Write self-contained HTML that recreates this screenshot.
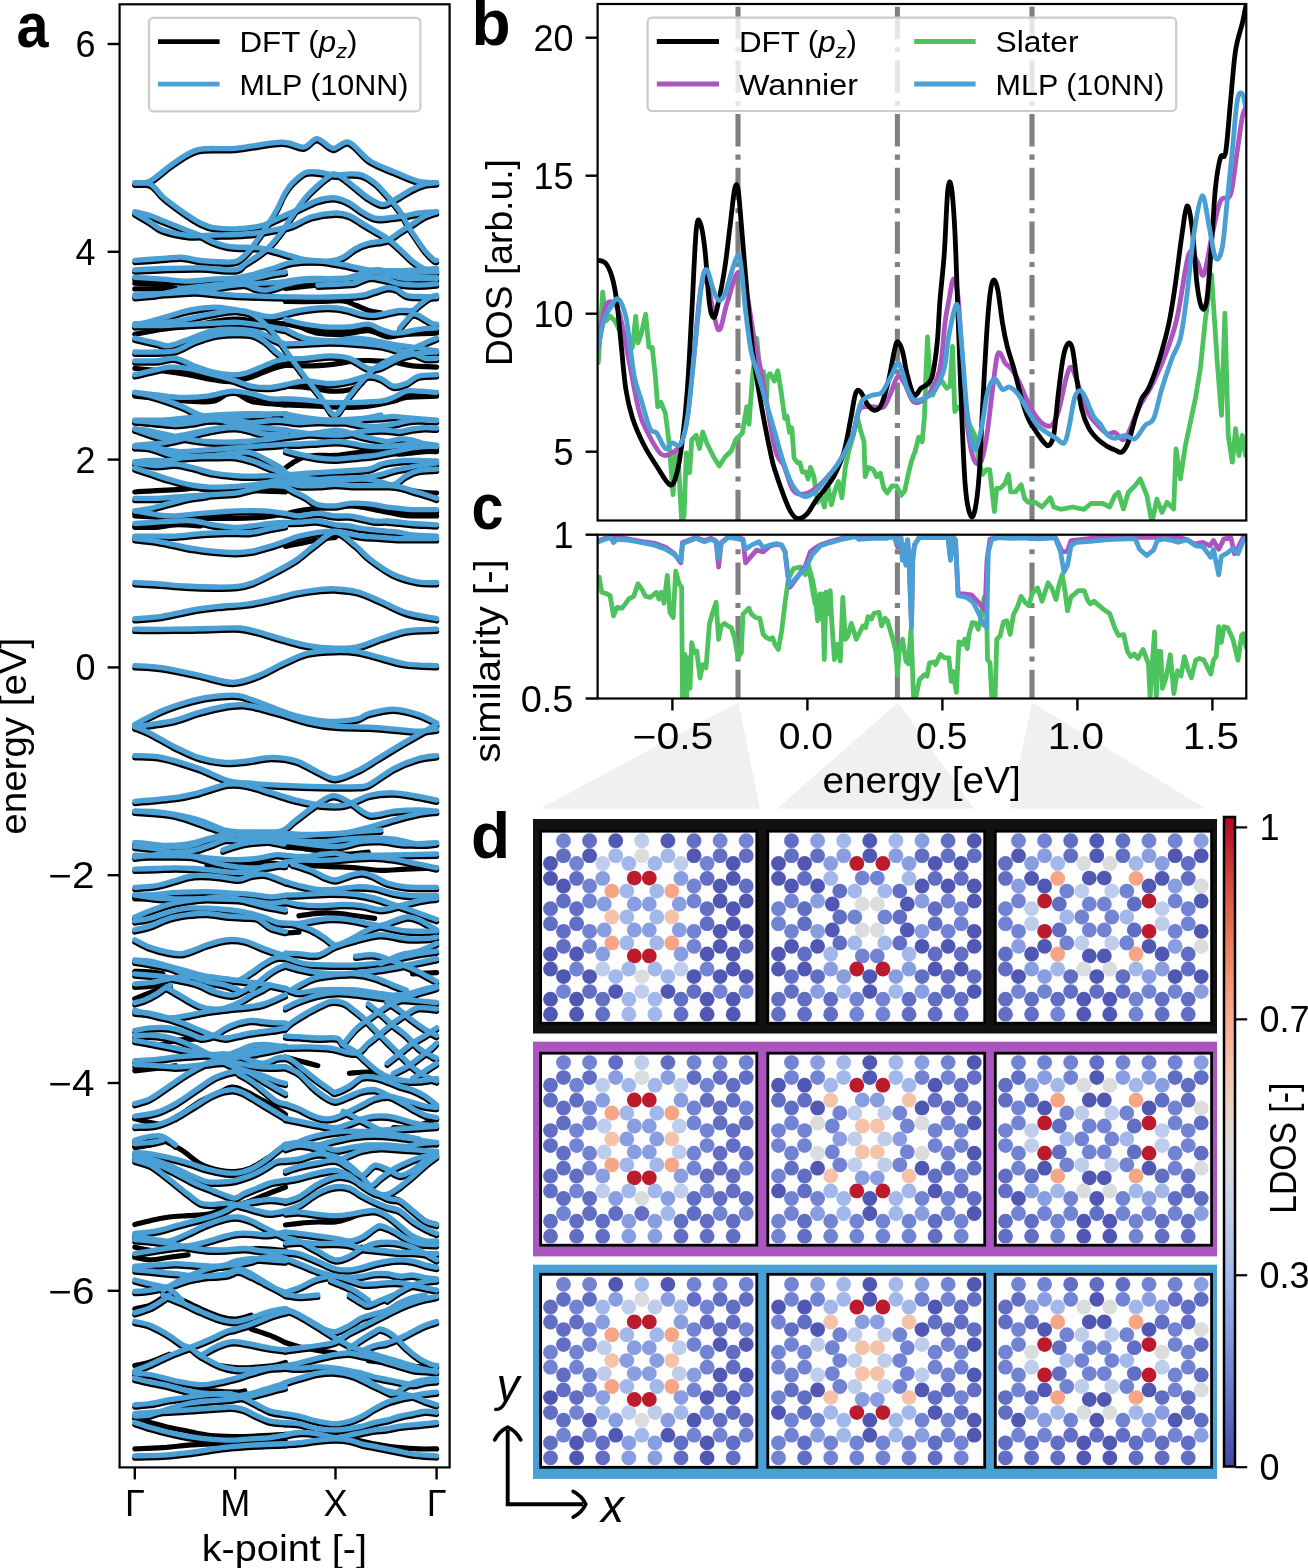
<!DOCTYPE html>
<html><head><meta charset="utf-8"><style>
html,body{margin:0;padding:0;background:#fff;}
svg{display:block;will-change:transform;}
text{font-family:"Liberation Sans", sans-serif;-webkit-font-smoothing:antialiased;}
</style></head><body>
<svg width="1308" height="1568" viewBox="0 0 1308 1568" font-family='"Liberation Sans", sans-serif'><polygon points="738.4,702.2 540.3,808.4 759.8,808.4" fill="#f0f0f0"/>
<polygon points="898.0,702.5 777.2,808.4 973.8,808.4" fill="#f0f0f0"/>
<polygon points="1032.0,702.5 1009.7,808.4 1205.6,808.4" fill="#f0f0f0"/>
<g clip-path="url(#clipA)" fill="none" stroke-linecap="round" stroke-linejoin="round">
<path d="M134.8,184.9 C137.2,184.7 143.0,187.0 149.5,183.7 C156.0,180.4 165.8,170.6 173.9,165.3 C182.1,160.0 188.2,154.3 198.4,151.9 C208.6,149.5 221.2,151.8 235.1,150.6 C249.0,149.4 270.2,144.7 281.6,144.5 C293.0,144.3 297.7,150.0 303.6,149.4 C309.5,148.8 312.1,140.7 317.0,140.9 C321.9,141.1 327.7,150.0 333.0,150.6 C338.3,151.2 342.8,142.4 348.9,144.5 C355.0,146.6 362.2,158.0 369.7,162.9 C377.2,167.8 386.0,170.4 394.1,173.9 C402.2,177.4 411.5,181.9 418.6,183.7 C425.7,185.5 433.7,184.7 436.7,184.9" stroke="#000" stroke-width="5.2"/>
<path d="M134.8,185.3 C137.4,185.5 145.5,184.0 150.2,186.3 C154.9,188.6 158.6,195.1 162.8,198.9 C167.0,202.7 171.3,205.8 175.5,209.0 C179.7,212.2 183.9,215.1 188.1,217.8 C192.3,220.5 196.5,223.4 200.7,225.4 C204.9,227.4 207.6,228.9 213.3,229.8 C219.1,230.8 228.9,231.1 235.2,231.1 C241.5,231.1 246.4,230.4 251.2,229.8 C256.0,229.2 259.6,228.7 263.8,227.3 C268.0,225.9 272.0,223.6 276.4,221.6 C280.8,219.6 286.2,217.0 290.0,215.3 C293.8,213.6 294.3,213.4 298.9,211.3 C303.5,209.2 311.7,204.6 317.8,202.7 C323.9,200.8 330.2,199.7 335.5,200.1 C340.8,200.5 345.0,202.9 349.4,205.2 C353.8,207.5 357.8,211.5 362.0,214.0 C366.2,216.5 370.4,219.2 374.6,220.3 C378.8,221.4 381.9,220.7 387.2,220.3 C392.5,219.9 400.9,218.6 406.2,217.8 C411.5,217.0 413.7,215.9 418.8,215.3 C423.9,214.7 433.6,214.2 436.6,214.0" stroke="#000" stroke-width="5.2"/>
<path d="M134.8,262.6 C139.5,262.3 155.0,261.2 162.8,260.7 C170.6,260.2 175.5,259.1 181.8,259.4 C188.1,259.8 193.5,262.0 200.7,262.8 C207.9,263.6 218.9,264.2 225.0,264.3 C231.1,264.4 233.7,264.5 237.0,263.3 C240.3,262.1 242.6,259.4 245.0,257.3 C247.4,255.2 248.1,254.7 251.2,250.6 C254.3,246.5 259.6,239.2 263.8,232.9 C268.0,226.6 272.9,219.1 276.4,212.8 C279.9,206.5 282.3,199.9 285.0,195.3 C287.7,190.7 289.2,188.4 292.6,185.0 C296.0,181.6 301.0,176.7 305.2,174.9 C309.4,173.1 312.8,173.9 317.8,174.3 C322.9,174.7 330.2,177.1 335.5,177.4 C340.8,177.7 345.0,176.2 349.4,176.2 C353.8,176.2 357.8,175.9 362.0,177.4 C366.2,178.9 370.8,182.1 374.6,185.0 C378.4,187.9 381.6,191.7 384.7,195.1 C387.8,198.5 390.8,201.8 393.5,205.2 C396.2,208.6 398.6,211.3 401.1,215.3 C403.6,219.3 406.2,225.0 408.7,229.2 C411.2,233.4 413.5,236.5 416.2,240.5 C418.9,244.5 422.2,249.5 425.1,253.1 C428.1,256.7 432.0,260.4 433.9,262.0 C435.8,263.6 436.2,262.5 436.6,262.6" stroke="#000" stroke-width="5.2"/>
<path d="M134.7,272.1 C139.4,271.9 151.8,271.1 162.8,270.8 C173.8,270.5 188.6,270.0 200.7,270.2 C212.8,270.4 227.8,272.8 235.2,272.1 C242.5,271.5 241.1,268.6 244.8,266.3 C248.5,264.0 253.3,261.2 257.5,258.2 C261.7,255.2 265.9,252.3 270.1,248.1 C274.3,243.9 279.4,237.3 282.7,232.9 C286.0,228.5 286.2,227.1 290.0,221.6 C293.8,216.1 300.6,205.8 305.2,200.1 C309.8,194.4 313.6,191.3 317.8,187.5 C322.0,183.7 327.6,179.3 330.5,177.4 C333.4,175.5 333.4,175.9 335.5,176.3 C337.6,176.7 339.7,177.7 343.1,180.0 C346.5,182.3 351.5,186.8 355.7,190.1 C359.9,193.5 364.1,197.4 368.3,200.1 C372.5,202.8 377.5,205.7 380.9,206.5 C384.3,207.3 385.4,206.5 388.5,205.2 C391.6,203.9 395.8,201.2 399.8,198.9 C403.8,196.6 408.3,193.4 412.5,191.3 C416.7,189.2 421.1,187.4 425.1,186.3 C429.1,185.2 434.7,185.2 436.6,185.0" stroke="#000" stroke-width="5.2"/>
<path d="M134.8,214.0 C137.4,214.6 145.5,216.3 150.2,217.8 C154.9,219.3 158.6,221.2 162.8,222.9 C167.0,224.6 171.3,226.2 175.5,227.9 C179.7,229.6 183.9,231.2 188.1,232.9 C192.3,234.6 196.5,236.1 200.7,238.0 C204.9,239.9 209.1,242.6 213.3,244.3 C217.5,246.0 222.2,247.3 225.9,248.1 C229.6,248.9 231.0,249.0 235.2,249.3 C239.4,249.6 246.4,249.6 251.2,249.8 C256.0,250.1 259.6,250.1 263.8,250.8 C268.0,251.5 272.0,252.6 276.4,253.8 C280.8,255.0 285.2,256.4 290.0,257.8 C294.8,259.2 298.4,261.1 305.2,262.0 C311.9,262.9 324.2,263.6 330.5,263.2 C336.8,262.8 338.9,261.5 343.1,259.4 C347.3,257.3 351.5,252.9 355.7,250.6 C359.9,248.3 363.1,247.0 368.3,245.6 C373.6,244.2 381.9,244.2 387.2,242.3 C392.4,240.4 395.6,237.0 399.8,234.3 C404.0,231.6 408.3,229.0 412.5,226.3 C416.7,223.6 421.0,220.3 425.0,218.3 C429.0,216.3 434.7,215.0 436.6,214.3" stroke="#000" stroke-width="5.2"/>
<path d="M134.8,215.3 C137.3,216.8 145.3,221.5 150.0,224.3 C154.7,227.1 156.5,230.1 162.8,232.3 C169.2,234.6 179.7,237.0 188.1,237.8 C196.5,238.6 205.5,237.5 213.3,237.3 C221.2,237.1 228.1,237.1 235.2,236.8 C242.3,236.5 249.1,236.2 256.0,235.3 C262.9,234.5 270.3,232.9 276.4,231.7 C282.5,230.5 286.8,230.0 292.6,227.9 C298.5,225.8 304.4,221.2 311.5,219.1 C318.6,217.0 329.2,215.5 335.5,215.3 C341.8,215.1 345.0,216.1 349.4,217.8 C353.8,219.5 357.8,222.9 362.0,225.4 C366.2,227.9 370.4,230.4 374.6,232.9 C378.8,235.4 383.0,237.4 387.2,240.5 C391.4,243.6 395.6,247.5 399.8,251.3 C404.0,255.1 408.3,260.0 412.5,263.3 C416.7,266.6 421.1,269.6 425.1,271.3 C429.1,273.0 434.7,273.0 436.6,273.3" stroke="#000" stroke-width="5.2"/>
<path d="M134.7,279.6 C139.4,279.9 153.9,280.9 162.8,281.5 C171.7,282.1 179.7,283.4 188.1,283.4 C196.5,283.4 205.5,282.0 213.3,281.5 C221.2,281.0 228.9,281.0 235.2,280.3 C241.5,279.6 246.4,278.3 251.2,277.1 C256.0,275.9 259.6,274.6 263.8,273.3 C268.0,272.0 271.6,271.0 276.4,269.5 C281.2,268.0 285.7,265.6 292.6,264.5 C299.5,263.4 309.4,262.8 317.8,263.2 C326.2,263.6 334.7,265.5 343.1,267.0 C351.5,268.5 359.9,271.1 368.3,272.1 C376.7,273.2 385.1,273.3 393.5,273.3 C401.9,273.3 411.6,272.5 418.8,272.1 C426.0,271.7 433.6,271.0 436.6,270.8" stroke="#000" stroke-width="5.2"/>
<path d="M134.7,297.3 C139.4,297.1 151.8,296.6 162.8,296.0 C173.8,295.4 190.2,294.8 200.7,293.5 C211.2,292.2 217.5,289.8 225.9,288.5 C234.3,287.2 242.8,286.5 251.2,285.9 C259.6,285.3 267.4,285.5 276.4,284.7 C285.4,283.9 296.2,281.5 305.2,280.9 C314.2,280.3 323.1,281.1 330.5,280.9 C337.9,280.7 343.1,280.9 349.4,279.6 C355.7,278.3 363.1,274.6 368.3,273.3 C373.6,272.1 376.7,271.3 380.9,272.1 C385.1,272.9 389.3,276.8 393.5,278.3 C397.7,279.8 402.0,280.5 406.2,280.9 C410.4,281.3 413.7,280.9 418.8,280.9 C423.9,280.9 433.6,280.9 436.6,280.9" stroke="#000" stroke-width="5.2"/>
<path d="M134.8,298.8 C138.5,298.5 149.1,298.0 156.5,296.9 C163.9,295.8 171.9,293.7 179.2,292.5 C186.6,291.2 192.9,290.4 200.7,289.3 C208.5,288.3 217.5,287.5 225.9,286.2 C234.3,284.8 243.8,282.7 251.2,281.1 C258.5,279.6 264.3,277.9 270.1,276.7 C275.8,275.6 282.9,274.7 285.5,274.3" stroke="#000" stroke-width="5.2"/>
<path d="M179.2,291.2 C182.8,291.7 192.9,293.4 200.7,294.4 C208.5,295.3 217.5,296.3 225.9,296.9 C234.3,297.5 241.2,297.8 251.2,298.2 C261.1,298.5 279.8,298.9 285.5,299.1" stroke="#000" stroke-width="5.2"/>
<path d="M179.2,291.2 C182.8,290.8 192.9,289.5 200.7,288.7 C208.5,287.9 218.6,286.5 225.9,286.2 C233.3,285.9 238.5,285.8 244.8,286.8 C251.2,287.9 257.0,292.5 263.8,292.5 C270.5,292.5 281.9,287.6 285.5,286.7" stroke="#000" stroke-width="5.2"/>
<path d="M134.8,327.8 C139.5,326.5 154.0,322.8 162.8,320.2 C171.7,317.7 179.7,314.5 188.1,312.7 C196.5,310.9 205.9,309.7 213.3,309.5 C220.7,309.3 225.9,310.5 232.2,311.4 C238.5,312.4 244.8,313.9 251.2,315.2 C257.5,316.5 264.3,318.9 270.1,319.0 C275.8,319.1 282.9,316.4 285.5,315.9" stroke="#000" stroke-width="5.2"/>
<path d="M134.8,327.8 C139.5,327.8 152.9,328.0 162.8,327.8 C172.8,327.6 184.9,327.0 194.4,326.5 C203.8,326.1 212.3,325.6 219.6,325.3 C227.0,325.0 231.2,324.2 238.5,324.7 C245.9,325.1 255.9,326.6 263.8,327.8 C271.6,329.0 281.9,331.1 285.5,331.7" stroke="#000" stroke-width="5.2"/>
<path d="M134.8,340.4 C138.5,341.3 150.8,344.2 156.5,345.5 C162.3,346.7 163.9,348.6 169.2,348.0 C174.4,347.4 180.7,344.2 188.1,341.7 C195.4,339.2 204.9,334.5 213.3,332.9 C221.7,331.2 231.2,331.4 238.5,331.6 C245.9,331.8 251.2,332.2 257.5,334.1 C263.8,336.0 271.7,340.9 276.4,342.9 C281.1,345.0 284.0,345.6 285.5,346.2" stroke="#000" stroke-width="5.2"/>
<path d="M134.8,354.3 C138.5,354.3 149.8,354.5 156.5,354.3 C163.3,354.1 169.2,354.7 175.5,353.0 C181.8,351.4 188.1,346.7 194.4,344.2 C200.7,341.7 207.0,339.3 213.3,337.9 C219.6,336.5 225.9,336.2 232.2,336.0 C238.5,335.8 245.9,335.5 251.2,336.6 C256.4,337.8 259.6,340.0 263.8,342.9 C268.0,345.9 272.8,351.3 276.4,354.3 C280.0,357.3 284.0,359.7 285.5,360.8" stroke="#000" stroke-width="5.2"/>
<path d="M134.8,363.1 C138.5,363.1 149.8,363.5 156.5,363.1 C163.3,362.7 169.2,359.8 175.5,360.6 C181.8,361.4 188.1,365.9 194.4,368.2 C200.7,370.5 207.0,373.0 213.3,374.5 C219.6,376.0 227.0,376.8 232.2,377.0 C237.5,377.2 239.6,377.2 244.8,375.7 C250.1,374.3 258.5,370.3 263.8,368.2 C269.0,366.1 272.8,364.3 276.4,363.1 C280.0,362.0 284.0,361.7 285.5,361.4" stroke="#000" stroke-width="5.2"/>
<path d="M134.8,377.0 C138.5,376.2 150.8,373.2 156.5,372.0 C162.3,370.7 163.9,369.6 169.2,369.4 C174.4,369.2 180.7,369.4 188.1,370.7 C195.4,372.0 205.9,375.1 213.3,377.0 C220.7,378.9 225.9,380.2 232.2,382.1 C238.5,383.9 244.8,387.1 251.2,388.4 C257.5,389.6 264.3,389.9 270.1,389.6 C275.8,389.4 282.9,387.4 285.5,387.0" stroke="#000" stroke-width="5.2"/>
<path d="M134.8,394.7 C138.5,395.1 148.7,396.3 156.5,397.2 C164.4,398.0 173.4,399.5 181.8,399.7 C190.2,399.9 198.6,399.5 207.0,398.5 C215.4,397.4 224.9,393.8 232.2,393.4 C239.6,393.0 244.8,394.7 251.2,395.9 C257.5,397.2 264.3,400.1 270.1,401.0 C275.8,401.8 282.9,401.1 285.5,401.1" stroke="#000" stroke-width="5.2"/>
<path d="M134.8,394.7 C138.5,395.5 148.7,397.4 156.5,399.7 C164.4,402.0 174.4,405.6 181.8,408.5 C189.1,411.5 193.3,414.9 200.7,417.4 C208.0,419.9 217.5,421.8 225.9,423.7 C234.3,425.6 242.7,427.5 251.2,428.7 C259.6,430.0 270.7,430.7 276.4,431.3 C282.1,431.8 284.0,431.8 285.5,431.9" stroke="#000" stroke-width="5.2"/>
<path d="M134.8,422.4 C139.5,422.4 154.0,422.8 162.8,422.4 C171.7,422.0 179.7,420.7 188.1,419.9 C196.5,419.1 204.9,418.0 213.3,417.4 C221.7,416.7 230.1,416.3 238.5,416.1 C246.9,415.9 255.9,416.1 263.8,416.1 C271.6,416.1 281.9,416.0 285.5,416.0" stroke="#000" stroke-width="5.2"/>
<path d="M285.5,286.7 C288.8,286.1 297.7,283.8 305.2,283.0 C312.7,282.2 323.1,282.2 330.5,281.8 C337.8,281.3 344.1,281.3 349.4,280.5 C354.6,279.7 357.8,277.8 362.0,276.7 C366.2,275.7 369.4,274.8 374.6,274.2 C379.9,273.6 387.2,272.9 393.5,272.9 C399.8,272.9 405.3,274.0 412.5,274.2 C419.6,274.4 432.5,274.2 436.6,274.2" stroke="#000" stroke-width="5.2"/>
<path d="M355.7,282.4 C357.8,281.9 363.0,279.2 368.3,279.2 C373.6,279.2 382.0,281.2 387.2,282.4 C392.5,283.5 394.6,285.3 399.8,286.2 C405.1,287.0 412.6,287.4 418.8,287.4 C424.9,287.4 433.6,286.4 436.6,286.2" stroke="#000" stroke-width="5.2"/>
<path d="M317.8,287.4 C322.1,287.2 336.8,286.6 343.1,286.2 C349.4,285.8 351.5,286.0 355.7,284.9 C359.9,283.9 363.0,280.9 368.3,279.9 C373.6,278.8 380.9,279.0 387.2,278.6 C393.5,278.2 400.9,277.2 406.2,277.3 C411.4,277.5 413.7,278.8 418.8,279.2 C423.8,279.7 433.6,279.8 436.6,279.9" stroke="#000" stroke-width="5.2"/>
<path d="M285.5,299.1 C290.9,299.1 308.2,299.5 317.8,299.4 C327.4,299.4 335.7,299.1 343.1,298.8 C350.4,298.5 356.7,298.4 362.0,297.5 C367.3,296.7 370.4,295.0 374.6,293.7 C378.8,292.5 383.7,290.4 387.2,290.0 C390.8,289.5 392.9,290.0 396.1,291.2 C399.2,292.5 402.4,296.3 406.2,297.5 C409.9,298.8 413.7,298.6 418.8,298.8 C423.8,299.0 433.6,298.8 436.6,298.8" stroke="#000" stroke-width="5.2"/>
<path d="M285.5,315.9 C287.7,315.4 293.5,313.6 298.9,312.7 C304.3,311.7 311.5,310.6 317.8,310.1 C324.2,309.7 331.5,309.7 336.8,310.1 C342.0,310.6 345.2,311.6 349.4,312.7 C353.6,313.7 357.8,315.6 362.0,316.5 C366.2,317.3 370.4,317.9 374.6,317.7 C378.8,317.5 383.0,316.0 387.2,315.2 C391.4,314.4 395.6,313.1 399.8,312.7 C404.0,312.2 409.3,313.5 412.5,312.7 C415.6,311.8 416.0,309.7 418.8,307.6 C421.5,305.5 425.9,301.7 428.9,300.1 C431.8,298.4 435.3,298.0 436.6,297.5" stroke="#000" stroke-width="5.2"/>
<path d="M285.5,321.7 C287.7,322.3 292.5,324.1 298.9,325.3 C305.4,326.5 315.7,328.4 324.2,329.1 C332.6,329.7 342.0,329.5 349.4,329.1 C356.7,328.6 363.0,326.1 368.3,326.5 C373.6,327.0 376.7,330.1 380.9,331.6 C385.1,333.1 389.3,335.0 393.5,335.4 C397.7,335.8 401.9,334.7 406.2,334.1 C410.4,333.5 413.7,332.2 418.8,331.6 C423.8,331.0 433.6,330.5 436.6,330.3" stroke="#000" stroke-width="5.2"/>
<path d="M399.8,330.3 C400.9,329.1 404.0,325.1 406.2,322.8 C408.3,320.4 410.4,317.3 412.5,316.5 C414.6,315.6 415.6,316.2 418.8,317.7 C421.9,319.2 428.4,323.8 431.4,325.3 C434.3,326.8 435.7,326.3 436.6,326.5" stroke="#000" stroke-width="5.2"/>
<path d="M285.5,331.7 C288.8,333.2 297.7,338.6 305.2,340.4 C312.7,342.3 322.1,342.9 330.5,342.9 C338.9,342.9 348.3,340.4 355.7,340.4 C363.0,340.4 368.3,341.9 374.6,342.9 C380.9,344.0 387.2,345.7 393.5,346.7 C399.8,347.8 405.3,348.2 412.5,349.3 C419.6,350.3 432.5,352.4 436.6,353.0" stroke="#000" stroke-width="5.2"/>
<path d="M285.5,346.2 C288.8,346.1 297.7,345.8 305.2,345.5 C312.7,345.1 322.1,344.2 330.5,344.2 C338.9,344.2 347.3,344.8 355.7,345.5 C364.1,346.1 373.6,346.7 380.9,348.0 C388.3,349.3 394.6,351.8 399.8,353.0 C405.1,354.3 408.3,354.3 412.5,355.6 C416.7,356.8 421.1,359.8 425.1,360.6 C429.1,361.4 434.6,360.6 436.6,360.6" stroke="#000" stroke-width="5.2"/>
<path d="M285.5,360.8 C288.8,360.8 297.7,361.1 305.2,360.6 C312.7,360.1 323.1,358.1 330.5,358.1 C337.8,358.1 343.1,358.5 349.4,360.6 C355.7,362.7 363.0,369.2 368.3,370.7 C373.6,372.2 376.7,370.7 380.9,369.4 C385.1,368.2 389.3,365.0 393.5,363.1 C397.7,361.2 401.9,359.3 406.2,358.1 C410.4,356.8 413.7,356.2 418.8,355.6 C423.8,354.9 433.6,354.5 436.6,354.3" stroke="#000" stroke-width="5.2"/>
<path d="M285.5,387.0 C288.8,386.4 297.7,383.5 305.2,383.3 C312.7,383.1 323.1,385.8 330.5,385.8 C337.8,385.8 343.1,384.6 349.4,383.3 C355.7,382.1 363.0,378.7 368.3,378.3 C373.6,377.8 376.7,379.1 380.9,380.8 C385.1,382.5 389.3,387.5 393.5,388.4 C397.7,389.2 401.9,387.5 406.2,385.8 C410.4,384.2 413.7,379.7 418.8,378.3 C423.8,376.8 433.6,377.2 436.6,377.0" stroke="#000" stroke-width="5.2"/>
<path d="M285.5,401.1 C288.8,401.3 297.7,401.6 305.2,402.2 C312.7,402.8 322.1,404.3 330.5,404.8 C338.9,405.2 347.3,405.0 355.7,404.8 C364.1,404.5 374.6,404.3 380.9,403.5 C387.2,402.7 389.3,401.4 393.5,399.7 C397.7,398.0 401.9,394.5 406.2,393.4 C410.4,392.4 413.7,393.2 418.8,393.4 C423.8,393.6 433.6,394.5 436.6,394.7" stroke="#000" stroke-width="5.2"/>
<path d="M285.5,416.0 C288.8,416.7 297.7,418.8 305.2,419.9 C312.7,421.0 322.1,422.2 330.5,422.4 C338.9,422.6 347.3,421.6 355.7,421.2 C364.1,420.7 374.6,420.3 380.9,419.9 C387.2,419.5 389.3,418.6 393.5,418.6 C397.7,418.6 399.0,419.3 406.2,419.9 C413.3,420.5 431.5,422.0 436.6,422.4" stroke="#000" stroke-width="5.2"/>
<path d="M134.8,423.0 C138.5,423.0 149.8,423.1 156.5,423.0 C163.3,422.9 169.2,422.7 175.5,422.3 C181.8,422.0 188.1,421.5 194.4,421.1 C200.7,420.7 207.0,420.2 213.3,419.8 C219.6,419.4 225.9,418.9 232.2,418.6 C238.5,418.2 244.8,418.1 251.2,417.9 C257.5,417.7 266.9,417.4 270.1,417.3" stroke="#000" stroke-width="5.2"/>
<path d="M134.8,423.0 C138.5,423.3 149.8,424.2 156.5,424.9 C163.3,425.5 169.2,426.8 175.5,426.8 C181.8,426.8 189.1,425.6 194.4,424.9 C199.6,424.1 201.7,422.8 207.0,422.3 C212.3,421.9 220.7,422.2 225.9,422.3 C231.2,422.5 234.3,422.6 238.5,423.0 C242.7,423.4 246.9,424.8 251.2,424.9 C255.4,425.0 259.6,424.0 263.8,423.6 C268.0,423.2 272.8,422.4 276.4,422.3 C280.0,422.3 284.0,423.0 285.5,423.2" stroke="#000" stroke-width="5.2"/>
<path d="M134.8,431.2 C137.4,431.5 144.5,432.0 150.2,433.1 C155.9,434.1 162.8,436.1 169.2,437.5 C175.5,438.9 181.8,440.2 188.1,441.3 C194.4,442.3 200.7,443.3 207.0,443.8 C213.3,444.3 219.6,444.4 225.9,444.4 C232.2,444.4 239.6,444.1 244.8,443.8 C250.1,443.5 253.3,443.0 257.5,442.5 C261.7,442.1 265.4,441.9 270.1,441.3 C274.7,440.7 282.9,439.3 285.5,438.8" stroke="#000" stroke-width="5.2"/>
<path d="M134.8,431.2 C139.5,432.6 155.0,439.0 162.8,440.0 C170.7,441.1 174.4,438.7 181.8,437.5 C189.1,436.2 198.6,433.9 207.0,432.4 C215.4,431.0 225.9,428.9 232.2,428.7 C238.5,428.4 239.6,429.9 244.8,431.2 C250.1,432.4 257.0,435.4 263.8,436.2 C270.5,437.1 281.9,436.2 285.5,436.2" stroke="#000" stroke-width="5.2"/>
<path d="M134.8,447.6 C137.4,447.4 145.6,446.7 150.2,446.3 C154.9,445.9 157.6,445.9 162.8,445.1 C168.1,444.2 175.5,443.0 181.8,441.3 C188.1,439.6 194.4,436.6 200.7,435.0 C207.0,433.3 213.9,432.0 219.6,431.2 C225.4,430.3 230.0,429.7 235.3,429.9 C240.5,430.1 245.3,431.2 251.2,432.4 C257.0,433.7 264.3,436.8 270.1,437.5 C275.8,438.2 282.9,436.7 285.5,436.5" stroke="#000" stroke-width="5.2"/>
<path d="M134.8,448.8 C137.4,448.8 145.6,448.4 150.2,448.8 C154.9,449.3 157.6,450.5 162.8,451.4 C168.1,452.2 175.5,453.7 181.8,453.9 C188.1,454.1 194.4,453.0 200.7,452.6 C207.0,452.2 213.9,451.8 219.6,451.4 C225.4,450.9 230.0,450.5 235.3,450.1 C240.5,449.7 245.3,449.3 251.2,448.8 C257.0,448.4 264.3,448.0 270.1,447.6 C275.8,447.2 282.9,446.6 285.5,446.4" stroke="#000" stroke-width="5.2"/>
<path d="M134.8,448.8 C137.4,449.0 144.5,448.8 150.2,450.1 C155.9,451.4 162.8,454.9 169.2,456.4 C175.5,457.9 180.7,458.7 188.1,458.9 C195.4,459.1 205.4,458.3 213.3,457.7 C221.2,457.0 228.9,455.6 235.3,455.1 C241.6,454.7 245.3,453.7 251.2,455.1 C257.0,456.6 264.8,461.2 270.1,464.0 C275.3,466.7 280.1,469.6 282.7,471.5 C285.3,473.4 285.0,474.8 285.5,475.4" stroke="#000" stroke-width="5.2"/>
<path d="M134.8,464.0 C137.4,463.8 144.5,462.9 150.2,462.7 C155.9,462.5 163.9,463.1 169.2,462.7 C174.4,462.3 176.5,460.8 181.8,460.2 C187.0,459.6 194.4,459.1 200.7,458.9 C207.0,458.7 213.9,458.9 219.6,458.9 C225.4,458.9 230.0,458.3 235.3,458.9 C240.5,459.6 245.3,460.8 251.2,462.7 C257.0,464.6 264.8,468.2 270.1,470.3 C275.3,472.4 280.1,473.8 282.7,475.3 C285.3,476.8 285.0,478.7 285.5,479.3" stroke="#000" stroke-width="5.2"/>
<path d="M134.8,465.2 C138.5,465.7 149.8,467.6 156.5,467.8 C163.3,468.0 169.2,466.1 175.5,466.5 C181.8,466.9 188.1,468.8 194.4,470.3 C200.7,471.8 206.5,474.1 213.3,475.3 C220.1,476.6 228.9,477.3 235.3,477.9 C241.6,478.4 245.3,478.5 251.2,478.5 C257.0,478.5 264.3,477.8 270.1,477.9 C275.8,477.9 282.9,478.7 285.5,478.8" stroke="#000" stroke-width="5.2"/>
<path d="M134.8,470.3 C137.4,471.1 144.5,473.4 150.2,475.3 C155.9,477.2 162.8,479.7 169.2,481.6 C175.5,483.5 181.8,485.4 188.1,486.7 C194.4,487.9 200.7,488.8 207.0,489.2 C213.3,489.6 219.6,489.4 225.9,489.2 C232.2,489.0 238.5,488.6 244.8,487.9 C251.2,487.3 258.5,486.3 263.8,485.4 C269.0,484.6 272.8,483.0 276.4,482.9 C280.0,482.8 284.0,484.3 285.5,484.6" stroke="#000" stroke-width="5.2"/>
<path d="M134.8,500.6 C138.5,500.6 149.8,500.8 156.5,500.6 C163.3,500.3 169.2,499.7 175.5,499.3 C181.8,498.9 188.1,498.5 194.4,498.0 C200.7,497.6 206.5,497.2 213.3,496.8 C220.1,496.4 228.9,496.4 235.3,495.5 C241.6,494.7 245.3,493.0 251.2,491.7 C257.0,490.5 264.3,488.5 270.1,487.9 C275.8,487.4 282.9,488.5 285.5,488.6" stroke="#000" stroke-width="5.2"/>
<path d="M134.8,513.2 C137.4,512.8 144.5,511.9 150.2,510.7 C155.9,509.4 162.8,507.3 169.2,505.6 C175.5,503.9 181.8,501.8 188.1,500.6 C194.4,499.3 203.8,498.5 207.0,498.0" stroke="#000" stroke-width="5.2"/>
<path d="M134.8,513.2 C138.5,513.8 149.8,516.1 156.5,517.0 C163.3,517.8 168.1,518.4 175.5,518.2 C182.8,518.0 190.7,516.5 200.7,515.7 C210.7,514.9 224.7,513.6 235.3,513.2 C245.8,512.8 255.4,512.8 263.8,513.2 C272.1,513.6 281.9,515.3 285.5,515.7" stroke="#000" stroke-width="5.2"/>
<path d="M134.8,525.8 C138.5,525.6 149.8,524.9 156.5,524.5 C163.3,524.1 169.2,523.5 175.5,523.3 C181.8,523.1 188.1,522.6 194.4,523.3 C200.7,523.9 206.5,526.0 213.3,527.1 C220.1,528.1 228.9,529.4 235.3,529.6 C241.6,529.8 245.3,528.9 251.2,528.3 C257.0,527.7 264.3,526.4 270.1,525.8 C275.8,525.2 282.9,524.8 285.5,524.6" stroke="#000" stroke-width="5.2"/>
<path d="M134.8,538.4 C138.5,538.4 149.8,538.4 156.5,538.4 C163.3,538.4 168.1,538.8 175.5,538.4 C182.8,538.0 192.3,536.5 200.7,535.9 C209.1,535.3 217.5,534.8 225.9,534.6 C234.3,534.4 243.8,535.3 251.2,534.6 C258.5,534.0 264.3,532.0 270.1,530.8 C275.8,529.7 282.9,528.4 285.5,527.9" stroke="#000" stroke-width="5.2"/>
<path d="M134.8,540.9 C138.5,541.3 149.8,542.4 156.5,543.5 C163.3,544.5 169.2,546.0 175.5,547.2 C181.8,548.5 188.1,550.0 194.4,551.0 C200.7,552.1 206.5,552.9 213.3,553.5 C220.1,554.2 228.9,554.8 235.3,554.8 C241.6,554.8 245.3,554.6 251.2,553.5 C257.0,552.5 264.3,550.2 270.1,548.5 C275.8,546.8 282.9,544.2 285.5,543.3" stroke="#000" stroke-width="5.2"/>
<path d="M285.5,420.6 C287.7,420.9 293.5,421.8 298.9,422.3 C304.3,422.9 311.7,423.3 317.8,423.6 C323.9,423.9 330.3,424.2 335.5,424.2 C340.8,424.2 345.0,424.1 349.4,423.6 C353.8,423.1 357.8,421.9 362.0,421.1 C366.2,420.2 371.5,419.2 374.6,418.6 C377.8,417.9 379.9,417.5 380.9,417.3" stroke="#000" stroke-width="5.2"/>
<path d="M285.5,423.2 C287.7,423.4 293.5,424.8 298.9,424.9 C304.3,424.9 311.7,424.0 317.8,423.6 C323.9,423.2 330.3,422.1 335.5,422.3 C340.8,422.6 345.0,424.0 349.4,424.9 C353.8,425.7 357.8,426.8 362.0,427.4 C366.2,428.0 370.4,428.7 374.6,428.7 C378.8,428.7 383.0,428.0 387.2,427.4 C391.4,426.8 395.6,425.7 399.8,424.9 C404.0,424.0 408.3,422.8 412.5,422.3 C416.7,421.9 421.1,422.2 425.1,422.3 C429.1,422.5 434.6,422.9 436.6,423.0" stroke="#000" stroke-width="5.2"/>
<path d="M285.5,431.9 C286.7,432.2 288.3,433.0 292.6,433.7 C297.0,434.4 304.4,435.6 311.5,436.2 C318.7,436.9 329.2,437.5 335.5,437.5 C341.8,437.5 345.0,436.9 349.4,436.2 C353.8,435.6 357.8,434.3 362.0,433.7 C366.2,433.1 370.4,432.6 374.6,432.4 C378.8,432.2 383.0,432.2 387.2,432.4 C391.4,432.6 395.6,433.9 399.8,433.7 C404.0,433.5 408.3,431.8 412.5,431.2 C416.7,430.5 421.1,430.0 425.1,429.9 C429.1,429.8 434.6,430.4 436.6,430.5" stroke="#000" stroke-width="5.2"/>
<path d="M285.5,438.8 C287.7,438.6 293.5,438.1 298.9,437.5 C304.3,436.8 311.7,435.8 317.8,435.0 C323.9,434.1 330.3,432.4 335.5,432.4 C340.8,432.4 345.0,433.9 349.4,435.0 C353.8,436.0 357.8,437.7 362.0,438.7 C366.2,439.8 370.4,440.4 374.6,441.3 C378.8,442.1 383.0,443.8 387.2,443.8 C391.4,443.8 395.6,441.5 399.8,441.3 C404.0,441.1 408.3,441.7 412.5,442.5 C416.7,443.4 421.1,445.5 425.1,446.3 C429.1,447.2 434.6,447.4 436.6,447.6" stroke="#000" stroke-width="5.2"/>
<path d="M285.5,446.4 C287.7,446.4 293.5,446.5 298.9,446.3 C304.3,446.1 311.7,445.5 317.8,445.1 C323.9,444.6 330.3,443.8 335.5,443.8 C340.8,443.8 345.0,444.4 349.4,445.1 C353.8,445.7 357.8,446.9 362.0,447.6 C366.2,448.2 370.4,448.6 374.6,448.8 C378.8,449.0 383.0,449.0 387.2,448.8 C391.4,448.6 395.6,448.0 399.8,447.6 C404.0,447.2 408.3,446.5 412.5,446.3 C416.7,446.1 421.1,446.1 425.1,446.3 C429.1,446.5 434.6,447.4 436.6,447.6" stroke="#000" stroke-width="5.2"/>
<path d="M285.5,452.8 C287.7,453.4 293.5,455.2 298.9,456.4 C304.3,457.6 311.7,459.4 317.8,460.2 C323.9,461.0 330.3,461.5 335.5,461.5 C340.8,461.5 345.0,460.6 349.4,460.2 C353.8,459.8 357.8,459.4 362.0,458.9 C366.2,458.5 370.4,458.3 374.6,457.7 C378.8,457.0 383.0,456.0 387.2,455.1 C391.4,454.3 395.6,453.5 399.8,452.6 C404.0,451.8 408.3,450.7 412.5,450.1 C416.7,449.5 421.1,449.0 425.1,448.8 C429.1,448.6 434.6,448.8 436.6,448.8" stroke="#000" stroke-width="5.2"/>
<path d="M292.6,476.6 C295.8,476.4 305.2,475.8 311.5,475.3 C317.8,474.9 324.2,474.5 330.5,474.1 C336.8,473.6 343.1,473.2 349.4,472.8 C355.7,472.4 363.0,472.6 368.3,471.5 C373.6,470.5 376.7,467.8 380.9,466.5 C385.1,465.2 389.3,464.6 393.5,464.0 C397.7,463.3 401.9,462.9 406.2,462.7 C410.4,462.5 413.7,462.6 418.8,462.7 C423.8,462.8 433.6,463.2 436.6,463.3" stroke="#000" stroke-width="5.2"/>
<path d="M285.5,475.4 C287.7,476.0 293.5,478.1 298.9,479.1 C304.3,480.2 311.7,481.4 317.8,481.6 C323.9,481.8 330.3,480.6 335.5,480.4 C340.8,480.2 343.9,480.6 349.4,480.4 C354.8,480.2 363.0,479.7 368.3,479.1 C373.6,478.5 376.7,477.6 380.9,476.6 C385.1,475.5 389.3,473.9 393.5,472.8 C397.7,471.8 401.9,471.1 406.2,470.3 C410.4,469.4 413.7,468.6 418.8,467.8 C423.8,466.9 433.6,465.7 436.6,465.2" stroke="#000" stroke-width="5.2"/>
<path d="M285.5,479.3 C287.7,480.1 293.5,483.4 298.9,484.2 C304.3,485.0 311.7,484.4 317.8,484.2 C323.9,483.9 329.2,483.3 335.5,482.9 C341.8,482.5 350.2,481.8 355.7,481.6 C361.2,481.4 364.1,481.2 368.3,481.6 C372.5,482.1 376.7,483.3 380.9,484.2 C385.1,485.0 389.3,487.7 393.5,486.7 C397.7,485.6 401.9,480.2 406.2,477.9 C410.4,475.5 413.7,473.9 418.8,472.8 C423.8,471.8 433.6,471.8 436.6,471.5" stroke="#000" stroke-width="5.2"/>
<path d="M285.5,484.6 C287.7,485.1 293.5,487.4 298.9,487.9 C304.3,488.5 311.7,488.2 317.8,487.9 C323.9,487.7 329.2,486.7 335.5,486.7 C341.8,486.7 349.2,487.7 355.7,487.9 C362.2,488.2 369.4,487.9 374.6,487.9 C379.9,487.9 383.0,487.7 387.2,487.9 C391.4,488.2 395.6,488.4 399.8,489.2 C404.0,490.0 408.3,491.7 412.5,493.0 C416.7,494.3 421.1,495.5 425.1,496.8 C429.1,498.0 434.6,499.9 436.6,500.6" stroke="#000" stroke-width="5.2"/>
<path d="M285.5,488.6 C286.7,489.4 289.3,491.2 292.6,493.0 C295.9,494.8 301.0,497.0 305.2,499.3 C309.4,501.6 312.8,505.4 317.8,506.9 C322.9,508.3 330.3,508.3 335.5,508.1 C340.8,507.9 345.0,506.0 349.4,505.6 C353.8,505.2 357.8,505.4 362.0,505.6 C366.2,505.8 370.4,506.2 374.6,506.9 C378.8,507.5 383.0,508.8 387.2,509.4 C391.4,510.0 395.6,510.2 399.8,510.7 C404.0,511.1 406.3,511.7 412.5,511.9 C418.6,512.1 432.5,511.9 436.6,511.9" stroke="#000" stroke-width="5.2"/>
<path d="M285.5,515.7 C287.7,516.1 293.5,518.2 298.9,518.2 C304.3,518.2 311.7,515.7 317.8,515.7 C323.9,515.7 330.3,517.8 335.5,518.2 C340.8,518.6 345.0,517.8 349.4,518.2 C353.8,518.6 357.8,519.9 362.0,520.7 C366.2,521.6 370.4,522.8 374.6,523.3 C378.8,523.7 383.0,523.1 387.2,523.3 C391.4,523.5 395.6,524.1 399.8,524.5 C404.0,524.9 406.3,525.4 412.5,525.8 C418.6,526.2 432.5,526.8 436.6,527.1" stroke="#000" stroke-width="5.2"/>
<path d="M285.5,524.6 C287.7,524.6 293.5,524.8 298.9,524.5 C304.3,524.3 311.7,522.8 317.8,523.3 C323.9,523.7 330.3,526.2 335.5,527.1 C340.8,527.9 345.0,527.7 349.4,528.3 C353.8,528.9 357.8,530.2 362.0,530.8 C366.2,531.5 370.4,531.7 374.6,532.1 C378.8,532.5 383.0,532.9 387.2,533.4 C391.4,533.8 395.6,534.0 399.8,534.6 C404.0,535.3 406.3,536.5 412.5,537.1 C418.6,537.8 432.5,538.2 436.6,538.4" stroke="#000" stroke-width="5.2"/>
<path d="M285.5,543.3 C287.7,542.5 293.5,539.8 298.9,538.4 C304.3,537.0 311.7,535.5 317.8,534.6 C323.9,533.8 330.3,533.1 335.5,533.4 C340.8,533.6 345.0,535.0 349.4,535.9 C353.8,536.7 356.7,537.8 362.0,538.4 C367.3,539.0 374.6,539.2 380.9,539.7 C387.2,540.1 393.5,540.7 399.8,540.9 C406.2,541.1 412.6,540.9 418.8,540.9 C424.9,540.9 433.6,540.9 436.6,540.9" stroke="#000" stroke-width="5.2"/>
<path d="M134.8,584.8 C139.0,585.0 151.6,585.7 160.0,586.3 C168.4,586.9 175.8,587.8 185.0,588.3 C194.2,588.8 206.2,589.2 215.0,589.3 C223.8,589.4 231.3,589.4 237.5,588.7 C243.7,588.0 246.2,587.4 252.0,585.3 C257.8,583.1 264.7,579.6 272.0,575.8 C279.3,572.0 288.8,567.0 296.0,562.3 C303.2,557.5 308.4,552.0 315.0,547.3 C321.6,542.6 328.7,534.3 335.4,534.3 C342.1,534.3 349.2,542.8 355.0,547.3 C360.8,551.8 363.5,556.3 370.0,561.3 C376.5,566.2 385.9,573.2 394.0,577.0 C402.1,580.8 411.5,583.0 418.6,584.3 C425.7,585.6 433.7,584.7 436.7,584.8" stroke="#000" stroke-width="5.2"/>
<path d="M134.8,621.0 C139.3,620.6 151.1,620.2 161.7,618.6 C172.3,616.9 188.2,612.9 198.4,611.2 C208.6,609.5 214.7,609.1 222.9,608.3 C231.0,607.5 239.2,607.5 247.3,606.3 C255.5,605.2 263.6,603.3 271.8,601.4 C279.9,599.6 288.1,597.0 296.3,595.3 C304.4,593.7 314.2,592.4 320.7,591.7 C327.2,591.0 329.3,590.8 335.4,591.2 C341.5,591.6 349.7,592.0 357.4,594.1 C365.2,596.2 373.7,600.4 381.9,603.9 C390.0,607.4 397.2,612.0 406.3,614.9 C415.5,617.8 431.6,620.0 436.7,621.0" stroke="#000" stroke-width="5.2"/>
<path d="M134.8,631.5 C141.3,631.5 161.3,631.7 173.9,631.5 C186.6,631.4 199.6,631.0 210.6,630.8 C221.6,630.6 231.8,629.7 240.0,630.3 C248.1,630.9 252.2,632.6 259.6,634.5 C266.9,636.4 275.9,639.6 284.0,641.8 C292.2,644.1 299.9,646.5 308.5,647.9 C317.0,649.4 327.2,650.2 335.4,650.4 C343.6,650.6 349.7,650.8 357.4,649.2 C365.2,647.5 373.7,643.2 381.9,640.6 C390.0,637.9 397.2,634.8 406.3,633.2 C415.5,631.7 431.6,631.8 436.7,631.5" stroke="#000" stroke-width="5.2"/>
<path d="M134.8,668.0 C139.3,668.3 151.1,668.4 161.7,669.9 C172.3,671.5 186.6,674.8 198.4,677.3 C210.2,679.7 222.5,684.6 232.6,684.6 C242.8,684.6 251.0,680.5 259.6,677.3 C268.1,674.0 275.9,668.7 284.0,665.1 C292.2,661.4 299.9,657.3 308.5,655.3 C317.0,653.2 327.2,653.0 335.4,652.8 C343.6,652.6 349.7,652.8 357.4,654.0 C365.2,655.3 373.7,658.1 381.9,660.2 C390.0,662.2 397.2,665.0 406.3,666.3 C415.5,667.6 431.6,667.7 436.7,668.0" stroke="#000" stroke-width="5.2"/>
<path d="M134.8,726.6 C139.3,724.3 153.1,716.8 161.7,713.1 C170.3,709.4 178.0,706.9 186.2,704.5 C194.3,702.2 202.1,700.3 210.6,699.2 C219.2,698.0 230.6,697.2 237.5,697.7 C244.5,698.2 246.5,700.1 252.2,702.1 C257.9,704.0 264.4,706.8 271.8,709.4 C279.1,712.1 288.1,715.7 296.3,718.0 C304.4,720.2 314.2,721.9 320.7,722.9 C327.2,723.8 329.3,723.9 335.4,723.6 C341.5,723.3 351.7,722.5 357.4,721.2 C363.1,719.8 363.5,717.2 369.6,715.5 C375.8,713.9 386.0,711.2 394.1,711.4 C402.3,711.6 411.5,714.4 418.6,716.8 C425.7,719.1 433.7,723.9 436.7,725.3" stroke="#000" stroke-width="5.2"/>
<path d="M134.8,729.0 C141.3,728.0 163.3,725.2 173.9,722.9 C184.5,720.5 190.2,717.1 198.4,714.8 C206.5,712.5 215.5,710.2 222.9,708.9 C230.2,707.6 235.9,706.7 242.4,707.0 C249.0,707.3 255.1,709.0 262.0,710.6 C268.9,712.3 276.3,714.5 284.0,716.8 C291.8,719.0 299.9,722.1 308.5,724.1 C317.0,726.1 325.2,727.6 335.4,728.5 C345.6,729.4 359.9,729.0 369.6,729.5 C379.4,730.0 386.0,730.8 394.1,731.4 C402.3,732.1 411.5,733.4 418.6,733.4 C425.7,733.4 433.7,731.8 436.7,731.4" stroke="#000" stroke-width="5.2"/>
<path d="M134.8,729.0 C137.2,730.0 142.9,731.9 149.5,735.1 C156.0,738.4 165.8,744.5 173.9,748.6 C182.1,752.6 190.2,756.9 198.4,759.6 C206.5,762.2 214.7,763.9 222.9,764.5 C231.0,765.1 239.2,764.1 247.3,763.2 C255.5,762.4 263.6,759.6 271.8,759.6 C279.9,759.6 288.1,760.6 296.3,763.2 C304.4,765.9 314.2,772.5 320.7,775.5 C327.2,778.4 329.3,781.3 335.4,780.9 C341.5,780.5 349.7,776.8 357.4,773.0 C365.2,769.3 373.7,763.2 381.9,758.4 C390.0,753.5 397.2,749.0 406.3,743.7 C415.5,738.4 431.6,729.4 436.7,726.6" stroke="#000" stroke-width="5.2"/>
<path d="M134.8,757.9 C139.3,758.2 151.1,757.5 161.7,759.6 C172.3,761.7 187.4,766.7 198.4,770.6 C209.4,774.5 219.6,780.4 227.8,782.8 C235.9,785.3 237.9,784.5 247.3,785.3 C256.7,786.1 271.8,787.1 284.0,787.7 C296.3,788.3 308.5,788.7 320.7,788.9 C333.0,789.1 349.3,789.3 357.4,788.9 C365.6,788.5 363.5,789.5 369.6,786.5 C375.8,783.4 386.0,774.9 394.1,770.6 C402.3,766.3 411.5,762.9 418.6,760.8 C425.7,758.7 433.7,758.4 436.7,757.9" stroke="#000" stroke-width="5.2"/>
<path d="M134.8,803.6 C141.3,803.0 163.3,801.4 173.9,799.9 C184.5,798.5 189.4,797.3 198.4,795.1 C207.4,792.8 219.6,787.7 227.8,786.5 C235.9,785.3 240.0,786.3 247.3,787.7 C254.7,789.1 263.6,792.6 271.8,795.1 C279.9,797.5 288.1,800.4 296.3,802.4 C304.4,804.4 312.6,806.5 320.7,807.3 C328.9,808.1 337.0,808.9 345.2,807.3 C353.3,805.7 361.5,799.5 369.6,797.5 C377.8,795.5 386.0,794.8 394.1,795.1 C402.3,795.3 411.5,797.5 418.6,798.7 C425.7,799.9 433.7,801.8 436.7,802.4" stroke="#000" stroke-width="5.2"/>
<path d="M134.8,813.4 C139.3,813.6 151.1,813.2 161.7,814.6 C172.3,816.1 187.4,818.9 198.4,822.0 C209.4,825.0 217.6,830.9 227.8,833.0 C237.9,835.0 250.6,834.2 259.6,834.2 C268.5,834.2 275.5,835.0 281.6,833.0 C287.7,830.9 290.5,826.2 296.3,822.0 C302.0,817.7 309.7,811.3 315.8,807.3 C321.9,803.3 327.2,798.4 333.0,798.0 C338.7,797.6 344.0,801.7 350.1,804.8 C356.2,808.0 362.3,815.6 369.6,817.1 C377.0,818.5 386.0,814.2 394.1,813.4 C402.3,812.6 411.5,812.2 418.6,812.2 C425.7,812.2 433.7,813.2 436.7,813.4" stroke="#000" stroke-width="5.2"/>
<path d="M134.8,813.4 C141.3,814.0 161.3,814.4 173.9,817.1 C186.6,819.7 200.4,826.0 210.6,829.3 C220.8,832.6 224.9,835.0 235.1,836.6 C245.3,838.3 257.5,839.1 271.8,839.1 C286.1,839.1 308.5,837.3 320.7,836.6 C333.0,836.0 337.0,836.6 345.2,835.4 C353.3,834.2 361.5,831.5 369.6,829.3 C377.8,827.1 386.0,824.2 394.1,822.0 C402.3,819.7 411.5,817.3 418.6,815.8 C425.7,814.4 433.7,813.8 436.7,813.4" stroke="#000" stroke-width="5.2"/>
<path d="M134.8,845.2 C139.3,845.6 153.1,847.4 161.7,847.7 C170.3,847.9 178.0,847.7 186.2,846.4 C194.3,845.2 203.7,841.9 210.6,840.3 C217.6,838.7 221.6,836.8 227.8,836.6 C233.9,836.4 237.9,837.5 247.3,839.1 C256.7,840.7 277.9,845.2 284.0,846.4" stroke="#000" stroke-width="5.2"/>
<path d="M222.9,852.3 C226.9,851.1 237.1,846.8 247.3,845.2 C257.5,843.6 271.8,843.0 284.0,842.8 C296.3,842.6 310.5,844.2 320.7,844.0 C330.9,843.8 337.0,842.1 345.2,841.5 C353.3,840.9 361.5,840.3 369.6,840.3 C377.8,840.3 386.0,840.5 394.1,841.5 C402.3,842.6 411.5,845.8 418.6,846.4 C425.7,847.0 433.7,845.4 436.7,845.2" stroke="#000" stroke-width="5.2"/>
<path d="M134.8,844.9 C137.4,845.1 144.5,845.5 150.2,846.2 C155.9,846.8 163.9,848.2 169.2,848.7 C174.4,849.2 177.6,849.6 181.8,849.3 C186.0,849.0 190.2,848.0 194.4,846.8 C198.6,845.7 202.8,843.8 207.0,842.4 C211.2,841.0 215.4,839.6 219.6,838.6 C223.8,837.7 227.0,837.1 232.2,836.7 C237.5,836.3 244.8,836.3 251.2,836.1 C257.5,835.9 264.3,835.5 270.1,835.5 C275.8,835.4 282.9,835.6 285.5,835.6" stroke="#000" stroke-width="5.2"/>
<path d="M134.8,848.7 C138.5,849.1 149.8,850.2 156.5,851.2 C163.3,852.3 169.2,854.8 175.5,855.0 C181.8,855.2 188.1,854.0 194.4,852.5 C200.7,851.0 208.0,848.0 213.3,846.2 C218.6,844.4 221.7,842.4 225.9,841.8 C230.1,841.1 232.2,842.3 238.5,842.4 C244.8,842.5 255.9,842.2 263.8,842.4 C271.6,842.6 281.9,843.6 285.5,843.8" stroke="#000" stroke-width="5.2"/>
<path d="M134.8,857.5 C138.5,857.6 149.8,858.1 156.5,858.2 C163.3,858.3 169.2,858.1 175.5,858.2 C181.8,858.3 188.1,858.4 194.4,858.8 C200.7,859.2 207.0,860.2 213.3,860.7 C219.6,861.2 225.9,861.8 232.2,861.9 C238.5,862.1 245.9,861.7 251.2,861.3 C256.4,860.9 259.6,860.2 263.8,859.4 C268.0,858.7 272.8,857.2 276.4,856.9 C280.0,856.6 284.0,857.5 285.5,857.6" stroke="#000" stroke-width="5.2"/>
<path d="M134.8,859.4 C138.5,859.0 149.8,857.4 156.5,856.9 C163.3,856.4 170.2,856.2 175.5,856.3 C180.7,856.4 182.8,856.5 188.1,857.5 C193.3,858.6 200.7,860.9 207.0,862.6 C213.3,864.3 218.6,866.4 225.9,867.6 C233.3,868.9 243.8,869.9 251.2,870.1 C258.5,870.4 264.3,869.9 270.1,868.9 C275.8,867.9 282.9,865.1 285.5,864.3" stroke="#000" stroke-width="5.2"/>
<path d="M134.8,871.4 C138.5,871.3 149.8,871.0 156.5,870.8 C163.3,870.6 169.2,870.1 175.5,870.1 C181.8,870.1 188.1,870.4 194.4,870.8 C200.7,871.2 207.0,872.0 213.3,872.7 C219.6,873.3 225.9,874.4 232.2,874.6 C238.5,874.8 245.9,874.9 251.2,873.9 C256.4,873.0 259.6,869.9 263.8,868.9 C268.0,867.8 272.8,867.8 276.4,867.6 C280.0,867.4 284.0,867.6 285.5,867.6" stroke="#000" stroke-width="5.2"/>
<path d="M134.8,889.7 C138.5,889.4 149.8,889.0 156.5,887.8 C163.3,886.7 170.2,884.2 175.5,882.8 C180.7,881.3 183.9,879.8 188.1,879.0 C192.3,878.1 195.4,877.7 200.7,877.7 C205.9,877.7 213.3,878.3 219.6,879.0 C225.9,879.6 233.3,881.7 238.5,881.5 C243.8,881.3 246.9,878.6 251.2,877.7 C255.4,876.9 259.6,876.0 263.8,876.5 C268.0,876.9 272.8,879.0 276.4,880.2 C280.0,881.5 284.0,883.3 285.5,883.9" stroke="#000" stroke-width="5.2"/>
<path d="M134.8,897.3 C138.5,897.2 149.8,897.1 156.5,896.6 C163.3,896.2 169.2,895.2 175.5,894.7 C181.8,894.3 188.1,894.2 194.4,894.1 C200.7,894.0 207.0,893.9 213.3,894.1 C219.6,894.3 225.9,895.0 232.2,895.4 C238.5,895.8 244.8,896.0 251.2,896.6 C257.5,897.3 264.3,899.0 270.1,899.2 C275.8,899.3 282.9,897.7 285.5,897.4" stroke="#000" stroke-width="5.2"/>
<path d="M134.8,897.3 C138.5,897.8 149.8,899.8 156.5,900.4 C163.3,901.1 169.2,900.9 175.5,901.1 C181.8,901.2 188.1,901.1 194.4,901.1 C200.7,901.1 207.0,900.9 213.3,901.1 C219.6,901.2 225.9,901.4 232.2,901.7 C238.5,902.0 244.8,902.3 251.2,902.9 C257.5,903.6 264.3,905.3 270.1,905.5 C275.8,905.6 282.9,904.1 285.5,903.8" stroke="#000" stroke-width="5.2"/>
<path d="M134.8,919.3 C137.4,918.3 144.5,915.1 150.2,913.0 C155.9,910.9 162.8,908.4 169.2,906.7 C175.5,905.0 181.8,904.0 188.1,902.9 C194.4,901.9 200.7,901.1 207.0,900.4 C213.3,899.8 219.6,898.7 225.9,899.2 C232.2,899.6 238.5,901.5 244.8,902.9 C251.2,904.4 257.0,906.5 263.8,908.0 C270.5,909.5 281.9,911.5 285.5,912.2" stroke="#000" stroke-width="5.2"/>
<path d="M134.8,923.1 C137.4,922.7 144.5,922.1 150.2,920.6 C155.9,919.1 162.8,916.0 169.2,914.3 C175.5,912.6 181.8,911.1 188.1,910.5 C194.4,909.9 200.7,910.3 207.0,910.5 C213.3,910.7 219.6,911.1 225.9,911.8 C232.2,912.4 238.5,913.0 244.8,914.3 C251.2,915.6 258.5,917.7 263.8,919.3 C269.0,921.0 272.8,923.4 276.4,924.4 C280.0,925.4 284.0,925.2 285.5,925.4" stroke="#000" stroke-width="5.2"/>
<path d="M134.8,932.0 C137.4,931.3 144.5,930.1 150.2,928.2 C155.9,926.3 162.8,922.5 169.2,920.6 C175.5,918.7 181.8,917.7 188.1,916.8 C194.4,916.0 200.7,915.3 207.0,915.6 C213.3,915.8 219.6,917.5 225.9,918.1 C232.2,918.7 239.6,918.9 244.8,919.3 C250.1,919.8 253.3,918.9 257.5,920.6 C261.7,922.3 265.9,927.3 270.1,929.4 C274.3,931.5 280.1,932.5 282.7,933.2 C285.3,933.9 285.0,933.6 285.5,933.7" stroke="#000" stroke-width="5.2"/>
<path d="M134.8,942.1 C137.4,943.3 144.5,947.5 150.2,949.6 C155.9,951.7 163.9,953.6 169.2,954.7 C174.4,955.7 177.6,956.3 181.8,955.9 C186.0,955.5 190.2,953.6 194.4,952.1 C198.6,950.7 201.7,948.8 207.0,947.1 C212.3,945.4 219.6,942.7 225.9,942.1 C232.2,941.4 238.5,941.8 244.8,943.3 C251.2,944.8 257.5,948.6 263.8,950.9 C270.1,953.2 279.1,956.4 282.7,957.2 C286.3,958.0 285.0,955.7 285.5,955.5" stroke="#000" stroke-width="5.2"/>
<path d="M134.8,962.2 C137.4,962.4 144.5,962.4 150.2,963.5 C155.9,964.5 162.8,966.9 169.2,968.5 C175.5,970.2 181.8,971.9 188.1,973.6 C194.4,975.3 200.7,977.4 207.0,978.6 C213.3,979.9 220.7,980.5 225.9,981.2 C231.2,981.8 234.3,983.5 238.5,982.4 C242.7,981.4 246.9,977.6 251.2,974.9 C255.4,972.1 259.6,968.5 263.8,966.0 C268.0,963.5 272.8,960.8 276.4,959.7 C280.0,958.7 284.0,959.7 285.5,959.7" stroke="#000" stroke-width="5.2"/>
<path d="M134.8,963.5 C137.4,963.9 144.5,965.0 150.2,966.0 C155.9,967.1 162.8,967.9 169.2,969.8 C175.5,971.7 181.8,975.1 188.1,977.4 C194.4,979.7 200.7,982.0 207.0,983.7 C213.3,985.4 220.7,986.0 225.9,987.5 C231.2,988.9 236.4,991.5 238.5,992.3" stroke="#000" stroke-width="5.2"/>
<path d="M134.8,976.1 C137.4,976.3 145.6,977.0 150.2,977.4 C154.9,977.8 158.6,978.0 162.8,978.6 C167.1,979.3 171.3,980.3 175.5,981.2 C179.7,982.0 183.9,982.6 188.1,983.7 C192.3,984.7 196.5,986.0 200.7,987.5 C204.9,988.9 211.2,991.5 213.3,992.3" stroke="#000" stroke-width="5.2"/>
<path d="M134.8,986.2 C137.4,986.0 145.6,985.6 150.2,984.9 C154.9,984.3 158.6,983.3 162.8,982.4 C167.1,981.6 171.3,980.5 175.5,979.9 C179.7,979.3 182.8,978.8 188.1,978.6 C193.3,978.4 200.7,978.2 207.0,978.6 C213.3,979.1 219.6,980.3 225.9,981.2 C232.2,982.0 238.5,982.8 244.8,983.7 C251.2,984.5 257.0,985.0 263.8,986.2 C270.5,987.4 281.9,989.9 285.5,990.7" stroke="#000" stroke-width="5.2"/>
<path d="M251.2,992.3 C253.3,990.2 259.6,983.4 263.8,979.9 C268.0,976.4 272.8,973.2 276.4,971.1 C280.0,968.9 284.0,967.8 285.5,967.2" stroke="#000" stroke-width="5.2"/>
<path d="M285.5,835.6 C288.8,835.8 297.7,836.6 305.2,836.7 C312.7,836.8 322.1,836.5 330.5,836.1 C338.9,835.7 347.3,834.8 355.7,834.2 C364.1,833.6 376.7,832.6 380.9,832.3" stroke="#000" stroke-width="5.2"/>
<path d="M285.5,843.8 C288.8,844.2 297.7,845.4 305.2,846.2 C312.7,847.0 324.2,848.4 330.5,848.7 C336.8,849.0 337.8,848.9 343.1,848.1 C348.3,847.2 355.7,844.5 362.0,843.7 C368.3,842.8 373.6,842.6 380.9,843.0 C388.3,843.4 396.9,845.9 406.2,846.2 C415.4,846.5 431.5,845.1 436.6,844.9" stroke="#000" stroke-width="5.2"/>
<path d="M285.5,857.6 C288.8,857.8 298.8,859.0 305.2,858.8 C311.7,858.6 318.9,856.8 324.2,856.3 C329.4,855.7 332.6,855.2 336.8,855.6 C341.0,856.1 345.2,858.5 349.4,858.8 C353.6,859.1 356.7,857.7 362.0,857.5 C367.3,857.3 373.6,857.6 380.9,857.5 C388.3,857.4 396.9,857.1 406.2,856.9 C415.4,856.7 431.5,856.4 436.6,856.3" stroke="#000" stroke-width="5.2"/>
<path d="M285.5,864.3 C287.7,864.1 293.5,862.9 298.9,862.6 C304.3,862.3 311.5,862.7 317.8,862.6 C324.2,862.5 330.5,862.4 336.8,861.9 C343.1,861.5 349.4,860.5 355.7,860.1 C362.0,859.6 368.3,859.2 374.6,859.4 C380.9,859.6 387.2,860.4 393.5,861.3 C399.8,862.3 405.3,863.6 412.5,865.1 C419.6,866.6 432.5,869.3 436.6,870.1" stroke="#000" stroke-width="5.2"/>
<path d="M292.6,866.4 C295.8,867.4 306.3,870.6 311.5,872.7 C316.8,874.8 320.2,877.4 324.2,879.0 C328.1,880.6 331.3,882.3 335.5,882.1 C339.7,881.9 345.0,878.9 349.4,877.7 C353.8,876.6 357.8,875.0 362.0,875.2 C366.2,875.4 370.4,877.3 374.6,879.0 C378.8,880.7 382.0,883.6 387.2,885.3 C392.5,887.0 397.9,888.3 406.2,889.1 C414.4,889.8 431.5,889.6 436.6,889.7" stroke="#000" stroke-width="5.2"/>
<path d="M285.5,883.9 C287.7,884.5 293.5,886.5 298.9,887.8 C304.3,889.1 311.7,891.0 317.8,891.6 C323.9,892.2 329.2,892.0 335.5,891.6 C341.8,891.2 349.2,889.3 355.7,889.1 C362.2,888.9 368.3,889.3 374.6,890.3 C380.9,891.4 387.2,894.1 393.5,895.4 C399.8,896.6 405.3,897.5 412.5,897.9 C419.6,898.3 432.5,897.9 436.6,897.9" stroke="#000" stroke-width="5.2"/>
<path d="M285.5,897.4 C288.8,897.3 297.7,897.0 305.2,896.6 C312.7,896.3 322.1,895.4 330.5,895.4 C338.9,895.4 348.3,895.8 355.7,896.6 C363.0,897.5 368.3,898.7 374.6,900.4 C380.9,902.1 387.2,904.6 393.5,906.7 C399.8,908.8 405.3,910.5 412.5,913.0 C419.6,915.6 432.5,920.4 436.6,921.9" stroke="#000" stroke-width="5.2"/>
<path d="M285.5,903.8 C287.7,904.3 293.5,906.0 298.9,906.7 C304.3,907.4 310.5,908.0 317.8,908.0 C325.2,908.0 335.7,906.7 343.1,906.7 C350.4,906.7 355.7,907.1 362.0,908.0 C368.3,908.8 374.6,911.8 380.9,911.8 C387.2,911.8 393.5,909.5 399.8,908.0 C406.2,906.5 412.6,904.2 418.8,902.9 C424.9,901.7 433.6,900.8 436.6,900.4" stroke="#000" stroke-width="5.2"/>
<path d="M285.5,925.4 C287.7,925.4 294.6,926.0 298.9,925.7 C303.3,925.3 306.3,924.0 311.5,923.1 C316.8,922.3 324.2,920.8 330.5,920.6 C336.8,920.4 343.1,921.0 349.4,921.9 C355.7,922.7 363.0,924.6 368.3,925.7 C373.6,926.7 374.6,926.9 380.9,928.2 C387.2,929.4 396.9,932.4 406.2,933.2 C415.4,934.1 431.5,933.2 436.6,933.2" stroke="#000" stroke-width="5.2"/>
<path d="M292.6,925.7 C295.8,926.7 306.3,929.6 311.5,932.0 C316.8,934.3 320.2,937.0 324.2,939.5 C328.1,942.1 331.3,946.7 335.5,947.1 C339.7,947.5 343.9,944.6 349.4,942.1 C354.8,939.5 362.0,934.7 368.3,932.0 C374.6,929.2 380.9,927.8 387.2,925.7 C393.5,923.5 400.9,920.0 406.2,919.3 C411.4,918.7 413.7,919.8 418.8,921.9 C423.8,924.0 433.6,930.3 436.6,932.0" stroke="#000" stroke-width="5.2"/>
<path d="M285.5,955.5 C287.7,955.5 293.5,955.6 298.9,955.9 C304.3,956.2 311.7,958.5 317.8,957.2 C323.9,955.9 329.2,950.9 335.5,948.4 C341.8,945.8 348.1,943.9 355.7,942.1 C363.3,940.2 372.5,937.2 380.9,937.0 C389.3,936.8 398.8,940.2 406.2,940.8 C413.5,941.4 420.0,941.0 425.1,940.8 C430.1,940.6 434.6,939.7 436.6,939.5" stroke="#000" stroke-width="5.2"/>
<path d="M285.5,959.7 C288.8,960.8 297.7,964.8 305.2,966.0 C312.7,967.3 322.1,967.1 330.5,967.3 C338.9,967.5 347.3,967.7 355.7,967.3 C364.1,966.9 372.5,966.2 380.9,964.8 C389.3,963.3 399.8,959.9 406.2,958.5 C412.5,957.0 413.7,956.8 418.8,955.9 C423.8,955.1 433.6,953.8 436.6,953.4" stroke="#000" stroke-width="5.2"/>
<path d="M285.5,967.2 C287.7,967.8 293.5,969.8 298.9,971.1 C304.3,972.3 310.5,974.0 317.8,974.9 C325.2,975.7 334.7,976.3 343.1,976.1 C351.5,975.9 359.9,974.6 368.3,973.6 C376.7,972.5 385.1,971.3 393.5,969.8 C401.9,968.3 411.6,966.2 418.8,964.8 C425.9,963.3 433.6,961.6 436.6,961.0" stroke="#000" stroke-width="5.2"/>
<path d="M292.6,991.3 C295.8,989.6 305.2,983.5 311.5,981.2 C317.8,978.8 323.1,978.2 330.5,977.4 C337.8,976.5 348.3,975.7 355.7,976.1 C363.0,976.5 368.3,978.0 374.6,979.9 C380.9,981.8 388.3,985.4 393.5,987.5 C398.8,989.5 404.0,991.5 406.2,992.3" stroke="#000" stroke-width="5.2"/>
<path d="M355.7,958.5 C358.8,958.2 368.3,956.3 374.6,957.2 C380.9,958.0 387.2,961.2 393.5,963.5 C399.8,965.8 407.2,968.8 412.5,971.1 C417.7,973.4 421.1,975.3 425.1,977.4 C429.1,979.5 434.6,982.6 436.6,983.7" stroke="#000" stroke-width="5.2"/>
<path d="M380.9,966.0 C384.1,964.5 393.5,959.3 399.8,957.2 C406.2,955.1 412.6,955.3 418.8,953.4 C424.9,951.5 433.6,947.1 436.6,945.8" stroke="#000" stroke-width="5.2"/>
<path d="M134.8,1005.0 C136.4,1004.5 140.3,1003.9 143.9,1002.4 C147.5,1001.0 153.0,998.2 156.5,996.1 C160.1,994.0 163.1,991.3 165.4,989.8 C167.7,988.4 169.6,987.7 170.4,987.3" stroke="#000" stroke-width="5.2"/>
<path d="M166.6,989.8 C168.1,990.7 171.9,992.8 175.5,994.9 C179.0,997.0 183.9,1000.1 188.1,1002.4 C192.3,1004.8 196.5,1007.3 200.7,1008.7 C204.9,1010.2 209.1,1011.1 213.3,1011.3 C217.5,1011.5 221.7,1011.1 225.9,1010.0 C230.1,1009.0 234.3,1007.1 238.5,1005.0 C242.7,1002.9 246.9,999.7 251.2,997.4 C255.4,995.1 260.6,992.8 263.8,991.1 C266.9,989.4 269.0,987.9 270.1,987.3" stroke="#000" stroke-width="5.2"/>
<path d="M200.7,987.3 C202.8,988.4 208.0,991.9 213.3,993.6 C218.6,995.3 227.0,997.6 232.2,997.4 C237.5,997.2 241.7,994.0 244.8,992.3 C248.0,990.7 250.1,988.1 251.2,987.3" stroke="#000" stroke-width="5.2"/>
<path d="M134.8,1012.5 C137.4,1013.2 144.5,1015.1 150.2,1016.3 C155.9,1017.6 162.8,1019.9 169.2,1020.1 C175.5,1020.3 181.8,1018.6 188.1,1017.6 C194.4,1016.5 200.7,1014.8 207.0,1013.8 C213.3,1012.7 220.7,1011.9 225.9,1011.3 C231.2,1010.6 234.3,1010.4 238.5,1010.0 C242.7,1009.6 246.9,1009.4 251.2,1008.7 C255.4,1008.1 259.6,1007.5 263.8,1006.2 C268.0,1005.0 272.8,1002.7 276.4,1001.2 C280.0,999.6 284.0,997.7 285.5,997.0" stroke="#000" stroke-width="5.2"/>
<path d="M134.8,1014.4 C137.4,1014.6 145.6,1014.9 150.2,1015.7 C154.9,1016.4 157.6,1017.3 162.8,1018.8 C168.1,1020.4 175.5,1022.8 181.8,1025.1 C188.1,1027.5 195.4,1030.6 200.7,1032.7 C205.9,1034.8 209.1,1036.5 213.3,1037.8 C217.5,1039.0 221.7,1040.3 225.9,1040.3 C230.1,1040.3 234.3,1038.6 238.5,1037.8 C242.7,1036.9 245.9,1036.1 251.2,1035.2 C256.4,1034.4 264.3,1033.6 270.1,1032.7 C275.8,1031.9 282.9,1030.5 285.5,1030.1" stroke="#000" stroke-width="5.2"/>
<path d="M134.8,1032.7 C137.4,1032.3 144.5,1030.6 150.2,1030.2 C155.9,1029.8 162.8,1029.4 169.2,1030.2 C175.5,1031.0 182.8,1033.6 188.1,1035.2 C193.3,1036.9 196.5,1039.9 200.7,1040.3 C204.9,1040.7 209.1,1039.4 213.3,1037.8 C217.5,1036.1 221.7,1032.3 225.9,1030.2 C230.1,1028.1 234.3,1026.4 238.5,1025.1 C242.7,1023.9 246.9,1022.8 251.2,1022.6 C255.4,1022.4 259.6,1023.5 263.8,1023.9 C268.0,1024.3 272.8,1024.9 276.4,1025.1 C280.0,1025.4 284.0,1025.1 285.5,1025.1" stroke="#000" stroke-width="5.2"/>
<path d="M134.8,1037.8 C138.5,1037.8 149.8,1037.1 156.5,1037.8 C163.3,1038.4 169.2,1039.7 175.5,1041.5 C181.8,1043.4 189.1,1046.8 194.4,1049.1 C199.6,1051.4 202.8,1053.7 207.0,1055.4 C211.2,1057.1 215.4,1058.4 219.6,1059.2 C223.8,1060.0 228.0,1060.7 232.2,1060.5 C236.4,1060.3 240.6,1058.8 244.8,1057.9 C249.0,1057.1 253.3,1056.3 257.5,1055.4 C261.7,1054.6 265.4,1053.9 270.1,1052.9 C274.7,1051.9 282.9,1050.1 285.5,1049.5" stroke="#000" stroke-width="5.2"/>
<path d="M134.8,1042.8 C138.5,1043.4 149.8,1045.3 156.5,1046.6 C163.3,1047.9 169.2,1049.1 175.5,1050.4 C181.8,1051.6 188.1,1052.9 194.4,1054.2 C200.7,1055.4 208.0,1057.3 213.3,1057.9 C218.6,1058.6 221.7,1058.4 225.9,1057.9 C230.1,1057.5 234.3,1056.3 238.5,1055.4 C242.7,1054.6 245.9,1053.7 251.2,1052.9 C256.4,1052.1 264.3,1051.1 270.1,1050.4 C275.8,1049.6 282.9,1048.7 285.5,1048.4" stroke="#000" stroke-width="5.2"/>
<path d="M134.8,1063.0 C138.5,1062.8 149.8,1062.4 156.5,1061.7 C163.3,1061.1 169.2,1059.8 175.5,1059.2 C181.8,1058.6 188.1,1058.4 194.4,1057.9 C200.7,1057.5 208.0,1057.0 213.3,1056.7 C218.6,1056.4 221.7,1055.8 225.9,1056.1 C230.1,1056.3 234.3,1056.8 238.5,1057.9 C242.7,1059.1 246.9,1061.7 251.2,1063.0 C255.4,1064.3 259.6,1065.9 263.8,1065.5 C268.0,1065.1 272.8,1061.5 276.4,1060.5 C280.0,1059.5 284.0,1059.6 285.5,1059.5" stroke="#000" stroke-width="5.2"/>
<path d="M134.8,1066.8 C138.5,1067.0 149.8,1067.6 156.5,1068.0 C163.3,1068.5 169.2,1069.3 175.5,1069.3 C181.8,1069.3 188.1,1068.7 194.4,1068.0 C200.7,1067.4 208.0,1066.1 213.3,1065.5 C218.6,1064.9 221.7,1064.3 225.9,1064.3 C230.1,1064.3 234.3,1064.9 238.5,1065.5 C242.7,1066.1 245.9,1067.4 251.2,1068.0 C256.4,1068.7 264.3,1069.2 270.1,1069.3 C275.8,1069.4 282.9,1068.9 285.5,1068.9" stroke="#000" stroke-width="5.2"/>
<path d="M134.8,1105.9 C137.4,1105.0 144.5,1103.8 150.2,1100.8 C155.9,1097.9 162.8,1092.4 169.2,1088.2 C175.5,1084.0 181.8,1079.4 188.1,1075.6 C194.4,1071.8 200.7,1068.5 207.0,1065.5 C213.3,1062.6 220.7,1060.0 225.9,1057.9 C231.2,1055.8 234.3,1054.6 238.5,1052.9 C242.7,1051.2 246.9,1048.9 251.2,1047.9 C255.4,1046.8 259.6,1046.6 263.8,1046.6 C268.0,1046.6 272.8,1047.5 276.4,1047.9 C280.0,1048.2 284.0,1048.6 285.5,1048.7" stroke="#000" stroke-width="5.2"/>
<path d="M134.8,1118.5 C138.5,1117.9 149.8,1116.8 156.5,1114.7 C163.3,1112.6 169.2,1109.5 175.5,1105.9 C181.8,1102.3 188.1,1097.5 194.4,1093.3 C200.7,1089.1 208.0,1083.6 213.3,1080.7 C218.6,1077.7 221.7,1076.9 225.9,1075.6 C230.1,1074.3 234.3,1073.3 238.5,1073.1 C242.7,1072.9 246.9,1073.5 251.2,1074.3 C255.4,1075.2 259.6,1076.7 263.8,1078.1 C268.0,1079.6 272.8,1081.9 276.4,1083.2 C280.0,1084.4 284.0,1085.3 285.5,1085.7" stroke="#000" stroke-width="5.2"/>
<path d="M134.8,1128.6 C138.5,1128.4 149.8,1128.8 156.5,1127.3 C163.3,1125.9 169.2,1122.9 175.5,1119.8 C181.8,1116.6 188.1,1112.2 194.4,1108.4 C200.7,1104.6 207.0,1099.8 213.3,1097.1 C219.6,1094.3 227.0,1092.2 232.2,1092.0 C237.5,1091.8 240.6,1093.9 244.8,1095.8 C249.0,1097.7 253.3,1100.8 257.5,1103.4 C261.7,1105.9 265.9,1108.4 270.1,1110.9 C274.3,1113.5 280.1,1116.9 282.7,1118.5 C285.3,1120.1 285.0,1120.3 285.5,1120.6" stroke="#000" stroke-width="5.2"/>
<path d="M134.8,1142.5 C137.4,1141.8 145.6,1139.3 150.2,1138.7 C154.9,1138.1 158.6,1137.3 162.8,1138.7 C167.1,1140.1 173.4,1145.8 175.5,1147.3" stroke="#000" stroke-width="5.2"/>
<path d="M238.5,1075.6 C240.6,1076.9 246.9,1080.2 251.2,1083.2 C255.4,1086.1 259.6,1089.9 263.8,1093.3 C268.0,1096.6 272.8,1101.2 276.4,1103.4 C280.0,1105.5 284.0,1105.7 285.5,1106.1" stroke="#000" stroke-width="5.2"/>
<path d="M213.3,1057.9 C215.4,1059.2 221.7,1063.4 225.9,1065.5 C230.1,1067.6 234.3,1068.9 238.5,1070.6 C242.7,1072.2 246.9,1073.5 251.2,1075.6 C255.4,1077.7 259.6,1080.7 263.8,1083.2 C268.0,1085.7 272.8,1088.6 276.4,1090.7 C280.0,1092.8 284.0,1095.0 285.5,1095.8" stroke="#000" stroke-width="5.2"/>
<path d="M285.5,990.7 C287.7,991.4 293.5,994.6 298.9,994.9 C304.3,995.1 311.5,992.9 317.8,992.3 C324.2,991.8 330.5,991.7 336.8,991.7 C343.1,991.7 349.4,991.8 355.7,992.3 C362.0,992.9 368.3,994.0 374.6,994.9 C380.9,995.7 387.2,997.4 393.5,997.4 C399.8,997.4 407.2,995.9 412.5,994.9 C417.7,993.8 421.1,992.1 425.1,991.1 C429.1,990.0 434.6,989.0 436.6,988.6" stroke="#000" stroke-width="5.2"/>
<path d="M285.5,1010.0 C287.7,1008.9 293.5,1005.8 298.9,1003.7 C304.3,1001.6 311.5,998.9 317.8,997.4 C324.2,995.9 330.5,995.1 336.8,994.9 C343.1,994.7 349.4,995.5 355.7,996.1 C362.0,996.8 368.3,997.8 374.6,998.7 C380.9,999.5 387.2,1000.5 393.5,1001.2 C399.8,1001.8 407.2,1002.0 412.5,1002.4 C417.7,1002.9 421.1,1003.3 425.1,1003.7 C429.1,1004.1 434.6,1004.8 436.6,1005.0" stroke="#000" stroke-width="5.2"/>
<path d="M285.5,1030.1 C286.7,1029.0 288.3,1026.8 292.6,1023.9 C297.0,1021.0 305.2,1015.9 311.5,1012.5 C317.8,1009.2 325.2,1005.0 330.5,1003.7 C335.7,1002.4 339.9,1004.1 343.1,1005.0 C346.2,1005.8 346.2,1006.4 349.4,1008.7 C352.5,1011.1 357.8,1015.1 362.0,1018.8 C366.2,1022.6 370.4,1027.2 374.6,1031.5 C378.8,1035.7 383.0,1039.9 387.2,1044.1 C391.4,1048.3 395.6,1052.5 399.8,1056.7 C404.0,1060.9 408.3,1065.7 412.5,1069.3 C416.7,1072.9 421.1,1075.8 425.1,1078.1 C429.1,1080.4 434.6,1082.3 436.6,1083.2" stroke="#000" stroke-width="5.2"/>
<path d="M368.3,1006.2 C370.4,1007.9 376.7,1012.7 380.9,1016.3 C385.1,1019.9 389.3,1024.1 393.5,1027.7 C397.7,1031.2 401.9,1034.0 406.2,1037.8 C410.4,1041.5 414.6,1047.0 418.8,1050.4 C423.0,1053.7 428.4,1056.3 431.4,1057.9 C434.3,1059.6 435.7,1060.0 436.6,1060.5" stroke="#000" stroke-width="5.2"/>
<path d="M387.2,1003.7 C389.3,1005.2 395.6,1009.4 399.8,1012.5 C404.0,1015.7 408.3,1019.5 412.5,1022.6 C416.7,1025.8 421.1,1028.9 425.1,1031.5 C429.1,1034.0 434.6,1036.7 436.6,1037.8" stroke="#000" stroke-width="5.2"/>
<path d="M285.5,1038.1 C287.7,1038.3 293.5,1038.7 298.9,1039.0 C304.3,1039.4 311.5,1040.1 317.8,1040.3 C324.2,1040.5 332.6,1039.2 336.8,1040.3 C341.0,1041.3 339.9,1044.3 343.1,1046.6 C346.2,1048.9 351.5,1051.0 355.7,1054.2 C359.9,1057.3 364.1,1061.9 368.3,1065.5 C372.5,1069.1 376.7,1073.1 380.9,1075.6 C385.1,1078.1 389.3,1079.4 393.5,1080.7 C397.7,1081.9 401.9,1082.8 406.2,1083.2 C410.4,1083.6 413.7,1083.6 418.8,1083.2 C423.8,1082.8 433.6,1081.1 436.6,1080.7" stroke="#000" stroke-width="5.2"/>
<path d="M343.1,1046.6 C345.2,1044.1 351.5,1035.7 355.7,1031.5 C359.9,1027.2 364.1,1024.5 368.3,1021.4 C372.5,1018.2 376.7,1015.3 380.9,1012.5 C385.1,1009.8 389.3,1007.1 393.5,1005.0 C397.7,1002.9 401.9,1001.6 406.2,999.9 C410.4,998.2 413.7,996.6 418.8,994.9 C423.8,993.2 433.6,990.7 436.6,989.8" stroke="#000" stroke-width="5.2"/>
<path d="M285.5,1049.5 C288.8,1049.5 297.7,1049.0 305.2,1049.1 C312.7,1049.3 322.1,1049.3 330.5,1050.4 C338.9,1051.4 349.4,1056.3 355.7,1055.4 C362.0,1054.6 364.1,1048.7 368.3,1045.3 C372.5,1042.0 376.7,1038.6 380.9,1035.2 C385.1,1031.9 389.3,1028.3 393.5,1025.1 C397.7,1022.0 401.9,1018.8 406.2,1016.3 C410.4,1013.8 413.7,1010.8 418.8,1010.0 C423.8,1009.2 433.6,1011.1 436.6,1011.3" stroke="#000" stroke-width="5.2"/>
<path d="M387.2,1065.5 C389.3,1063.8 395.6,1058.8 399.8,1055.4 C404.0,1052.1 408.3,1048.3 412.5,1045.3 C416.7,1042.4 421.1,1040.3 425.1,1037.8 C429.1,1035.2 434.6,1031.5 436.6,1030.2" stroke="#000" stroke-width="5.2"/>
<path d="M393.5,1075.6 C395.6,1074.6 401.9,1071.8 406.2,1069.3 C410.4,1066.8 414.6,1063.6 418.8,1060.5 C423.0,1057.3 428.4,1052.9 431.4,1050.4 C434.3,1047.9 435.7,1046.2 436.6,1045.3" stroke="#000" stroke-width="5.2"/>
<path d="M412.5,1080.7 C414.6,1079.4 421.1,1075.6 425.1,1073.1 C429.1,1070.6 434.6,1066.8 436.6,1065.5" stroke="#000" stroke-width="5.2"/>
<path d="M285.5,1059.5 C286.7,1060.0 289.3,1060.7 292.6,1063.0 C295.9,1065.3 301.0,1069.7 305.2,1073.1 C309.4,1076.4 313.6,1080.0 317.8,1083.2 C322.1,1086.3 327.5,1090.1 330.5,1092.0 C333.4,1093.9 332.4,1095.2 335.5,1094.5 C338.7,1093.9 345.0,1090.7 349.4,1088.2 C353.8,1085.7 357.8,1080.9 362.0,1079.4 C366.2,1077.9 370.4,1078.8 374.6,1079.4 C378.8,1080.0 383.0,1081.7 387.2,1083.2 C391.4,1084.6 395.6,1086.7 399.8,1088.2 C404.0,1089.7 408.3,1090.3 412.5,1092.0 C416.7,1093.7 421.1,1095.8 425.1,1098.3 C429.1,1100.8 434.6,1105.7 436.6,1107.1" stroke="#000" stroke-width="5.2"/>
<path d="M285.5,1068.9 C287.7,1070.0 294.6,1072.4 298.9,1075.6 C303.3,1078.8 307.3,1084.4 311.5,1088.2 C315.7,1092.0 320.2,1095.8 324.2,1098.3 C328.1,1100.8 331.3,1103.4 335.5,1103.4 C339.7,1103.4 345.0,1100.0 349.4,1098.3 C353.8,1096.6 357.8,1094.3 362.0,1093.3 C366.2,1092.2 370.4,1091.4 374.6,1092.0 C378.8,1092.6 383.0,1095.2 387.2,1097.1 C391.4,1098.9 395.6,1101.0 399.8,1103.4 C404.0,1105.7 408.3,1108.6 412.5,1110.9 C416.7,1113.2 421.1,1115.8 425.1,1117.2 C429.1,1118.7 434.6,1119.3 436.6,1119.8" stroke="#000" stroke-width="5.2"/>
<path d="M285.5,1106.1 C287.7,1106.9 294.6,1109.1 298.9,1110.9 C303.3,1112.8 307.3,1115.6 311.5,1117.2 C315.7,1118.9 320.2,1120.6 324.2,1121.0 C328.1,1121.4 331.3,1121.0 335.5,1119.8 C339.7,1118.5 345.0,1115.6 349.4,1113.5 C353.8,1111.3 357.8,1109.2 362.0,1107.1 C366.2,1105.0 370.4,1102.3 374.6,1100.8 C378.8,1099.4 383.0,1098.3 387.2,1098.3 C391.4,1098.3 395.6,1099.8 399.8,1100.8 C404.0,1101.9 408.3,1103.4 412.5,1104.6 C416.7,1105.9 421.1,1107.6 425.1,1108.4 C429.1,1109.2 434.6,1109.5 436.6,1109.7" stroke="#000" stroke-width="5.2"/>
<path d="M285.5,1120.6 C287.7,1121.1 293.5,1122.4 298.9,1123.5 C304.3,1124.7 311.7,1126.3 317.8,1127.3 C323.9,1128.4 330.3,1130.1 335.5,1129.9 C340.8,1129.6 345.0,1127.5 349.4,1126.1 C353.8,1124.6 357.8,1122.3 362.0,1121.0 C366.2,1119.8 370.4,1118.9 374.6,1118.5 C378.8,1118.1 383.0,1118.1 387.2,1118.5 C391.4,1118.9 395.6,1120.0 399.8,1121.0 C404.0,1122.1 408.3,1123.8 412.5,1124.8 C416.7,1125.9 421.1,1126.9 425.1,1127.3 C429.1,1127.7 434.6,1127.3 436.6,1127.3" stroke="#000" stroke-width="5.2"/>
<path d="M292.6,1147.3 C294.7,1146.3 300.0,1143.1 305.2,1141.2 C310.5,1139.4 317.8,1137.4 324.2,1136.2 C330.5,1134.9 336.8,1134.1 343.1,1133.6 C349.4,1133.2 355.7,1133.8 362.0,1133.6 C368.3,1133.4 374.6,1132.8 380.9,1132.4 C387.2,1132.0 393.5,1131.5 399.8,1131.1 C406.2,1130.7 412.6,1130.3 418.8,1129.9 C424.9,1129.4 433.6,1128.8 436.6,1128.6" stroke="#000" stroke-width="5.2"/>
<path d="M317.8,1147.3 C321.0,1146.5 330.5,1143.9 336.8,1142.5 C343.1,1141.0 349.4,1139.5 355.7,1138.7 C362.0,1137.8 368.3,1137.4 374.6,1137.4 C380.9,1137.4 387.2,1138.1 393.5,1138.7 C399.8,1139.3 405.3,1140.2 412.5,1141.2 C419.6,1142.3 432.5,1144.4 436.6,1145.0" stroke="#000" stroke-width="5.2"/>
<path d="M343.1,1113.5 C345.2,1114.5 351.5,1117.7 355.7,1119.8 C359.9,1121.9 364.1,1124.0 368.3,1126.1 C372.5,1128.2 376.7,1130.7 380.9,1132.4 C385.1,1134.1 389.3,1135.1 393.5,1136.2 C397.7,1137.2 401.9,1137.8 406.2,1138.7 C410.4,1139.5 416.7,1140.8 418.8,1141.2" stroke="#000" stroke-width="5.2"/>
<path d="M134.8,1146.1 C137.4,1145.9 145.6,1145.5 150.2,1144.8 C154.9,1144.2 160.7,1142.7 162.8,1142.3" stroke="#000" stroke-width="5.2"/>
<path d="M134.8,1154.9 C137.4,1155.1 144.5,1155.3 150.2,1156.2 C155.9,1157.0 162.8,1158.5 169.2,1160.0 C175.5,1161.4 181.8,1163.1 188.1,1165.0 C194.4,1166.9 200.7,1169.6 207.0,1171.3 C213.3,1173.0 220.7,1174.5 225.9,1175.1 C231.2,1175.7 234.3,1175.7 238.5,1175.1 C242.7,1174.5 246.9,1173.2 251.2,1171.3 C255.4,1169.4 259.6,1166.7 263.8,1163.7 C268.0,1160.8 272.8,1156.5 276.4,1153.7 C280.0,1150.8 284.0,1147.9 285.5,1146.7" stroke="#000" stroke-width="5.2"/>
<path d="M134.8,1158.7 C137.4,1159.1 144.5,1159.8 150.2,1161.2 C155.9,1162.7 162.8,1165.0 169.2,1167.5 C175.5,1170.1 181.8,1173.6 188.1,1176.4 C194.4,1179.1 200.7,1182.7 207.0,1183.9 C213.3,1185.2 221.2,1184.1 225.9,1183.9 C230.6,1183.7 231.1,1183.7 235.3,1182.7 C239.5,1181.6 246.4,1179.5 251.2,1177.6 C255.9,1175.7 259.6,1173.6 263.8,1171.3 C268.0,1169.0 272.8,1165.2 276.4,1163.7 C280.0,1162.3 284.0,1162.8 285.5,1162.6" stroke="#000" stroke-width="5.2"/>
<path d="M134.8,1160.0 C138.5,1161.0 149.8,1163.7 156.5,1166.3 C163.3,1168.8 169.2,1171.9 175.5,1175.1 C181.8,1178.3 188.1,1182.2 194.4,1185.2 C200.7,1188.1 208.0,1190.7 213.3,1192.8 C218.6,1194.9 222.3,1196.5 225.9,1197.8 C229.6,1199.1 232.1,1200.8 235.3,1200.3 C238.4,1199.9 241.1,1197.0 244.8,1195.3 C248.5,1193.6 253.3,1191.9 257.5,1190.2 C261.7,1188.6 265.4,1186.5 270.1,1185.2 C274.7,1183.9 282.9,1182.9 285.5,1182.5" stroke="#000" stroke-width="5.2"/>
<path d="M134.8,1162.5 C137.4,1163.3 145.6,1165.2 150.2,1167.5 C154.9,1169.8 158.6,1173.2 162.8,1176.4 C167.1,1179.5 171.3,1183.1 175.5,1186.5 C179.7,1189.8 183.9,1193.4 188.1,1196.5 C192.3,1199.7 196.5,1203.7 200.7,1205.4 C204.9,1207.1 209.1,1206.6 213.3,1206.6 C217.5,1206.6 222.3,1205.4 225.9,1205.4 C229.6,1205.4 232.1,1206.0 235.3,1206.6 C238.4,1207.3 241.1,1208.1 244.8,1209.2 C248.5,1210.2 253.3,1211.9 257.5,1212.9 C261.7,1214.0 265.4,1215.5 270.1,1215.5 C274.7,1215.5 282.9,1213.4 285.5,1212.9" stroke="#000" stroke-width="5.2"/>
<path d="M134.8,1235.7 C138.5,1235.2 149.8,1234.4 156.5,1233.1 C163.3,1231.9 169.2,1229.8 175.5,1228.1 C181.8,1226.4 188.1,1224.7 194.4,1223.0 C200.7,1221.4 208.0,1219.7 213.3,1218.0 C218.6,1216.3 222.3,1214.6 225.9,1212.9 C229.6,1211.3 231.1,1209.4 235.3,1207.9 C239.5,1206.4 245.3,1205.2 251.2,1204.1 C257.0,1203.1 264.3,1201.7 270.1,1201.6 C275.8,1201.5 282.9,1203.2 285.5,1203.5" stroke="#000" stroke-width="5.2"/>
<path d="M134.8,1238.2 C137.4,1238.6 144.5,1239.9 150.2,1240.7 C155.9,1241.5 162.8,1244.1 169.2,1243.2 C175.5,1242.4 181.8,1238.4 188.1,1235.7 C194.4,1232.9 200.7,1229.3 207.0,1226.8 C213.3,1224.3 220.7,1221.8 225.9,1220.5 C231.2,1219.3 234.3,1218.8 238.5,1219.3 C242.7,1219.7 246.9,1221.4 251.2,1223.0 C255.4,1224.7 259.6,1227.2 263.8,1229.3 C268.0,1231.4 272.8,1233.9 276.4,1235.7 C280.0,1237.4 284.0,1239.1 285.5,1239.8" stroke="#000" stroke-width="5.2"/>
<path d="M134.8,1242.0 C137.4,1242.2 144.5,1242.6 150.2,1243.2 C155.9,1243.9 162.8,1244.7 169.2,1245.7 C175.5,1246.8 181.8,1248.5 188.1,1249.5 C194.4,1250.6 200.7,1251.6 207.0,1252.1 C213.3,1252.5 219.6,1252.3 225.9,1252.1 C232.2,1251.8 238.5,1250.6 244.8,1250.8 C251.2,1251.0 257.0,1252.7 263.8,1253.3 C270.5,1253.9 281.9,1254.1 285.5,1254.2" stroke="#000" stroke-width="5.2"/>
<path d="M134.8,1255.8 C138.5,1255.2 149.8,1253.1 156.5,1252.1 C163.3,1251.0 169.2,1250.4 175.5,1249.5 C181.8,1248.7 188.1,1248.3 194.4,1247.0 C200.7,1245.7 208.0,1243.4 213.3,1242.0 C218.6,1240.5 221.7,1239.2 225.9,1238.2 C230.1,1237.1 234.3,1236.1 238.5,1235.7 C242.7,1235.2 246.9,1235.4 251.2,1235.7 C255.4,1235.9 259.6,1236.9 263.8,1236.9 C268.0,1236.9 272.8,1236.1 276.4,1235.7 C280.0,1235.2 284.0,1234.6 285.5,1234.3" stroke="#000" stroke-width="5.2"/>
<path d="M134.8,1268.5 C138.5,1268.2 149.8,1267.6 156.5,1267.2 C163.3,1266.8 169.2,1265.9 175.5,1265.9 C181.8,1265.9 188.1,1266.8 194.4,1267.2 C200.7,1267.6 207.0,1268.5 213.3,1268.5 C219.6,1268.5 225.9,1268.0 232.2,1267.2 C238.5,1266.3 245.9,1264.7 251.2,1263.4 C256.4,1262.1 259.6,1260.5 263.8,1259.6 C268.0,1258.8 272.8,1258.2 276.4,1258.4 C280.0,1258.6 284.0,1260.4 285.5,1260.8" stroke="#000" stroke-width="5.2"/>
<path d="M134.8,1272.2 C137.4,1272.4 143.5,1272.9 150.2,1273.5 C157.0,1274.1 167.1,1275.2 175.5,1276.0 C183.9,1276.9 192.3,1278.3 200.7,1278.5 C209.1,1278.8 219.6,1278.1 225.9,1277.3 C232.2,1276.4 234.3,1273.3 238.5,1273.5 C242.7,1273.7 246.9,1276.7 251.2,1278.5 C255.4,1280.4 259.6,1282.7 263.8,1284.9 C268.0,1287.0 272.8,1289.6 276.4,1291.2 C280.0,1292.8 284.0,1293.9 285.5,1294.5" stroke="#000" stroke-width="5.2"/>
<path d="M134.8,1282.3 C137.4,1283.0 144.5,1284.6 150.2,1286.1 C155.9,1287.6 163.9,1288.5 169.2,1291.2 C174.4,1293.8 179.7,1300.4 181.8,1302.3" stroke="#000" stroke-width="5.2"/>
<path d="M134.8,1293.7 C137.4,1293.5 144.5,1293.3 150.2,1292.4 C155.9,1291.6 162.8,1290.3 169.2,1288.6 C175.5,1287.0 181.8,1284.0 188.1,1282.3 C194.4,1280.6 200.7,1279.6 207.0,1278.5 C213.3,1277.5 220.7,1277.3 225.9,1276.0 C231.2,1274.8 234.3,1271.0 238.5,1271.0 C242.7,1271.0 246.9,1273.9 251.2,1276.0 C255.4,1278.1 259.6,1281.1 263.8,1283.6 C268.0,1286.1 272.8,1289.0 276.4,1291.2 C280.0,1293.3 284.0,1295.7 285.5,1296.6" stroke="#000" stroke-width="5.2"/>
<path d="M162.8,1292.4 C164.9,1291.2 171.3,1287.2 175.5,1284.9 C179.7,1282.5 183.9,1280.4 188.1,1278.5 C192.3,1276.7 196.5,1275.0 200.7,1273.5 C204.9,1272.0 209.1,1270.8 213.3,1269.7 C217.5,1268.7 222.3,1268.2 225.9,1267.2 C229.6,1266.1 231.1,1264.5 235.3,1263.4 C239.5,1262.4 245.3,1261.1 251.2,1260.9 C257.0,1260.7 264.3,1261.8 270.1,1262.1 C275.8,1262.5 282.9,1263.0 285.5,1263.1" stroke="#000" stroke-width="5.2"/>
<path d="M285.5,1146.7 C287.7,1146.4 293.5,1144.7 298.9,1144.8 C304.3,1144.9 311.7,1146.1 317.8,1147.3 C323.9,1148.6 330.3,1152.0 335.5,1152.4 C340.8,1152.8 343.9,1150.7 349.4,1149.9 C354.8,1149.0 362.0,1147.8 368.3,1147.3 C374.6,1146.9 380.9,1147.1 387.2,1147.3 C393.5,1147.6 400.9,1148.8 406.2,1148.6 C411.4,1148.4 413.7,1146.7 418.8,1146.1 C423.8,1145.5 433.6,1145.0 436.6,1144.8" stroke="#000" stroke-width="5.2"/>
<path d="M285.5,1150.9 C287.7,1150.3 293.5,1147.3 298.9,1147.3 C304.3,1147.4 311.7,1148.6 317.8,1151.1 C323.9,1153.7 330.3,1161.4 335.5,1162.5 C340.8,1163.5 345.0,1159.1 349.4,1157.4 C353.8,1155.8 356.7,1153.7 362.0,1152.4 C367.3,1151.1 374.6,1150.1 380.9,1149.9 C387.2,1149.7 393.5,1150.7 399.8,1151.1 C406.2,1151.6 412.6,1152.0 418.8,1152.4 C424.9,1152.8 433.6,1153.4 436.6,1153.7" stroke="#000" stroke-width="5.2"/>
<path d="M285.5,1162.6 C287.7,1162.4 293.5,1162.3 298.9,1161.2 C304.3,1160.2 311.7,1156.6 317.8,1156.2 C323.9,1155.8 330.3,1156.8 335.5,1158.7 C340.8,1160.6 345.0,1164.2 349.4,1167.5 C353.8,1170.9 358.4,1175.5 362.0,1178.9 C365.6,1182.2 367.7,1187.5 370.8,1187.7 C374.0,1187.9 377.1,1182.9 380.9,1180.1 C384.7,1177.4 389.3,1173.8 393.5,1171.3 C397.7,1168.8 401.9,1166.9 406.2,1165.0 C410.4,1163.1 413.7,1161.4 418.8,1160.0 C423.8,1158.5 433.6,1156.8 436.6,1156.2" stroke="#000" stroke-width="5.2"/>
<path d="M285.5,1173.3 C287.7,1172.5 293.5,1170.2 298.9,1168.8 C304.3,1167.4 311.7,1166.1 317.8,1165.0 C323.9,1164.0 330.3,1161.6 335.5,1162.5 C340.8,1163.3 345.0,1167.5 349.4,1170.1 C353.8,1172.6 357.8,1178.0 362.0,1177.6 C366.2,1177.2 370.4,1168.6 374.6,1167.5 C378.8,1166.5 383.0,1169.6 387.2,1171.3 C391.4,1173.0 395.6,1177.4 399.8,1177.6 C404.0,1177.8 408.3,1175.1 412.5,1172.6 C416.7,1170.1 421.1,1165.0 425.1,1162.5 C429.1,1160.0 434.6,1158.3 436.6,1157.4" stroke="#000" stroke-width="5.2"/>
<path d="M285.5,1182.5 C287.7,1182.1 293.5,1181.4 298.9,1180.1 C304.3,1178.9 311.7,1176.4 317.8,1175.1 C323.9,1173.8 330.3,1172.2 335.5,1172.6 C340.8,1173.0 345.0,1175.1 349.4,1177.6 C353.8,1180.1 357.8,1184.8 362.0,1187.7 C366.2,1190.7 370.4,1193.8 374.6,1195.3 C378.8,1196.8 383.0,1197.6 387.2,1196.5 C391.4,1195.5 395.6,1191.9 399.8,1189.0 C404.0,1186.0 408.3,1182.5 412.5,1178.9 C416.7,1175.3 421.1,1170.9 425.1,1167.5 C429.1,1164.2 434.6,1160.2 436.6,1158.7" stroke="#000" stroke-width="5.2"/>
<path d="M285.5,1203.5 C287.7,1202.8 293.5,1201.9 298.9,1199.1 C304.3,1196.2 311.7,1189.8 317.8,1186.5 C323.9,1183.1 330.3,1179.9 335.5,1178.9 C340.8,1177.8 343.9,1178.3 349.4,1180.1 C354.8,1182.0 362.0,1186.9 368.3,1190.2 C374.6,1193.6 382.0,1198.2 387.2,1200.3 C392.5,1202.4 395.6,1200.8 399.8,1202.9 C404.0,1205.0 408.3,1209.6 412.5,1212.9 C416.7,1216.3 421.1,1220.7 425.1,1223.0 C429.1,1225.3 434.6,1226.2 436.6,1226.8" stroke="#000" stroke-width="5.2"/>
<path d="M285.5,1212.9 C287.7,1212.1 293.5,1210.8 298.9,1207.9 C304.3,1205.0 311.7,1198.4 317.8,1195.3 C323.9,1192.1 330.3,1189.8 335.5,1189.0 C340.8,1188.1 345.0,1188.8 349.4,1190.2 C353.8,1191.7 357.8,1195.5 362.0,1197.8 C366.2,1200.1 370.4,1202.2 374.6,1204.1 C378.8,1206.0 383.0,1207.7 387.2,1209.2 C391.4,1210.6 395.6,1210.6 399.8,1212.9 C404.0,1215.3 408.3,1220.1 412.5,1223.0 C416.7,1226.0 421.1,1228.5 425.1,1230.6 C429.1,1232.7 434.6,1234.8 436.6,1235.7" stroke="#000" stroke-width="5.2"/>
<path d="M285.5,1215.1 C287.7,1215.0 293.5,1213.9 298.9,1214.2 C304.3,1214.5 311.7,1216.1 317.8,1216.7 C323.9,1217.4 330.3,1218.0 335.5,1218.0 C340.8,1218.0 345.0,1217.4 349.4,1216.7 C353.8,1216.1 357.8,1214.8 362.0,1214.2 C366.2,1213.6 370.4,1212.3 374.6,1212.9 C378.8,1213.6 383.0,1215.5 387.2,1218.0 C391.4,1220.5 395.6,1224.7 399.8,1228.1 C404.0,1231.4 408.3,1235.7 412.5,1238.2 C416.7,1240.7 421.1,1242.4 425.1,1243.2 C429.1,1244.1 434.6,1243.2 436.6,1243.2" stroke="#000" stroke-width="5.2"/>
<path d="M285.5,1234.3 C287.7,1234.6 293.5,1235.0 298.9,1235.7 C304.3,1236.3 311.7,1237.3 317.8,1238.2 C323.9,1239.0 330.3,1239.9 335.5,1240.7 C340.8,1241.5 345.0,1243.4 349.4,1243.2 C353.8,1243.0 357.8,1241.5 362.0,1239.4 C366.2,1237.3 371.5,1232.5 374.6,1230.6 C377.8,1228.7 377.8,1227.7 380.9,1228.1 C384.1,1228.5 389.3,1231.0 393.5,1233.1 C397.7,1235.2 401.9,1238.6 406.2,1240.7 C410.4,1242.8 413.7,1244.7 418.8,1245.7 C423.8,1246.8 433.6,1246.8 436.6,1247.0" stroke="#000" stroke-width="5.2"/>
<path d="M285.5,1245.4 C287.7,1245.2 293.5,1244.4 298.9,1244.5 C304.3,1244.5 311.7,1245.5 317.8,1245.7 C323.9,1246.0 330.3,1245.5 335.5,1245.7 C340.8,1246.0 345.0,1246.2 349.4,1247.0 C353.8,1247.8 357.8,1249.9 362.0,1250.8 C366.2,1251.6 370.4,1251.6 374.6,1252.1 C378.8,1252.5 383.0,1252.9 387.2,1253.3 C391.4,1253.7 395.6,1254.4 399.8,1254.6 C404.0,1254.8 408.3,1254.4 412.5,1254.6 C416.7,1254.8 421.1,1255.6 425.1,1255.8 C429.1,1256.0 434.6,1255.8 436.6,1255.8" stroke="#000" stroke-width="5.2"/>
<path d="M285.5,1239.8 C287.7,1240.4 293.5,1241.0 298.9,1243.2 C304.3,1245.5 311.7,1250.2 317.8,1253.3 C323.9,1256.5 330.3,1261.3 335.5,1262.1 C340.8,1263.0 345.0,1260.3 349.4,1258.4 C353.8,1256.5 357.8,1252.9 362.0,1250.8 C366.2,1248.7 370.4,1246.8 374.6,1245.7 C378.8,1244.7 383.0,1244.5 387.2,1244.5 C391.4,1244.5 395.6,1244.9 399.8,1245.7 C404.0,1246.6 408.3,1247.8 412.5,1249.5 C416.7,1251.2 421.1,1253.7 425.1,1255.8 C429.1,1257.9 434.6,1261.1 436.6,1262.1" stroke="#000" stroke-width="5.2"/>
<path d="M285.5,1254.2 C287.7,1254.5 293.5,1254.3 298.9,1255.8 C304.3,1257.4 311.7,1260.9 317.8,1263.4 C323.9,1265.9 330.3,1269.5 335.5,1271.0 C340.8,1272.4 345.0,1272.4 349.4,1272.2 C353.8,1272.0 357.8,1270.8 362.0,1269.7 C366.2,1268.7 370.4,1267.0 374.6,1265.9 C378.8,1264.9 383.0,1264.0 387.2,1263.4 C391.4,1262.8 395.6,1262.1 399.8,1262.1 C404.0,1262.1 408.3,1262.6 412.5,1263.4 C416.7,1264.2 421.1,1266.1 425.1,1267.2 C429.1,1268.2 434.6,1269.3 436.6,1269.7" stroke="#000" stroke-width="5.2"/>
<path d="M285.5,1260.8 C287.7,1261.7 293.5,1263.8 298.9,1265.9 C304.3,1268.0 311.7,1271.4 317.8,1273.5 C323.9,1275.6 330.3,1277.5 335.5,1278.5 C340.8,1279.6 345.0,1279.8 349.4,1279.8 C353.8,1279.8 357.8,1279.2 362.0,1278.5 C366.2,1277.9 370.4,1276.4 374.6,1276.0 C378.8,1275.6 383.0,1275.6 387.2,1276.0 C391.4,1276.4 395.6,1278.3 399.8,1278.5 C404.0,1278.8 408.3,1277.1 412.5,1277.3 C416.7,1277.5 421.1,1279.2 425.1,1279.8 C429.1,1280.4 434.6,1280.9 436.6,1281.1" stroke="#000" stroke-width="5.2"/>
<path d="M285.5,1294.5 C287.7,1293.7 293.5,1292.1 298.9,1289.9 C304.3,1287.7 311.7,1283.0 317.8,1281.1 C323.9,1279.2 330.3,1278.3 335.5,1278.5 C340.8,1278.8 345.0,1281.1 349.4,1282.3 C353.8,1283.6 357.8,1285.5 362.0,1286.1 C366.2,1286.7 370.4,1286.3 374.6,1286.1 C378.8,1285.9 383.0,1285.1 387.2,1284.9 C391.4,1284.6 395.6,1284.4 399.8,1284.9 C404.0,1285.3 408.3,1286.5 412.5,1287.4 C416.7,1288.2 421.1,1289.1 425.1,1289.9 C429.1,1290.7 434.6,1292.0 436.6,1292.4" stroke="#000" stroke-width="5.2"/>
<path d="M330.5,1282.3 C332.6,1283.2 338.9,1285.5 343.1,1287.4 C347.3,1289.3 351.5,1291.2 355.7,1293.7 C359.9,1296.2 366.2,1300.8 368.3,1302.3" stroke="#000" stroke-width="5.2"/>
<path d="M387.2,1302.3 C389.3,1300.8 395.6,1296.2 399.8,1293.7 C404.0,1291.2 408.3,1289.1 412.5,1287.4 C416.7,1285.7 421.1,1284.4 425.1,1283.6 C429.1,1282.7 434.6,1282.5 436.6,1282.3" stroke="#000" stroke-width="5.2"/>
<path d="M134.8,1315.0 C137.4,1314.1 145.6,1312.0 150.2,1309.9 C154.9,1307.8 159.7,1304.4 162.8,1302.3 C166.0,1300.2 168.1,1298.1 169.2,1297.3" stroke="#000" stroke-width="5.2"/>
<path d="M162.8,1297.3 C166.0,1298.6 175.5,1302.1 181.8,1304.9 C188.1,1307.6 194.4,1311.0 200.7,1313.7 C207.0,1316.4 213.9,1319.6 219.6,1321.3 C225.4,1323.0 230.0,1324.0 235.3,1323.8 C240.5,1323.6 245.3,1321.7 251.2,1320.0 C257.0,1318.3 264.3,1315.2 270.1,1313.7 C275.8,1312.2 282.9,1311.4 285.5,1311.0" stroke="#000" stroke-width="5.2"/>
<path d="M134.8,1323.8 C137.4,1324.4 144.5,1325.3 150.2,1327.6 C155.9,1329.9 163.9,1334.5 169.2,1337.7 C174.4,1340.8 178.2,1344.4 181.8,1346.5 C185.3,1348.6 187.4,1348.4 190.6,1350.3 C193.8,1352.2 195.9,1354.9 200.7,1357.9 C205.5,1360.8 213.9,1365.6 219.6,1367.9 C225.4,1370.3 230.0,1371.1 235.3,1371.7 C240.5,1372.4 244.3,1372.1 251.2,1371.7 C258.0,1371.3 270.7,1369.9 276.4,1369.2 C282.1,1368.6 284.0,1368.1 285.5,1367.8" stroke="#000" stroke-width="5.2"/>
<path d="M134.8,1373.0 C137.4,1371.9 144.5,1369.2 150.2,1366.7 C155.9,1364.2 162.8,1360.6 169.2,1357.9 C175.5,1355.1 181.8,1352.8 188.1,1350.3 C194.4,1347.8 200.7,1345.4 207.0,1342.7 C213.3,1340.0 221.2,1335.8 225.9,1333.9 C230.6,1332.0 231.1,1332.6 235.3,1331.4 C239.5,1330.1 245.3,1328.4 251.2,1326.3 C257.0,1324.2 264.3,1320.8 270.1,1318.7 C275.8,1316.7 282.9,1314.9 285.5,1314.1" stroke="#000" stroke-width="5.2"/>
<path d="M134.8,1375.5 C137.4,1375.7 143.5,1375.5 150.2,1376.8 C157.0,1378.0 167.1,1381.4 175.5,1383.1 C183.9,1384.8 193.3,1386.7 200.7,1386.9 C208.0,1387.1 213.9,1385.4 219.6,1384.3 C225.4,1383.3 230.0,1382.0 235.3,1380.6 C240.5,1379.1 245.3,1377.2 251.2,1375.5 C257.0,1373.8 264.3,1371.5 270.1,1370.5 C275.8,1369.5 282.9,1369.6 285.5,1369.4" stroke="#000" stroke-width="5.2"/>
<path d="M134.8,1380.6 C137.4,1381.2 144.5,1383.1 150.2,1384.3 C155.9,1385.6 162.8,1386.7 169.2,1388.1 C175.5,1389.6 181.8,1391.9 188.1,1393.2 C194.4,1394.4 200.7,1395.1 207.0,1395.7 C213.3,1396.3 221.2,1396.5 225.9,1397.0 C230.6,1397.4 231.1,1398.4 235.3,1398.2 C239.5,1398.0 246.4,1396.7 251.2,1395.7 C255.9,1394.6 259.6,1393.2 263.8,1391.9 C268.0,1390.7 272.8,1389.3 276.4,1388.1 C280.0,1387.0 284.0,1385.4 285.5,1384.9" stroke="#000" stroke-width="5.2"/>
<path d="M200.7,1357.9 C202.8,1356.6 209.1,1352.4 213.3,1350.3 C217.5,1348.2 222.3,1346.3 225.9,1345.2 C229.6,1344.2 231.1,1343.8 235.3,1344.0 C239.5,1344.2 245.3,1345.4 251.2,1346.5 C257.0,1347.6 264.3,1349.3 270.1,1350.3 C275.8,1351.2 282.9,1351.9 285.5,1352.2" stroke="#000" stroke-width="5.2"/>
<path d="M134.8,1407.1 C137.4,1406.8 144.5,1406.6 150.2,1405.8 C155.9,1404.9 162.8,1403.1 169.2,1402.0 C175.5,1401.0 181.8,1400.3 188.1,1399.5 C194.4,1398.6 200.7,1397.6 207.0,1397.0 C213.3,1396.3 221.2,1395.7 225.9,1395.7 C230.6,1395.7 232.1,1396.1 235.3,1397.0 C238.4,1397.8 241.1,1399.1 244.8,1400.7 C248.5,1402.4 253.3,1404.9 257.5,1407.1 C261.7,1409.2 265.4,1411.9 270.1,1413.4 C274.7,1414.9 282.9,1415.6 285.5,1416.0" stroke="#000" stroke-width="5.2"/>
<path d="M134.8,1415.9 C137.4,1415.7 144.5,1415.0 150.2,1414.6 C155.9,1414.2 162.8,1413.8 169.2,1413.4 C175.5,1412.9 181.8,1412.5 188.1,1412.1 C194.4,1411.7 200.7,1411.3 207.0,1410.8 C213.3,1410.4 221.2,1409.8 225.9,1409.6 C230.6,1409.4 232.1,1409.2 235.3,1409.6 C238.4,1410.0 241.1,1410.6 244.8,1412.1 C248.5,1413.6 253.3,1416.5 257.5,1418.4 C261.7,1420.3 265.4,1422.4 270.1,1423.5 C274.7,1424.5 282.9,1424.6 285.5,1424.9" stroke="#000" stroke-width="5.2"/>
<path d="M134.8,1418.4 C137.4,1418.2 144.5,1418.4 150.2,1417.1 C155.9,1415.9 162.8,1412.7 169.2,1410.8 C175.5,1408.9 181.8,1407.1 188.1,1405.8 C194.4,1404.5 200.7,1403.9 207.0,1403.3 C213.3,1402.6 221.2,1402.4 225.9,1402.0 C230.6,1401.6 231.1,1401.4 235.3,1400.7 C239.5,1400.1 245.3,1399.5 251.2,1398.2 C257.0,1397.0 264.3,1394.7 270.1,1393.2 C275.8,1391.7 282.9,1389.9 285.5,1389.3" stroke="#000" stroke-width="5.2"/>
<path d="M134.8,1424.7 C137.4,1425.6 144.5,1428.1 150.2,1429.8 C155.9,1431.4 162.8,1433.3 169.2,1434.8 C175.5,1436.3 181.8,1437.5 188.1,1438.6 C194.4,1439.6 200.7,1440.5 207.0,1441.1 C213.3,1441.7 221.2,1442.2 225.9,1442.4 C230.6,1442.6 231.1,1442.6 235.3,1442.4 C239.5,1442.2 245.3,1441.5 251.2,1441.1 C257.0,1440.7 264.3,1440.5 270.1,1439.9 C275.8,1439.2 282.9,1437.7 285.5,1437.3" stroke="#000" stroke-width="5.2"/>
<path d="M134.8,1458.1 C139.5,1458.0 154.0,1458.0 162.8,1457.5 C171.7,1457.0 179.7,1456.0 188.1,1455.0 C196.5,1453.9 205.4,1452.3 213.3,1451.2 C221.2,1450.2 226.8,1449.4 235.3,1448.7 C243.7,1447.9 255.4,1447.2 263.8,1446.8 C272.1,1446.3 281.9,1446.1 285.5,1446.0" stroke="#000" stroke-width="5.2"/>
<path d="M285.5,1296.6 C287.7,1296.9 293.5,1298.4 298.9,1298.6 C304.3,1298.7 314.7,1297.5 317.8,1297.3" stroke="#000" stroke-width="5.2"/>
<path d="M349.4,1297.3 C351.5,1298.6 358.8,1303.2 362.0,1304.9 C365.2,1306.6 365.2,1307.8 368.3,1307.4 C371.5,1307.0 376.7,1304.0 380.9,1302.3 C385.1,1300.7 391.4,1298.1 393.5,1297.3" stroke="#000" stroke-width="5.2"/>
<path d="M285.5,1314.1 C286.7,1314.1 288.3,1312.1 292.6,1313.7 C297.0,1315.3 306.3,1320.8 311.5,1323.8 C316.8,1326.7 320.2,1329.7 324.2,1331.4 C328.1,1333.0 331.3,1334.5 335.5,1333.9 C339.7,1333.3 345.0,1329.9 349.4,1327.6 C353.8,1325.3 357.8,1321.9 362.0,1320.0 C366.2,1318.1 370.4,1317.5 374.6,1316.2 C378.8,1315.0 383.0,1314.3 387.2,1312.4 C391.4,1310.5 395.6,1307.0 399.8,1304.9 C404.0,1302.8 408.3,1301.1 412.5,1299.8 C416.7,1298.6 423.0,1297.7 425.1,1297.3" stroke="#000" stroke-width="5.2"/>
<path d="M285.5,1352.2 C287.7,1351.9 293.5,1351.0 298.9,1350.3 C304.3,1349.5 311.7,1348.8 317.8,1347.8 C323.9,1346.7 330.3,1346.1 335.5,1344.0 C340.8,1341.9 345.0,1337.7 349.4,1335.1 C353.8,1332.6 357.8,1330.9 362.0,1328.8 C366.2,1326.7 370.4,1324.6 374.6,1322.5 C378.8,1320.4 383.0,1318.3 387.2,1316.2 C391.4,1314.1 395.6,1311.8 399.8,1309.9 C404.0,1308.0 408.3,1306.3 412.5,1304.9 C416.7,1303.4 421.1,1302.1 425.1,1301.1 C429.1,1300.0 434.6,1299.0 436.6,1298.6" stroke="#000" stroke-width="5.2"/>
<path d="M285.5,1311.0 C287.7,1312.0 293.5,1314.5 298.9,1317.5 C304.3,1320.5 311.7,1325.1 317.8,1328.8 C323.9,1332.6 330.3,1337.0 335.5,1340.2 C340.8,1343.3 345.0,1345.7 349.4,1347.8 C353.8,1349.9 357.8,1351.3 362.0,1352.8 C366.2,1354.3 370.4,1355.3 374.6,1356.6 C378.8,1357.9 383.0,1359.1 387.2,1360.4 C391.4,1361.6 395.6,1362.9 399.8,1364.2 C404.0,1365.4 408.3,1366.7 412.5,1367.9 C416.7,1369.2 421.1,1370.7 425.1,1371.7 C429.1,1372.8 434.6,1373.8 436.6,1374.3" stroke="#000" stroke-width="5.2"/>
<path d="M285.5,1367.8 C287.7,1367.4 293.5,1366.7 298.9,1365.4 C304.3,1364.2 311.7,1361.8 317.8,1360.4 C323.9,1358.9 330.3,1357.4 335.5,1356.6 C340.8,1355.8 345.0,1355.1 349.4,1355.3 C353.8,1355.5 357.8,1357.0 362.0,1357.9 C366.2,1358.7 370.4,1359.3 374.6,1360.4 C378.8,1361.4 383.0,1362.9 387.2,1364.2 C391.4,1365.4 395.6,1366.7 399.8,1367.9 C404.0,1369.2 408.3,1370.9 412.5,1371.7 C416.7,1372.6 421.1,1372.8 425.1,1373.0 C429.1,1373.2 434.6,1373.0 436.6,1373.0" stroke="#000" stroke-width="5.2"/>
<path d="M349.4,1350.3 C351.5,1348.8 357.8,1344.2 362.0,1341.5 C366.2,1338.7 371.5,1335.6 374.6,1333.9 C377.8,1332.2 377.8,1330.7 380.9,1331.4 C384.1,1332.0 389.3,1334.5 393.5,1337.7 C397.7,1340.8 401.9,1346.5 406.2,1350.3 C410.4,1354.1 414.6,1357.6 418.8,1360.4 C423.0,1363.1 428.4,1365.4 431.4,1366.7 C434.3,1367.9 435.7,1367.7 436.6,1367.9" stroke="#000" stroke-width="5.2"/>
<path d="M362.0,1352.8 C364.1,1352.0 370.4,1349.0 374.6,1347.8 C378.8,1346.5 383.0,1346.5 387.2,1345.2 C391.4,1344.0 395.6,1342.1 399.8,1340.2 C404.0,1338.3 408.3,1336.0 412.5,1333.9 C416.7,1331.8 421.1,1329.3 425.1,1327.6 C429.1,1325.9 434.6,1324.4 436.6,1323.8" stroke="#000" stroke-width="5.2"/>
<path d="M285.5,1384.9 C287.7,1384.1 293.5,1382.1 298.9,1380.6 C304.3,1379.0 311.7,1376.6 317.8,1375.5 C323.9,1374.5 330.3,1374.0 335.5,1374.3 C340.8,1374.5 345.0,1375.5 349.4,1376.8 C353.8,1378.0 357.8,1379.9 362.0,1381.8 C366.2,1383.7 370.4,1386.2 374.6,1388.1 C378.8,1390.0 383.0,1391.9 387.2,1393.2 C391.4,1394.4 395.6,1394.9 399.8,1395.7 C404.0,1396.5 408.3,1397.0 412.5,1398.2 C416.7,1399.5 421.1,1401.8 425.1,1403.3 C429.1,1404.7 434.6,1406.4 436.6,1407.1" stroke="#000" stroke-width="5.2"/>
<path d="M285.5,1369.4 C287.7,1369.6 293.5,1370.5 298.9,1370.5 C304.3,1370.4 311.7,1369.2 317.8,1369.2 C323.9,1369.2 330.3,1369.8 335.5,1370.5 C340.8,1371.1 345.0,1372.1 349.4,1373.0 C353.8,1373.8 357.8,1374.5 362.0,1375.5 C366.2,1376.6 370.4,1378.2 374.6,1379.3 C378.8,1380.3 383.0,1381.0 387.2,1381.8 C391.4,1382.7 395.6,1383.5 399.8,1384.3 C404.0,1385.2 408.3,1386.9 412.5,1386.9 C416.7,1386.9 421.1,1385.0 425.1,1384.3 C429.1,1383.7 434.6,1383.3 436.6,1383.1" stroke="#000" stroke-width="5.2"/>
<path d="M355.7,1375.5 C357.8,1376.8 364.1,1380.6 368.3,1383.1 C372.5,1385.6 376.7,1388.5 380.9,1390.7 C385.1,1392.8 389.3,1396.1 393.5,1395.7 C397.7,1395.3 401.9,1390.2 406.2,1388.1 C410.4,1386.0 413.7,1384.3 418.8,1383.1 C423.8,1381.8 433.6,1381.0 436.6,1380.6" stroke="#000" stroke-width="5.2"/>
<path d="M285.5,1416.0 C287.7,1416.4 293.5,1417.2 298.9,1418.4 C304.3,1419.6 311.7,1422.2 317.8,1423.5 C323.9,1424.7 330.3,1426.0 335.5,1426.0 C340.8,1426.0 345.0,1424.7 349.4,1423.5 C353.8,1422.2 357.8,1420.5 362.0,1418.4 C366.2,1416.3 370.4,1413.1 374.6,1410.8 C378.8,1408.5 383.0,1406.2 387.2,1404.5 C391.4,1402.8 395.6,1401.8 399.8,1400.7 C404.0,1399.7 408.3,1399.1 412.5,1398.2 C416.7,1397.4 421.1,1396.3 425.1,1395.7 C429.1,1395.1 434.6,1394.6 436.6,1394.4" stroke="#000" stroke-width="5.2"/>
<path d="M285.5,1424.9 C287.7,1425.1 293.5,1425.0 298.9,1426.0 C304.3,1427.0 311.7,1430.0 317.8,1431.0 C323.9,1432.1 330.3,1432.3 335.5,1432.3 C340.8,1432.3 345.0,1431.7 349.4,1431.0 C353.8,1430.4 357.8,1429.5 362.0,1428.5 C366.2,1427.4 370.4,1425.8 374.6,1424.7 C378.8,1423.7 383.0,1423.2 387.2,1422.2 C391.4,1421.1 395.6,1419.5 399.8,1418.4 C404.0,1417.4 408.3,1416.7 412.5,1415.9 C416.7,1415.0 421.1,1413.6 425.1,1413.4 C429.1,1413.1 434.6,1414.4 436.6,1414.6" stroke="#000" stroke-width="5.2"/>
<path d="M285.5,1437.3 C287.7,1436.9 293.5,1435.0 298.9,1434.8 C304.3,1434.6 311.7,1435.2 317.8,1436.1 C323.9,1436.9 330.3,1439.6 335.5,1439.9 C340.8,1440.1 345.0,1438.2 349.4,1437.3 C353.8,1436.5 357.8,1435.6 362.0,1434.8 C366.2,1434.0 370.4,1432.9 374.6,1432.3 C378.8,1431.7 383.0,1431.7 387.2,1431.0 C391.4,1430.4 395.6,1429.1 399.8,1428.5 C404.0,1427.9 408.3,1427.7 412.5,1427.2 C416.7,1426.8 421.1,1426.4 425.1,1426.0 C429.1,1425.6 434.6,1424.9 436.6,1424.7" stroke="#000" stroke-width="5.2"/>
<path d="M285.5,1446.0 C287.7,1445.8 293.5,1445.5 298.9,1444.9 C304.3,1444.3 311.7,1443.0 317.8,1442.4 C323.9,1441.7 330.3,1441.1 335.5,1441.1 C340.8,1441.1 345.0,1441.5 349.4,1442.4 C353.8,1443.2 357.8,1445.1 362.0,1446.2 C366.2,1447.2 370.4,1447.8 374.6,1448.7 C378.8,1449.5 383.0,1450.4 387.2,1451.2 C391.4,1452.0 395.6,1452.9 399.8,1453.7 C404.0,1454.6 408.3,1455.6 412.5,1456.3 C416.7,1456.9 421.1,1457.2 425.1,1457.5 C429.1,1457.8 434.6,1458.0 436.6,1458.1" stroke="#000" stroke-width="5.2"/>
<path d="M134.8,326.0 C141.3,325.6 161.3,325.2 173.9,323.6 C186.5,322.0 200.4,318.0 210.6,316.2 C220.8,314.4 228.2,312.6 235.1,312.6 C242.0,312.6 246.1,312.7 252.2,316.2 C258.3,319.7 264.4,324.8 271.8,333.4 C279.2,342.0 288.2,356.6 296.3,367.6 C304.4,378.6 314.3,391.2 320.7,399.4 C327.1,407.6 330.1,417.1 334.9,417.0 C339.7,416.9 344.9,404.1 349.4,398.5 C353.9,392.9 357.7,387.9 361.9,383.3 C366.1,378.7 370.3,374.1 374.5,370.7 C378.7,367.3 381.9,365.8 387.2,363.1 C392.5,360.4 400.9,356.8 406.2,354.3 C411.5,351.8 413.7,350.3 418.8,348.0 C423.9,345.7 433.6,341.7 436.6,340.4" stroke="#000" stroke-width="5.2"/>
<path d="M134.8,283.2 C138.5,283.5 149.1,283.6 156.5,284.5 C163.9,285.5 171.9,287.7 179.2,288.9 C186.6,290.2 197.1,291.6 200.7,292.1" stroke="#000" stroke-width="5.2"/>
<path d="M134.8,288.9 C138.5,288.9 149.1,288.9 156.5,288.9 C163.9,288.9 171.9,289.2 179.2,288.9 C186.6,288.6 197.1,287.3 200.7,287.0" stroke="#000" stroke-width="5.2"/>
<path d="M134.8,334.3 C139.5,333.5 152.9,330.8 162.8,329.3 C172.8,327.8 184.9,327.0 194.4,325.5 C203.8,324.0 212.3,321.5 219.6,320.5 C227.0,319.4 232.2,319.0 238.5,319.2 C244.8,319.4 249.6,320.9 257.5,321.7 C265.3,322.5 280.8,323.6 285.5,324.0" stroke="#000" stroke-width="5.2"/>
<path d="M134.8,368.4 C139.5,368.8 154.0,369.9 162.8,370.9 C171.7,372.0 179.7,373.2 188.1,374.7 C196.5,376.2 205.9,378.6 213.3,379.8 C220.7,380.9 225.9,382.1 232.2,381.6 C238.5,381.2 244.8,379.2 251.2,377.2 C257.5,375.2 264.3,371.6 270.1,369.7 C275.8,367.7 282.9,366.0 285.5,365.3" stroke="#000" stroke-width="5.2"/>
<path d="M134.8,396.2 C139.5,396.6 154.0,397.8 162.8,398.7 C171.7,399.5 179.7,400.8 188.1,401.2 C196.5,401.6 205.9,402.7 213.3,401.2 C220.7,399.7 225.9,392.4 232.2,392.4 C238.5,392.4 244.8,399.3 251.2,401.2 C257.5,403.1 264.3,403.1 270.1,403.7 C275.8,404.4 282.9,404.8 285.5,405.0" stroke="#000" stroke-width="5.2"/>
<path d="M285.5,288.4 C290.9,287.8 308.2,285.9 317.8,285.1 C327.4,284.4 338.9,284.1 343.1,283.9" stroke="#000" stroke-width="5.2"/>
<path d="M285.5,301.5 C290.9,301.5 308.2,301.6 317.8,301.5 C327.4,301.4 336.8,300.3 343.1,300.9 C349.4,301.5 351.5,303.7 355.7,305.3 C359.9,306.9 364.1,309.1 368.3,310.4 C372.5,311.6 378.8,312.5 380.9,312.9" stroke="#000" stroke-width="5.2"/>
<path d="M285.5,324.0 C287.7,324.5 293.5,325.3 298.9,326.8 C304.3,328.3 310.5,331.8 317.8,333.1 C325.2,334.3 334.7,334.8 343.1,334.3 C351.5,333.9 360.9,330.1 368.3,330.6 C375.7,331.0 380.9,336.2 387.2,336.9 C393.5,337.5 397.9,335.0 406.2,334.3 C414.4,333.7 431.5,333.3 436.6,333.1" stroke="#000" stroke-width="5.2"/>
<path d="M285.5,365.3 C288.8,365.4 297.7,366.0 305.2,365.9 C312.7,365.8 322.1,365.5 330.5,364.6 C338.9,363.8 348.3,361.5 355.7,360.8 C363.0,360.2 368.3,360.6 374.6,360.8 C380.9,361.0 387.2,361.2 393.5,362.1 C399.8,362.9 405.3,365.0 412.5,365.9 C419.6,366.7 432.5,366.9 436.6,367.1" stroke="#000" stroke-width="5.2"/>
<path d="M285.5,386.3 C288.8,386.5 297.7,386.5 305.2,387.3 C312.7,388.1 323.1,390.7 330.5,391.1 C337.8,391.5 344.1,391.1 349.4,389.8 C354.6,388.6 359.9,384.6 362.0,383.5" stroke="#000" stroke-width="5.2"/>
<path d="M285.5,405.0 C290.9,405.2 308.2,405.8 317.8,406.2 C327.4,406.7 334.7,407.5 343.1,407.5 C351.5,407.5 359.9,407.3 368.3,406.2 C376.7,405.2 387.2,402.7 393.5,401.2 C399.8,399.7 399.0,398.3 406.2,397.4 C413.3,396.6 431.5,396.4 436.6,396.2" stroke="#000" stroke-width="5.2"/>
<path d="M134.8,492.0 C138.5,491.7 148.7,491.1 156.5,490.7 C164.4,490.3 175.5,489.8 181.8,489.4 C188.1,489.0 189.1,488.0 194.4,488.2 C199.6,488.4 206.5,490.3 213.3,490.7 C220.1,491.1 228.9,490.7 235.3,490.7 C241.6,490.7 245.3,490.6 251.2,490.7 C257.0,490.8 264.3,491.1 270.1,491.3 C275.8,491.5 282.9,491.7 285.5,491.8" stroke="#000" stroke-width="5.2"/>
<path d="M134.8,515.9 C138.5,516.1 149.8,516.8 156.5,517.2 C163.3,517.6 168.1,518.2 175.5,518.4 C182.8,518.7 190.7,518.4 200.7,518.4 C210.7,518.4 224.7,518.7 235.3,518.4 C245.8,518.2 255.4,517.9 263.8,517.2 C272.1,516.4 281.9,514.5 285.5,514.0" stroke="#000" stroke-width="5.2"/>
<path d="M134.8,527.3 C138.5,527.3 149.8,527.7 156.5,527.3 C163.3,526.9 168.1,525.0 175.5,524.8 C182.8,524.5 196.5,525.8 200.7,526.0" stroke="#000" stroke-width="5.2"/>
<path d="M134.8,422.6 C138.5,423.0 149.8,424.5 156.5,425.1 C163.3,425.7 172.3,426.1 175.5,426.4" stroke="#000" stroke-width="5.2"/>
<path d="M285.5,467.9 C286.7,467.1 289.3,464.8 292.6,462.9 C295.9,461.1 301.0,457.9 305.2,456.6 C309.4,455.4 312.8,455.6 317.8,455.4 C322.9,455.2 329.2,455.8 335.5,455.4 C341.8,454.9 349.2,453.5 355.7,452.8 C362.2,452.2 369.4,451.6 374.6,451.6 C379.9,451.6 383.0,452.4 387.2,452.8 C391.4,453.3 395.6,454.1 399.8,454.1 C404.0,454.1 408.3,453.3 412.5,452.8 C416.7,452.4 421.1,451.8 425.1,451.6 C429.1,451.4 434.6,451.6 436.6,451.6" stroke="#000" stroke-width="5.2"/>
<path d="M285.5,514.0 C287.7,513.4 293.5,511.8 298.9,510.9 C304.3,509.9 311.7,509.0 317.8,508.4 C323.9,507.7 330.3,507.5 335.5,507.1 C340.8,506.7 345.0,505.8 349.4,505.8 C353.8,505.8 357.8,506.5 362.0,507.1 C366.2,507.7 370.4,508.8 374.6,509.6 C378.8,510.5 383.0,511.3 387.2,512.1 C391.4,513.0 395.6,514.0 399.8,514.7 C404.0,515.3 406.3,515.7 412.5,515.9 C418.6,516.1 432.5,515.9 436.6,515.9" stroke="#000" stroke-width="5.2"/>
<path d="M399.8,488.2 C401.9,488.6 408.3,490.0 412.5,490.7 C416.7,491.4 421.1,492.2 425.1,492.6 C429.1,493.0 434.6,493.1 436.6,493.2" stroke="#000" stroke-width="5.2"/>
<path d="M285.5,546.4 C287.7,545.9 293.5,544.8 298.9,543.7 C304.3,542.6 311.7,540.9 317.8,539.9 C323.9,538.8 332.6,537.8 335.5,537.4" stroke="#000" stroke-width="5.2"/>
<path d="M134.8,846.4 C138.5,846.8 149.8,847.9 156.5,848.9 C163.3,850.0 169.2,852.5 175.5,852.7 C181.8,852.9 188.1,851.7 194.4,850.2 C200.7,848.7 210.2,844.9 213.3,843.9" stroke="#000" stroke-width="5.2"/>
<path d="M207.0,865.3 C210.2,865.2 219.6,864.7 225.9,864.7 C232.2,864.7 238.5,865.6 244.8,865.3 C251.2,865.0 257.0,862.9 263.8,862.8 C270.5,862.7 281.9,864.3 285.5,864.6" stroke="#000" stroke-width="5.2"/>
<path d="M134.8,898.8 C138.5,898.8 149.8,898.9 156.5,898.8 C163.3,898.6 172.3,898.2 175.5,898.1" stroke="#000" stroke-width="5.2"/>
<path d="M134.8,971.3 C137.4,971.4 145.6,971.5 150.2,971.9 C154.9,972.3 160.7,973.5 162.8,973.8" stroke="#000" stroke-width="5.2"/>
<path d="M285.5,846.9 C288.8,847.3 297.7,848.0 305.2,848.9 C312.7,849.9 323.1,851.9 330.5,852.7 C337.8,853.5 343.1,854.1 349.4,854.0 C355.7,853.9 365.2,852.4 368.3,852.1" stroke="#000" stroke-width="5.2"/>
<path d="M285.5,864.6 C288.8,864.7 297.7,865.0 305.2,865.3 C312.7,865.7 322.1,866.2 330.5,866.6 C338.9,867.0 347.3,867.2 355.7,867.8 C364.1,868.5 372.5,870.2 380.9,870.4 C389.3,870.6 396.9,869.5 406.2,869.1 C415.4,868.7 431.5,868.1 436.6,867.8" stroke="#000" stroke-width="5.2"/>
<path d="M298.9,915.8 C302.1,915.4 311.5,913.7 317.8,913.3 C324.2,912.8 330.5,912.8 336.8,913.3 C343.1,913.7 349.4,914.9 355.7,915.8 C362.0,916.6 371.5,917.9 374.6,918.3" stroke="#000" stroke-width="5.2"/>
<path d="M285.5,933.1 L298.9,932.2" stroke="#000" stroke-width="5.2"/>
<path d="M412.5,973.8 L436.6,972.6" stroke="#000" stroke-width="5.2"/>
<path d="M134.8,987.5 C137.4,987.3 145.6,986.7 150.2,986.3 C154.9,985.8 160.7,985.2 162.8,985.0" stroke="#000" stroke-width="5.2"/>
<path d="M134.8,998.9 C137.4,997.8 145.6,994.5 150.2,992.6 C154.9,990.7 160.7,988.4 162.8,987.5" stroke="#000" stroke-width="5.2"/>
<path d="M134.8,1118.7 C137.4,1119.4 145.6,1121.7 150.2,1122.5 C154.9,1123.3 157.6,1125.2 162.8,1123.8 C168.1,1122.3 175.5,1117.5 181.8,1113.7 C188.1,1109.9 194.4,1104.6 200.7,1101.1 C207.0,1097.5 214.4,1094.5 219.6,1092.2 C224.9,1089.9 228.0,1087.4 232.2,1087.2 C236.4,1087.0 239.6,1088.7 244.8,1091.0 C250.1,1093.3 257.5,1097.5 263.8,1101.1 C270.1,1104.6 279.1,1110.2 282.7,1112.4 C286.3,1114.6 285.0,1114.0 285.5,1114.4" stroke="#000" stroke-width="5.2"/>
<path d="M134.8,1041.8 C138.5,1042.4 149.8,1045.8 156.5,1045.6 C163.3,1045.3 169.2,1041.6 175.5,1040.5 C181.8,1039.5 191.2,1039.5 194.4,1039.2" stroke="#000" stroke-width="5.2"/>
<path d="M134.8,1070.8 C138.5,1070.4 149.8,1069.1 156.5,1068.3 C163.3,1067.4 172.3,1066.2 175.5,1065.7" stroke="#000" stroke-width="5.2"/>
<path d="M285.5,1057.1 C287.7,1057.7 293.5,1059.3 298.9,1060.7 C304.3,1062.1 314.7,1064.9 317.8,1065.7" stroke="#000" stroke-width="5.2"/>
<path d="M349.4,1073.3 C352.5,1073.1 363.0,1072.0 368.3,1072.0 C373.6,1072.0 378.8,1073.1 380.9,1073.3" stroke="#000" stroke-width="5.2"/>
<path d="M393.5,1127.6 C396.7,1127.6 405.3,1129.0 412.5,1127.6 C419.6,1126.1 432.5,1120.2 436.6,1118.7" stroke="#000" stroke-width="5.2"/>
<path d="M134.8,1147.6 C137.4,1147.1 145.6,1146.1 150.2,1145.0 C154.9,1144.0 160.7,1141.9 162.8,1141.3" stroke="#000" stroke-width="5.2"/>
<path d="M162.8,1140.0 C166.0,1141.7 175.5,1146.1 181.8,1150.1 C188.1,1154.1 194.4,1160.6 200.7,1164.0 C207.0,1167.3 213.9,1169.0 219.6,1170.3 C225.4,1171.5 230.0,1172.0 235.3,1171.5 C240.5,1171.1 245.3,1170.3 251.2,1167.8 C257.0,1165.2 264.3,1160.2 270.1,1156.4 C275.8,1152.6 282.9,1146.6 285.5,1144.7" stroke="#000" stroke-width="5.2"/>
<path d="M134.8,1224.5 C137.4,1223.9 144.5,1222.0 150.2,1220.7 C155.9,1219.5 162.8,1217.8 169.2,1217.0 C175.5,1216.1 181.8,1216.1 188.1,1215.7 C194.4,1215.3 201.7,1215.3 207.0,1214.4 C212.3,1213.6 214.9,1212.1 219.6,1210.6 C224.3,1209.2 230.0,1207.3 235.3,1205.6 C240.5,1203.9 245.3,1202.7 251.2,1200.6 C257.0,1198.5 264.3,1195.2 270.1,1193.0 C275.8,1190.7 282.9,1188.1 285.5,1187.1" stroke="#000" stroke-width="5.2"/>
<path d="M134.8,1247.2 C138.5,1247.9 148.7,1250.8 156.5,1251.0 C164.4,1251.2 173.4,1248.7 181.8,1248.5 C190.2,1248.3 198.6,1249.3 207.0,1249.8 C215.4,1250.2 223.8,1251.2 232.2,1251.0 C240.6,1250.8 250.1,1248.7 257.5,1248.5 C264.8,1248.3 271.7,1249.4 276.4,1249.8 C281.1,1250.1 284.0,1250.5 285.5,1250.6" stroke="#000" stroke-width="5.2"/>
<path d="M134.8,1257.3 C137.4,1257.7 144.5,1259.8 150.2,1259.8 C155.9,1259.8 162.8,1258.2 169.2,1257.3 C175.5,1256.5 184.9,1255.2 188.1,1254.8" stroke="#000" stroke-width="5.2"/>
<path d="M285.5,1225.0 C287.7,1224.8 293.5,1223.8 298.9,1223.3 C304.3,1222.8 311.7,1222.2 317.8,1222.0 C323.9,1221.8 330.3,1222.6 335.5,1222.0 C340.8,1221.4 345.0,1219.7 349.4,1218.2 C353.8,1216.7 357.8,1214.4 362.0,1213.2 C366.2,1211.9 372.5,1211.1 374.6,1210.6" stroke="#000" stroke-width="5.2"/>
<path d="M362.0,1247.2 C364.1,1247.6 370.4,1248.9 374.6,1249.8 C378.8,1250.6 383.0,1251.6 387.2,1252.3 C391.4,1252.9 395.6,1253.5 399.8,1253.5 C404.0,1253.5 410.4,1252.5 412.5,1252.3" stroke="#000" stroke-width="5.2"/>
<path d="M387.2,1196.8 C389.3,1197.4 395.6,1198.2 399.8,1200.6 C404.0,1202.9 408.3,1207.3 412.5,1210.6 C416.7,1214.0 421.1,1218.4 425.1,1220.7 C429.1,1223.0 434.6,1223.9 436.6,1224.5" stroke="#000" stroke-width="5.2"/>
<path d="M134.8,1308.9 C137.4,1308.2 145.6,1307.0 150.2,1305.1 C154.9,1303.2 160.7,1298.8 162.8,1297.5" stroke="#000" stroke-width="5.2"/>
<path d="M162.8,1292.5 C166.0,1293.7 175.5,1297.3 181.8,1300.0 C188.1,1302.8 194.4,1306.1 200.7,1308.9 C207.0,1311.6 213.9,1314.8 219.6,1316.4 C225.4,1318.1 230.0,1319.2 235.3,1319.0 C240.5,1318.8 248.5,1315.8 251.2,1315.2" stroke="#000" stroke-width="5.2"/>
<path d="M219.6,1365.6 C222.2,1366.0 230.0,1367.2 235.3,1367.5 C240.5,1367.9 244.3,1368.0 251.2,1367.5 C258.0,1367.1 270.7,1365.9 276.4,1365.0 C282.1,1364.2 284.0,1362.9 285.5,1362.5" stroke="#000" stroke-width="5.2"/>
<path d="M134.8,1365.6 C137.4,1365.0 144.5,1363.8 150.2,1361.9 C155.9,1360.0 166.0,1355.6 169.2,1354.3" stroke="#000" stroke-width="5.2"/>
<path d="M134.8,1418.6 C137.4,1419.3 144.5,1420.9 150.2,1422.4 C155.9,1423.9 162.8,1426.0 169.2,1427.5 C175.5,1428.9 181.8,1430.0 188.1,1431.2 C194.4,1432.5 200.7,1434.2 207.0,1435.0 C213.3,1435.9 218.6,1436.1 225.9,1436.3 C233.3,1436.5 241.2,1436.6 251.2,1436.3 C261.1,1436.0 279.8,1434.7 285.5,1434.4" stroke="#000" stroke-width="5.2"/>
<path d="M134.8,1448.9 C139.5,1448.7 154.0,1448.3 162.8,1447.6 C171.7,1447.0 179.7,1445.8 188.1,1445.1 C196.5,1444.5 205.4,1444.1 213.3,1443.9 C221.2,1443.6 226.8,1444.1 235.3,1443.9 C243.7,1443.6 255.4,1443.0 263.8,1442.6 C272.1,1442.2 281.9,1441.7 285.5,1441.6" stroke="#000" stroke-width="5.2"/>
<path d="M251.2,1329.1 C254.3,1330.1 264.3,1333.1 270.1,1335.4 C275.8,1337.6 282.9,1341.4 285.5,1342.6" stroke="#000" stroke-width="5.2"/>
<path d="M194.4,1388.4 C197.5,1388.8 206.5,1390.2 213.3,1390.9 C220.1,1391.5 230.0,1392.1 235.3,1392.1 C240.5,1392.1 243.2,1391.1 244.8,1390.9" stroke="#000" stroke-width="5.2"/>
<path d="M285.5,1342.6 C287.7,1343.3 293.5,1345.4 298.9,1346.7 C304.3,1348.0 311.7,1349.5 317.8,1350.5 C323.9,1351.6 332.6,1352.6 335.5,1353.0" stroke="#000" stroke-width="5.2"/>
<path d="M349.4,1437.6 C351.5,1438.2 356.7,1440.1 362.0,1441.3 C367.3,1442.6 374.6,1444.1 380.9,1445.1 C387.2,1446.2 393.5,1447.0 399.8,1447.6 C406.2,1448.3 412.6,1448.7 418.8,1448.9 C424.9,1449.1 433.6,1448.9 436.6,1448.9" stroke="#000" stroke-width="5.2"/>
<path d="M285.5,1434.4 C287.7,1434.3 293.5,1434.1 298.9,1433.8 C304.3,1433.5 311.7,1432.3 317.8,1432.5 C323.9,1432.7 332.6,1434.6 335.5,1435.0" stroke="#000" stroke-width="5.2"/>
<path d="M368.3,1360.6 C371.5,1361.0 380.9,1362.3 387.2,1363.1 C393.5,1364.0 399.8,1365.0 406.2,1365.6 C412.5,1366.3 420.0,1366.9 425.1,1366.9 C430.1,1366.9 434.6,1365.9 436.6,1365.6" stroke="#000" stroke-width="5.2"/>
<path d="M134.8,182.6 C137.2,182.4 143.0,184.7 149.5,181.4 C156.0,178.1 165.8,168.3 173.9,163.0 C182.1,157.7 188.2,152.0 198.4,149.6 C208.6,147.2 221.2,149.5 235.1,148.3 C249.0,147.1 270.2,142.4 281.6,142.2 C293.0,142.0 297.7,147.7 303.6,147.1 C309.5,146.5 312.1,138.4 317.0,138.6 C321.9,138.8 327.7,147.7 333.0,148.3 C338.3,148.9 342.8,140.1 348.9,142.2 C355.0,144.2 362.2,155.7 369.7,160.6 C377.2,165.5 386.0,168.1 394.1,171.6 C402.2,175.1 411.5,179.6 418.6,181.4 C425.7,183.2 433.7,182.4 436.7,182.6" stroke="#4a9fd4" stroke-width="5.3"/>
<path d="M134.8,183.0 C137.4,183.2 145.5,181.7 150.2,184.0 C154.9,186.3 158.6,192.8 162.8,196.6 C167.0,200.4 171.3,203.5 175.5,206.7 C179.7,209.8 183.9,212.8 188.1,215.5 C192.3,218.2 196.5,221.1 200.7,223.1 C204.9,225.1 207.6,226.6 213.3,227.5 C219.1,228.4 228.9,228.8 235.2,228.8 C241.5,228.8 246.4,228.1 251.2,227.5 C256.0,226.9 259.6,226.4 263.8,225.0 C268.0,223.6 272.0,221.3 276.4,219.3 C280.8,217.3 286.2,214.7 290.0,213.0 C293.8,211.3 294.3,211.1 298.9,209.0 C303.5,206.9 311.7,202.3 317.8,200.4 C323.9,198.5 330.2,197.4 335.5,197.8 C340.8,198.2 345.0,200.6 349.4,202.9 C353.8,205.2 357.8,209.2 362.0,211.7 C366.2,214.2 370.4,216.9 374.6,218.0 C378.8,219.1 381.9,218.4 387.2,218.0 C392.5,217.6 400.9,216.3 406.2,215.5 C411.5,214.7 413.7,213.6 418.8,213.0 C423.9,212.4 433.6,211.9 436.6,211.7" stroke="#4a9fd4" stroke-width="5.3"/>
<path d="M134.8,260.3 C139.5,260.0 155.0,258.9 162.8,258.4 C170.6,257.9 175.5,256.8 181.8,257.1 C188.1,257.5 193.5,259.7 200.7,260.5 C207.9,261.3 218.9,261.9 225.0,262.0 C231.1,262.1 233.7,262.2 237.0,261.0 C240.3,259.8 242.6,257.1 245.0,255.0 C247.4,252.9 248.1,252.4 251.2,248.3 C254.3,244.2 259.6,236.9 263.8,230.6 C268.0,224.3 272.9,216.8 276.4,210.5 C279.9,204.2 282.3,197.6 285.0,193.0 C287.7,188.4 289.2,186.1 292.6,182.7 C296.0,179.3 301.0,174.4 305.2,172.6 C309.4,170.8 312.8,171.6 317.8,172.0 C322.9,172.4 330.2,174.8 335.5,175.1 C340.8,175.4 345.0,173.9 349.4,173.9 C353.8,173.9 357.8,173.6 362.0,175.1 C366.2,176.6 370.8,179.8 374.6,182.7 C378.4,185.6 381.6,189.4 384.7,192.8 C387.8,196.2 390.8,199.5 393.5,202.9 C396.2,206.3 398.6,209.0 401.1,213.0 C403.6,217.0 406.2,222.7 408.7,226.9 C411.2,231.1 413.5,234.2 416.2,238.2 C418.9,242.2 422.2,247.2 425.1,250.8 C428.1,254.4 432.0,258.1 433.9,259.7 C435.8,261.3 436.2,260.2 436.6,260.3" stroke="#4a9fd4" stroke-width="5.3"/>
<path d="M134.7,269.8 C139.4,269.6 151.8,268.8 162.8,268.5 C173.8,268.2 188.6,267.7 200.7,267.9 C212.8,268.1 227.8,270.4 235.2,269.8 C242.5,269.2 241.1,266.3 244.8,264.0 C248.5,261.7 253.3,258.9 257.5,255.9 C261.7,252.9 265.9,250.0 270.1,245.8 C274.3,241.6 279.4,235.0 282.7,230.6 C286.0,226.2 286.2,224.8 290.0,219.3 C293.8,213.8 300.6,203.5 305.2,197.8 C309.8,192.1 313.6,189.0 317.8,185.2 C322.0,181.4 327.6,177.0 330.5,175.1 C333.4,173.2 333.4,173.6 335.5,174.0 C337.6,174.4 339.7,175.4 343.1,177.7 C346.5,180.0 351.5,184.5 355.7,187.8 C359.9,191.2 364.1,195.1 368.3,197.8 C372.5,200.5 377.5,203.3 380.9,204.2 C384.3,205.0 385.4,204.2 388.5,202.9 C391.6,201.6 395.8,198.9 399.8,196.6 C403.8,194.3 408.3,191.1 412.5,189.0 C416.7,186.9 421.1,185.1 425.1,184.0 C429.1,182.9 434.7,182.9 436.6,182.7" stroke="#4a9fd4" stroke-width="5.3"/>
<path d="M134.8,211.7 C137.4,212.3 145.5,214.0 150.2,215.5 C154.9,217.0 158.6,218.9 162.8,220.6 C167.0,222.3 171.3,223.9 175.5,225.6 C179.7,227.3 183.9,228.9 188.1,230.6 C192.3,232.3 196.5,233.8 200.7,235.7 C204.9,237.6 209.1,240.3 213.3,242.0 C217.5,243.7 222.2,245.0 225.9,245.8 C229.6,246.6 231.0,246.7 235.2,247.0 C239.4,247.3 246.4,247.2 251.2,247.5 C256.0,247.8 259.6,247.8 263.8,248.5 C268.0,249.2 272.0,250.3 276.4,251.5 C280.8,252.7 285.2,254.1 290.0,255.5 C294.8,256.9 298.4,258.8 305.2,259.7 C311.9,260.6 324.2,261.3 330.5,260.9 C336.8,260.5 338.9,259.2 343.1,257.1 C347.3,255.0 351.5,250.6 355.7,248.3 C359.9,246.0 363.1,244.7 368.3,243.3 C373.6,241.9 381.9,241.9 387.2,240.0 C392.4,238.1 395.6,234.7 399.8,232.0 C404.0,229.3 408.3,226.7 412.5,224.0 C416.7,221.3 421.0,218.0 425.0,216.0 C429.0,214.0 434.7,212.7 436.6,212.0" stroke="#4a9fd4" stroke-width="5.3"/>
<path d="M134.8,213.0 C137.3,214.5 145.3,219.2 150.0,222.0 C154.7,224.8 156.5,227.8 162.8,230.0 C169.2,232.2 179.7,234.7 188.1,235.5 C196.5,236.3 205.5,235.2 213.3,235.0 C221.2,234.8 228.1,234.8 235.2,234.5 C242.3,234.2 249.1,233.8 256.0,233.0 C262.9,232.2 270.3,230.6 276.4,229.4 C282.5,228.2 286.8,227.7 292.6,225.6 C298.5,223.5 304.4,218.9 311.5,216.8 C318.6,214.7 329.2,213.2 335.5,213.0 C341.8,212.8 345.0,213.8 349.4,215.5 C353.8,217.2 357.8,220.6 362.0,223.1 C366.2,225.6 370.4,228.1 374.6,230.6 C378.8,233.1 383.0,235.1 387.2,238.2 C391.4,241.3 395.6,245.2 399.8,249.0 C404.0,252.8 408.3,257.7 412.5,261.0 C416.7,264.3 421.1,267.3 425.1,269.0 C429.1,270.7 434.7,270.7 436.6,271.0" stroke="#4a9fd4" stroke-width="5.3"/>
<path d="M134.7,277.3 C139.4,277.6 153.9,278.6 162.8,279.2 C171.7,279.8 179.7,281.1 188.1,281.1 C196.5,281.1 205.5,279.7 213.3,279.2 C221.2,278.7 228.9,278.7 235.2,278.0 C241.5,277.3 246.4,276.0 251.2,274.8 C256.0,273.6 259.6,272.3 263.8,271.0 C268.0,269.7 271.6,268.7 276.4,267.2 C281.2,265.7 285.7,263.2 292.6,262.2 C299.5,261.1 309.4,260.5 317.8,260.9 C326.2,261.3 334.7,263.2 343.1,264.7 C351.5,266.2 359.9,268.8 368.3,269.8 C376.7,270.9 385.1,271.0 393.5,271.0 C401.9,271.0 411.6,270.2 418.8,269.8 C426.0,269.4 433.6,268.7 436.6,268.5" stroke="#4a9fd4" stroke-width="5.3"/>
<path d="M134.7,295.0 C139.4,294.8 151.8,294.3 162.8,293.7 C173.8,293.1 190.2,292.4 200.7,291.2 C211.2,289.9 217.5,287.5 225.9,286.2 C234.3,284.9 242.8,284.2 251.2,283.6 C259.6,283.0 267.4,283.2 276.4,282.4 C285.4,281.6 296.2,279.2 305.2,278.6 C314.2,278.0 323.1,278.8 330.5,278.6 C337.9,278.4 343.1,278.6 349.4,277.3 C355.7,276.0 363.1,272.2 368.3,271.0 C373.6,269.8 376.7,269.0 380.9,269.8 C385.1,270.6 389.3,274.5 393.5,276.0 C397.7,277.5 402.0,278.2 406.2,278.6 C410.4,279.0 413.7,278.6 418.8,278.6 C423.9,278.6 433.6,278.6 436.6,278.6" stroke="#4a9fd4" stroke-width="5.3"/>
<path d="M134.8,296.5 C138.5,296.2 149.1,295.7 156.5,294.6 C163.9,293.5 171.9,291.4 179.2,290.2 C186.6,288.9 192.9,288.1 200.7,287.0 C208.5,286.0 217.5,285.2 225.9,283.9 C234.3,282.5 243.8,280.4 251.2,278.8 C258.5,277.3 264.3,275.6 270.1,274.4 C275.8,273.3 282.9,272.4 285.5,272.0" stroke="#4a9fd4" stroke-width="5.3"/>
<path d="M179.2,288.9 C182.8,289.4 192.9,291.1 200.7,292.1 C208.5,293.0 217.5,294.0 225.9,294.6 C234.3,295.2 241.2,295.5 251.2,295.9 C261.1,296.2 279.8,296.6 285.5,296.8" stroke="#4a9fd4" stroke-width="5.3"/>
<path d="M179.2,288.9 C182.8,288.5 192.9,287.2 200.7,286.4 C208.5,285.6 218.6,284.2 225.9,283.9 C233.3,283.6 238.5,283.5 244.8,284.5 C251.2,285.6 257.0,290.2 263.8,290.2 C270.5,290.2 281.9,285.3 285.5,284.4" stroke="#4a9fd4" stroke-width="5.3"/>
<path d="M134.8,325.5 C139.5,324.2 154.0,320.5 162.8,317.9 C171.7,315.4 179.7,312.2 188.1,310.4 C196.5,308.6 205.9,307.4 213.3,307.2 C220.7,307.0 225.9,308.2 232.2,309.1 C238.5,310.1 244.8,311.6 251.2,312.9 C257.5,314.2 264.3,316.6 270.1,316.7 C275.8,316.8 282.9,314.1 285.5,313.6" stroke="#4a9fd4" stroke-width="5.3"/>
<path d="M134.8,325.5 C139.5,325.5 152.9,325.7 162.8,325.5 C172.8,325.3 184.9,324.7 194.4,324.2 C203.8,323.8 212.3,323.3 219.6,323.0 C227.0,322.7 231.2,321.9 238.5,322.4 C245.9,322.8 255.9,324.3 263.8,325.5 C271.6,326.7 281.9,328.8 285.5,329.4" stroke="#4a9fd4" stroke-width="5.3"/>
<path d="M134.8,338.1 C138.5,339.0 150.8,341.9 156.5,343.2 C162.3,344.4 163.9,346.3 169.2,345.7 C174.4,345.1 180.7,341.9 188.1,339.4 C195.4,336.9 204.9,332.2 213.3,330.6 C221.7,328.9 231.2,329.1 238.5,329.3 C245.9,329.5 251.2,329.9 257.5,331.8 C263.8,333.7 271.7,338.6 276.4,340.6 C281.1,342.7 284.0,343.3 285.5,343.9" stroke="#4a9fd4" stroke-width="5.3"/>
<path d="M134.8,352.0 C138.5,352.0 149.8,352.2 156.5,352.0 C163.3,351.8 169.2,352.4 175.5,350.7 C181.8,349.1 188.1,344.4 194.4,341.9 C200.7,339.4 207.0,337.0 213.3,335.6 C219.6,334.2 225.9,333.9 232.2,333.7 C238.5,333.5 245.9,333.2 251.2,334.3 C256.4,335.5 259.6,337.7 263.8,340.6 C268.0,343.6 272.8,349.0 276.4,352.0 C280.0,355.0 284.0,357.4 285.5,358.5" stroke="#4a9fd4" stroke-width="5.3"/>
<path d="M134.8,360.8 C138.5,360.8 149.8,361.2 156.5,360.8 C163.3,360.4 169.2,357.5 175.5,358.3 C181.8,359.1 188.1,363.6 194.4,365.9 C200.7,368.2 207.0,370.7 213.3,372.2 C219.6,373.7 227.0,374.5 232.2,374.7 C237.5,374.9 239.6,374.9 244.8,373.4 C250.1,372.0 258.5,368.0 263.8,365.9 C269.0,363.8 272.8,362.0 276.4,360.8 C280.0,359.7 284.0,359.4 285.5,359.1" stroke="#4a9fd4" stroke-width="5.3"/>
<path d="M134.8,374.7 C138.5,373.9 150.8,370.9 156.5,369.7 C162.3,368.4 163.9,367.3 169.2,367.1 C174.4,366.9 180.7,367.1 188.1,368.4 C195.4,369.7 205.9,372.8 213.3,374.7 C220.7,376.6 225.9,377.9 232.2,379.8 C238.5,381.6 244.8,384.8 251.2,386.1 C257.5,387.3 264.3,387.6 270.1,387.3 C275.8,387.1 282.9,385.1 285.5,384.7" stroke="#4a9fd4" stroke-width="5.3"/>
<path d="M134.8,392.4 C138.5,392.8 148.7,394.0 156.5,394.9 C164.4,395.7 173.4,397.2 181.8,397.4 C190.2,397.6 198.6,397.2 207.0,396.2 C215.4,395.1 224.9,391.5 232.2,391.1 C239.6,390.7 244.8,392.4 251.2,393.6 C257.5,394.9 264.3,397.8 270.1,398.7 C275.8,399.5 282.9,398.8 285.5,398.8" stroke="#4a9fd4" stroke-width="5.3"/>
<path d="M134.8,392.4 C138.5,393.2 148.7,395.1 156.5,397.4 C164.4,399.7 174.4,403.3 181.8,406.2 C189.1,409.2 193.3,412.6 200.7,415.1 C208.0,417.6 217.5,419.5 225.9,421.4 C234.3,423.3 242.7,425.2 251.2,426.4 C259.6,427.7 270.7,428.4 276.4,429.0 C282.1,429.5 284.0,429.5 285.5,429.6" stroke="#4a9fd4" stroke-width="5.3"/>
<path d="M134.8,420.1 C139.5,420.1 154.0,420.5 162.8,420.1 C171.7,419.7 179.7,418.4 188.1,417.6 C196.5,416.8 204.9,415.7 213.3,415.1 C221.7,414.4 230.1,414.0 238.5,413.8 C246.9,413.6 255.9,413.8 263.8,413.8 C271.6,413.8 281.9,413.7 285.5,413.7" stroke="#4a9fd4" stroke-width="5.3"/>
<path d="M285.5,284.4 C288.8,283.8 297.7,281.5 305.2,280.7 C312.7,279.9 323.1,279.9 330.5,279.5 C337.8,279.0 344.1,279.0 349.4,278.2 C354.6,277.4 357.8,275.5 362.0,274.4 C366.2,273.4 369.4,272.5 374.6,271.9 C379.9,271.3 387.2,270.6 393.5,270.6 C399.8,270.6 405.3,271.7 412.5,271.9 C419.6,272.1 432.5,271.9 436.6,271.9" stroke="#4a9fd4" stroke-width="5.3"/>
<path d="M355.7,280.1 C357.8,279.6 363.0,276.9 368.3,276.9 C373.6,276.9 382.0,278.9 387.2,280.1 C392.5,281.2 394.6,283.0 399.8,283.9 C405.1,284.7 412.6,285.1 418.8,285.1 C424.9,285.1 433.6,284.1 436.6,283.9" stroke="#4a9fd4" stroke-width="5.3"/>
<path d="M317.8,285.1 C322.1,284.9 336.8,284.3 343.1,283.9 C349.4,283.5 351.5,283.7 355.7,282.6 C359.9,281.6 363.0,278.6 368.3,277.6 C373.6,276.5 380.9,276.7 387.2,276.3 C393.5,275.9 400.9,274.9 406.2,275.0 C411.4,275.2 413.7,276.5 418.8,276.9 C423.8,277.4 433.6,277.5 436.6,277.6" stroke="#4a9fd4" stroke-width="5.3"/>
<path d="M285.5,296.8 C290.9,296.8 308.2,297.2 317.8,297.1 C327.4,297.1 335.7,296.8 343.1,296.5 C350.4,296.2 356.7,296.1 362.0,295.2 C367.3,294.4 370.4,292.7 374.6,291.4 C378.8,290.2 383.7,288.1 387.2,287.7 C390.8,287.2 392.9,287.7 396.1,288.9 C399.2,290.2 402.4,294.0 406.2,295.2 C409.9,296.5 413.7,296.3 418.8,296.5 C423.8,296.7 433.6,296.5 436.6,296.5" stroke="#4a9fd4" stroke-width="5.3"/>
<path d="M285.5,313.6 C287.7,313.1 293.5,311.3 298.9,310.4 C304.3,309.4 311.5,308.3 317.8,307.8 C324.2,307.4 331.5,307.4 336.8,307.8 C342.0,308.3 345.2,309.3 349.4,310.4 C353.6,311.4 357.8,313.3 362.0,314.2 C366.2,315.0 370.4,315.6 374.6,315.4 C378.8,315.2 383.0,313.7 387.2,312.9 C391.4,312.1 395.6,310.8 399.8,310.4 C404.0,309.9 409.3,311.2 412.5,310.4 C415.6,309.5 416.0,307.4 418.8,305.3 C421.5,303.2 425.9,299.4 428.9,297.8 C431.8,296.1 435.3,295.7 436.6,295.2" stroke="#4a9fd4" stroke-width="5.3"/>
<path d="M285.5,319.4 C287.7,320.0 292.5,321.8 298.9,323.0 C305.4,324.2 315.7,326.1 324.2,326.8 C332.6,327.4 342.0,327.2 349.4,326.8 C356.7,326.3 363.0,323.8 368.3,324.2 C373.6,324.7 376.7,327.8 380.9,329.3 C385.1,330.8 389.3,332.7 393.5,333.1 C397.7,333.5 401.9,332.4 406.2,331.8 C410.4,331.2 413.7,329.9 418.8,329.3 C423.8,328.7 433.6,328.2 436.6,328.0" stroke="#4a9fd4" stroke-width="5.3"/>
<path d="M399.8,328.0 C400.9,326.8 404.0,322.8 406.2,320.5 C408.3,318.1 410.4,315.0 412.5,314.2 C414.6,313.3 415.6,313.9 418.8,315.4 C421.9,316.9 428.4,321.5 431.4,323.0 C434.3,324.5 435.7,324.0 436.6,324.2" stroke="#4a9fd4" stroke-width="5.3"/>
<path d="M285.5,329.4 C288.8,330.9 297.7,336.3 305.2,338.1 C312.7,340.0 322.1,340.6 330.5,340.6 C338.9,340.6 348.3,338.1 355.7,338.1 C363.0,338.1 368.3,339.6 374.6,340.6 C380.9,341.7 387.2,343.4 393.5,344.4 C399.8,345.5 405.3,345.9 412.5,347.0 C419.6,348.0 432.5,350.1 436.6,350.7" stroke="#4a9fd4" stroke-width="5.3"/>
<path d="M285.5,343.9 C288.8,343.8 297.7,343.5 305.2,343.2 C312.7,342.8 322.1,341.9 330.5,341.9 C338.9,341.9 347.3,342.5 355.7,343.2 C364.1,343.8 373.6,344.4 380.9,345.7 C388.3,347.0 394.6,349.5 399.8,350.7 C405.1,352.0 408.3,352.0 412.5,353.3 C416.7,354.5 421.1,357.5 425.1,358.3 C429.1,359.1 434.6,358.3 436.6,358.3" stroke="#4a9fd4" stroke-width="5.3"/>
<path d="M285.5,358.5 C288.8,358.5 297.7,358.8 305.2,358.3 C312.7,357.8 323.1,355.8 330.5,355.8 C337.8,355.8 343.1,356.2 349.4,358.3 C355.7,360.4 363.0,366.9 368.3,368.4 C373.6,369.9 376.7,368.4 380.9,367.1 C385.1,365.9 389.3,362.7 393.5,360.8 C397.7,358.9 401.9,357.0 406.2,355.8 C410.4,354.5 413.7,353.9 418.8,353.3 C423.8,352.6 433.6,352.2 436.6,352.0" stroke="#4a9fd4" stroke-width="5.3"/>
<path d="M285.5,384.7 C288.8,384.1 297.7,381.2 305.2,381.0 C312.7,380.8 323.1,383.5 330.5,383.5 C337.8,383.5 343.1,382.3 349.4,381.0 C355.7,379.8 363.0,376.4 368.3,376.0 C373.6,375.5 376.7,376.8 380.9,378.5 C385.1,380.2 389.3,385.2 393.5,386.1 C397.7,386.9 401.9,385.2 406.2,383.5 C410.4,381.9 413.7,377.4 418.8,376.0 C423.8,374.5 433.6,374.9 436.6,374.7" stroke="#4a9fd4" stroke-width="5.3"/>
<path d="M285.5,398.8 C288.8,399.0 297.7,399.3 305.2,399.9 C312.7,400.5 322.1,402.0 330.5,402.5 C338.9,402.9 347.3,402.7 355.7,402.5 C364.1,402.2 374.6,402.0 380.9,401.2 C387.2,400.4 389.3,399.1 393.5,397.4 C397.7,395.7 401.9,392.2 406.2,391.1 C410.4,390.1 413.7,390.9 418.8,391.1 C423.8,391.3 433.6,392.2 436.6,392.4" stroke="#4a9fd4" stroke-width="5.3"/>
<path d="M285.5,413.7 C288.8,414.4 297.7,416.5 305.2,417.6 C312.7,418.7 322.1,419.9 330.5,420.1 C338.9,420.3 347.3,419.3 355.7,418.9 C364.1,418.4 374.6,418.0 380.9,417.6 C387.2,417.2 389.3,416.3 393.5,416.3 C397.7,416.3 399.0,417.0 406.2,417.6 C413.3,418.2 431.5,419.7 436.6,420.1" stroke="#4a9fd4" stroke-width="5.3"/>
<path d="M134.8,420.7 C138.5,420.7 149.8,420.8 156.5,420.7 C163.3,420.6 169.2,420.4 175.5,420.0 C181.8,419.7 188.1,419.2 194.4,418.8 C200.7,418.4 207.0,417.9 213.3,417.5 C219.6,417.1 225.9,416.6 232.2,416.3 C238.5,415.9 244.8,415.8 251.2,415.6 C257.5,415.4 266.9,415.1 270.1,415.0" stroke="#4a9fd4" stroke-width="5.3"/>
<path d="M134.8,420.7 C138.5,421.0 149.8,421.9 156.5,422.6 C163.3,423.2 169.2,424.5 175.5,424.5 C181.8,424.5 189.1,423.3 194.4,422.6 C199.6,421.8 201.7,420.5 207.0,420.0 C212.3,419.6 220.7,419.9 225.9,420.0 C231.2,420.2 234.3,420.3 238.5,420.7 C242.7,421.1 246.9,422.5 251.2,422.6 C255.4,422.7 259.6,421.7 263.8,421.3 C268.0,420.9 272.8,420.1 276.4,420.0 C280.0,420.0 284.0,420.7 285.5,420.9" stroke="#4a9fd4" stroke-width="5.3"/>
<path d="M134.8,428.9 C137.4,429.2 144.5,429.7 150.2,430.8 C155.9,431.8 162.8,433.8 169.2,435.2 C175.5,436.6 181.8,437.9 188.1,439.0 C194.4,440.0 200.7,441.0 207.0,441.5 C213.3,442.0 219.6,442.1 225.9,442.1 C232.2,442.1 239.6,441.8 244.8,441.5 C250.1,441.2 253.3,440.7 257.5,440.2 C261.7,439.8 265.4,439.6 270.1,439.0 C274.7,438.4 282.9,437.0 285.5,436.5" stroke="#4a9fd4" stroke-width="5.3"/>
<path d="M134.8,428.9 C139.5,430.3 155.0,436.7 162.8,437.7 C170.7,438.8 174.4,436.4 181.8,435.2 C189.1,433.9 198.6,431.6 207.0,430.1 C215.4,428.7 225.9,426.6 232.2,426.4 C238.5,426.1 239.6,427.6 244.8,428.9 C250.1,430.1 257.0,433.1 263.8,433.9 C270.5,434.8 281.9,433.9 285.5,433.9" stroke="#4a9fd4" stroke-width="5.3"/>
<path d="M134.8,445.3 C137.4,445.1 145.6,444.4 150.2,444.0 C154.9,443.6 157.6,443.6 162.8,442.8 C168.1,441.9 175.5,440.7 181.8,439.0 C188.1,437.3 194.4,434.3 200.7,432.7 C207.0,431.0 213.9,429.7 219.6,428.9 C225.4,428.0 230.0,427.4 235.3,427.6 C240.5,427.8 245.3,428.9 251.2,430.1 C257.0,431.4 264.3,434.5 270.1,435.2 C275.8,435.9 282.9,434.4 285.5,434.2" stroke="#4a9fd4" stroke-width="5.3"/>
<path d="M134.8,446.5 C137.4,446.5 145.6,446.1 150.2,446.5 C154.9,447.0 157.6,448.2 162.8,449.1 C168.1,449.9 175.5,451.4 181.8,451.6 C188.1,451.8 194.4,450.7 200.7,450.3 C207.0,449.9 213.9,449.5 219.6,449.1 C225.4,448.6 230.0,448.2 235.3,447.8 C240.5,447.4 245.3,447.0 251.2,446.5 C257.0,446.1 264.3,445.7 270.1,445.3 C275.8,444.9 282.9,444.3 285.5,444.1" stroke="#4a9fd4" stroke-width="5.3"/>
<path d="M134.8,446.5 C137.4,446.7 144.5,446.5 150.2,447.8 C155.9,449.1 162.8,452.6 169.2,454.1 C175.5,455.6 180.7,456.4 188.1,456.6 C195.4,456.8 205.4,456.0 213.3,455.4 C221.2,454.7 228.9,453.3 235.3,452.8 C241.6,452.4 245.3,451.4 251.2,452.8 C257.0,454.3 264.8,458.9 270.1,461.7 C275.3,464.4 280.1,467.3 282.7,469.2 C285.3,471.1 285.0,472.5 285.5,473.1" stroke="#4a9fd4" stroke-width="5.3"/>
<path d="M134.8,461.7 C137.4,461.5 144.5,460.6 150.2,460.4 C155.9,460.2 163.9,460.8 169.2,460.4 C174.4,460.0 176.5,458.5 181.8,457.9 C187.0,457.3 194.4,456.8 200.7,456.6 C207.0,456.4 213.9,456.6 219.6,456.6 C225.4,456.6 230.0,456.0 235.3,456.6 C240.5,457.3 245.3,458.5 251.2,460.4 C257.0,462.3 264.8,465.9 270.1,468.0 C275.3,470.1 280.1,471.5 282.7,473.0 C285.3,474.5 285.0,476.4 285.5,477.0" stroke="#4a9fd4" stroke-width="5.3"/>
<path d="M134.8,462.9 C138.5,463.4 149.8,465.3 156.5,465.5 C163.3,465.7 169.2,463.8 175.5,464.2 C181.8,464.6 188.1,466.5 194.4,468.0 C200.7,469.5 206.5,471.8 213.3,473.0 C220.1,474.3 228.9,475.0 235.3,475.6 C241.6,476.1 245.3,476.2 251.2,476.2 C257.0,476.2 264.3,475.5 270.1,475.6 C275.8,475.6 282.9,476.4 285.5,476.5" stroke="#4a9fd4" stroke-width="5.3"/>
<path d="M134.8,468.0 C137.4,468.8 144.5,471.1 150.2,473.0 C155.9,474.9 162.8,477.4 169.2,479.3 C175.5,481.2 181.8,483.1 188.1,484.4 C194.4,485.6 200.7,486.5 207.0,486.9 C213.3,487.3 219.6,487.1 225.9,486.9 C232.2,486.7 238.5,486.3 244.8,485.6 C251.2,485.0 258.5,484.0 263.8,483.1 C269.0,482.3 272.8,480.7 276.4,480.6 C280.0,480.5 284.0,482.0 285.5,482.3" stroke="#4a9fd4" stroke-width="5.3"/>
<path d="M134.8,498.3 C138.5,498.3 149.8,498.5 156.5,498.3 C163.3,498.0 169.2,497.4 175.5,497.0 C181.8,496.6 188.1,496.2 194.4,495.7 C200.7,495.3 206.5,494.9 213.3,494.5 C220.1,494.1 228.9,494.1 235.3,493.2 C241.6,492.4 245.3,490.7 251.2,489.4 C257.0,488.2 264.3,486.2 270.1,485.6 C275.8,485.1 282.9,486.2 285.5,486.3" stroke="#4a9fd4" stroke-width="5.3"/>
<path d="M134.8,510.9 C137.4,510.5 144.5,509.6 150.2,508.4 C155.9,507.1 162.8,505.0 169.2,503.3 C175.5,501.6 181.8,499.5 188.1,498.3 C194.4,497.0 203.8,496.2 207.0,495.7" stroke="#4a9fd4" stroke-width="5.3"/>
<path d="M134.8,510.9 C138.5,511.5 149.8,513.8 156.5,514.7 C163.3,515.5 168.1,516.1 175.5,515.9 C182.8,515.7 190.7,514.2 200.7,513.4 C210.7,512.6 224.7,511.3 235.3,510.9 C245.8,510.5 255.4,510.5 263.8,510.9 C272.1,511.3 281.9,513.0 285.5,513.4" stroke="#4a9fd4" stroke-width="5.3"/>
<path d="M134.8,523.5 C138.5,523.3 149.8,522.6 156.5,522.2 C163.3,521.8 169.2,521.2 175.5,521.0 C181.8,520.8 188.1,520.3 194.4,521.0 C200.7,521.6 206.5,523.7 213.3,524.8 C220.1,525.8 228.9,527.1 235.3,527.3 C241.6,527.5 245.3,526.6 251.2,526.0 C257.0,525.4 264.3,524.1 270.1,523.5 C275.8,522.9 282.9,522.5 285.5,522.3" stroke="#4a9fd4" stroke-width="5.3"/>
<path d="M134.8,536.1 C138.5,536.1 149.8,536.1 156.5,536.1 C163.3,536.1 168.1,536.5 175.5,536.1 C182.8,535.7 192.3,534.2 200.7,533.6 C209.1,533.0 217.5,532.5 225.9,532.3 C234.3,532.1 243.8,533.0 251.2,532.3 C258.5,531.7 264.3,529.7 270.1,528.5 C275.8,527.4 282.9,526.1 285.5,525.6" stroke="#4a9fd4" stroke-width="5.3"/>
<path d="M134.8,538.6 C138.5,539.0 149.8,540.1 156.5,541.2 C163.3,542.2 169.2,543.7 175.5,544.9 C181.8,546.2 188.1,547.7 194.4,548.7 C200.7,549.8 206.5,550.6 213.3,551.2 C220.1,551.9 228.9,552.5 235.3,552.5 C241.6,552.5 245.3,552.3 251.2,551.2 C257.0,550.2 264.3,547.9 270.1,546.2 C275.8,544.5 282.9,541.9 285.5,541.0" stroke="#4a9fd4" stroke-width="5.3"/>
<path d="M285.5,418.3 C287.7,418.6 293.5,419.5 298.9,420.0 C304.3,420.6 311.7,421.0 317.8,421.3 C323.9,421.6 330.3,421.9 335.5,421.9 C340.8,421.9 345.0,421.8 349.4,421.3 C353.8,420.8 357.8,419.6 362.0,418.8 C366.2,417.9 371.5,416.9 374.6,416.3 C377.8,415.6 379.9,415.2 380.9,415.0" stroke="#4a9fd4" stroke-width="5.3"/>
<path d="M285.5,420.9 C287.7,421.1 293.5,422.5 298.9,422.6 C304.3,422.6 311.7,421.7 317.8,421.3 C323.9,420.9 330.3,419.8 335.5,420.0 C340.8,420.3 345.0,421.7 349.4,422.6 C353.8,423.4 357.8,424.5 362.0,425.1 C366.2,425.7 370.4,426.4 374.6,426.4 C378.8,426.4 383.0,425.7 387.2,425.1 C391.4,424.5 395.6,423.4 399.8,422.6 C404.0,421.7 408.3,420.5 412.5,420.0 C416.7,419.6 421.1,419.9 425.1,420.0 C429.1,420.2 434.6,420.6 436.6,420.7" stroke="#4a9fd4" stroke-width="5.3"/>
<path d="M285.5,429.6 C286.7,429.9 288.3,430.7 292.6,431.4 C297.0,432.1 304.4,433.3 311.5,433.9 C318.7,434.6 329.2,435.2 335.5,435.2 C341.8,435.2 345.0,434.6 349.4,433.9 C353.8,433.3 357.8,432.0 362.0,431.4 C366.2,430.8 370.4,430.3 374.6,430.1 C378.8,429.9 383.0,429.9 387.2,430.1 C391.4,430.3 395.6,431.6 399.8,431.4 C404.0,431.2 408.3,429.5 412.5,428.9 C416.7,428.2 421.1,427.7 425.1,427.6 C429.1,427.5 434.6,428.1 436.6,428.2" stroke="#4a9fd4" stroke-width="5.3"/>
<path d="M285.5,436.5 C287.7,436.3 293.5,435.8 298.9,435.2 C304.3,434.5 311.7,433.5 317.8,432.7 C323.9,431.8 330.3,430.1 335.5,430.1 C340.8,430.1 345.0,431.6 349.4,432.7 C353.8,433.7 357.8,435.4 362.0,436.4 C366.2,437.5 370.4,438.1 374.6,439.0 C378.8,439.8 383.0,441.5 387.2,441.5 C391.4,441.5 395.6,439.2 399.8,439.0 C404.0,438.8 408.3,439.4 412.5,440.2 C416.7,441.1 421.1,443.2 425.1,444.0 C429.1,444.9 434.6,445.1 436.6,445.3" stroke="#4a9fd4" stroke-width="5.3"/>
<path d="M285.5,444.1 C287.7,444.1 293.5,444.2 298.9,444.0 C304.3,443.8 311.7,443.2 317.8,442.8 C323.9,442.3 330.3,441.5 335.5,441.5 C340.8,441.5 345.0,442.1 349.4,442.8 C353.8,443.4 357.8,444.6 362.0,445.3 C366.2,445.9 370.4,446.3 374.6,446.5 C378.8,446.7 383.0,446.7 387.2,446.5 C391.4,446.3 395.6,445.7 399.8,445.3 C404.0,444.9 408.3,444.2 412.5,444.0 C416.7,443.8 421.1,443.8 425.1,444.0 C429.1,444.2 434.6,445.1 436.6,445.3" stroke="#4a9fd4" stroke-width="5.3"/>
<path d="M285.5,450.5 C287.7,451.1 293.5,452.9 298.9,454.1 C304.3,455.3 311.7,457.1 317.8,457.9 C323.9,458.7 330.3,459.2 335.5,459.2 C340.8,459.2 345.0,458.3 349.4,457.9 C353.8,457.5 357.8,457.1 362.0,456.6 C366.2,456.2 370.4,456.0 374.6,455.4 C378.8,454.7 383.0,453.7 387.2,452.8 C391.4,452.0 395.6,451.2 399.8,450.3 C404.0,449.5 408.3,448.4 412.5,447.8 C416.7,447.2 421.1,446.7 425.1,446.5 C429.1,446.3 434.6,446.5 436.6,446.5" stroke="#4a9fd4" stroke-width="5.3"/>
<path d="M292.6,474.3 C295.8,474.1 305.2,473.5 311.5,473.0 C317.8,472.6 324.2,472.2 330.5,471.8 C336.8,471.3 343.1,470.9 349.4,470.5 C355.7,470.1 363.0,470.3 368.3,469.2 C373.6,468.2 376.7,465.5 380.9,464.2 C385.1,462.9 389.3,462.3 393.5,461.7 C397.7,461.0 401.9,460.6 406.2,460.4 C410.4,460.2 413.7,460.3 418.8,460.4 C423.8,460.5 433.6,460.9 436.6,461.0" stroke="#4a9fd4" stroke-width="5.3"/>
<path d="M285.5,473.1 C287.7,473.7 293.5,475.8 298.9,476.8 C304.3,477.9 311.7,479.1 317.8,479.3 C323.9,479.5 330.3,478.3 335.5,478.1 C340.8,477.9 343.9,478.3 349.4,478.1 C354.8,477.9 363.0,477.4 368.3,476.8 C373.6,476.2 376.7,475.3 380.9,474.3 C385.1,473.2 389.3,471.6 393.5,470.5 C397.7,469.5 401.9,468.8 406.2,468.0 C410.4,467.1 413.7,466.3 418.8,465.5 C423.8,464.6 433.6,463.4 436.6,462.9" stroke="#4a9fd4" stroke-width="5.3"/>
<path d="M285.5,477.0 C287.7,477.8 293.5,481.1 298.9,481.9 C304.3,482.7 311.7,482.1 317.8,481.9 C323.9,481.6 329.2,481.0 335.5,480.6 C341.8,480.2 350.2,479.5 355.7,479.3 C361.2,479.1 364.1,478.9 368.3,479.3 C372.5,479.8 376.7,481.0 380.9,481.9 C385.1,482.7 389.3,485.4 393.5,484.4 C397.7,483.3 401.9,477.9 406.2,475.6 C410.4,473.2 413.7,471.6 418.8,470.5 C423.8,469.5 433.6,469.5 436.6,469.2" stroke="#4a9fd4" stroke-width="5.3"/>
<path d="M285.5,482.3 C287.7,482.8 293.5,485.1 298.9,485.6 C304.3,486.2 311.7,485.9 317.8,485.6 C323.9,485.4 329.2,484.4 335.5,484.4 C341.8,484.4 349.2,485.4 355.7,485.6 C362.2,485.9 369.4,485.6 374.6,485.6 C379.9,485.6 383.0,485.4 387.2,485.6 C391.4,485.9 395.6,486.1 399.8,486.9 C404.0,487.7 408.3,489.4 412.5,490.7 C416.7,492.0 421.1,493.2 425.1,494.5 C429.1,495.7 434.6,497.6 436.6,498.3" stroke="#4a9fd4" stroke-width="5.3"/>
<path d="M285.5,486.3 C286.7,487.1 289.3,488.9 292.6,490.7 C295.9,492.5 301.0,494.7 305.2,497.0 C309.4,499.3 312.8,503.1 317.8,504.6 C322.9,506.0 330.3,506.0 335.5,505.8 C340.8,505.6 345.0,503.7 349.4,503.3 C353.8,502.9 357.8,503.1 362.0,503.3 C366.2,503.5 370.4,503.9 374.6,504.6 C378.8,505.2 383.0,506.5 387.2,507.1 C391.4,507.7 395.6,507.9 399.8,508.4 C404.0,508.8 406.3,509.4 412.5,509.6 C418.6,509.8 432.5,509.6 436.6,509.6" stroke="#4a9fd4" stroke-width="5.3"/>
<path d="M285.5,513.4 C287.7,513.8 293.5,515.9 298.9,515.9 C304.3,515.9 311.7,513.4 317.8,513.4 C323.9,513.4 330.3,515.5 335.5,515.9 C340.8,516.3 345.0,515.5 349.4,515.9 C353.8,516.3 357.8,517.6 362.0,518.4 C366.2,519.3 370.4,520.5 374.6,521.0 C378.8,521.4 383.0,520.8 387.2,521.0 C391.4,521.2 395.6,521.8 399.8,522.2 C404.0,522.6 406.3,523.1 412.5,523.5 C418.6,523.9 432.5,524.5 436.6,524.8" stroke="#4a9fd4" stroke-width="5.3"/>
<path d="M285.5,522.3 C287.7,522.3 293.5,522.5 298.9,522.2 C304.3,522.0 311.7,520.5 317.8,521.0 C323.9,521.4 330.3,523.9 335.5,524.8 C340.8,525.6 345.0,525.4 349.4,526.0 C353.8,526.6 357.8,527.9 362.0,528.5 C366.2,529.2 370.4,529.4 374.6,529.8 C378.8,530.2 383.0,530.6 387.2,531.1 C391.4,531.5 395.6,531.7 399.8,532.3 C404.0,533.0 406.3,534.2 412.5,534.8 C418.6,535.5 432.5,535.9 436.6,536.1" stroke="#4a9fd4" stroke-width="5.3"/>
<path d="M285.5,541.0 C287.7,540.2 293.5,537.5 298.9,536.1 C304.3,534.7 311.7,533.2 317.8,532.3 C323.9,531.5 330.3,530.8 335.5,531.1 C340.8,531.3 345.0,532.7 349.4,533.6 C353.8,534.4 356.7,535.5 362.0,536.1 C367.3,536.7 374.6,536.9 380.9,537.4 C387.2,537.8 393.5,538.4 399.8,538.6 C406.2,538.8 412.6,538.6 418.8,538.6 C424.9,538.6 433.6,538.6 436.6,538.6" stroke="#4a9fd4" stroke-width="5.3"/>
<path d="M134.8,582.5 C139.0,582.8 151.6,583.4 160.0,584.0 C168.4,584.6 175.8,585.5 185.0,586.0 C194.2,586.5 206.2,586.9 215.0,587.0 C223.8,587.1 231.3,587.1 237.5,586.4 C243.7,585.7 246.2,585.1 252.0,583.0 C257.8,580.9 264.7,577.3 272.0,573.5 C279.3,569.7 288.8,564.8 296.0,560.0 C303.2,555.2 308.4,549.7 315.0,545.0 C321.6,540.3 328.7,532.0 335.4,532.0 C342.1,532.0 349.2,540.5 355.0,545.0 C360.8,549.5 363.5,554.0 370.0,559.0 C376.5,564.0 385.9,570.9 394.0,574.7 C402.1,578.5 411.5,580.7 418.6,582.0 C425.7,583.3 433.7,582.4 436.7,582.5" stroke="#4a9fd4" stroke-width="5.3"/>
<path d="M134.8,618.7 C139.3,618.3 151.1,617.9 161.7,616.3 C172.3,614.6 188.2,610.6 198.4,608.9 C208.6,607.2 214.7,606.8 222.9,606.0 C231.0,605.2 239.2,605.2 247.3,604.0 C255.5,602.9 263.6,601.0 271.8,599.1 C279.9,597.3 288.1,594.7 296.3,593.0 C304.4,591.4 314.2,590.1 320.7,589.4 C327.2,588.7 329.3,588.5 335.4,588.9 C341.5,589.3 349.7,589.7 357.4,591.8 C365.2,593.9 373.7,598.1 381.9,601.6 C390.0,605.1 397.2,609.7 406.3,612.6 C415.5,615.5 431.6,617.7 436.7,618.7" stroke="#4a9fd4" stroke-width="5.3"/>
<path d="M134.8,629.2 C141.3,629.2 161.3,629.4 173.9,629.2 C186.6,629.1 199.6,628.7 210.6,628.5 C221.6,628.3 231.8,627.4 240.0,628.0 C248.1,628.6 252.2,630.3 259.6,632.2 C266.9,634.1 275.9,637.3 284.0,639.5 C292.2,641.8 299.9,644.2 308.5,645.6 C317.0,647.1 327.2,647.9 335.4,648.1 C343.6,648.3 349.7,648.5 357.4,646.9 C365.2,645.2 373.7,640.9 381.9,638.3 C390.0,635.6 397.2,632.5 406.3,630.9 C415.5,629.4 431.6,629.5 436.7,629.2" stroke="#4a9fd4" stroke-width="5.3"/>
<path d="M134.8,665.7 C139.3,666.0 151.1,666.1 161.7,667.6 C172.3,669.2 186.6,672.5 198.4,675.0 C210.2,677.4 222.5,682.3 232.6,682.3 C242.8,682.3 251.0,678.2 259.6,675.0 C268.1,671.7 275.9,666.4 284.0,662.8 C292.2,659.1 299.9,655.0 308.5,653.0 C317.0,650.9 327.2,650.7 335.4,650.5 C343.6,650.3 349.7,650.5 357.4,651.7 C365.2,653.0 373.7,655.8 381.9,657.9 C390.0,659.9 397.2,662.7 406.3,664.0 C415.5,665.3 431.6,665.4 436.7,665.7" stroke="#4a9fd4" stroke-width="5.3"/>
<path d="M134.8,724.3 C139.3,722.0 153.1,714.5 161.7,710.8 C170.3,707.1 178.0,704.6 186.2,702.2 C194.3,699.9 202.1,698.0 210.6,696.9 C219.2,695.7 230.6,694.9 237.5,695.4 C244.5,695.9 246.5,697.8 252.2,699.8 C257.9,701.7 264.4,704.5 271.8,707.1 C279.1,709.8 288.1,713.4 296.3,715.7 C304.4,717.9 314.2,719.6 320.7,720.6 C327.2,721.5 329.3,721.6 335.4,721.3 C341.5,721.0 351.7,720.2 357.4,718.9 C363.1,717.5 363.5,714.9 369.6,713.2 C375.8,711.6 386.0,708.9 394.1,709.1 C402.3,709.3 411.5,712.1 418.6,714.5 C425.7,716.8 433.7,721.6 436.7,723.0" stroke="#4a9fd4" stroke-width="5.3"/>
<path d="M134.8,726.7 C141.3,725.7 163.3,722.9 173.9,720.6 C184.5,718.2 190.2,714.8 198.4,712.5 C206.5,710.2 215.5,707.9 222.9,706.6 C230.2,705.3 235.9,704.4 242.4,704.7 C249.0,705.0 255.1,706.7 262.0,708.3 C268.9,710.0 276.3,712.2 284.0,714.5 C291.8,716.7 299.9,719.8 308.5,721.8 C317.0,723.8 325.2,725.3 335.4,726.2 C345.6,727.1 359.9,726.7 369.6,727.2 C379.4,727.7 386.0,728.5 394.1,729.1 C402.3,729.8 411.5,731.1 418.6,731.1 C425.7,731.1 433.7,729.5 436.7,729.1" stroke="#4a9fd4" stroke-width="5.3"/>
<path d="M134.8,726.7 C137.2,727.7 142.9,729.6 149.5,732.8 C156.0,736.1 165.8,742.2 173.9,746.3 C182.1,750.3 190.2,754.6 198.4,757.3 C206.5,759.9 214.7,761.6 222.9,762.2 C231.0,762.8 239.2,761.8 247.3,760.9 C255.5,760.1 263.6,757.3 271.8,757.3 C279.9,757.3 288.1,758.3 296.3,760.9 C304.4,763.6 314.2,770.2 320.7,773.2 C327.2,776.1 329.3,779.0 335.4,778.6 C341.5,778.2 349.7,774.5 357.4,770.7 C365.2,767.0 373.7,760.9 381.9,756.1 C390.0,751.2 397.2,746.7 406.3,741.4 C415.5,736.1 431.6,727.1 436.7,724.3" stroke="#4a9fd4" stroke-width="5.3"/>
<path d="M134.8,755.6 C139.3,755.9 151.1,755.2 161.7,757.3 C172.3,759.4 187.4,764.4 198.4,768.3 C209.4,772.2 219.6,778.1 227.8,780.5 C235.9,783.0 237.9,782.2 247.3,783.0 C256.7,783.8 271.8,784.8 284.0,785.4 C296.3,786.0 308.5,786.4 320.7,786.6 C333.0,786.8 349.3,787.0 357.4,786.6 C365.6,786.2 363.5,787.2 369.6,784.2 C375.8,781.1 386.0,772.6 394.1,768.3 C402.3,764.0 411.5,760.6 418.6,758.5 C425.7,756.4 433.7,756.1 436.7,755.6" stroke="#4a9fd4" stroke-width="5.3"/>
<path d="M134.8,801.3 C141.3,800.7 163.3,799.1 173.9,797.6 C184.5,796.2 189.4,795.0 198.4,792.8 C207.4,790.5 219.6,785.4 227.8,784.2 C235.9,783.0 240.0,784.0 247.3,785.4 C254.7,786.8 263.6,790.3 271.8,792.8 C279.9,795.2 288.1,798.1 296.3,800.1 C304.4,802.1 312.6,804.2 320.7,805.0 C328.9,805.8 337.0,806.6 345.2,805.0 C353.3,803.4 361.5,797.2 369.6,795.2 C377.8,793.2 386.0,792.5 394.1,792.8 C402.3,793.0 411.5,795.2 418.6,796.4 C425.7,797.6 433.7,799.5 436.7,800.1" stroke="#4a9fd4" stroke-width="5.3"/>
<path d="M134.8,811.1 C139.3,811.3 151.1,810.9 161.7,812.3 C172.3,813.8 187.4,816.6 198.4,819.7 C209.4,822.7 217.6,828.6 227.8,830.7 C237.9,832.7 250.6,831.9 259.6,831.9 C268.5,831.9 275.5,832.7 281.6,830.7 C287.7,828.6 290.5,823.9 296.3,819.7 C302.0,815.4 309.7,809.0 315.8,805.0 C321.9,801.0 327.2,796.1 333.0,795.7 C338.7,795.3 344.0,799.4 350.1,802.5 C356.2,805.7 362.3,813.3 369.6,814.8 C377.0,816.2 386.0,811.9 394.1,811.1 C402.3,810.3 411.5,809.9 418.6,809.9 C425.7,809.9 433.7,810.9 436.7,811.1" stroke="#4a9fd4" stroke-width="5.3"/>
<path d="M134.8,811.1 C141.3,811.7 161.3,812.1 173.9,814.8 C186.6,817.4 200.4,823.7 210.6,827.0 C220.8,830.3 224.9,832.7 235.1,834.3 C245.3,836.0 257.5,836.8 271.8,836.8 C286.1,836.8 308.5,835.0 320.7,834.3 C333.0,833.7 337.0,834.3 345.2,833.1 C353.3,831.9 361.5,829.2 369.6,827.0 C377.8,824.8 386.0,821.9 394.1,819.7 C402.3,817.4 411.5,815.0 418.6,813.5 C425.7,812.1 433.7,811.5 436.7,811.1" stroke="#4a9fd4" stroke-width="5.3"/>
<path d="M134.8,842.9 C139.3,843.3 153.1,845.1 161.7,845.4 C170.3,845.6 178.0,845.4 186.2,844.1 C194.3,842.9 203.7,839.6 210.6,838.0 C217.6,836.4 221.6,834.5 227.8,834.3 C233.9,834.1 237.9,835.2 247.3,836.8 C256.7,838.4 277.9,842.9 284.0,844.1" stroke="#4a9fd4" stroke-width="5.3"/>
<path d="M222.9,850.0 C226.9,848.8 237.1,844.5 247.3,842.9 C257.5,841.3 271.8,840.7 284.0,840.5 C296.3,840.3 310.5,841.9 320.7,841.7 C330.9,841.5 337.0,839.8 345.2,839.2 C353.3,838.6 361.5,838.0 369.6,838.0 C377.8,838.0 386.0,838.2 394.1,839.2 C402.3,840.3 411.5,843.5 418.6,844.1 C425.7,844.7 433.7,843.1 436.7,842.9" stroke="#4a9fd4" stroke-width="5.3"/>
<path d="M134.8,842.6 C137.4,842.8 144.5,843.2 150.2,843.9 C155.9,844.5 163.9,845.9 169.2,846.4 C174.4,846.9 177.6,847.3 181.8,847.0 C186.0,846.7 190.2,845.7 194.4,844.5 C198.6,843.4 202.8,841.5 207.0,840.1 C211.2,838.7 215.4,837.3 219.6,836.3 C223.8,835.4 227.0,834.8 232.2,834.4 C237.5,834.0 244.8,834.0 251.2,833.8 C257.5,833.6 264.3,833.2 270.1,833.2 C275.8,833.1 282.9,833.3 285.5,833.3" stroke="#4a9fd4" stroke-width="5.3"/>
<path d="M134.8,846.4 C138.5,846.8 149.8,847.9 156.5,848.9 C163.3,850.0 169.2,852.5 175.5,852.7 C181.8,852.9 188.1,851.7 194.4,850.2 C200.7,848.7 208.0,845.7 213.3,843.9 C218.6,842.1 221.7,840.1 225.9,839.5 C230.1,838.8 232.2,840.0 238.5,840.1 C244.8,840.2 255.9,839.9 263.8,840.1 C271.6,840.3 281.9,841.3 285.5,841.5" stroke="#4a9fd4" stroke-width="5.3"/>
<path d="M134.8,855.2 C138.5,855.3 149.8,855.8 156.5,855.9 C163.3,856.0 169.2,855.8 175.5,855.9 C181.8,856.0 188.1,856.1 194.4,856.5 C200.7,856.9 207.0,857.9 213.3,858.4 C219.6,858.9 225.9,859.5 232.2,859.6 C238.5,859.8 245.9,859.4 251.2,859.0 C256.4,858.6 259.6,857.9 263.8,857.1 C268.0,856.4 272.8,854.9 276.4,854.6 C280.0,854.3 284.0,855.2 285.5,855.3" stroke="#4a9fd4" stroke-width="5.3"/>
<path d="M134.8,857.1 C138.5,856.7 149.8,855.1 156.5,854.6 C163.3,854.1 170.2,853.9 175.5,854.0 C180.7,854.1 182.8,854.2 188.1,855.2 C193.3,856.3 200.7,858.6 207.0,860.3 C213.3,862.0 218.6,864.1 225.9,865.3 C233.3,866.6 243.8,867.6 251.2,867.8 C258.5,868.1 264.3,867.6 270.1,866.6 C275.8,865.6 282.9,862.8 285.5,862.0" stroke="#4a9fd4" stroke-width="5.3"/>
<path d="M134.8,869.1 C138.5,869.0 149.8,868.7 156.5,868.5 C163.3,868.3 169.2,867.8 175.5,867.8 C181.8,867.8 188.1,868.1 194.4,868.5 C200.7,868.9 207.0,869.7 213.3,870.4 C219.6,871.0 225.9,872.1 232.2,872.3 C238.5,872.5 245.9,872.6 251.2,871.6 C256.4,870.7 259.6,867.6 263.8,866.6 C268.0,865.5 272.8,865.5 276.4,865.3 C280.0,865.1 284.0,865.3 285.5,865.3" stroke="#4a9fd4" stroke-width="5.3"/>
<path d="M134.8,887.4 C138.5,887.1 149.8,886.7 156.5,885.5 C163.3,884.4 170.2,881.9 175.5,880.5 C180.7,879.0 183.9,877.5 188.1,876.7 C192.3,875.8 195.4,875.4 200.7,875.4 C205.9,875.4 213.3,876.0 219.6,876.7 C225.9,877.3 233.3,879.4 238.5,879.2 C243.8,879.0 246.9,876.3 251.2,875.4 C255.4,874.6 259.6,873.7 263.8,874.2 C268.0,874.6 272.8,876.7 276.4,877.9 C280.0,879.2 284.0,881.0 285.5,881.6" stroke="#4a9fd4" stroke-width="5.3"/>
<path d="M134.8,895.0 C138.5,894.9 149.8,894.8 156.5,894.3 C163.3,893.9 169.2,892.9 175.5,892.4 C181.8,892.0 188.1,891.9 194.4,891.8 C200.7,891.7 207.0,891.6 213.3,891.8 C219.6,892.0 225.9,892.7 232.2,893.1 C238.5,893.5 244.8,893.7 251.2,894.3 C257.5,895.0 264.3,896.7 270.1,896.9 C275.8,897.0 282.9,895.4 285.5,895.1" stroke="#4a9fd4" stroke-width="5.3"/>
<path d="M134.8,895.0 C138.5,895.5 149.8,897.5 156.5,898.1 C163.3,898.8 169.2,898.6 175.5,898.8 C181.8,898.9 188.1,898.8 194.4,898.8 C200.7,898.8 207.0,898.6 213.3,898.8 C219.6,898.9 225.9,899.1 232.2,899.4 C238.5,899.7 244.8,900.0 251.2,900.6 C257.5,901.3 264.3,903.0 270.1,903.2 C275.8,903.3 282.9,901.8 285.5,901.5" stroke="#4a9fd4" stroke-width="5.3"/>
<path d="M134.8,917.0 C137.4,916.0 144.5,912.8 150.2,910.7 C155.9,908.6 162.8,906.1 169.2,904.4 C175.5,902.7 181.8,901.7 188.1,900.6 C194.4,899.6 200.7,898.8 207.0,898.1 C213.3,897.5 219.6,896.4 225.9,896.9 C232.2,897.3 238.5,899.2 244.8,900.6 C251.2,902.1 257.0,904.2 263.8,905.7 C270.5,907.2 281.9,909.2 285.5,909.9" stroke="#4a9fd4" stroke-width="5.3"/>
<path d="M134.8,920.8 C137.4,920.4 144.5,919.8 150.2,918.3 C155.9,916.8 162.8,913.7 169.2,912.0 C175.5,910.3 181.8,908.8 188.1,908.2 C194.4,907.6 200.7,908.0 207.0,908.2 C213.3,908.4 219.6,908.8 225.9,909.5 C232.2,910.1 238.5,910.7 244.8,912.0 C251.2,913.3 258.5,915.4 263.8,917.0 C269.0,918.7 272.8,921.1 276.4,922.1 C280.0,923.1 284.0,922.9 285.5,923.1" stroke="#4a9fd4" stroke-width="5.3"/>
<path d="M134.8,929.7 C137.4,929.0 144.5,927.8 150.2,925.9 C155.9,924.0 162.8,920.2 169.2,918.3 C175.5,916.4 181.8,915.4 188.1,914.5 C194.4,913.7 200.7,913.0 207.0,913.3 C213.3,913.5 219.6,915.2 225.9,915.8 C232.2,916.4 239.6,916.6 244.8,917.0 C250.1,917.5 253.3,916.6 257.5,918.3 C261.7,920.0 265.9,925.0 270.1,927.1 C274.3,929.2 280.1,930.2 282.7,930.9 C285.3,931.6 285.0,931.3 285.5,931.4" stroke="#4a9fd4" stroke-width="5.3"/>
<path d="M134.8,939.8 C137.4,941.0 144.5,945.2 150.2,947.3 C155.9,949.4 163.9,951.3 169.2,952.4 C174.4,953.4 177.6,954.0 181.8,953.6 C186.0,953.2 190.2,951.3 194.4,949.8 C198.6,948.4 201.7,946.5 207.0,944.8 C212.3,943.1 219.6,940.4 225.9,939.8 C232.2,939.1 238.5,939.5 244.8,941.0 C251.2,942.5 257.5,946.3 263.8,948.6 C270.1,950.9 279.1,954.1 282.7,954.9 C286.3,955.7 285.0,953.4 285.5,953.2" stroke="#4a9fd4" stroke-width="5.3"/>
<path d="M134.8,959.9 C137.4,960.1 144.5,960.1 150.2,961.2 C155.9,962.2 162.8,964.6 169.2,966.2 C175.5,967.9 181.8,969.6 188.1,971.3 C194.4,973.0 200.7,975.1 207.0,976.3 C213.3,977.6 220.7,978.2 225.9,978.9 C231.2,979.5 234.3,981.2 238.5,980.1 C242.7,979.1 246.9,975.3 251.2,972.6 C255.4,969.8 259.6,966.2 263.8,963.7 C268.0,961.2 272.8,958.5 276.4,957.4 C280.0,956.4 284.0,957.4 285.5,957.4" stroke="#4a9fd4" stroke-width="5.3"/>
<path d="M134.8,961.2 C137.4,961.6 144.5,962.7 150.2,963.7 C155.9,964.8 162.8,965.6 169.2,967.5 C175.5,969.4 181.8,972.8 188.1,975.1 C194.4,977.4 200.7,979.7 207.0,981.4 C213.3,983.1 220.7,983.7 225.9,985.2 C231.2,986.6 236.4,989.2 238.5,990.0" stroke="#4a9fd4" stroke-width="5.3"/>
<path d="M134.8,973.8 C137.4,974.0 145.6,974.7 150.2,975.1 C154.9,975.5 158.6,975.7 162.8,976.3 C167.1,977.0 171.3,978.0 175.5,978.9 C179.7,979.7 183.9,980.3 188.1,981.4 C192.3,982.4 196.5,983.7 200.7,985.2 C204.9,986.6 211.2,989.2 213.3,990.0" stroke="#4a9fd4" stroke-width="5.3"/>
<path d="M134.8,983.9 C137.4,983.7 145.6,983.3 150.2,982.6 C154.9,982.0 158.6,981.0 162.8,980.1 C167.1,979.3 171.3,978.2 175.5,977.6 C179.7,977.0 182.8,976.5 188.1,976.3 C193.3,976.1 200.7,975.9 207.0,976.3 C213.3,976.8 219.6,978.0 225.9,978.9 C232.2,979.7 238.5,980.5 244.8,981.4 C251.2,982.2 257.0,982.7 263.8,983.9 C270.5,985.1 281.9,987.6 285.5,988.4" stroke="#4a9fd4" stroke-width="5.3"/>
<path d="M251.2,990.0 C253.3,987.9 259.6,981.1 263.8,977.6 C268.0,974.1 272.8,970.9 276.4,968.8 C280.0,966.6 284.0,965.5 285.5,964.9" stroke="#4a9fd4" stroke-width="5.3"/>
<path d="M285.5,833.3 C288.8,833.5 297.7,834.3 305.2,834.4 C312.7,834.5 322.1,834.2 330.5,833.8 C338.9,833.4 347.3,832.5 355.7,831.9 C364.1,831.3 376.7,830.3 380.9,830.0" stroke="#4a9fd4" stroke-width="5.3"/>
<path d="M285.5,841.5 C288.8,841.9 297.7,843.1 305.2,843.9 C312.7,844.7 324.2,846.1 330.5,846.4 C336.8,846.7 337.8,846.6 343.1,845.8 C348.3,844.9 355.7,842.2 362.0,841.4 C368.3,840.5 373.6,840.3 380.9,840.7 C388.3,841.1 396.9,843.6 406.2,843.9 C415.4,844.2 431.5,842.8 436.6,842.6" stroke="#4a9fd4" stroke-width="5.3"/>
<path d="M285.5,855.3 C288.8,855.5 298.8,856.7 305.2,856.5 C311.7,856.3 318.9,854.5 324.2,854.0 C329.4,853.4 332.6,852.9 336.8,853.3 C341.0,853.8 345.2,856.2 349.4,856.5 C353.6,856.8 356.7,855.4 362.0,855.2 C367.3,855.0 373.6,855.3 380.9,855.2 C388.3,855.1 396.9,854.8 406.2,854.6 C415.4,854.4 431.5,854.1 436.6,854.0" stroke="#4a9fd4" stroke-width="5.3"/>
<path d="M285.5,862.0 C287.7,861.8 293.5,860.6 298.9,860.3 C304.3,860.0 311.5,860.4 317.8,860.3 C324.2,860.2 330.5,860.1 336.8,859.6 C343.1,859.2 349.4,858.2 355.7,857.8 C362.0,857.3 368.3,856.9 374.6,857.1 C380.9,857.3 387.2,858.1 393.5,859.0 C399.8,860.0 405.3,861.3 412.5,862.8 C419.6,864.3 432.5,867.0 436.6,867.8" stroke="#4a9fd4" stroke-width="5.3"/>
<path d="M292.6,864.1 C295.8,865.1 306.3,868.3 311.5,870.4 C316.8,872.5 320.2,875.1 324.2,876.7 C328.1,878.3 331.3,880.0 335.5,879.8 C339.7,879.6 345.0,876.6 349.4,875.4 C353.8,874.3 357.8,872.7 362.0,872.9 C366.2,873.1 370.4,875.0 374.6,876.7 C378.8,878.4 382.0,881.3 387.2,883.0 C392.5,884.7 397.9,886.0 406.2,886.8 C414.4,887.5 431.5,887.3 436.6,887.4" stroke="#4a9fd4" stroke-width="5.3"/>
<path d="M285.5,881.6 C287.7,882.2 293.5,884.2 298.9,885.5 C304.3,886.8 311.7,888.7 317.8,889.3 C323.9,889.9 329.2,889.7 335.5,889.3 C341.8,888.9 349.2,887.0 355.7,886.8 C362.2,886.6 368.3,887.0 374.6,888.0 C380.9,889.1 387.2,891.8 393.5,893.1 C399.8,894.3 405.3,895.2 412.5,895.6 C419.6,896.0 432.5,895.6 436.6,895.6" stroke="#4a9fd4" stroke-width="5.3"/>
<path d="M285.5,895.1 C288.8,895.0 297.7,894.7 305.2,894.3 C312.7,894.0 322.1,893.1 330.5,893.1 C338.9,893.1 348.3,893.5 355.7,894.3 C363.0,895.2 368.3,896.4 374.6,898.1 C380.9,899.8 387.2,902.3 393.5,904.4 C399.8,906.5 405.3,908.2 412.5,910.7 C419.6,913.3 432.5,918.1 436.6,919.6" stroke="#4a9fd4" stroke-width="5.3"/>
<path d="M285.5,901.5 C287.7,902.0 293.5,903.7 298.9,904.4 C304.3,905.1 310.5,905.7 317.8,905.7 C325.2,905.7 335.7,904.4 343.1,904.4 C350.4,904.4 355.7,904.8 362.0,905.7 C368.3,906.5 374.6,909.5 380.9,909.5 C387.2,909.5 393.5,907.2 399.8,905.7 C406.2,904.2 412.6,901.9 418.8,900.6 C424.9,899.4 433.6,898.5 436.6,898.1" stroke="#4a9fd4" stroke-width="5.3"/>
<path d="M285.5,923.1 C287.7,923.1 294.6,923.7 298.9,923.4 C303.3,923.0 306.3,921.7 311.5,920.8 C316.8,920.0 324.2,918.5 330.5,918.3 C336.8,918.1 343.1,918.7 349.4,919.6 C355.7,920.4 363.0,922.3 368.3,923.4 C373.6,924.4 374.6,924.6 380.9,925.9 C387.2,927.1 396.9,930.1 406.2,930.9 C415.4,931.8 431.5,930.9 436.6,930.9" stroke="#4a9fd4" stroke-width="5.3"/>
<path d="M292.6,923.4 C295.8,924.4 306.3,927.3 311.5,929.7 C316.8,932.0 320.2,934.7 324.2,937.2 C328.1,939.8 331.3,944.4 335.5,944.8 C339.7,945.2 343.9,942.3 349.4,939.8 C354.8,937.2 362.0,932.4 368.3,929.7 C374.6,926.9 380.9,925.5 387.2,923.4 C393.5,921.2 400.9,917.7 406.2,917.0 C411.4,916.4 413.7,917.5 418.8,919.6 C423.8,921.7 433.6,928.0 436.6,929.7" stroke="#4a9fd4" stroke-width="5.3"/>
<path d="M285.5,953.2 C287.7,953.2 293.5,953.3 298.9,953.6 C304.3,953.9 311.7,956.2 317.8,954.9 C323.9,953.6 329.2,948.6 335.5,946.1 C341.8,943.5 348.1,941.6 355.7,939.8 C363.3,937.9 372.5,934.9 380.9,934.7 C389.3,934.5 398.8,937.9 406.2,938.5 C413.5,939.1 420.0,938.7 425.1,938.5 C430.1,938.3 434.6,937.4 436.6,937.2" stroke="#4a9fd4" stroke-width="5.3"/>
<path d="M285.5,957.4 C288.8,958.5 297.7,962.5 305.2,963.7 C312.7,965.0 322.1,964.8 330.5,965.0 C338.9,965.2 347.3,965.4 355.7,965.0 C364.1,964.6 372.5,963.9 380.9,962.5 C389.3,961.0 399.8,957.6 406.2,956.2 C412.5,954.7 413.7,954.5 418.8,953.6 C423.8,952.8 433.6,951.5 436.6,951.1" stroke="#4a9fd4" stroke-width="5.3"/>
<path d="M285.5,964.9 C287.7,965.5 293.5,967.5 298.9,968.8 C304.3,970.0 310.5,971.7 317.8,972.6 C325.2,973.4 334.7,974.0 343.1,973.8 C351.5,973.6 359.9,972.3 368.3,971.3 C376.7,970.2 385.1,969.0 393.5,967.5 C401.9,966.0 411.6,963.9 418.8,962.5 C425.9,961.0 433.6,959.3 436.6,958.7" stroke="#4a9fd4" stroke-width="5.3"/>
<path d="M292.6,989.0 C295.8,987.3 305.2,981.2 311.5,978.9 C317.8,976.5 323.1,975.9 330.5,975.1 C337.8,974.2 348.3,973.4 355.7,973.8 C363.0,974.2 368.3,975.7 374.6,977.6 C380.9,979.5 388.3,983.1 393.5,985.2 C398.8,987.2 404.0,989.2 406.2,990.0" stroke="#4a9fd4" stroke-width="5.3"/>
<path d="M355.7,956.2 C358.8,955.9 368.3,954.0 374.6,954.9 C380.9,955.7 387.2,958.9 393.5,961.2 C399.8,963.5 407.2,966.5 412.5,968.8 C417.7,971.1 421.1,973.0 425.1,975.1 C429.1,977.2 434.6,980.3 436.6,981.4" stroke="#4a9fd4" stroke-width="5.3"/>
<path d="M380.9,963.7 C384.1,962.2 393.5,957.0 399.8,954.9 C406.2,952.8 412.6,953.0 418.8,951.1 C424.9,949.2 433.6,944.8 436.6,943.5" stroke="#4a9fd4" stroke-width="5.3"/>
<path d="M134.8,1002.7 C136.4,1002.2 140.3,1001.6 143.9,1000.1 C147.5,998.7 153.0,995.9 156.5,993.8 C160.1,991.7 163.1,989.0 165.4,987.5 C167.7,986.1 169.6,985.4 170.4,985.0" stroke="#4a9fd4" stroke-width="5.3"/>
<path d="M166.6,987.5 C168.1,988.4 171.9,990.5 175.5,992.6 C179.0,994.7 183.9,997.8 188.1,1000.1 C192.3,1002.5 196.5,1005.0 200.7,1006.4 C204.9,1007.9 209.1,1008.8 213.3,1009.0 C217.5,1009.2 221.7,1008.8 225.9,1007.7 C230.1,1006.7 234.3,1004.8 238.5,1002.7 C242.7,1000.6 246.9,997.4 251.2,995.1 C255.4,992.8 260.6,990.5 263.8,988.8 C266.9,987.1 269.0,985.6 270.1,985.0" stroke="#4a9fd4" stroke-width="5.3"/>
<path d="M200.7,985.0 C202.8,986.1 208.0,989.6 213.3,991.3 C218.6,993.0 227.0,995.3 232.2,995.1 C237.5,994.9 241.7,991.7 244.8,990.0 C248.0,988.4 250.1,985.8 251.2,985.0" stroke="#4a9fd4" stroke-width="5.3"/>
<path d="M134.8,1010.2 C137.4,1010.9 144.5,1012.8 150.2,1014.0 C155.9,1015.3 162.8,1017.6 169.2,1017.8 C175.5,1018.0 181.8,1016.3 188.1,1015.3 C194.4,1014.2 200.7,1012.5 207.0,1011.5 C213.3,1010.4 220.7,1009.6 225.9,1009.0 C231.2,1008.3 234.3,1008.1 238.5,1007.7 C242.7,1007.3 246.9,1007.1 251.2,1006.4 C255.4,1005.8 259.6,1005.2 263.8,1003.9 C268.0,1002.7 272.8,1000.4 276.4,998.9 C280.0,997.3 284.0,995.4 285.5,994.7" stroke="#4a9fd4" stroke-width="5.3"/>
<path d="M134.8,1012.1 C137.4,1012.3 145.6,1012.6 150.2,1013.4 C154.9,1014.1 157.6,1015.0 162.8,1016.5 C168.1,1018.1 175.5,1020.5 181.8,1022.8 C188.1,1025.2 195.4,1028.3 200.7,1030.4 C205.9,1032.5 209.1,1034.2 213.3,1035.5 C217.5,1036.7 221.7,1038.0 225.9,1038.0 C230.1,1038.0 234.3,1036.3 238.5,1035.5 C242.7,1034.6 245.9,1033.8 251.2,1032.9 C256.4,1032.1 264.3,1031.3 270.1,1030.4 C275.8,1029.6 282.9,1028.2 285.5,1027.8" stroke="#4a9fd4" stroke-width="5.3"/>
<path d="M134.8,1030.4 C137.4,1030.0 144.5,1028.3 150.2,1027.9 C155.9,1027.5 162.8,1027.1 169.2,1027.9 C175.5,1028.7 182.8,1031.3 188.1,1032.9 C193.3,1034.6 196.5,1037.6 200.7,1038.0 C204.9,1038.4 209.1,1037.1 213.3,1035.5 C217.5,1033.8 221.7,1030.0 225.9,1027.9 C230.1,1025.8 234.3,1024.1 238.5,1022.8 C242.7,1021.6 246.9,1020.5 251.2,1020.3 C255.4,1020.1 259.6,1021.2 263.8,1021.6 C268.0,1022.0 272.8,1022.6 276.4,1022.8 C280.0,1023.1 284.0,1022.8 285.5,1022.8" stroke="#4a9fd4" stroke-width="5.3"/>
<path d="M134.8,1035.5 C138.5,1035.5 149.8,1034.8 156.5,1035.5 C163.3,1036.1 169.2,1037.4 175.5,1039.2 C181.8,1041.1 189.1,1044.5 194.4,1046.8 C199.6,1049.1 202.8,1051.4 207.0,1053.1 C211.2,1054.8 215.4,1056.1 219.6,1056.9 C223.8,1057.7 228.0,1058.4 232.2,1058.2 C236.4,1058.0 240.6,1056.5 244.8,1055.6 C249.0,1054.8 253.3,1054.0 257.5,1053.1 C261.7,1052.3 265.4,1051.6 270.1,1050.6 C274.7,1049.6 282.9,1047.8 285.5,1047.2" stroke="#4a9fd4" stroke-width="5.3"/>
<path d="M134.8,1040.5 C138.5,1041.1 149.8,1043.0 156.5,1044.3 C163.3,1045.6 169.2,1046.8 175.5,1048.1 C181.8,1049.3 188.1,1050.6 194.4,1051.9 C200.7,1053.1 208.0,1055.0 213.3,1055.6 C218.6,1056.3 221.7,1056.1 225.9,1055.6 C230.1,1055.2 234.3,1054.0 238.5,1053.1 C242.7,1052.3 245.9,1051.4 251.2,1050.6 C256.4,1049.8 264.3,1048.8 270.1,1048.1 C275.8,1047.3 282.9,1046.4 285.5,1046.1" stroke="#4a9fd4" stroke-width="5.3"/>
<path d="M134.8,1060.7 C138.5,1060.5 149.8,1060.1 156.5,1059.4 C163.3,1058.8 169.2,1057.5 175.5,1056.9 C181.8,1056.3 188.1,1056.1 194.4,1055.6 C200.7,1055.2 208.0,1054.7 213.3,1054.4 C218.6,1054.1 221.7,1053.5 225.9,1053.8 C230.1,1054.0 234.3,1054.5 238.5,1055.6 C242.7,1056.8 246.9,1059.4 251.2,1060.7 C255.4,1062.0 259.6,1063.6 263.8,1063.2 C268.0,1062.8 272.8,1059.2 276.4,1058.2 C280.0,1057.2 284.0,1057.3 285.5,1057.2" stroke="#4a9fd4" stroke-width="5.3"/>
<path d="M134.8,1064.5 C138.5,1064.7 149.8,1065.3 156.5,1065.7 C163.3,1066.2 169.2,1067.0 175.5,1067.0 C181.8,1067.0 188.1,1066.4 194.4,1065.7 C200.7,1065.1 208.0,1063.8 213.3,1063.2 C218.6,1062.6 221.7,1062.0 225.9,1062.0 C230.1,1062.0 234.3,1062.6 238.5,1063.2 C242.7,1063.8 245.9,1065.1 251.2,1065.7 C256.4,1066.4 264.3,1066.9 270.1,1067.0 C275.8,1067.1 282.9,1066.6 285.5,1066.6" stroke="#4a9fd4" stroke-width="5.3"/>
<path d="M134.8,1103.6 C137.4,1102.7 144.5,1101.5 150.2,1098.5 C155.9,1095.6 162.8,1090.1 169.2,1085.9 C175.5,1081.7 181.8,1077.1 188.1,1073.3 C194.4,1069.5 200.7,1066.2 207.0,1063.2 C213.3,1060.3 220.7,1057.7 225.9,1055.6 C231.2,1053.5 234.3,1052.3 238.5,1050.6 C242.7,1048.9 246.9,1046.6 251.2,1045.6 C255.4,1044.5 259.6,1044.3 263.8,1044.3 C268.0,1044.3 272.8,1045.2 276.4,1045.6 C280.0,1045.9 284.0,1046.3 285.5,1046.4" stroke="#4a9fd4" stroke-width="5.3"/>
<path d="M134.8,1116.2 C138.5,1115.6 149.8,1114.5 156.5,1112.4 C163.3,1110.3 169.2,1107.2 175.5,1103.6 C181.8,1100.0 188.1,1095.2 194.4,1091.0 C200.7,1086.8 208.0,1081.3 213.3,1078.4 C218.6,1075.4 221.7,1074.6 225.9,1073.3 C230.1,1072.0 234.3,1071.0 238.5,1070.8 C242.7,1070.6 246.9,1071.2 251.2,1072.0 C255.4,1072.9 259.6,1074.4 263.8,1075.8 C268.0,1077.3 272.8,1079.6 276.4,1080.9 C280.0,1082.1 284.0,1083.0 285.5,1083.4" stroke="#4a9fd4" stroke-width="5.3"/>
<path d="M134.8,1126.3 C138.5,1126.1 149.8,1126.5 156.5,1125.0 C163.3,1123.6 169.2,1120.6 175.5,1117.5 C181.8,1114.3 188.1,1109.9 194.4,1106.1 C200.7,1102.3 207.0,1097.5 213.3,1094.8 C219.6,1092.0 227.0,1089.9 232.2,1089.7 C237.5,1089.5 240.6,1091.6 244.8,1093.5 C249.0,1095.4 253.3,1098.5 257.5,1101.1 C261.7,1103.6 265.9,1106.1 270.1,1108.6 C274.3,1111.2 280.1,1114.6 282.7,1116.2 C285.3,1117.8 285.0,1118.0 285.5,1118.3" stroke="#4a9fd4" stroke-width="5.3"/>
<path d="M134.8,1140.2 C137.4,1139.5 145.6,1137.0 150.2,1136.4 C154.9,1135.8 158.6,1135.0 162.8,1136.4 C167.1,1137.8 173.4,1143.5 175.5,1145.0" stroke="#4a9fd4" stroke-width="5.3"/>
<path d="M238.5,1073.3 C240.6,1074.6 246.9,1077.9 251.2,1080.9 C255.4,1083.8 259.6,1087.6 263.8,1091.0 C268.0,1094.3 272.8,1098.9 276.4,1101.1 C280.0,1103.2 284.0,1103.4 285.5,1103.8" stroke="#4a9fd4" stroke-width="5.3"/>
<path d="M213.3,1055.6 C215.4,1056.9 221.7,1061.1 225.9,1063.2 C230.1,1065.3 234.3,1066.6 238.5,1068.3 C242.7,1069.9 246.9,1071.2 251.2,1073.3 C255.4,1075.4 259.6,1078.4 263.8,1080.9 C268.0,1083.4 272.8,1086.3 276.4,1088.4 C280.0,1090.5 284.0,1092.7 285.5,1093.5" stroke="#4a9fd4" stroke-width="5.3"/>
<path d="M285.5,988.4 C287.7,989.1 293.5,992.3 298.9,992.6 C304.3,992.8 311.5,990.6 317.8,990.0 C324.2,989.5 330.5,989.4 336.8,989.4 C343.1,989.4 349.4,989.5 355.7,990.0 C362.0,990.6 368.3,991.7 374.6,992.6 C380.9,993.4 387.2,995.1 393.5,995.1 C399.8,995.1 407.2,993.6 412.5,992.6 C417.7,991.5 421.1,989.8 425.1,988.8 C429.1,987.7 434.6,986.7 436.6,986.3" stroke="#4a9fd4" stroke-width="5.3"/>
<path d="M285.5,1007.7 C287.7,1006.6 293.5,1003.5 298.9,1001.4 C304.3,999.3 311.5,996.6 317.8,995.1 C324.2,993.6 330.5,992.8 336.8,992.6 C343.1,992.4 349.4,993.2 355.7,993.8 C362.0,994.5 368.3,995.5 374.6,996.4 C380.9,997.2 387.2,998.2 393.5,998.9 C399.8,999.5 407.2,999.7 412.5,1000.1 C417.7,1000.6 421.1,1001.0 425.1,1001.4 C429.1,1001.8 434.6,1002.5 436.6,1002.7" stroke="#4a9fd4" stroke-width="5.3"/>
<path d="M285.5,1027.8 C286.7,1026.7 288.3,1024.5 292.6,1021.6 C297.0,1018.7 305.2,1013.6 311.5,1010.2 C317.8,1006.9 325.2,1002.7 330.5,1001.4 C335.7,1000.1 339.9,1001.8 343.1,1002.7 C346.2,1003.5 346.2,1004.1 349.4,1006.4 C352.5,1008.8 357.8,1012.8 362.0,1016.5 C366.2,1020.3 370.4,1024.9 374.6,1029.2 C378.8,1033.4 383.0,1037.6 387.2,1041.8 C391.4,1046.0 395.6,1050.2 399.8,1054.4 C404.0,1058.6 408.3,1063.4 412.5,1067.0 C416.7,1070.6 421.1,1073.5 425.1,1075.8 C429.1,1078.1 434.6,1080.0 436.6,1080.9" stroke="#4a9fd4" stroke-width="5.3"/>
<path d="M368.3,1003.9 C370.4,1005.6 376.7,1010.4 380.9,1014.0 C385.1,1017.6 389.3,1021.8 393.5,1025.4 C397.7,1028.9 401.9,1031.7 406.2,1035.5 C410.4,1039.2 414.6,1044.7 418.8,1048.1 C423.0,1051.4 428.4,1054.0 431.4,1055.6 C434.3,1057.3 435.7,1057.7 436.6,1058.2" stroke="#4a9fd4" stroke-width="5.3"/>
<path d="M387.2,1001.4 C389.3,1002.9 395.6,1007.1 399.8,1010.2 C404.0,1013.4 408.3,1017.2 412.5,1020.3 C416.7,1023.5 421.1,1026.6 425.1,1029.2 C429.1,1031.7 434.6,1034.4 436.6,1035.5" stroke="#4a9fd4" stroke-width="5.3"/>
<path d="M285.5,1035.8 C287.7,1036.0 293.5,1036.4 298.9,1036.7 C304.3,1037.1 311.5,1037.8 317.8,1038.0 C324.2,1038.2 332.6,1036.9 336.8,1038.0 C341.0,1039.0 339.9,1042.0 343.1,1044.3 C346.2,1046.6 351.5,1048.7 355.7,1051.9 C359.9,1055.0 364.1,1059.6 368.3,1063.2 C372.5,1066.8 376.7,1070.8 380.9,1073.3 C385.1,1075.8 389.3,1077.1 393.5,1078.4 C397.7,1079.6 401.9,1080.5 406.2,1080.9 C410.4,1081.3 413.7,1081.3 418.8,1080.9 C423.8,1080.5 433.6,1078.8 436.6,1078.4" stroke="#4a9fd4" stroke-width="5.3"/>
<path d="M343.1,1044.3 C345.2,1041.8 351.5,1033.4 355.7,1029.2 C359.9,1024.9 364.1,1022.2 368.3,1019.1 C372.5,1015.9 376.7,1013.0 380.9,1010.2 C385.1,1007.5 389.3,1004.8 393.5,1002.7 C397.7,1000.6 401.9,999.3 406.2,997.6 C410.4,995.9 413.7,994.3 418.8,992.6 C423.8,990.9 433.6,988.4 436.6,987.5" stroke="#4a9fd4" stroke-width="5.3"/>
<path d="M285.5,1047.2 C288.8,1047.2 297.7,1046.7 305.2,1046.8 C312.7,1047.0 322.1,1047.0 330.5,1048.1 C338.9,1049.1 349.4,1054.0 355.7,1053.1 C362.0,1052.3 364.1,1046.4 368.3,1043.0 C372.5,1039.7 376.7,1036.3 380.9,1032.9 C385.1,1029.6 389.3,1026.0 393.5,1022.8 C397.7,1019.7 401.9,1016.5 406.2,1014.0 C410.4,1011.5 413.7,1008.5 418.8,1007.7 C423.8,1006.9 433.6,1008.8 436.6,1009.0" stroke="#4a9fd4" stroke-width="5.3"/>
<path d="M387.2,1063.2 C389.3,1061.5 395.6,1056.5 399.8,1053.1 C404.0,1049.8 408.3,1046.0 412.5,1043.0 C416.7,1040.1 421.1,1038.0 425.1,1035.5 C429.1,1032.9 434.6,1029.2 436.6,1027.9" stroke="#4a9fd4" stroke-width="5.3"/>
<path d="M393.5,1073.3 C395.6,1072.3 401.9,1069.5 406.2,1067.0 C410.4,1064.5 414.6,1061.3 418.8,1058.2 C423.0,1055.0 428.4,1050.6 431.4,1048.1 C434.3,1045.6 435.7,1043.9 436.6,1043.0" stroke="#4a9fd4" stroke-width="5.3"/>
<path d="M412.5,1078.4 C414.6,1077.1 421.1,1073.3 425.1,1070.8 C429.1,1068.3 434.6,1064.5 436.6,1063.2" stroke="#4a9fd4" stroke-width="5.3"/>
<path d="M285.5,1057.2 C286.7,1057.7 289.3,1058.4 292.6,1060.7 C295.9,1063.0 301.0,1067.4 305.2,1070.8 C309.4,1074.1 313.6,1077.7 317.8,1080.9 C322.1,1084.0 327.5,1087.8 330.5,1089.7 C333.4,1091.6 332.4,1092.9 335.5,1092.2 C338.7,1091.6 345.0,1088.4 349.4,1085.9 C353.8,1083.4 357.8,1078.6 362.0,1077.1 C366.2,1075.6 370.4,1076.5 374.6,1077.1 C378.8,1077.7 383.0,1079.4 387.2,1080.9 C391.4,1082.3 395.6,1084.4 399.8,1085.9 C404.0,1087.4 408.3,1088.0 412.5,1089.7 C416.7,1091.4 421.1,1093.5 425.1,1096.0 C429.1,1098.5 434.6,1103.4 436.6,1104.8" stroke="#4a9fd4" stroke-width="5.3"/>
<path d="M285.5,1066.6 C287.7,1067.7 294.6,1070.1 298.9,1073.3 C303.3,1076.5 307.3,1082.1 311.5,1085.9 C315.7,1089.7 320.2,1093.5 324.2,1096.0 C328.1,1098.5 331.3,1101.1 335.5,1101.1 C339.7,1101.1 345.0,1097.7 349.4,1096.0 C353.8,1094.3 357.8,1092.0 362.0,1091.0 C366.2,1089.9 370.4,1089.1 374.6,1089.7 C378.8,1090.3 383.0,1092.9 387.2,1094.8 C391.4,1096.6 395.6,1098.7 399.8,1101.1 C404.0,1103.4 408.3,1106.3 412.5,1108.6 C416.7,1110.9 421.1,1113.5 425.1,1114.9 C429.1,1116.4 434.6,1117.0 436.6,1117.5" stroke="#4a9fd4" stroke-width="5.3"/>
<path d="M285.5,1103.8 C287.7,1104.6 294.6,1106.8 298.9,1108.6 C303.3,1110.5 307.3,1113.3 311.5,1114.9 C315.7,1116.6 320.2,1118.3 324.2,1118.7 C328.1,1119.1 331.3,1118.7 335.5,1117.5 C339.7,1116.2 345.0,1113.3 349.4,1111.2 C353.8,1109.0 357.8,1106.9 362.0,1104.8 C366.2,1102.7 370.4,1100.0 374.6,1098.5 C378.8,1097.1 383.0,1096.0 387.2,1096.0 C391.4,1096.0 395.6,1097.5 399.8,1098.5 C404.0,1099.6 408.3,1101.1 412.5,1102.3 C416.7,1103.6 421.1,1105.3 425.1,1106.1 C429.1,1106.9 434.6,1107.2 436.6,1107.4" stroke="#4a9fd4" stroke-width="5.3"/>
<path d="M285.5,1118.3 C287.7,1118.8 293.5,1120.1 298.9,1121.2 C304.3,1122.4 311.7,1124.0 317.8,1125.0 C323.9,1126.1 330.3,1127.8 335.5,1127.6 C340.8,1127.3 345.0,1125.2 349.4,1123.8 C353.8,1122.3 357.8,1120.0 362.0,1118.7 C366.2,1117.5 370.4,1116.6 374.6,1116.2 C378.8,1115.8 383.0,1115.8 387.2,1116.2 C391.4,1116.6 395.6,1117.7 399.8,1118.7 C404.0,1119.8 408.3,1121.5 412.5,1122.5 C416.7,1123.6 421.1,1124.6 425.1,1125.0 C429.1,1125.4 434.6,1125.0 436.6,1125.0" stroke="#4a9fd4" stroke-width="5.3"/>
<path d="M292.6,1145.0 C294.7,1144.0 300.0,1140.8 305.2,1138.9 C310.5,1137.1 317.8,1135.1 324.2,1133.9 C330.5,1132.6 336.8,1131.8 343.1,1131.3 C349.4,1130.9 355.7,1131.5 362.0,1131.3 C368.3,1131.1 374.6,1130.5 380.9,1130.1 C387.2,1129.7 393.5,1129.2 399.8,1128.8 C406.2,1128.4 412.6,1128.0 418.8,1127.6 C424.9,1127.1 433.6,1126.5 436.6,1126.3" stroke="#4a9fd4" stroke-width="5.3"/>
<path d="M317.8,1145.0 C321.0,1144.2 330.5,1141.6 336.8,1140.2 C343.1,1138.7 349.4,1137.2 355.7,1136.4 C362.0,1135.5 368.3,1135.1 374.6,1135.1 C380.9,1135.1 387.2,1135.8 393.5,1136.4 C399.8,1137.0 405.3,1137.9 412.5,1138.9 C419.6,1140.0 432.5,1142.1 436.6,1142.7" stroke="#4a9fd4" stroke-width="5.3"/>
<path d="M343.1,1111.2 C345.2,1112.2 351.5,1115.4 355.7,1117.5 C359.9,1119.6 364.1,1121.7 368.3,1123.8 C372.5,1125.9 376.7,1128.4 380.9,1130.1 C385.1,1131.8 389.3,1132.8 393.5,1133.9 C397.7,1134.9 401.9,1135.5 406.2,1136.4 C410.4,1137.2 416.7,1138.5 418.8,1138.9" stroke="#4a9fd4" stroke-width="5.3"/>
<path d="M134.8,1143.8 C137.4,1143.6 145.6,1143.2 150.2,1142.5 C154.9,1141.9 160.7,1140.4 162.8,1140.0" stroke="#4a9fd4" stroke-width="5.3"/>
<path d="M134.8,1152.6 C137.4,1152.8 144.5,1153.0 150.2,1153.9 C155.9,1154.7 162.8,1156.2 169.2,1157.7 C175.5,1159.1 181.8,1160.8 188.1,1162.7 C194.4,1164.6 200.7,1167.3 207.0,1169.0 C213.3,1170.7 220.7,1172.2 225.9,1172.8 C231.2,1173.4 234.3,1173.4 238.5,1172.8 C242.7,1172.2 246.9,1170.9 251.2,1169.0 C255.4,1167.1 259.6,1164.4 263.8,1161.4 C268.0,1158.5 272.8,1154.2 276.4,1151.4 C280.0,1148.5 284.0,1145.6 285.5,1144.4" stroke="#4a9fd4" stroke-width="5.3"/>
<path d="M134.8,1156.4 C137.4,1156.8 144.5,1157.5 150.2,1158.9 C155.9,1160.4 162.8,1162.7 169.2,1165.2 C175.5,1167.8 181.8,1171.3 188.1,1174.1 C194.4,1176.8 200.7,1180.4 207.0,1181.6 C213.3,1182.9 221.2,1181.8 225.9,1181.6 C230.6,1181.4 231.1,1181.4 235.3,1180.4 C239.5,1179.3 246.4,1177.2 251.2,1175.3 C255.9,1173.4 259.6,1171.3 263.8,1169.0 C268.0,1166.7 272.8,1162.9 276.4,1161.4 C280.0,1160.0 284.0,1160.5 285.5,1160.3" stroke="#4a9fd4" stroke-width="5.3"/>
<path d="M134.8,1157.7 C138.5,1158.7 149.8,1161.4 156.5,1164.0 C163.3,1166.5 169.2,1169.6 175.5,1172.8 C181.8,1176.0 188.1,1179.9 194.4,1182.9 C200.7,1185.8 208.0,1188.4 213.3,1190.5 C218.6,1192.6 222.3,1194.2 225.9,1195.5 C229.6,1196.8 232.1,1198.5 235.3,1198.0 C238.4,1197.6 241.1,1194.7 244.8,1193.0 C248.5,1191.3 253.3,1189.6 257.5,1187.9 C261.7,1186.3 265.4,1184.2 270.1,1182.9 C274.7,1181.6 282.9,1180.6 285.5,1180.2" stroke="#4a9fd4" stroke-width="5.3"/>
<path d="M134.8,1160.2 C137.4,1161.0 145.6,1162.9 150.2,1165.2 C154.9,1167.5 158.6,1170.9 162.8,1174.1 C167.1,1177.2 171.3,1180.8 175.5,1184.2 C179.7,1187.5 183.9,1191.1 188.1,1194.2 C192.3,1197.4 196.5,1201.4 200.7,1203.1 C204.9,1204.8 209.1,1204.3 213.3,1204.3 C217.5,1204.3 222.3,1203.1 225.9,1203.1 C229.6,1203.1 232.1,1203.7 235.3,1204.3 C238.4,1205.0 241.1,1205.8 244.8,1206.9 C248.5,1207.9 253.3,1209.6 257.5,1210.6 C261.7,1211.7 265.4,1213.2 270.1,1213.2 C274.7,1213.2 282.9,1211.1 285.5,1210.6" stroke="#4a9fd4" stroke-width="5.3"/>
<path d="M134.8,1233.4 C138.5,1232.9 149.8,1232.1 156.5,1230.8 C163.3,1229.6 169.2,1227.5 175.5,1225.8 C181.8,1224.1 188.1,1222.4 194.4,1220.7 C200.7,1219.1 208.0,1217.4 213.3,1215.7 C218.6,1214.0 222.3,1212.3 225.9,1210.6 C229.6,1209.0 231.1,1207.1 235.3,1205.6 C239.5,1204.1 245.3,1202.9 251.2,1201.8 C257.0,1200.8 264.3,1199.4 270.1,1199.3 C275.8,1199.2 282.9,1200.9 285.5,1201.2" stroke="#4a9fd4" stroke-width="5.3"/>
<path d="M134.8,1235.9 C137.4,1236.3 144.5,1237.6 150.2,1238.4 C155.9,1239.2 162.8,1241.8 169.2,1240.9 C175.5,1240.1 181.8,1236.1 188.1,1233.4 C194.4,1230.6 200.7,1227.0 207.0,1224.5 C213.3,1222.0 220.7,1219.5 225.9,1218.2 C231.2,1217.0 234.3,1216.5 238.5,1217.0 C242.7,1217.4 246.9,1219.1 251.2,1220.7 C255.4,1222.4 259.6,1224.9 263.8,1227.0 C268.0,1229.1 272.8,1231.6 276.4,1233.4 C280.0,1235.1 284.0,1236.8 285.5,1237.5" stroke="#4a9fd4" stroke-width="5.3"/>
<path d="M134.8,1239.7 C137.4,1239.9 144.5,1240.3 150.2,1240.9 C155.9,1241.6 162.8,1242.4 169.2,1243.4 C175.5,1244.5 181.8,1246.2 188.1,1247.2 C194.4,1248.3 200.7,1249.3 207.0,1249.8 C213.3,1250.2 219.6,1250.0 225.9,1249.8 C232.2,1249.5 238.5,1248.3 244.8,1248.5 C251.2,1248.7 257.0,1250.4 263.8,1251.0 C270.5,1251.6 281.9,1251.8 285.5,1251.9" stroke="#4a9fd4" stroke-width="5.3"/>
<path d="M134.8,1253.5 C138.5,1252.9 149.8,1250.8 156.5,1249.8 C163.3,1248.7 169.2,1248.1 175.5,1247.2 C181.8,1246.4 188.1,1246.0 194.4,1244.7 C200.7,1243.4 208.0,1241.1 213.3,1239.7 C218.6,1238.2 221.7,1236.9 225.9,1235.9 C230.1,1234.8 234.3,1233.8 238.5,1233.4 C242.7,1232.9 246.9,1233.1 251.2,1233.4 C255.4,1233.6 259.6,1234.6 263.8,1234.6 C268.0,1234.6 272.8,1233.8 276.4,1233.4 C280.0,1232.9 284.0,1232.3 285.5,1232.0" stroke="#4a9fd4" stroke-width="5.3"/>
<path d="M134.8,1266.2 C138.5,1265.9 149.8,1265.3 156.5,1264.9 C163.3,1264.5 169.2,1263.6 175.5,1263.6 C181.8,1263.6 188.1,1264.5 194.4,1264.9 C200.7,1265.3 207.0,1266.2 213.3,1266.2 C219.6,1266.2 225.9,1265.7 232.2,1264.9 C238.5,1264.0 245.9,1262.4 251.2,1261.1 C256.4,1259.8 259.6,1258.2 263.8,1257.3 C268.0,1256.5 272.8,1255.9 276.4,1256.1 C280.0,1256.3 284.0,1258.1 285.5,1258.5" stroke="#4a9fd4" stroke-width="5.3"/>
<path d="M134.8,1269.9 C137.4,1270.1 143.5,1270.6 150.2,1271.2 C157.0,1271.8 167.1,1272.9 175.5,1273.7 C183.9,1274.6 192.3,1276.0 200.7,1276.2 C209.1,1276.5 219.6,1275.8 225.9,1275.0 C232.2,1274.1 234.3,1271.0 238.5,1271.2 C242.7,1271.4 246.9,1274.4 251.2,1276.2 C255.4,1278.1 259.6,1280.4 263.8,1282.6 C268.0,1284.7 272.8,1287.3 276.4,1288.9 C280.0,1290.5 284.0,1291.6 285.5,1292.2" stroke="#4a9fd4" stroke-width="5.3"/>
<path d="M134.8,1280.0 C137.4,1280.7 144.5,1282.3 150.2,1283.8 C155.9,1285.3 163.9,1286.2 169.2,1288.9 C174.4,1291.5 179.7,1298.1 181.8,1300.0" stroke="#4a9fd4" stroke-width="5.3"/>
<path d="M134.8,1291.4 C137.4,1291.2 144.5,1291.0 150.2,1290.1 C155.9,1289.3 162.8,1288.0 169.2,1286.3 C175.5,1284.7 181.8,1281.7 188.1,1280.0 C194.4,1278.3 200.7,1277.3 207.0,1276.2 C213.3,1275.2 220.7,1275.0 225.9,1273.7 C231.2,1272.5 234.3,1268.7 238.5,1268.7 C242.7,1268.7 246.9,1271.6 251.2,1273.7 C255.4,1275.8 259.6,1278.8 263.8,1281.3 C268.0,1283.8 272.8,1286.7 276.4,1288.9 C280.0,1291.0 284.0,1293.4 285.5,1294.3" stroke="#4a9fd4" stroke-width="5.3"/>
<path d="M162.8,1290.1 C164.9,1288.9 171.3,1284.9 175.5,1282.6 C179.7,1280.2 183.9,1278.1 188.1,1276.2 C192.3,1274.4 196.5,1272.7 200.7,1271.2 C204.9,1269.7 209.1,1268.5 213.3,1267.4 C217.5,1266.4 222.3,1265.9 225.9,1264.9 C229.6,1263.8 231.1,1262.2 235.3,1261.1 C239.5,1260.1 245.3,1258.8 251.2,1258.6 C257.0,1258.4 264.3,1259.5 270.1,1259.8 C275.8,1260.2 282.9,1260.7 285.5,1260.8" stroke="#4a9fd4" stroke-width="5.3"/>
<path d="M285.5,1144.4 C287.7,1144.1 293.5,1142.4 298.9,1142.5 C304.3,1142.6 311.7,1143.8 317.8,1145.0 C323.9,1146.3 330.3,1149.7 335.5,1150.1 C340.8,1150.5 343.9,1148.4 349.4,1147.6 C354.8,1146.7 362.0,1145.5 368.3,1145.0 C374.6,1144.6 380.9,1144.8 387.2,1145.0 C393.5,1145.3 400.9,1146.5 406.2,1146.3 C411.4,1146.1 413.7,1144.4 418.8,1143.8 C423.8,1143.2 433.6,1142.7 436.6,1142.5" stroke="#4a9fd4" stroke-width="5.3"/>
<path d="M285.5,1148.6 C287.7,1148.0 293.5,1145.0 298.9,1145.0 C304.3,1145.1 311.7,1146.3 317.8,1148.8 C323.9,1151.4 330.3,1159.1 335.5,1160.2 C340.8,1161.2 345.0,1156.8 349.4,1155.1 C353.8,1153.5 356.7,1151.4 362.0,1150.1 C367.3,1148.8 374.6,1147.8 380.9,1147.6 C387.2,1147.4 393.5,1148.4 399.8,1148.8 C406.2,1149.3 412.6,1149.7 418.8,1150.1 C424.9,1150.5 433.6,1151.1 436.6,1151.4" stroke="#4a9fd4" stroke-width="5.3"/>
<path d="M285.5,1160.3 C287.7,1160.1 293.5,1160.0 298.9,1158.9 C304.3,1157.9 311.7,1154.3 317.8,1153.9 C323.9,1153.5 330.3,1154.5 335.5,1156.4 C340.8,1158.3 345.0,1161.9 349.4,1165.2 C353.8,1168.6 358.4,1173.2 362.0,1176.6 C365.6,1179.9 367.7,1185.2 370.8,1185.4 C374.0,1185.6 377.1,1180.6 380.9,1177.8 C384.7,1175.1 389.3,1171.5 393.5,1169.0 C397.7,1166.5 401.9,1164.6 406.2,1162.7 C410.4,1160.8 413.7,1159.1 418.8,1157.7 C423.8,1156.2 433.6,1154.5 436.6,1153.9" stroke="#4a9fd4" stroke-width="5.3"/>
<path d="M285.5,1171.0 C287.7,1170.2 293.5,1167.9 298.9,1166.5 C304.3,1165.1 311.7,1163.8 317.8,1162.7 C323.9,1161.7 330.3,1159.3 335.5,1160.2 C340.8,1161.0 345.0,1165.2 349.4,1167.8 C353.8,1170.3 357.8,1175.7 362.0,1175.3 C366.2,1174.9 370.4,1166.3 374.6,1165.2 C378.8,1164.2 383.0,1167.3 387.2,1169.0 C391.4,1170.7 395.6,1175.1 399.8,1175.3 C404.0,1175.5 408.3,1172.8 412.5,1170.3 C416.7,1167.8 421.1,1162.7 425.1,1160.2 C429.1,1157.7 434.6,1156.0 436.6,1155.1" stroke="#4a9fd4" stroke-width="5.3"/>
<path d="M285.5,1180.2 C287.7,1179.8 293.5,1179.1 298.9,1177.8 C304.3,1176.6 311.7,1174.1 317.8,1172.8 C323.9,1171.5 330.3,1169.9 335.5,1170.3 C340.8,1170.7 345.0,1172.8 349.4,1175.3 C353.8,1177.8 357.8,1182.5 362.0,1185.4 C366.2,1188.4 370.4,1191.5 374.6,1193.0 C378.8,1194.5 383.0,1195.3 387.2,1194.2 C391.4,1193.2 395.6,1189.6 399.8,1186.7 C404.0,1183.7 408.3,1180.2 412.5,1176.6 C416.7,1173.0 421.1,1168.6 425.1,1165.2 C429.1,1161.9 434.6,1157.9 436.6,1156.4" stroke="#4a9fd4" stroke-width="5.3"/>
<path d="M285.5,1201.2 C287.7,1200.5 293.5,1199.6 298.9,1196.8 C304.3,1193.9 311.7,1187.5 317.8,1184.2 C323.9,1180.8 330.3,1177.6 335.5,1176.6 C340.8,1175.5 343.9,1176.0 349.4,1177.8 C354.8,1179.7 362.0,1184.6 368.3,1187.9 C374.6,1191.3 382.0,1195.9 387.2,1198.0 C392.5,1200.1 395.6,1198.5 399.8,1200.6 C404.0,1202.7 408.3,1207.3 412.5,1210.6 C416.7,1214.0 421.1,1218.4 425.1,1220.7 C429.1,1223.0 434.6,1223.9 436.6,1224.5" stroke="#4a9fd4" stroke-width="5.3"/>
<path d="M285.5,1210.6 C287.7,1209.8 293.5,1208.5 298.9,1205.6 C304.3,1202.7 311.7,1196.1 317.8,1193.0 C323.9,1189.8 330.3,1187.5 335.5,1186.7 C340.8,1185.8 345.0,1186.5 349.4,1187.9 C353.8,1189.4 357.8,1193.2 362.0,1195.5 C366.2,1197.8 370.4,1199.9 374.6,1201.8 C378.8,1203.7 383.0,1205.4 387.2,1206.9 C391.4,1208.3 395.6,1208.3 399.8,1210.6 C404.0,1213.0 408.3,1217.8 412.5,1220.7 C416.7,1223.7 421.1,1226.2 425.1,1228.3 C429.1,1230.4 434.6,1232.5 436.6,1233.4" stroke="#4a9fd4" stroke-width="5.3"/>
<path d="M285.5,1212.8 C287.7,1212.7 293.5,1211.6 298.9,1211.9 C304.3,1212.2 311.7,1213.8 317.8,1214.4 C323.9,1215.1 330.3,1215.7 335.5,1215.7 C340.8,1215.7 345.0,1215.1 349.4,1214.4 C353.8,1213.8 357.8,1212.5 362.0,1211.9 C366.2,1211.3 370.4,1210.0 374.6,1210.6 C378.8,1211.3 383.0,1213.2 387.2,1215.7 C391.4,1218.2 395.6,1222.4 399.8,1225.8 C404.0,1229.1 408.3,1233.4 412.5,1235.9 C416.7,1238.4 421.1,1240.1 425.1,1240.9 C429.1,1241.8 434.6,1240.9 436.6,1240.9" stroke="#4a9fd4" stroke-width="5.3"/>
<path d="M285.5,1232.0 C287.7,1232.3 293.5,1232.7 298.9,1233.4 C304.3,1234.0 311.7,1235.0 317.8,1235.9 C323.9,1236.7 330.3,1237.6 335.5,1238.4 C340.8,1239.2 345.0,1241.1 349.4,1240.9 C353.8,1240.7 357.8,1239.2 362.0,1237.1 C366.2,1235.0 371.5,1230.2 374.6,1228.3 C377.8,1226.4 377.8,1225.4 380.9,1225.8 C384.1,1226.2 389.3,1228.7 393.5,1230.8 C397.7,1232.9 401.9,1236.3 406.2,1238.4 C410.4,1240.5 413.7,1242.4 418.8,1243.4 C423.8,1244.5 433.6,1244.5 436.6,1244.7" stroke="#4a9fd4" stroke-width="5.3"/>
<path d="M285.5,1243.1 C287.7,1242.9 293.5,1242.1 298.9,1242.2 C304.3,1242.2 311.7,1243.2 317.8,1243.4 C323.9,1243.7 330.3,1243.2 335.5,1243.4 C340.8,1243.7 345.0,1243.9 349.4,1244.7 C353.8,1245.5 357.8,1247.6 362.0,1248.5 C366.2,1249.3 370.4,1249.3 374.6,1249.8 C378.8,1250.2 383.0,1250.6 387.2,1251.0 C391.4,1251.4 395.6,1252.1 399.8,1252.3 C404.0,1252.5 408.3,1252.1 412.5,1252.3 C416.7,1252.5 421.1,1253.3 425.1,1253.5 C429.1,1253.7 434.6,1253.5 436.6,1253.5" stroke="#4a9fd4" stroke-width="5.3"/>
<path d="M285.5,1237.5 C287.7,1238.1 293.5,1238.7 298.9,1240.9 C304.3,1243.2 311.7,1247.9 317.8,1251.0 C323.9,1254.2 330.3,1259.0 335.5,1259.8 C340.8,1260.7 345.0,1258.0 349.4,1256.1 C353.8,1254.2 357.8,1250.6 362.0,1248.5 C366.2,1246.4 370.4,1244.5 374.6,1243.4 C378.8,1242.4 383.0,1242.2 387.2,1242.2 C391.4,1242.2 395.6,1242.6 399.8,1243.4 C404.0,1244.3 408.3,1245.5 412.5,1247.2 C416.7,1248.9 421.1,1251.4 425.1,1253.5 C429.1,1255.6 434.6,1258.8 436.6,1259.8" stroke="#4a9fd4" stroke-width="5.3"/>
<path d="M285.5,1251.9 C287.7,1252.2 293.5,1252.0 298.9,1253.5 C304.3,1255.1 311.7,1258.6 317.8,1261.1 C323.9,1263.6 330.3,1267.2 335.5,1268.7 C340.8,1270.1 345.0,1270.1 349.4,1269.9 C353.8,1269.7 357.8,1268.5 362.0,1267.4 C366.2,1266.4 370.4,1264.7 374.6,1263.6 C378.8,1262.6 383.0,1261.7 387.2,1261.1 C391.4,1260.5 395.6,1259.8 399.8,1259.8 C404.0,1259.8 408.3,1260.3 412.5,1261.1 C416.7,1261.9 421.1,1263.8 425.1,1264.9 C429.1,1265.9 434.6,1267.0 436.6,1267.4" stroke="#4a9fd4" stroke-width="5.3"/>
<path d="M285.5,1258.5 C287.7,1259.4 293.5,1261.5 298.9,1263.6 C304.3,1265.7 311.7,1269.1 317.8,1271.2 C323.9,1273.3 330.3,1275.2 335.5,1276.2 C340.8,1277.3 345.0,1277.5 349.4,1277.5 C353.8,1277.5 357.8,1276.9 362.0,1276.2 C366.2,1275.6 370.4,1274.1 374.6,1273.7 C378.8,1273.3 383.0,1273.3 387.2,1273.7 C391.4,1274.1 395.6,1276.0 399.8,1276.2 C404.0,1276.5 408.3,1274.8 412.5,1275.0 C416.7,1275.2 421.1,1276.9 425.1,1277.5 C429.1,1278.1 434.6,1278.6 436.6,1278.8" stroke="#4a9fd4" stroke-width="5.3"/>
<path d="M285.5,1292.2 C287.7,1291.4 293.5,1289.8 298.9,1287.6 C304.3,1285.4 311.7,1280.7 317.8,1278.8 C323.9,1276.9 330.3,1276.0 335.5,1276.2 C340.8,1276.5 345.0,1278.8 349.4,1280.0 C353.8,1281.3 357.8,1283.2 362.0,1283.8 C366.2,1284.4 370.4,1284.0 374.6,1283.8 C378.8,1283.6 383.0,1282.8 387.2,1282.6 C391.4,1282.3 395.6,1282.1 399.8,1282.6 C404.0,1283.0 408.3,1284.2 412.5,1285.1 C416.7,1285.9 421.1,1286.8 425.1,1287.6 C429.1,1288.4 434.6,1289.7 436.6,1290.1" stroke="#4a9fd4" stroke-width="5.3"/>
<path d="M330.5,1280.0 C332.6,1280.9 338.9,1283.2 343.1,1285.1 C347.3,1287.0 351.5,1288.9 355.7,1291.4 C359.9,1293.9 366.2,1298.5 368.3,1300.0" stroke="#4a9fd4" stroke-width="5.3"/>
<path d="M387.2,1300.0 C389.3,1298.5 395.6,1293.9 399.8,1291.4 C404.0,1288.9 408.3,1286.8 412.5,1285.1 C416.7,1283.4 421.1,1282.1 425.1,1281.3 C429.1,1280.4 434.6,1280.2 436.6,1280.0" stroke="#4a9fd4" stroke-width="5.3"/>
<path d="M134.8,1312.7 C137.4,1311.8 145.6,1309.7 150.2,1307.6 C154.9,1305.5 159.7,1302.1 162.8,1300.0 C166.0,1297.9 168.1,1295.8 169.2,1295.0" stroke="#4a9fd4" stroke-width="5.3"/>
<path d="M162.8,1295.0 C166.0,1296.3 175.5,1299.8 181.8,1302.6 C188.1,1305.3 194.4,1308.7 200.7,1311.4 C207.0,1314.1 213.9,1317.3 219.6,1319.0 C225.4,1320.7 230.0,1321.7 235.3,1321.5 C240.5,1321.3 245.3,1319.4 251.2,1317.7 C257.0,1316.0 264.3,1312.9 270.1,1311.4 C275.8,1309.9 282.9,1309.1 285.5,1308.7" stroke="#4a9fd4" stroke-width="5.3"/>
<path d="M134.8,1321.5 C137.4,1322.1 144.5,1323.0 150.2,1325.3 C155.9,1327.6 163.9,1332.2 169.2,1335.4 C174.4,1338.5 178.2,1342.1 181.8,1344.2 C185.3,1346.3 187.4,1346.1 190.6,1348.0 C193.8,1349.9 195.9,1352.6 200.7,1355.6 C205.5,1358.5 213.9,1363.3 219.6,1365.6 C225.4,1368.0 230.0,1368.8 235.3,1369.4 C240.5,1370.1 244.3,1369.8 251.2,1369.4 C258.0,1369.0 270.7,1367.6 276.4,1366.9 C282.1,1366.3 284.0,1365.8 285.5,1365.5" stroke="#4a9fd4" stroke-width="5.3"/>
<path d="M134.8,1370.7 C137.4,1369.6 144.5,1366.9 150.2,1364.4 C155.9,1361.9 162.8,1358.3 169.2,1355.6 C175.5,1352.8 181.8,1350.5 188.1,1348.0 C194.4,1345.5 200.7,1343.1 207.0,1340.4 C213.3,1337.7 221.2,1333.5 225.9,1331.6 C230.6,1329.7 231.1,1330.3 235.3,1329.1 C239.5,1327.8 245.3,1326.1 251.2,1324.0 C257.0,1321.9 264.3,1318.5 270.1,1316.4 C275.8,1314.4 282.9,1312.6 285.5,1311.8" stroke="#4a9fd4" stroke-width="5.3"/>
<path d="M134.8,1373.2 C137.4,1373.4 143.5,1373.2 150.2,1374.5 C157.0,1375.7 167.1,1379.1 175.5,1380.8 C183.9,1382.5 193.3,1384.4 200.7,1384.6 C208.0,1384.8 213.9,1383.1 219.6,1382.0 C225.4,1381.0 230.0,1379.7 235.3,1378.3 C240.5,1376.8 245.3,1374.9 251.2,1373.2 C257.0,1371.5 264.3,1369.2 270.1,1368.2 C275.8,1367.2 282.9,1367.3 285.5,1367.1" stroke="#4a9fd4" stroke-width="5.3"/>
<path d="M134.8,1378.3 C137.4,1378.9 144.5,1380.8 150.2,1382.0 C155.9,1383.3 162.8,1384.4 169.2,1385.8 C175.5,1387.3 181.8,1389.6 188.1,1390.9 C194.4,1392.1 200.7,1392.8 207.0,1393.4 C213.3,1394.0 221.2,1394.2 225.9,1394.7 C230.6,1395.1 231.1,1396.1 235.3,1395.9 C239.5,1395.7 246.4,1394.4 251.2,1393.4 C255.9,1392.3 259.6,1390.9 263.8,1389.6 C268.0,1388.4 272.8,1387.0 276.4,1385.8 C280.0,1384.7 284.0,1383.1 285.5,1382.6" stroke="#4a9fd4" stroke-width="5.3"/>
<path d="M200.7,1355.6 C202.8,1354.3 209.1,1350.1 213.3,1348.0 C217.5,1345.9 222.3,1344.0 225.9,1342.9 C229.6,1341.9 231.1,1341.5 235.3,1341.7 C239.5,1341.9 245.3,1343.1 251.2,1344.2 C257.0,1345.3 264.3,1347.0 270.1,1348.0 C275.8,1348.9 282.9,1349.6 285.5,1349.9" stroke="#4a9fd4" stroke-width="5.3"/>
<path d="M134.8,1404.8 C137.4,1404.5 144.5,1404.3 150.2,1403.5 C155.9,1402.6 162.8,1400.8 169.2,1399.7 C175.5,1398.7 181.8,1398.0 188.1,1397.2 C194.4,1396.3 200.7,1395.3 207.0,1394.7 C213.3,1394.0 221.2,1393.4 225.9,1393.4 C230.6,1393.4 232.1,1393.8 235.3,1394.7 C238.4,1395.5 241.1,1396.8 244.8,1398.4 C248.5,1400.1 253.3,1402.6 257.5,1404.8 C261.7,1406.9 265.4,1409.6 270.1,1411.1 C274.7,1412.6 282.9,1413.3 285.5,1413.7" stroke="#4a9fd4" stroke-width="5.3"/>
<path d="M134.8,1413.6 C137.4,1413.4 144.5,1412.7 150.2,1412.3 C155.9,1411.9 162.8,1411.5 169.2,1411.1 C175.5,1410.6 181.8,1410.2 188.1,1409.8 C194.4,1409.4 200.7,1409.0 207.0,1408.5 C213.3,1408.1 221.2,1407.5 225.9,1407.3 C230.6,1407.1 232.1,1406.9 235.3,1407.3 C238.4,1407.7 241.1,1408.3 244.8,1409.8 C248.5,1411.3 253.3,1414.2 257.5,1416.1 C261.7,1418.0 265.4,1420.1 270.1,1421.2 C274.7,1422.2 282.9,1422.3 285.5,1422.6" stroke="#4a9fd4" stroke-width="5.3"/>
<path d="M134.8,1416.1 C137.4,1415.9 144.5,1416.1 150.2,1414.8 C155.9,1413.6 162.8,1410.4 169.2,1408.5 C175.5,1406.6 181.8,1404.8 188.1,1403.5 C194.4,1402.2 200.7,1401.6 207.0,1401.0 C213.3,1400.3 221.2,1400.1 225.9,1399.7 C230.6,1399.3 231.1,1399.1 235.3,1398.4 C239.5,1397.8 245.3,1397.2 251.2,1395.9 C257.0,1394.7 264.3,1392.4 270.1,1390.9 C275.8,1389.4 282.9,1387.6 285.5,1387.0" stroke="#4a9fd4" stroke-width="5.3"/>
<path d="M134.8,1422.4 C137.4,1423.3 144.5,1425.8 150.2,1427.5 C155.9,1429.1 162.8,1431.0 169.2,1432.5 C175.5,1434.0 181.8,1435.2 188.1,1436.3 C194.4,1437.3 200.7,1438.2 207.0,1438.8 C213.3,1439.4 221.2,1439.9 225.9,1440.1 C230.6,1440.3 231.1,1440.3 235.3,1440.1 C239.5,1439.9 245.3,1439.2 251.2,1438.8 C257.0,1438.4 264.3,1438.2 270.1,1437.6 C275.8,1436.9 282.9,1435.4 285.5,1435.0" stroke="#4a9fd4" stroke-width="5.3"/>
<path d="M134.8,1455.8 C139.5,1455.7 154.0,1455.7 162.8,1455.2 C171.7,1454.7 179.7,1453.7 188.1,1452.7 C196.5,1451.6 205.4,1450.0 213.3,1448.9 C221.2,1447.9 226.8,1447.1 235.3,1446.4 C243.7,1445.6 255.4,1444.9 263.8,1444.5 C272.1,1444.0 281.9,1443.8 285.5,1443.7" stroke="#4a9fd4" stroke-width="5.3"/>
<path d="M285.5,1294.3 C287.7,1294.6 293.5,1296.1 298.9,1296.3 C304.3,1296.4 314.7,1295.2 317.8,1295.0" stroke="#4a9fd4" stroke-width="5.3"/>
<path d="M349.4,1295.0 C351.5,1296.3 358.8,1300.9 362.0,1302.6 C365.2,1304.3 365.2,1305.5 368.3,1305.1 C371.5,1304.7 376.7,1301.7 380.9,1300.0 C385.1,1298.4 391.4,1295.8 393.5,1295.0" stroke="#4a9fd4" stroke-width="5.3"/>
<path d="M285.5,1311.8 C286.7,1311.8 288.3,1309.8 292.6,1311.4 C297.0,1313.0 306.3,1318.5 311.5,1321.5 C316.8,1324.4 320.2,1327.4 324.2,1329.1 C328.1,1330.7 331.3,1332.2 335.5,1331.6 C339.7,1331.0 345.0,1327.6 349.4,1325.3 C353.8,1323.0 357.8,1319.6 362.0,1317.7 C366.2,1315.8 370.4,1315.2 374.6,1313.9 C378.8,1312.7 383.0,1312.0 387.2,1310.1 C391.4,1308.2 395.6,1304.7 399.8,1302.6 C404.0,1300.5 408.3,1298.8 412.5,1297.5 C416.7,1296.3 423.0,1295.4 425.1,1295.0" stroke="#4a9fd4" stroke-width="5.3"/>
<path d="M285.5,1349.9 C287.7,1349.6 293.5,1348.7 298.9,1348.0 C304.3,1347.2 311.7,1346.5 317.8,1345.5 C323.9,1344.4 330.3,1343.8 335.5,1341.7 C340.8,1339.6 345.0,1335.4 349.4,1332.8 C353.8,1330.3 357.8,1328.6 362.0,1326.5 C366.2,1324.4 370.4,1322.3 374.6,1320.2 C378.8,1318.1 383.0,1316.0 387.2,1313.9 C391.4,1311.8 395.6,1309.5 399.8,1307.6 C404.0,1305.7 408.3,1304.0 412.5,1302.6 C416.7,1301.1 421.1,1299.8 425.1,1298.8 C429.1,1297.7 434.6,1296.7 436.6,1296.3" stroke="#4a9fd4" stroke-width="5.3"/>
<path d="M285.5,1308.7 C287.7,1309.7 293.5,1312.2 298.9,1315.2 C304.3,1318.2 311.7,1322.8 317.8,1326.5 C323.9,1330.3 330.3,1334.7 335.5,1337.9 C340.8,1341.0 345.0,1343.4 349.4,1345.5 C353.8,1347.6 357.8,1349.0 362.0,1350.5 C366.2,1352.0 370.4,1353.0 374.6,1354.3 C378.8,1355.6 383.0,1356.8 387.2,1358.1 C391.4,1359.3 395.6,1360.6 399.8,1361.9 C404.0,1363.1 408.3,1364.4 412.5,1365.6 C416.7,1366.9 421.1,1368.4 425.1,1369.4 C429.1,1370.5 434.6,1371.5 436.6,1372.0" stroke="#4a9fd4" stroke-width="5.3"/>
<path d="M285.5,1365.5 C287.7,1365.1 293.5,1364.4 298.9,1363.1 C304.3,1361.9 311.7,1359.5 317.8,1358.1 C323.9,1356.6 330.3,1355.1 335.5,1354.3 C340.8,1353.5 345.0,1352.8 349.4,1353.0 C353.8,1353.2 357.8,1354.7 362.0,1355.6 C366.2,1356.4 370.4,1357.0 374.6,1358.1 C378.8,1359.1 383.0,1360.6 387.2,1361.9 C391.4,1363.1 395.6,1364.4 399.8,1365.6 C404.0,1366.9 408.3,1368.6 412.5,1369.4 C416.7,1370.3 421.1,1370.5 425.1,1370.7 C429.1,1370.9 434.6,1370.7 436.6,1370.7" stroke="#4a9fd4" stroke-width="5.3"/>
<path d="M349.4,1348.0 C351.5,1346.5 357.8,1341.9 362.0,1339.2 C366.2,1336.4 371.5,1333.3 374.6,1331.6 C377.8,1329.9 377.8,1328.4 380.9,1329.1 C384.1,1329.7 389.3,1332.2 393.5,1335.4 C397.7,1338.5 401.9,1344.2 406.2,1348.0 C410.4,1351.8 414.6,1355.3 418.8,1358.1 C423.0,1360.8 428.4,1363.1 431.4,1364.4 C434.3,1365.6 435.7,1365.4 436.6,1365.6" stroke="#4a9fd4" stroke-width="5.3"/>
<path d="M362.0,1350.5 C364.1,1349.7 370.4,1346.7 374.6,1345.5 C378.8,1344.2 383.0,1344.2 387.2,1342.9 C391.4,1341.7 395.6,1339.8 399.8,1337.9 C404.0,1336.0 408.3,1333.7 412.5,1331.6 C416.7,1329.5 421.1,1327.0 425.1,1325.3 C429.1,1323.6 434.6,1322.1 436.6,1321.5" stroke="#4a9fd4" stroke-width="5.3"/>
<path d="M285.5,1382.6 C287.7,1381.8 293.5,1379.8 298.9,1378.3 C304.3,1376.7 311.7,1374.3 317.8,1373.2 C323.9,1372.2 330.3,1371.7 335.5,1372.0 C340.8,1372.2 345.0,1373.2 349.4,1374.5 C353.8,1375.7 357.8,1377.6 362.0,1379.5 C366.2,1381.4 370.4,1383.9 374.6,1385.8 C378.8,1387.7 383.0,1389.6 387.2,1390.9 C391.4,1392.1 395.6,1392.6 399.8,1393.4 C404.0,1394.2 408.3,1394.7 412.5,1395.9 C416.7,1397.2 421.1,1399.5 425.1,1401.0 C429.1,1402.4 434.6,1404.1 436.6,1404.8" stroke="#4a9fd4" stroke-width="5.3"/>
<path d="M285.5,1367.1 C287.7,1367.3 293.5,1368.2 298.9,1368.2 C304.3,1368.1 311.7,1366.9 317.8,1366.9 C323.9,1366.9 330.3,1367.5 335.5,1368.2 C340.8,1368.8 345.0,1369.8 349.4,1370.7 C353.8,1371.5 357.8,1372.2 362.0,1373.2 C366.2,1374.3 370.4,1375.9 374.6,1377.0 C378.8,1378.0 383.0,1378.7 387.2,1379.5 C391.4,1380.4 395.6,1381.2 399.8,1382.0 C404.0,1382.9 408.3,1384.6 412.5,1384.6 C416.7,1384.6 421.1,1382.7 425.1,1382.0 C429.1,1381.4 434.6,1381.0 436.6,1380.8" stroke="#4a9fd4" stroke-width="5.3"/>
<path d="M355.7,1373.2 C357.8,1374.5 364.1,1378.3 368.3,1380.8 C372.5,1383.3 376.7,1386.2 380.9,1388.4 C385.1,1390.5 389.3,1393.8 393.5,1393.4 C397.7,1393.0 401.9,1387.9 406.2,1385.8 C410.4,1383.7 413.7,1382.0 418.8,1380.8 C423.8,1379.5 433.6,1378.7 436.6,1378.3" stroke="#4a9fd4" stroke-width="5.3"/>
<path d="M285.5,1413.7 C287.7,1414.1 293.5,1414.9 298.9,1416.1 C304.3,1417.3 311.7,1419.9 317.8,1421.2 C323.9,1422.4 330.3,1423.7 335.5,1423.7 C340.8,1423.7 345.0,1422.4 349.4,1421.2 C353.8,1419.9 357.8,1418.2 362.0,1416.1 C366.2,1414.0 370.4,1410.8 374.6,1408.5 C378.8,1406.2 383.0,1403.9 387.2,1402.2 C391.4,1400.5 395.6,1399.5 399.8,1398.4 C404.0,1397.4 408.3,1396.8 412.5,1395.9 C416.7,1395.1 421.1,1394.0 425.1,1393.4 C429.1,1392.8 434.6,1392.3 436.6,1392.1" stroke="#4a9fd4" stroke-width="5.3"/>
<path d="M285.5,1422.6 C287.7,1422.8 293.5,1422.7 298.9,1423.7 C304.3,1424.7 311.7,1427.7 317.8,1428.7 C323.9,1429.8 330.3,1430.0 335.5,1430.0 C340.8,1430.0 345.0,1429.4 349.4,1428.7 C353.8,1428.1 357.8,1427.2 362.0,1426.2 C366.2,1425.1 370.4,1423.5 374.6,1422.4 C378.8,1421.4 383.0,1420.9 387.2,1419.9 C391.4,1418.8 395.6,1417.2 399.8,1416.1 C404.0,1415.1 408.3,1414.4 412.5,1413.6 C416.7,1412.7 421.1,1411.3 425.1,1411.1 C429.1,1410.8 434.6,1412.1 436.6,1412.3" stroke="#4a9fd4" stroke-width="5.3"/>
<path d="M285.5,1435.0 C287.7,1434.6 293.5,1432.7 298.9,1432.5 C304.3,1432.3 311.7,1432.9 317.8,1433.8 C323.9,1434.6 330.3,1437.3 335.5,1437.6 C340.8,1437.8 345.0,1435.9 349.4,1435.0 C353.8,1434.2 357.8,1433.3 362.0,1432.5 C366.2,1431.7 370.4,1430.6 374.6,1430.0 C378.8,1429.4 383.0,1429.4 387.2,1428.7 C391.4,1428.1 395.6,1426.8 399.8,1426.2 C404.0,1425.6 408.3,1425.4 412.5,1424.9 C416.7,1424.5 421.1,1424.1 425.1,1423.7 C429.1,1423.3 434.6,1422.6 436.6,1422.4" stroke="#4a9fd4" stroke-width="5.3"/>
<path d="M285.5,1443.7 C287.7,1443.5 293.5,1443.2 298.9,1442.6 C304.3,1442.0 311.7,1440.7 317.8,1440.1 C323.9,1439.4 330.3,1438.8 335.5,1438.8 C340.8,1438.8 345.0,1439.2 349.4,1440.1 C353.8,1440.9 357.8,1442.8 362.0,1443.9 C366.2,1444.9 370.4,1445.5 374.6,1446.4 C378.8,1447.2 383.0,1448.1 387.2,1448.9 C391.4,1449.7 395.6,1450.6 399.8,1451.4 C404.0,1452.3 408.3,1453.3 412.5,1454.0 C416.7,1454.6 421.1,1454.9 425.1,1455.2 C429.1,1455.5 434.6,1455.7 436.6,1455.8" stroke="#4a9fd4" stroke-width="5.3"/>
<path d="M134.8,323.7 C141.3,323.3 161.3,322.9 173.9,321.3 C186.5,319.7 200.4,315.7 210.6,313.9 C220.8,312.1 228.2,310.3 235.1,310.3 C242.0,310.3 246.1,310.4 252.2,313.9 C258.3,317.4 264.4,322.5 271.8,331.1 C279.2,339.7 288.2,354.3 296.3,365.3 C304.4,376.3 314.3,388.9 320.7,397.1 C327.1,405.3 330.1,414.9 334.9,414.7 C339.7,414.5 344.9,401.8 349.4,396.2 C353.9,390.6 357.7,385.6 361.9,381.0 C366.1,376.4 370.3,371.8 374.5,368.4 C378.7,365.0 381.9,363.5 387.2,360.8 C392.5,358.1 400.9,354.5 406.2,352.0 C411.5,349.5 413.7,348.0 418.8,345.7 C423.9,343.4 433.6,339.4 436.6,338.1" stroke="#4a9fd4" stroke-width="5.3"/>
</g>
<rect x="119.6" y="4.3" width="330.0" height="1463.1000000000001" fill="none" stroke="#000" stroke-width="2.2"/>
<line x1="107.6" y1="43.999999999999886" x2="119.6" y2="43.999999999999886" stroke="#000" stroke-width="2.4"/>
<text x="95.5" y="56.999999999999886" font-size="36" text-anchor="end" font-weight="normal" font-style="normal" fill="#000">6</text>
<line x1="107.6" y1="251.79999999999995" x2="119.6" y2="251.79999999999995" stroke="#000" stroke-width="2.4"/>
<text x="95.5" y="264.79999999999995" font-size="36" text-anchor="end" font-weight="normal" font-style="normal" fill="#000">4</text>
<line x1="107.6" y1="459.59999999999997" x2="119.6" y2="459.59999999999997" stroke="#000" stroke-width="2.4"/>
<text x="95.5" y="472.59999999999997" font-size="36" text-anchor="end" font-weight="normal" font-style="normal" fill="#000">2</text>
<line x1="107.6" y1="667.4" x2="119.6" y2="667.4" stroke="#000" stroke-width="2.4"/>
<text x="95.5" y="680.4" font-size="36" text-anchor="end" font-weight="normal" font-style="normal" fill="#000">0</text>
<line x1="107.6" y1="875.2" x2="119.6" y2="875.2" stroke="#000" stroke-width="2.4"/>
<text x="48.3" y="888.2" font-size="36" text-anchor="start" font-weight="normal" font-style="normal" fill="#000" textLength="46.1" lengthAdjust="spacingAndGlyphs">−2</text>
<line x1="107.6" y1="1083.0" x2="119.6" y2="1083.0" stroke="#000" stroke-width="2.4"/>
<text x="48.3" y="1096.0" font-size="36" text-anchor="start" font-weight="normal" font-style="normal" fill="#000" textLength="46.1" lengthAdjust="spacingAndGlyphs">−4</text>
<line x1="107.6" y1="1290.8000000000002" x2="119.6" y2="1290.8000000000002" stroke="#000" stroke-width="2.4"/>
<text x="48.3" y="1303.8000000000002" font-size="36" text-anchor="start" font-weight="normal" font-style="normal" fill="#000" textLength="46.1" lengthAdjust="spacingAndGlyphs">−6</text>
<line x1="134.8" y1="1467.4" x2="134.8" y2="1479.4" stroke="#000" stroke-width="2.4"/>
<text x="134.8" y="1516" font-size="36" text-anchor="middle" font-weight="normal" font-style="normal" fill="#000">Γ</text>
<line x1="235.2" y1="1467.4" x2="235.2" y2="1479.4" stroke="#000" stroke-width="2.4"/>
<text x="235.2" y="1516" font-size="36" text-anchor="middle" font-weight="normal" font-style="normal" fill="#000">M</text>
<line x1="335.5" y1="1467.4" x2="335.5" y2="1479.4" stroke="#000" stroke-width="2.4"/>
<text x="335.5" y="1516" font-size="36" text-anchor="middle" font-weight="normal" font-style="normal" fill="#000">X</text>
<line x1="436.6" y1="1467.4" x2="436.6" y2="1479.4" stroke="#000" stroke-width="2.4"/>
<text x="436.6" y="1516" font-size="36" text-anchor="middle" font-weight="normal" font-style="normal" fill="#000">Γ</text>
<text x="201.7" y="1561.4" font-size="36" text-anchor="start" font-weight="normal" font-style="normal" fill="#000" textLength="165.4" lengthAdjust="spacingAndGlyphs">k-point [-]</text>
<text x="26" y="736.2" font-size="36" text-anchor="middle" font-weight="normal" font-style="normal" fill="#000" textLength="197" lengthAdjust="spacingAndGlyphs" transform="rotate(-90 26 736.2)">energy [eV]</text>
<rect x="149" y="17.8" width="271.4" height="93.6" rx="4.5" fill="#fff" fill-opacity="0.8" stroke="#ccc" stroke-width="2.2"/>
<line x1="158" y1="41.7" x2="219.6" y2="41.7" stroke="#000" stroke-width="4.8"/>
<line x1="158" y1="84.1" x2="219.6" y2="84.1" stroke="#4a9fd4" stroke-width="4.8"/>
<clipPath id="clipA"><rect x="119.6" y="4.3" width="330.0" height="1463.1000000000001"/></clipPath>
<clipPath id="clipB"><rect x="597.6" y="4.0" width="648.6999999999999" height="516.5"/></clipPath>
<clipPath id="clipC"><rect x="597.6" y="534.7" width="648.6999999999999" height="163.79999999999995"/></clipPath>
<line x1="738.0" y1="520.5" x2="738.0" y2="4.0" stroke="#808080" stroke-width="5.1" stroke-dasharray="32.4 8.1 5.06 8.1" stroke-dashoffset="1.6"/>
<line x1="738.0" y1="698.5" x2="738.0" y2="534.7" stroke="#808080" stroke-width="5.1" stroke-dasharray="32.4 8.1 5.06 8.1" stroke-dashoffset="3.6"/>
<line x1="897.4" y1="520.5" x2="897.4" y2="4.0" stroke="#808080" stroke-width="5.1" stroke-dasharray="32.4 8.1 5.06 8.1" stroke-dashoffset="1.6"/>
<line x1="897.4" y1="698.5" x2="897.4" y2="534.7" stroke="#808080" stroke-width="5.1" stroke-dasharray="32.4 8.1 5.06 8.1" stroke-dashoffset="3.6"/>
<line x1="1032.0" y1="520.5" x2="1032.0" y2="4.0" stroke="#808080" stroke-width="5.1" stroke-dasharray="32.4 8.1 5.06 8.1" stroke-dashoffset="1.6"/>
<line x1="1032.0" y1="698.5" x2="1032.0" y2="534.7" stroke="#808080" stroke-width="5.1" stroke-dasharray="32.4 8.1 5.06 8.1" stroke-dashoffset="3.6"/>
<g clip-path="url(#clipB)">
<polyline points="598.3,362.7 602.7,292.2 606.0,320.8 610.4,316.4 614.8,320.8 619.2,329.6 623.6,334.0 628.0,345.0 632.4,347.3 635.7,316.4 637.9,342.9 641.2,334.0 645.6,314.2 648.9,347.3 652.2,347.3 655.5,378.0 657.7,406.7 661.0,402.3 665.4,413.3 668.7,439.7 670.9,466.0 673.1,494.7 675.3,452.9 678.6,466.0 681.9,525.5 684.1,514.5 686.3,452.9 689.6,472.7 691.8,439.7 696.2,435.3 699.5,448.5 702.8,432.0 707.2,444.0 713.8,457.3 719.3,466.0 724.8,457.3 731.4,450.7 735.8,439.7 742.4,433.0 746.8,406.7 749.0,424.3 752.4,378.0 756.8,338.4 760.0,373.7 763.4,371.5 765.0,399.9 766.7,397.9 767.3,376.6 770.0,373.7 770.8,374.3 774.3,381.2 777.8,370.8 781.3,392.9 784.8,418.5 787.1,416.2 789.5,432.5 791.8,427.8 794.1,458.1 797.6,462.7 799.9,462.7 802.3,472.0 805.8,472.0 808.1,479.0 810.4,467.4 813.9,476.7 817.4,502.3 820.9,495.3 824.4,507.0 827.9,486.0 831.4,504.7 834.9,490.7 838.4,481.4 841.9,497.7 845.3,467.4 848.8,451.1 853.5,434.8 857.0,416.2 860.5,430.1 864.0,441.8 865.1,476.7 868.6,467.4 873.3,469.7 876.8,476.7 880.3,473.2 883.8,488.4 887.3,493.0 891.9,486.0 896.6,486.0 901.2,495.3 904.7,490.7 908.2,474.4 911.7,460.4 915.2,451.1 918.7,437.1 922.2,441.8 924.5,416.2 925.7,378.9 927.5,337.0 929.9,378.9 932.7,395.2 937.3,383.6 942.0,381.2 945.0,385.9 946.6,388.2 950.1,385.9 952.5,346.3 954.8,411.5 958.3,406.9 965.3,411.5 969.9,425.5 974.6,434.8 979.2,462.7 982.7,474.4 986.2,469.7 989.7,469.7 994.4,511.6 996.7,488.4 1000.2,488.4 1004.9,483.7 1008.4,474.4 1010.7,491.9 1015.3,491.9 1021.2,484.9 1024.7,498.8 1028.2,502.3 1035.1,502.3 1042.1,507.0 1050.3,497.7 1053.8,507.0 1060.8,509.3 1072.4,507.0 1084.0,509.3 1091.0,503.5 1102.7,503.5 1109.7,507.0 1115.0,495.3 1118.4,492.3 1123.4,509.0 1128.4,492.3 1135.1,485.6 1140.2,478.9 1146.9,495.6 1151.9,522.4 1156.9,499.0 1161.9,512.4 1167.0,502.3 1173.7,509.0 1176.0,448.8 1180.4,478.9 1185.4,445.4 1190.4,422.0 1195.4,398.5 1200.4,368.4 1205.5,318.1 1211.5,274.6 1217.2,361.7 1221.5,415.3 1224.9,313.1 1228.2,435.4 1232.3,462.2 1235.6,428.7 1238.9,455.5 1242.3,435.4 1245.7,455.5" fill="none" stroke="#4cc35c" stroke-width="4.8" stroke-linejoin="round" stroke-linecap="round"/>
<path d="M598.3,347.3 C599.6,340.3 602.7,311.6 606.0,305.4 C609.3,299.1 614.4,301.4 618.1,309.8 C621.8,318.2 624.5,339.1 628.0,356.0 C631.5,372.9 635.7,398.2 639.0,411.0 C642.3,423.8 644.1,425.8 647.8,433.0 C651.5,440.2 657.0,450.7 661.0,454.0 C665.0,457.3 668.7,454.6 672.0,452.9 C675.3,451.2 678.2,449.9 680.8,444.0 C683.4,438.1 685.4,430.5 687.4,417.7 C689.4,404.9 690.7,388.3 692.9,367.0 C695.1,345.7 698.2,303.9 700.6,290.0 C703.0,276.1 704.3,276.8 707.2,283.4 C710.1,290.0 714.9,326.3 718.2,329.6 C721.5,332.9 723.7,312.7 727.0,303.2 C730.3,293.7 734.7,273.9 738.0,272.4 C741.3,270.9 744.2,284.1 746.8,294.4 C749.4,304.7 750.8,320.1 753.4,334.0 C756.0,347.9 758.7,358.9 762.3,378.0 C765.9,397.1 771.4,433.8 775.0,448.5 C778.6,463.2 781.0,459.1 784.0,466.0 C787.0,472.9 789.6,485.3 793.0,490.0 C796.4,494.7 800.7,494.3 804.6,494.0 C808.5,493.7 812.3,490.9 816.2,488.0 C820.1,485.1 824.4,480.5 827.9,476.7 C831.4,472.9 834.1,469.6 837.2,465.0 C840.3,460.4 843.8,454.2 846.5,448.8 C849.2,443.4 851.5,438.5 853.5,432.5 C855.5,426.5 856.7,417.3 858.2,413.0 C859.8,408.7 860.1,407.9 862.8,406.9 C865.5,405.9 871.0,406.9 874.5,406.9 C878.0,406.9 881.1,409.2 883.8,406.9 C886.5,404.6 888.5,397.9 890.8,392.9 C893.1,387.8 895.4,378.2 897.7,376.6 C900.0,375.1 902.0,379.3 904.7,383.6 C907.4,387.9 910.1,400.3 914.0,402.2 C917.9,404.1 923.7,400.6 928.0,395.2 C932.3,389.8 936.9,381.6 939.7,369.6 C942.5,357.6 943.5,334.6 945.0,323.0 C946.5,311.4 947.6,307.1 949.0,299.7 C950.4,292.3 952.1,278.8 953.6,278.8 C955.1,278.8 956.8,284.6 958.3,299.7 C959.8,314.8 961.3,348.2 962.9,369.6 C964.5,391.0 965.9,413.1 967.6,427.8 C969.4,442.6 971.3,452.3 973.4,458.1 C975.5,463.9 978.3,465.8 980.4,462.7 C982.5,459.6 984.2,451.1 986.2,439.5 C988.2,427.9 990.4,406.5 992.1,392.9 C993.9,379.3 995.4,364.6 996.7,358.0 C998.1,351.4 998.8,352.5 1000.2,353.3 C1001.6,354.1 1003.0,359.9 1004.9,362.6 C1006.8,365.3 1009.6,366.5 1011.9,369.6 C1014.2,372.7 1016.5,376.6 1018.8,381.2 C1021.1,385.8 1023.5,392.4 1025.8,397.5 C1028.1,402.6 1030.1,407.2 1032.8,411.5 C1035.5,415.8 1039.0,420.9 1042.1,423.2 C1045.2,425.5 1048.7,427.4 1051.4,425.5 C1054.1,423.6 1056.1,418.9 1058.4,411.5 C1060.7,404.1 1063.5,388.6 1065.4,381.2 C1067.4,373.8 1068.5,368.4 1070.1,367.3 C1071.6,366.2 1072.8,369.7 1074.7,374.3 C1076.6,378.9 1079.4,388.6 1081.7,395.2 C1084.0,401.8 1086.0,408.8 1088.7,413.8 C1091.4,418.9 1094.9,422.2 1098.0,425.5 C1101.1,428.8 1104.5,432.4 1107.3,433.6 C1110.1,434.8 1112.0,431.6 1115.0,432.5 C1118.0,433.4 1121.2,442.7 1125.1,438.7 C1129.0,434.7 1134.0,417.5 1138.5,408.6 C1143.0,399.7 1147.4,394.0 1151.9,385.1 C1156.4,376.2 1161.1,366.2 1165.3,355.0 C1169.5,343.8 1173.1,334.9 1177.0,318.1 C1180.9,301.4 1185.4,264.0 1188.7,254.5 C1192.0,245.0 1194.6,257.8 1197.1,261.2 C1199.6,264.6 1201.3,279.1 1203.8,274.6 C1206.3,270.1 1209.4,246.7 1212.2,234.4 C1215.0,222.1 1217.4,207.6 1220.5,200.9 C1223.6,194.2 1227.8,202.6 1230.6,194.2 C1233.4,185.8 1235.3,163.5 1237.3,150.7 C1239.2,137.9 1240.9,124.5 1242.3,117.2 C1243.7,110.0 1245.1,108.9 1245.7,107.2" fill="none" stroke="#ac55c0" stroke-width="4.8" stroke-linejoin="round" stroke-linecap="round"/>
<path d="M598.3,260.3 C599.6,260.9 603.6,260.5 606.0,263.6 C608.4,266.7 610.8,272.4 612.6,279.0 C614.4,285.6 615.5,291.8 617.0,303.2 C618.5,314.6 619.9,333.0 621.4,347.3 C622.9,361.6 624.0,377.3 625.8,389.0 C627.6,400.7 629.5,408.5 632.4,417.7 C635.3,426.9 639.4,435.9 643.4,444.0 C647.4,452.1 652.2,459.2 656.6,466.0 C661.0,472.8 666.5,483.3 669.8,484.8 C673.1,486.3 674.4,481.7 676.4,474.9 C678.4,468.1 680.1,458.3 681.9,444.0 C683.7,429.7 685.8,411.0 687.4,389.0 C689.0,367.0 690.3,338.4 691.8,312.0 C693.3,285.6 694.8,245.4 696.2,230.6 C697.6,215.8 698.7,219.6 700.2,222.9 C701.7,226.2 703.5,237.0 705.0,250.4 C706.5,263.8 707.9,292.0 709.4,303.2 C710.9,314.4 712.3,317.5 713.8,317.5 C715.3,317.5 716.4,311.4 718.2,303.2 C720.0,294.9 722.8,281.2 724.8,268.0 C726.8,254.8 728.6,237.2 730.3,224.0 C731.9,210.8 733.4,194.7 734.7,188.8 C736.0,182.9 736.9,182.9 738.0,188.8 C739.1,194.7 739.8,207.1 741.3,224.0 C742.8,240.9 744.8,268.0 746.8,290.0 C748.8,312.0 750.8,335.8 753.4,356.0 C756.0,376.2 759.4,394.5 762.3,411.0 C765.2,427.5 768.9,445.1 771.0,455.0 C773.1,464.9 772.9,463.8 775.0,470.5 C777.1,477.2 781.0,488.4 783.6,495.3 C786.2,502.2 788.3,507.7 790.6,511.6 C792.9,515.5 794.9,518.2 797.6,518.6 C800.3,519.0 803.8,517.1 806.9,514.0 C810.0,510.9 813.1,504.3 816.2,500.0 C819.3,495.7 822.4,492.7 825.5,488.4 C828.6,484.1 831.8,480.6 834.9,474.4 C838.0,468.2 841.5,460.8 844.2,451.1 C846.9,441.4 849.3,425.9 851.2,416.2 C853.1,406.5 854.2,397.0 855.8,392.9 C857.3,388.8 858.5,389.8 860.5,391.7 C862.5,393.6 865.2,401.4 867.5,404.5 C869.8,407.6 872.2,410.3 874.5,410.3 C876.8,410.3 879.1,409.4 881.4,404.5 C883.7,399.6 886.2,390.1 888.4,381.2 C890.5,372.3 892.8,357.6 894.3,351.0 C895.8,344.4 896.4,341.6 897.7,341.6 C899.1,341.6 900.8,345.6 902.4,351.0 C904.0,356.4 905.2,366.9 907.1,374.3 C909.0,381.7 911.7,392.9 914.0,395.2 C916.3,397.5 918.7,390.1 921.0,388.2 C923.3,386.3 926.0,385.9 928.0,383.6 C930.0,381.3 931.2,381.3 932.7,374.3 C934.2,367.3 936.1,354.0 937.3,341.6 C938.5,329.2 938.8,314.7 940.0,300.0 C941.2,285.3 943.0,271.5 944.3,253.2 C945.6,234.9 946.6,201.4 947.8,190.3 C949.0,179.2 950.1,180.2 951.3,186.8 C952.5,193.4 953.6,207.2 954.8,229.9 C956.0,252.6 957.1,291.9 958.3,323.0 C959.5,354.1 960.6,389.0 961.8,416.2 C963.0,443.4 963.9,469.7 965.3,486.0 C966.6,502.3 968.3,509.7 969.9,514.0 C971.5,518.3 973.0,518.2 974.6,511.6 C976.2,505.0 977.9,492.2 979.2,474.4 C980.6,456.5 981.3,429.7 982.7,404.5 C984.1,379.3 986.0,342.4 987.4,323.0 C988.8,303.6 989.7,295.3 990.9,288.1 C992.1,280.9 993.2,279.6 994.4,280.0 C995.6,280.4 996.5,283.2 997.9,290.4 C999.2,297.6 1001.0,313.7 1002.5,323.0 C1004.0,332.3 1005.2,338.5 1007.2,346.3 C1009.2,354.1 1011.9,361.1 1014.2,369.6 C1016.5,378.1 1018.9,389.4 1021.2,397.5 C1023.5,405.6 1025.9,413.1 1028.2,418.5 C1030.5,423.9 1032.4,426.0 1035.1,430.1 C1037.8,434.2 1042.2,440.5 1044.5,443.0 C1046.8,445.5 1047.5,446.7 1049.1,445.3 C1050.6,443.9 1052.2,443.5 1053.8,434.8 C1055.3,426.1 1056.9,405.7 1058.4,392.9 C1060.0,380.1 1061.5,366.1 1063.1,358.0 C1064.6,349.9 1066.2,345.6 1067.7,344.0 C1069.2,342.4 1070.8,342.4 1072.4,348.6 C1074.0,354.8 1075.5,371.1 1077.1,381.2 C1078.6,391.3 1079.8,401.4 1081.7,409.2 C1083.6,417.0 1086.0,422.8 1088.7,427.8 C1091.4,432.9 1094.9,436.4 1098.0,439.5 C1101.1,442.6 1104.5,444.6 1107.3,446.4 C1110.1,448.1 1112.6,449.1 1115.0,450.0 C1117.4,450.9 1119.5,453.4 1121.7,452.1 C1123.9,450.8 1126.2,447.6 1128.4,442.0 C1130.6,436.4 1132.9,425.9 1135.1,418.6 C1137.3,411.4 1139.6,403.5 1141.8,398.5 C1144.0,393.5 1145.7,394.6 1148.5,388.5 C1151.3,382.4 1155.2,372.3 1158.6,361.7 C1161.9,351.1 1165.8,337.6 1168.6,324.8 C1171.4,312.0 1173.1,299.8 1175.3,284.7 C1177.5,269.6 1180.0,247.5 1182.0,234.4 C1184.0,221.3 1185.3,207.1 1187.0,206.0 C1188.7,204.9 1190.4,214.6 1192.1,227.7 C1193.8,240.8 1195.4,271.3 1197.1,284.7 C1198.8,298.1 1200.4,305.9 1202.1,308.1 C1203.8,310.3 1205.4,310.4 1207.1,298.1 C1208.8,285.8 1210.8,252.8 1212.2,234.4 C1213.6,216.0 1214.1,200.3 1215.5,187.5 C1216.9,174.7 1218.8,163.2 1220.5,157.4 C1222.2,151.6 1223.9,161.9 1225.6,152.4 C1227.3,142.9 1228.9,117.5 1230.6,100.5 C1232.3,83.5 1233.6,63.0 1235.6,50.2 C1237.5,37.4 1240.6,30.6 1242.3,23.4 C1244.0,16.1 1245.1,9.5 1245.7,6.7" fill="none" stroke="#000" stroke-width="4.8" stroke-linejoin="round" stroke-linecap="round"/>
<path d="M598.3,347.3 C599.2,342.9 601.8,327.4 603.8,320.8 C605.8,314.2 608.0,311.3 610.4,307.6 C612.8,303.9 615.5,297.3 618.1,298.8 C620.7,300.3 623.8,308.3 625.8,316.4 C627.8,324.5 628.7,337.0 630.2,347.3 C631.7,357.6 632.8,369.2 634.6,378.0 C636.4,386.8 638.6,391.6 641.2,400.0 C643.8,408.4 647.4,423.2 650.0,428.7 C652.6,434.2 654.0,429.7 656.6,433.0 C659.2,436.3 662.8,446.8 665.4,448.5 C668.0,450.2 669.4,443.8 672.0,443.0 C674.6,442.2 678.2,448.2 680.8,444.0 C683.4,439.8 685.4,430.5 687.4,417.7 C689.4,404.9 691.1,384.6 692.9,367.0 C694.7,349.4 696.8,327.0 698.4,312.0 C700.0,297.0 701.3,283.8 702.8,276.8 C704.3,269.8 705.6,268.4 707.2,270.2 C708.9,272.0 710.9,282.8 712.7,287.8 C714.5,292.8 716.2,298.9 718.2,300.0 C720.2,301.1 722.6,299.0 724.8,294.4 C727.0,289.8 729.2,279.0 731.4,272.4 C733.6,265.8 736.4,255.5 738.0,254.8 C739.6,254.1 740.0,258.5 741.3,268.0 C742.6,277.5 744.1,298.1 745.7,312.0 C747.4,325.9 749.2,341.4 751.2,351.7 C753.2,362.0 755.3,364.9 757.9,373.7 C760.5,382.5 763.9,394.6 766.7,404.5 C769.6,414.4 772.2,423.3 775.0,433.0 C777.8,442.7 780.6,453.9 783.6,462.7 C786.6,471.5 789.4,480.4 792.9,486.0 C796.4,491.6 800.7,495.7 804.6,496.5 C808.5,497.3 812.3,494.0 816.2,490.7 C820.1,487.4 824.4,481.0 827.9,476.7 C831.4,472.4 834.1,469.6 837.2,465.0 C840.3,460.4 843.8,454.2 846.5,448.8 C849.2,443.4 851.5,438.7 853.5,432.5 C855.5,426.3 856.7,416.9 858.2,411.5 C859.8,406.1 860.5,402.6 862.8,399.9 C865.1,397.2 869.0,396.4 872.1,395.2 C875.2,394.0 878.7,395.2 881.4,392.9 C884.1,390.6 886.4,384.7 888.4,381.2 C890.4,377.7 891.5,375.1 893.1,372.0 C894.7,368.9 896.2,362.6 897.7,362.6 C899.2,362.6 900.8,367.7 902.4,372.0 C904.0,376.3 905.2,383.6 907.1,388.2 C909.0,392.8 911.3,398.1 914.0,399.9 C916.7,401.6 920.3,399.9 923.4,398.7 C926.5,397.5 930.0,395.8 932.7,392.9 C935.4,390.0 937.7,385.8 939.7,381.2 C941.8,376.6 943.5,372.8 945.0,365.0 C946.5,357.2 947.0,344.8 949.0,334.7 C951.0,324.6 955.0,302.5 957.1,304.4 C959.2,306.3 960.2,329.6 961.8,346.3 C963.3,363.0 964.8,389.0 966.4,404.5 C968.0,420.0 969.5,432.1 971.1,439.5 C972.7,446.9 974.0,450.8 975.8,448.8 C977.5,446.9 979.7,437.1 981.6,427.8 C983.5,418.5 985.3,401.0 987.4,392.9 C989.5,384.8 991.9,379.5 994.4,378.9 C996.9,378.3 1000.0,388.0 1002.5,389.4 C1005.0,390.8 1006.8,386.1 1009.5,387.1 C1012.2,388.1 1015.7,391.1 1018.8,395.2 C1021.9,399.3 1025.1,406.4 1028.2,411.5 C1031.3,416.6 1034.4,422.0 1037.5,425.5 C1040.6,429.0 1043.7,430.4 1046.8,432.5 C1049.9,434.6 1053.2,436.6 1056.1,438.3 C1059.0,440.1 1062.2,444.8 1064.3,443.0 C1066.4,441.2 1067.2,435.4 1068.9,427.8 C1070.6,420.2 1072.8,403.7 1074.7,397.5 C1076.7,391.3 1078.6,390.2 1080.6,390.6 C1082.5,391.0 1084.3,395.6 1086.4,399.9 C1088.5,404.2 1091.1,412.1 1093.4,416.2 C1095.7,420.3 1098.0,421.2 1100.3,424.3 C1102.6,427.4 1104.8,432.5 1107.3,434.8 C1109.8,437.1 1112.0,438.2 1115.0,438.3 C1118.0,438.4 1121.8,435.3 1125.1,435.4 C1128.4,435.5 1131.8,440.4 1135.1,438.7 C1138.4,437.0 1142.1,428.6 1145.2,425.3 C1148.3,422.0 1150.8,424.7 1153.6,418.6 C1156.4,412.5 1158.8,398.6 1161.9,388.5 C1165.0,378.4 1168.9,366.7 1172.0,358.3 C1175.1,349.9 1177.9,348.8 1180.4,338.2 C1182.9,327.6 1184.8,312.0 1187.0,294.7 C1189.2,277.4 1191.3,250.9 1193.8,234.4 C1196.3,217.9 1199.6,197.6 1202.1,195.9 C1204.6,194.2 1206.6,214.1 1208.8,224.4 C1211.0,234.7 1213.3,254.0 1215.5,257.9 C1217.7,261.8 1220.2,257.3 1222.2,247.8 C1224.2,238.3 1225.5,217.1 1227.2,200.9 C1228.9,184.7 1230.6,167.4 1232.3,150.7 C1234.0,134.0 1235.6,110.0 1237.3,100.5 C1239.0,91.0 1240.9,92.7 1242.3,93.8 C1243.7,94.9 1245.1,105.0 1245.7,107.2" fill="none" stroke="#4a9fd4" stroke-width="4.8" stroke-linejoin="round" stroke-linecap="round"/>
</g>
<g clip-path="url(#clipC)">
<polyline points="599.2,577.1 601.7,592.2 606.8,593.9 610.1,595.6 613.5,615.8 616.9,607.4 621.9,608.2 625.3,604.0 628.6,599.0 633.7,596.4 637.9,583.8 642.1,589.7 645.5,596.4 650.5,597.3 656.4,592.2 658.9,599.0 661.4,592.2 664.0,603.2 667.3,575.4 669.9,612.4 673.2,617.5 675.7,571.2 679.1,583.8 681.6,587.2 682.5,696.5 685.0,654.5 686.7,696.5 688.4,657.8 690.0,688.1 691.7,642.7 694.2,652.8 696.8,651.1 700.1,678.0 702.7,664.6 706.0,667.9 709.4,624.2 712.7,612.4 716.1,602.3 718.6,639.3 721.2,625.9 724.5,623.4 727.9,625.9 731.2,627.6 734.6,637.7 738.0,657.8 741.3,652.8 743.0,614.1 746.4,610.7 748.9,608.2 751.4,614.1 755.6,617.5 759.8,618.3 763.2,634.3 766.6,637.7 770.0,639.3 772.5,637.7 775.0,644.4 778.3,649.4 781.7,630.9 785.1,602.3 788.4,578.8 793.5,568.7 800.2,567.0 805.3,574.6 808.6,565.3 813.7,588.9 815.0,604.0 808.4,565.3 812.6,580.5 815.1,593.9 817.6,620.8 820.1,593.9 821.8,619.1 822.7,593.9 824.3,659.5 826.0,592.2 827.7,614.1 830.2,590.6 831.9,624.2 834.4,659.5 837.0,644.4 838.6,651.1 840.3,661.2 842.8,597.3 845.4,639.3 847.9,636.0 851.3,623.4 856.3,639.3 860.5,630.9 863.0,625.9 865.6,627.6 868.1,616.6 871.4,619.1 874.0,613.3 879.0,612.4 881.5,625.9 884.9,618.3 887.4,620.8 892.5,637.7 895.8,651.1 897.5,674.7 899.2,651.1 902.6,639.3 905.9,661.2 908.4,663.7 911.0,629.2 913.5,696.5 916.0,696.5 919.4,679.7 924.4,674.7 927.0,676.3 929.5,662.9 933.7,662.0 935.4,664.6 940.4,654.5 944.6,657.8 948.8,657.8 951.3,681.4 953.0,671.3 956.4,692.3 958.9,641.9 962.3,644.4 964.8,639.3 967.3,648.6 969.0,634.3 972.4,622.5 975.7,623.4 978.3,629.2 981.6,615.8 984.1,597.3 986.7,612.4 987.5,659.5 990.0,662.9 991.7,696.5 995.1,696.5 996.8,639.3 1000.1,636.0 1003.5,621.7 1006.8,620.8 1010.2,634.3 1013.6,614.1 1016.9,608.2 1021.1,596.4 1025.0,602.3 1028.8,605.6 1032.3,593.3 1037.6,588.0 1042.0,601.2 1048.1,582.8 1051.7,588.0 1056.0,599.5 1058.7,586.3 1062.2,574.8 1064.8,589.8 1067.5,610.9 1071.0,596.8 1074.5,594.2 1078.0,590.7 1084.2,590.7 1087.7,600.3 1090.3,603.9 1093.9,601.2 1099.1,605.6 1104.4,610.0 1109.7,613.5 1115.0,628.5 1118.5,635.5 1123.7,634.6 1127.3,651.3 1130.8,656.6 1134.3,654.0 1137.8,658.4 1143.1,649.6 1148.4,663.6 1150.1,697.0 1154.5,632.0 1156.3,697.0 1158.0,651.3 1160.7,651.3 1162.4,688.3 1166.0,677.7 1170.3,654.8 1173.9,693.5 1177.4,670.7 1180.9,676.0 1184.4,656.6 1187.9,668.9 1191.4,677.7 1195.8,660.1 1199.4,658.4 1203.8,660.1 1210.8,674.2 1213.4,660.1 1216.1,656.6 1218.7,626.7 1221.3,642.5 1224.0,626.7 1227.5,627.6 1232.8,639.0 1238.0,660.1 1241.6,635.5 1243.3,633.7 1246.0,646.9" fill="none" stroke="#4cc35c" stroke-width="4.8" stroke-linejoin="round" stroke-linecap="round"/>
<polyline points="598.4,540.8 605.1,538.3 611.0,537.0 628.6,539.0 642.1,541.6 653.9,543.1 665.6,547.3 674.1,553.4 680.8,562.8 682.5,542.5 689.2,540.0 695.9,537.4 704.3,540.8 711.1,538.3 716.1,541.0 718.6,567.0 721.2,542.5 727.9,537.0 736.3,537.4 743.0,539.1 745.5,562.8 756.5,550.2 763.2,551.9 770.0,546.0 776.7,544.5 781.7,545.1 785.1,552.0 787.6,574.0 790.1,587.2 796.8,578.0 805.3,566.0 810.3,551.9 815.0,548.0 820.1,545.0 830.2,541.6 842.0,538.3 855.5,536.2 872.3,537.4 885.7,537.4 894.2,536.2 897.5,546.8 900.9,537.6 902.5,560.0 904.2,545.0 906.0,565.0 907.6,540.0 909.0,560.0 910.5,600.0 911.5,625.0 912.7,560.0 914.5,545.0 919.4,537.0 948.0,537.0 950.5,558.0 953.0,537.0 955.5,540.1 958.1,593.9 963.1,593.9 971.5,594.8 980.0,604.0 985.0,610.7 987.0,560.0 990.0,539.0 998.4,537.0 1025.0,537.0 1037.6,537.4 1055.2,537.0 1062.2,552.0 1067.5,551.1 1071.0,540.6 1100.0,537.4 1150.0,537.4 1180.0,537.4 1188.8,540.6 1194.0,544.0 1202.9,542.3 1210.0,545.8 1213.4,540.6 1218.7,549.3 1224.0,538.8 1231.0,537.9 1234.5,553.7 1238.9,545.8 1243.3,537.0 1246.0,537.0" fill="none" stroke="#ac55c0" stroke-width="4.8" stroke-linejoin="round" stroke-linecap="round"/>
<polyline points="598.4,541.8 605.1,539.3 611.0,537.6 613.5,542.6 616.9,539.3 628.6,540.1 642.1,542.6 653.9,545.1 665.6,549.3 674.1,554.4 680.8,561.1 682.5,543.5 689.2,540.9 695.9,538.4 704.3,541.8 711.1,539.3 716.1,541.8 718.6,558.6 721.2,543.5 727.9,537.6 736.3,538.4 743.0,540.1 745.5,549.3 751.4,545.1 759.0,541.8 763.2,547.7 770.0,545.1 776.7,543.5 781.7,545.1 785.1,551.9 787.6,572.1 789.3,585.5 796.8,577.1 805.3,568.7 812.0,555.2 815.0,551.9 820.1,546.0 830.2,542.6 842.0,539.3 855.5,536.7 858.8,539.3 872.3,538.4 885.7,538.4 894.2,536.7 897.5,544.3 900.9,537.6 902.5,560.0 904.2,545.0 906.0,565.0 907.6,540.0 909.0,560.0 910.5,600.0 911.5,627.6 912.7,560.0 914.5,545.0 919.4,537.6 932.8,537.6 948.0,537.6 950.5,560.3 953.0,537.6 955.5,540.1 958.1,595.6 966.5,597.3 973.2,602.3 978.3,612.4 983.3,624.2 986.7,627.6 988.3,551.9 991.7,539.3 998.4,537.6 1010.2,538.4 1025.0,537.6 1020.0,537.9 1037.6,538.8 1055.2,537.9 1060.4,551.1 1064.0,572.2 1067.5,565.2 1071.0,545.8 1076.3,542.3 1090.3,541.4 1107.9,539.7 1125.5,538.8 1135.2,538.8 1139.6,549.3 1146.6,555.5 1153.6,550.2 1157.2,540.6 1164.2,538.8 1173.0,540.6 1178.3,542.3 1187.0,539.7 1195.8,545.8 1202.9,546.7 1210.8,557.3 1213.4,549.3 1218.7,574.8 1221.3,556.4 1227.5,552.9 1232.8,548.5 1238.0,553.7 1243.3,540.6 1246.0,537.9" fill="none" stroke="#4a9fd4" stroke-width="4.8" stroke-linejoin="round" stroke-linecap="round"/>
</g>
<rect x="597.6" y="4.0" width="648.6999999999999" height="516.5" fill="none" stroke="#000" stroke-width="2.2"/>
<rect x="597.6" y="534.7" width="648.6999999999999" height="163.79999999999995" fill="none" stroke="#000" stroke-width="2.2"/>
<line x1="585.6" y1="451.7" x2="597.6" y2="451.7" stroke="#000" stroke-width="2.4"/>
<text x="573.5" y="464.7" font-size="36" text-anchor="end" font-weight="normal" font-style="normal" fill="#000">5</text>
<line x1="585.6" y1="313.7" x2="597.6" y2="313.7" stroke="#000" stroke-width="2.4"/>
<text x="573.5" y="326.7" font-size="36" text-anchor="end" font-weight="normal" font-style="normal" fill="#000">10</text>
<line x1="585.6" y1="175.7" x2="597.6" y2="175.7" stroke="#000" stroke-width="2.4"/>
<text x="573.5" y="188.7" font-size="36" text-anchor="end" font-weight="normal" font-style="normal" fill="#000">15</text>
<line x1="585.6" y1="37.69999999999999" x2="597.6" y2="37.69999999999999" stroke="#000" stroke-width="2.4"/>
<text x="573.5" y="50.69999999999999" font-size="36" text-anchor="end" font-weight="normal" font-style="normal" fill="#000">20</text>
<line x1="585.6" y1="534.7" x2="597.6" y2="534.7" stroke="#000" stroke-width="2.4"/>
<text x="573.5" y="547.7" font-size="36" text-anchor="end" font-weight="normal" font-style="normal" fill="#000">1</text>
<line x1="585.6" y1="698.5" x2="597.6" y2="698.5" stroke="#000" stroke-width="2.4"/>
<text x="520.7" y="711.5" font-size="36" text-anchor="start" font-weight="normal" font-style="normal" fill="#000" textLength="52.8" lengthAdjust="spacingAndGlyphs">0.5</text>
<line x1="672.4" y1="698.5" x2="672.4" y2="710.5" stroke="#000" stroke-width="2.4"/>
<text x="632.5" y="748.8" font-size="36" text-anchor="start" font-weight="normal" font-style="normal" fill="#000" textLength="80.9" lengthAdjust="spacingAndGlyphs">−0.5</text>
<line x1="807.4" y1="698.5" x2="807.4" y2="710.5" stroke="#000" stroke-width="2.4"/>
<text x="778.8" y="748.8" font-size="36" text-anchor="start" font-weight="normal" font-style="normal" fill="#000" textLength="54.2" lengthAdjust="spacingAndGlyphs">0.0</text>
<line x1="942.4" y1="698.5" x2="942.4" y2="710.5" stroke="#000" stroke-width="2.4"/>
<text x="915.9" y="748.8" font-size="36" text-anchor="start" font-weight="normal" font-style="normal" fill="#000" textLength="51.6" lengthAdjust="spacingAndGlyphs">0.5</text>
<line x1="1077.4" y1="698.5" x2="1077.4" y2="710.5" stroke="#000" stroke-width="2.4"/>
<text x="1047.8" y="748.8" font-size="36" text-anchor="start" font-weight="normal" font-style="normal" fill="#000" textLength="56.2" lengthAdjust="spacingAndGlyphs">1.0</text>
<line x1="1212.4" y1="698.5" x2="1212.4" y2="710.5" stroke="#000" stroke-width="2.4"/>
<text x="1182.8" y="748.8" font-size="36" text-anchor="start" font-weight="normal" font-style="normal" fill="#000" textLength="56.2" lengthAdjust="spacingAndGlyphs">1.5</text>
<text x="822.4" y="793" font-size="36" text-anchor="start" font-weight="normal" font-style="normal" fill="#000" textLength="198.4" lengthAdjust="spacingAndGlyphs">energy [eV]</text>
<text x="511.7" y="262.6" font-size="36" text-anchor="middle" font-weight="normal" font-style="normal" fill="#000" textLength="207" lengthAdjust="spacingAndGlyphs" transform="rotate(-90 511.7 262.6)">DOS [arb.u.]</text>
<text x="499.8" y="661" font-size="36" text-anchor="middle" font-weight="normal" font-style="normal" fill="#000" textLength="203.5" lengthAdjust="spacingAndGlyphs" transform="rotate(-90 499.8 661)">similarity [-]</text>
<rect x="647.6" y="17.6" width="528.6" height="93.4" rx="4.5" fill="#fff" fill-opacity="0.8" stroke="#ccc" stroke-width="2.2"/>
<line x1="656.8" y1="41.5" x2="719" y2="41.5" stroke="#000" stroke-width="4.8"/>
<line x1="656.8" y1="84" x2="719" y2="84" stroke="#ac55c0" stroke-width="4.8"/>
<line x1="914.2" y1="41.5" x2="975.6" y2="41.5" stroke="#4cc35c" stroke-width="4.8"/>
<line x1="914.2" y1="84" x2="975.6" y2="84" stroke="#4a9fd4" stroke-width="4.8"/>
<text x="239.5" y="51.7" font-size="30" textLength="118" lengthAdjust="spacingAndGlyphs">DFT (<tspan font-style="italic">p</tspan><tspan font-style="italic" font-size="21" dy="6">z</tspan><tspan dy="-6">)</tspan></text>
<text x="239.5" y="94.8" font-size="30" text-anchor="start" font-weight="normal" font-style="normal" fill="#000" textLength="169" lengthAdjust="spacingAndGlyphs">MLP (10NN)</text>
<text x="739" y="51.5" font-size="30" textLength="118" lengthAdjust="spacingAndGlyphs">DFT (<tspan font-style="italic">p</tspan><tspan font-style="italic" font-size="21" dy="6">z</tspan><tspan dy="-6">)</tspan></text>
<text x="739" y="94.5" font-size="30" text-anchor="start" font-weight="normal" font-style="normal" fill="#000" textLength="119" lengthAdjust="spacingAndGlyphs">Wannier</text>
<text x="995.5" y="51.5" font-size="30" text-anchor="start" font-weight="normal" font-style="normal" fill="#000" textLength="83" lengthAdjust="spacingAndGlyphs">Slater</text>
<text x="995.5" y="94.5" font-size="30" text-anchor="start" font-weight="normal" font-style="normal" fill="#000" textLength="169" lengthAdjust="spacingAndGlyphs">MLP (10NN)</text>
<text x="16.5" y="46.5" font-size="63" text-anchor="start" font-weight="bold" font-style="normal" fill="#000" textLength="32" lengthAdjust="spacingAndGlyphs">a</text>
<text x="471.5" y="45.4" font-size="64" text-anchor="start" font-weight="bold" font-style="normal" fill="#000">b</text>
<text x="471.5" y="529.4" font-size="64" text-anchor="start" font-weight="bold" font-style="normal" fill="#000" textLength="32" lengthAdjust="spacingAndGlyphs">c</text>
<text x="471" y="857.7" font-size="64" text-anchor="start" font-weight="bold" font-style="normal" fill="#000">d</text>
<rect x="533" y="819.0" width="684" height="214.5" fill="#111111"/>
<rect x="540.6" y="831.1999999999999" width="216.2" height="192.0" fill="#fdfdfd" stroke="#000" stroke-width="2.8"/>
<circle cx="563.5" cy="840.7" r="7.4" fill="#7183d2"/><circle cx="589.6" cy="840.7" r="7.4" fill="#616ec4"/><circle cx="615.7" cy="840.7" r="7.4" fill="#5058b4"/><circle cx="641.8" cy="840.7" r="7.4" fill="#bdcdeb"/><circle cx="667.9" cy="840.7" r="7.4" fill="#5058b4"/><circle cx="694.0" cy="840.7" r="7.4" fill="#616ec4"/><circle cx="720.1" cy="840.7" r="7.4" fill="#7183d2"/><circle cx="746.2" cy="840.7" r="7.4" fill="#7183d2"/><circle cx="563.5" cy="855.7" r="7.4" fill="#616ec4"/><circle cx="589.6" cy="855.7" r="7.4" fill="#5058b4"/><circle cx="615.7" cy="855.7" r="7.4" fill="#a3b8ea"/><circle cx="641.8" cy="855.7" r="7.4" fill="#dadcde"/><circle cx="667.9" cy="855.7" r="7.4" fill="#a3b8ea"/><circle cx="694.0" cy="855.7" r="7.4" fill="#5058b4"/><circle cx="720.1" cy="855.7" r="7.4" fill="#616ec4"/><circle cx="746.2" cy="855.7" r="7.4" fill="#616ec4"/><circle cx="550.5" cy="863.4" r="7.4" fill="#5058b4"/><circle cx="576.6" cy="863.4" r="7.4" fill="#7183d2"/><circle cx="602.7" cy="863.4" r="7.4" fill="#bdcdeb"/><circle cx="628.8" cy="863.4" r="7.4" fill="#a3b8ea"/><circle cx="654.9" cy="863.4" r="7.4" fill="#a3b8ea"/><circle cx="681.0" cy="863.4" r="7.4" fill="#bdcdeb"/><circle cx="707.1" cy="863.4" r="7.4" fill="#7183d2"/><circle cx="733.2" cy="863.4" r="7.4" fill="#5058b4"/><circle cx="634.3" cy="878.1" r="7.4" fill="#bb1b2c"/><circle cx="649.3" cy="878.1" r="7.4" fill="#bb1b2c"/><circle cx="550.5" cy="878.4" r="7.4" fill="#5058b4"/><circle cx="576.6" cy="878.4" r="7.4" fill="#616ec4"/><circle cx="602.7" cy="878.4" r="7.4" fill="#899ee1"/><circle cx="681.0" cy="878.4" r="7.4" fill="#899ee1"/><circle cx="707.1" cy="878.4" r="7.4" fill="#616ec4"/><circle cx="733.2" cy="878.4" r="7.4" fill="#5058b4"/><circle cx="563.5" cy="886.0" r="7.4" fill="#5058b4"/><circle cx="589.6" cy="886.0" r="7.4" fill="#7183d2"/><circle cx="694.0" cy="886.0" r="7.4" fill="#7183d2"/><circle cx="720.1" cy="886.0" r="7.4" fill="#5058b4"/><circle cx="746.2" cy="886.0" r="7.4" fill="#616ec4"/><circle cx="611.8" cy="891.1" r="7.4" fill="#f6a586"/><circle cx="626.8" cy="891.1" r="7.4" fill="#a3b8ea"/><circle cx="656.8" cy="891.1" r="7.4" fill="#a3b8ea"/><circle cx="671.8" cy="891.1" r="7.4" fill="#f6a586"/><circle cx="563.5" cy="901.0" r="7.4" fill="#616ec4"/><circle cx="589.6" cy="901.0" r="7.4" fill="#7183d2"/><circle cx="694.0" cy="901.0" r="7.4" fill="#7183d2"/><circle cx="720.1" cy="901.0" r="7.4" fill="#5058b4"/><circle cx="746.2" cy="901.0" r="7.4" fill="#5058b4"/><circle cx="604.3" cy="904.0" r="7.4" fill="#899ee1"/><circle cx="634.3" cy="904.0" r="7.4" fill="#899ee1"/><circle cx="649.3" cy="904.0" r="7.4" fill="#899ee1"/><circle cx="679.3" cy="904.0" r="7.4" fill="#899ee1"/><circle cx="550.5" cy="908.7" r="7.4" fill="#616ec4"/><circle cx="576.6" cy="908.7" r="7.4" fill="#616ec4"/><circle cx="707.1" cy="908.7" r="7.4" fill="#616ec4"/><circle cx="733.2" cy="908.7" r="7.4" fill="#5058b4"/><circle cx="611.8" cy="917.0" r="7.4" fill="#f5c2aa"/><circle cx="626.8" cy="917.0" r="7.4" fill="#a3b8ea"/><circle cx="656.8" cy="917.0" r="7.4" fill="#a3b8ea"/><circle cx="671.8" cy="917.0" r="7.4" fill="#f5c2aa"/><circle cx="550.5" cy="923.7" r="7.4" fill="#616ec4"/><circle cx="576.6" cy="923.7" r="7.4" fill="#616ec4"/><circle cx="707.1" cy="923.7" r="7.4" fill="#616ec4"/><circle cx="733.2" cy="923.7" r="7.4" fill="#5058b4"/><circle cx="604.3" cy="930.0" r="7.4" fill="#899ee1"/><circle cx="634.3" cy="930.0" r="7.4" fill="#899ee1"/><circle cx="649.3" cy="930.0" r="7.4" fill="#899ee1"/><circle cx="679.3" cy="930.0" r="7.4" fill="#899ee1"/><circle cx="563.5" cy="931.3" r="7.4" fill="#616ec4"/><circle cx="589.6" cy="931.3" r="7.4" fill="#7183d2"/><circle cx="694.0" cy="931.3" r="7.4" fill="#7183d2"/><circle cx="720.1" cy="931.3" r="7.4" fill="#5058b4"/><circle cx="746.2" cy="931.3" r="7.4" fill="#5058b4"/><circle cx="611.8" cy="942.9" r="7.4" fill="#f6a586"/><circle cx="626.8" cy="942.9" r="7.4" fill="#a3b8ea"/><circle cx="656.8" cy="942.9" r="7.4" fill="#a3b8ea"/><circle cx="671.8" cy="942.9" r="7.4" fill="#f6a586"/><circle cx="563.5" cy="946.3" r="7.4" fill="#616ec4"/><circle cx="589.6" cy="946.3" r="7.4" fill="#7183d2"/><circle cx="694.0" cy="946.3" r="7.4" fill="#7183d2"/><circle cx="720.1" cy="946.3" r="7.4" fill="#5058b4"/><circle cx="746.2" cy="946.3" r="7.4" fill="#616ec4"/><circle cx="550.5" cy="954.0" r="7.4" fill="#5058b4"/><circle cx="576.6" cy="954.0" r="7.4" fill="#5058b4"/><circle cx="602.7" cy="954.0" r="7.4" fill="#899ee1"/><circle cx="681.0" cy="954.0" r="7.4" fill="#899ee1"/><circle cx="707.1" cy="954.0" r="7.4" fill="#5058b4"/><circle cx="733.2" cy="954.0" r="7.4" fill="#5058b4"/><circle cx="634.3" cy="955.9" r="7.4" fill="#bb1b2c"/><circle cx="649.3" cy="955.9" r="7.4" fill="#bb1b2c"/><circle cx="550.5" cy="969.0" r="7.4" fill="#5058b4"/><circle cx="576.6" cy="969.0" r="7.4" fill="#7183d2"/><circle cx="602.7" cy="969.0" r="7.4" fill="#bdcdeb"/><circle cx="628.8" cy="969.0" r="7.4" fill="#a3b8ea"/><circle cx="654.9" cy="969.0" r="7.4" fill="#a3b8ea"/><circle cx="681.0" cy="969.0" r="7.4" fill="#bdcdeb"/><circle cx="707.1" cy="969.0" r="7.4" fill="#7183d2"/><circle cx="733.2" cy="969.0" r="7.4" fill="#5058b4"/><circle cx="563.5" cy="976.6" r="7.4" fill="#5058b4"/><circle cx="589.6" cy="976.6" r="7.4" fill="#5058b4"/><circle cx="615.7" cy="976.6" r="7.4" fill="#a3b8ea"/><circle cx="641.8" cy="976.6" r="7.4" fill="#dadcde"/><circle cx="667.9" cy="976.6" r="7.4" fill="#a3b8ea"/><circle cx="694.0" cy="976.6" r="7.4" fill="#5058b4"/><circle cx="720.1" cy="976.6" r="7.4" fill="#5058b4"/><circle cx="746.2" cy="976.6" r="7.4" fill="#5058b4"/><circle cx="563.5" cy="991.6" r="7.4" fill="#7183d2"/><circle cx="589.6" cy="991.6" r="7.4" fill="#616ec4"/><circle cx="615.7" cy="991.6" r="7.4" fill="#5058b4"/><circle cx="641.8" cy="991.6" r="7.4" fill="#bdcdeb"/><circle cx="667.9" cy="991.6" r="7.4" fill="#5058b4"/><circle cx="694.0" cy="991.6" r="7.4" fill="#616ec4"/><circle cx="720.1" cy="991.6" r="7.4" fill="#7183d2"/><circle cx="746.2" cy="991.6" r="7.4" fill="#7183d2"/><circle cx="550.5" cy="999.2" r="7.4" fill="#5058b4"/><circle cx="576.6" cy="999.2" r="7.4" fill="#5058b4"/><circle cx="602.7" cy="999.2" r="7.4" fill="#616ec4"/><circle cx="628.8" cy="999.2" r="7.4" fill="#a3b8ea"/><circle cx="654.9" cy="999.2" r="7.4" fill="#a3b8ea"/><circle cx="681.0" cy="999.2" r="7.4" fill="#616ec4"/><circle cx="707.1" cy="999.2" r="7.4" fill="#5058b4"/><circle cx="733.2" cy="999.2" r="7.4" fill="#5058b4"/><circle cx="550.5" cy="1014.2" r="7.4" fill="#5058b4"/><circle cx="576.6" cy="1014.2" r="7.4" fill="#5058b4"/><circle cx="602.7" cy="1014.2" r="7.4" fill="#616ec4"/><circle cx="628.8" cy="1014.2" r="7.4" fill="#a3b8ea"/><circle cx="654.9" cy="1014.2" r="7.4" fill="#a3b8ea"/><circle cx="681.0" cy="1014.2" r="7.4" fill="#616ec4"/><circle cx="707.1" cy="1014.2" r="7.4" fill="#5058b4"/><circle cx="733.2" cy="1014.2" r="7.4" fill="#5058b4"/>
<rect x="767.8" y="831.1999999999999" width="216.9" height="192.0" fill="#fdfdfd" stroke="#000" stroke-width="2.8"/>
<circle cx="791.5" cy="840.7" r="7.4" fill="#616ec4"/><circle cx="817.6" cy="840.7" r="7.4" fill="#899ee1"/><circle cx="843.7" cy="840.7" r="7.4" fill="#a3b8ea"/><circle cx="869.8" cy="840.7" r="7.4" fill="#5058b4"/><circle cx="895.9" cy="840.7" r="7.4" fill="#a3b8ea"/><circle cx="922.0" cy="840.7" r="7.4" fill="#899ee1"/><circle cx="948.1" cy="840.7" r="7.4" fill="#616ec4"/><circle cx="974.2" cy="840.7" r="7.4" fill="#5058b4"/><circle cx="791.5" cy="855.7" r="7.4" fill="#616ec4"/><circle cx="817.6" cy="855.7" r="7.4" fill="#616ec4"/><circle cx="843.7" cy="855.7" r="7.4" fill="#899ee1"/><circle cx="869.8" cy="855.7" r="7.4" fill="#5058b4"/><circle cx="895.9" cy="855.7" r="7.4" fill="#899ee1"/><circle cx="922.0" cy="855.7" r="7.4" fill="#616ec4"/><circle cx="948.1" cy="855.7" r="7.4" fill="#616ec4"/><circle cx="974.2" cy="855.7" r="7.4" fill="#616ec4"/><circle cx="778.5" cy="863.4" r="7.4" fill="#5058b4"/><circle cx="804.6" cy="863.4" r="7.4" fill="#5058b4"/><circle cx="830.7" cy="863.4" r="7.4" fill="#899ee1"/><circle cx="856.8" cy="863.4" r="7.4" fill="#bb1b2c"/><circle cx="882.9" cy="863.4" r="7.4" fill="#bb1b2c"/><circle cx="909.0" cy="863.4" r="7.4" fill="#899ee1"/><circle cx="935.1" cy="863.4" r="7.4" fill="#5058b4"/><circle cx="961.2" cy="863.4" r="7.4" fill="#5058b4"/><circle cx="862.3" cy="878.1" r="7.4" fill="#7183d2"/><circle cx="877.3" cy="878.1" r="7.4" fill="#7183d2"/><circle cx="778.5" cy="878.4" r="7.4" fill="#5058b4"/><circle cx="804.6" cy="878.4" r="7.4" fill="#616ec4"/><circle cx="830.7" cy="878.4" r="7.4" fill="#a3b8ea"/><circle cx="909.0" cy="878.4" r="7.4" fill="#a3b8ea"/><circle cx="935.1" cy="878.4" r="7.4" fill="#616ec4"/><circle cx="961.2" cy="878.4" r="7.4" fill="#616ec4"/><circle cx="791.5" cy="886.0" r="7.4" fill="#5058b4"/><circle cx="817.6" cy="886.0" r="7.4" fill="#5058b4"/><circle cx="922.0" cy="886.0" r="7.4" fill="#5058b4"/><circle cx="948.1" cy="886.0" r="7.4" fill="#5058b4"/><circle cx="974.2" cy="886.0" r="7.4" fill="#5058b4"/><circle cx="839.8" cy="891.1" r="7.4" fill="#616ec4"/><circle cx="854.8" cy="891.1" r="7.4" fill="#a3b8ea"/><circle cx="884.8" cy="891.1" r="7.4" fill="#a3b8ea"/><circle cx="899.8" cy="891.1" r="7.4" fill="#616ec4"/><circle cx="791.5" cy="901.0" r="7.4" fill="#7183d2"/><circle cx="817.6" cy="901.0" r="7.4" fill="#899ee1"/><circle cx="922.0" cy="901.0" r="7.4" fill="#899ee1"/><circle cx="948.1" cy="901.0" r="7.4" fill="#7183d2"/><circle cx="974.2" cy="901.0" r="7.4" fill="#5058b4"/><circle cx="832.3" cy="904.0" r="7.4" fill="#5058b4"/><circle cx="862.3" cy="904.0" r="7.4" fill="#dadcde"/><circle cx="877.3" cy="904.0" r="7.4" fill="#dadcde"/><circle cx="907.3" cy="904.0" r="7.4" fill="#5058b4"/><circle cx="778.5" cy="908.7" r="7.4" fill="#7183d2"/><circle cx="804.6" cy="908.7" r="7.4" fill="#616ec4"/><circle cx="935.1" cy="908.7" r="7.4" fill="#616ec4"/><circle cx="961.2" cy="908.7" r="7.4" fill="#7183d2"/><circle cx="839.8" cy="917.0" r="7.4" fill="#616ec4"/><circle cx="854.8" cy="917.0" r="7.4" fill="#7183d2"/><circle cx="884.8" cy="917.0" r="7.4" fill="#7183d2"/><circle cx="899.8" cy="917.0" r="7.4" fill="#616ec4"/><circle cx="778.5" cy="923.7" r="7.4" fill="#7183d2"/><circle cx="804.6" cy="923.7" r="7.4" fill="#616ec4"/><circle cx="935.1" cy="923.7" r="7.4" fill="#616ec4"/><circle cx="961.2" cy="923.7" r="7.4" fill="#7183d2"/><circle cx="832.3" cy="930.0" r="7.4" fill="#5058b4"/><circle cx="862.3" cy="930.0" r="7.4" fill="#dadcde"/><circle cx="877.3" cy="930.0" r="7.4" fill="#dadcde"/><circle cx="907.3" cy="930.0" r="7.4" fill="#5058b4"/><circle cx="791.5" cy="931.3" r="7.4" fill="#7183d2"/><circle cx="817.6" cy="931.3" r="7.4" fill="#899ee1"/><circle cx="922.0" cy="931.3" r="7.4" fill="#899ee1"/><circle cx="948.1" cy="931.3" r="7.4" fill="#7183d2"/><circle cx="974.2" cy="931.3" r="7.4" fill="#5058b4"/><circle cx="839.8" cy="942.9" r="7.4" fill="#616ec4"/><circle cx="854.8" cy="942.9" r="7.4" fill="#a3b8ea"/><circle cx="884.8" cy="942.9" r="7.4" fill="#a3b8ea"/><circle cx="899.8" cy="942.9" r="7.4" fill="#616ec4"/><circle cx="791.5" cy="946.3" r="7.4" fill="#5058b4"/><circle cx="817.6" cy="946.3" r="7.4" fill="#5058b4"/><circle cx="922.0" cy="946.3" r="7.4" fill="#5058b4"/><circle cx="948.1" cy="946.3" r="7.4" fill="#5058b4"/><circle cx="974.2" cy="946.3" r="7.4" fill="#5058b4"/><circle cx="778.5" cy="954.0" r="7.4" fill="#5058b4"/><circle cx="804.6" cy="954.0" r="7.4" fill="#616ec4"/><circle cx="830.7" cy="954.0" r="7.4" fill="#a3b8ea"/><circle cx="909.0" cy="954.0" r="7.4" fill="#a3b8ea"/><circle cx="935.1" cy="954.0" r="7.4" fill="#616ec4"/><circle cx="961.2" cy="954.0" r="7.4" fill="#616ec4"/><circle cx="862.3" cy="955.9" r="7.4" fill="#7183d2"/><circle cx="877.3" cy="955.9" r="7.4" fill="#7183d2"/><circle cx="778.5" cy="969.0" r="7.4" fill="#5058b4"/><circle cx="804.6" cy="969.0" r="7.4" fill="#5058b4"/><circle cx="830.7" cy="969.0" r="7.4" fill="#899ee1"/><circle cx="856.8" cy="969.0" r="7.4" fill="#bb1b2c"/><circle cx="882.9" cy="969.0" r="7.4" fill="#bb1b2c"/><circle cx="909.0" cy="969.0" r="7.4" fill="#899ee1"/><circle cx="935.1" cy="969.0" r="7.4" fill="#5058b4"/><circle cx="961.2" cy="969.0" r="7.4" fill="#5058b4"/><circle cx="791.5" cy="976.6" r="7.4" fill="#616ec4"/><circle cx="817.6" cy="976.6" r="7.4" fill="#616ec4"/><circle cx="843.7" cy="976.6" r="7.4" fill="#899ee1"/><circle cx="869.8" cy="976.6" r="7.4" fill="#5058b4"/><circle cx="895.9" cy="976.6" r="7.4" fill="#899ee1"/><circle cx="922.0" cy="976.6" r="7.4" fill="#616ec4"/><circle cx="948.1" cy="976.6" r="7.4" fill="#616ec4"/><circle cx="974.2" cy="976.6" r="7.4" fill="#616ec4"/><circle cx="791.5" cy="991.6" r="7.4" fill="#616ec4"/><circle cx="817.6" cy="991.6" r="7.4" fill="#899ee1"/><circle cx="843.7" cy="991.6" r="7.4" fill="#a3b8ea"/><circle cx="869.8" cy="991.6" r="7.4" fill="#5058b4"/><circle cx="895.9" cy="991.6" r="7.4" fill="#a3b8ea"/><circle cx="922.0" cy="991.6" r="7.4" fill="#899ee1"/><circle cx="948.1" cy="991.6" r="7.4" fill="#616ec4"/><circle cx="974.2" cy="991.6" r="7.4" fill="#5058b4"/><circle cx="778.5" cy="999.2" r="7.4" fill="#616ec4"/><circle cx="804.6" cy="999.2" r="7.4" fill="#616ec4"/><circle cx="830.7" cy="999.2" r="7.4" fill="#616ec4"/><circle cx="856.8" cy="999.2" r="7.4" fill="#7183d2"/><circle cx="882.9" cy="999.2" r="7.4" fill="#7183d2"/><circle cx="909.0" cy="999.2" r="7.4" fill="#616ec4"/><circle cx="935.1" cy="999.2" r="7.4" fill="#616ec4"/><circle cx="961.2" cy="999.2" r="7.4" fill="#616ec4"/><circle cx="778.5" cy="1014.2" r="7.4" fill="#616ec4"/><circle cx="804.6" cy="1014.2" r="7.4" fill="#616ec4"/><circle cx="830.7" cy="1014.2" r="7.4" fill="#616ec4"/><circle cx="856.8" cy="1014.2" r="7.4" fill="#7183d2"/><circle cx="882.9" cy="1014.2" r="7.4" fill="#7183d2"/><circle cx="909.0" cy="1014.2" r="7.4" fill="#616ec4"/><circle cx="935.1" cy="1014.2" r="7.4" fill="#616ec4"/><circle cx="961.2" cy="1014.2" r="7.4" fill="#616ec4"/>
<rect x="995.3" y="831.1999999999999" width="216.3" height="192.0" fill="#fdfdfd" stroke="#000" stroke-width="2.8"/>
<circle cx="1018.5" cy="840.7" r="7.4" fill="#7183d2"/><circle cx="1044.6" cy="840.7" r="7.4" fill="#7183d2"/><circle cx="1070.7" cy="840.7" r="7.4" fill="#616ec4"/><circle cx="1096.8" cy="840.7" r="7.4" fill="#5058b4"/><circle cx="1122.9" cy="840.7" r="7.4" fill="#616ec4"/><circle cx="1149.0" cy="840.7" r="7.4" fill="#7183d2"/><circle cx="1175.1" cy="840.7" r="7.4" fill="#7183d2"/><circle cx="1201.2" cy="840.7" r="7.4" fill="#899ee1"/><circle cx="1018.5" cy="855.7" r="7.4" fill="#5058b4"/><circle cx="1044.6" cy="855.7" r="7.4" fill="#899ee1"/><circle cx="1070.7" cy="855.7" r="7.4" fill="#616ec4"/><circle cx="1096.8" cy="855.7" r="7.4" fill="#5058b4"/><circle cx="1122.9" cy="855.7" r="7.4" fill="#616ec4"/><circle cx="1149.0" cy="855.7" r="7.4" fill="#899ee1"/><circle cx="1175.1" cy="855.7" r="7.4" fill="#5058b4"/><circle cx="1201.2" cy="855.7" r="7.4" fill="#5058b4"/><circle cx="1005.5" cy="863.4" r="7.4" fill="#616ec4"/><circle cx="1031.6" cy="863.4" r="7.4" fill="#899ee1"/><circle cx="1057.7" cy="863.4" r="7.4" fill="#a3b8ea"/><circle cx="1083.8" cy="863.4" r="7.4" fill="#dadcde"/><circle cx="1109.8" cy="863.4" r="7.4" fill="#dadcde"/><circle cx="1136.0" cy="863.4" r="7.4" fill="#a3b8ea"/><circle cx="1162.1" cy="863.4" r="7.4" fill="#899ee1"/><circle cx="1188.2" cy="863.4" r="7.4" fill="#616ec4"/><circle cx="1089.3" cy="878.1" r="7.4" fill="#5058b4"/><circle cx="1104.3" cy="878.1" r="7.4" fill="#5058b4"/><circle cx="1005.5" cy="878.4" r="7.4" fill="#616ec4"/><circle cx="1031.6" cy="878.4" r="7.4" fill="#5058b4"/><circle cx="1057.7" cy="878.4" r="7.4" fill="#f6a586"/><circle cx="1136.0" cy="878.4" r="7.4" fill="#f6a586"/><circle cx="1162.1" cy="878.4" r="7.4" fill="#5058b4"/><circle cx="1188.2" cy="878.4" r="7.4" fill="#616ec4"/><circle cx="1018.5" cy="886.0" r="7.4" fill="#899ee1"/><circle cx="1044.6" cy="886.0" r="7.4" fill="#5058b4"/><circle cx="1149.0" cy="886.0" r="7.4" fill="#5058b4"/><circle cx="1175.1" cy="886.0" r="7.4" fill="#899ee1"/><circle cx="1201.2" cy="886.0" r="7.4" fill="#dadcde"/><circle cx="1066.8" cy="891.1" r="7.4" fill="#7183d2"/><circle cx="1081.8" cy="891.1" r="7.4" fill="#bdcdeb"/><circle cx="1111.8" cy="891.1" r="7.4" fill="#bdcdeb"/><circle cx="1126.8" cy="891.1" r="7.4" fill="#7183d2"/><circle cx="1018.5" cy="901.0" r="7.4" fill="#7183d2"/><circle cx="1044.6" cy="901.0" r="7.4" fill="#bb1b2c"/><circle cx="1149.0" cy="901.0" r="7.4" fill="#bb1b2c"/><circle cx="1175.1" cy="901.0" r="7.4" fill="#7183d2"/><circle cx="1201.2" cy="901.0" r="7.4" fill="#5058b4"/><circle cx="1059.3" cy="904.0" r="7.4" fill="#616ec4"/><circle cx="1089.3" cy="904.0" r="7.4" fill="#7183d2"/><circle cx="1104.3" cy="904.0" r="7.4" fill="#7183d2"/><circle cx="1134.3" cy="904.0" r="7.4" fill="#616ec4"/><circle cx="1005.5" cy="908.7" r="7.4" fill="#7183d2"/><circle cx="1031.6" cy="908.7" r="7.4" fill="#bdcdeb"/><circle cx="1162.1" cy="908.7" r="7.4" fill="#bdcdeb"/><circle cx="1188.2" cy="908.7" r="7.4" fill="#7183d2"/><circle cx="1066.8" cy="917.0" r="7.4" fill="#a3b8ea"/><circle cx="1081.8" cy="917.0" r="7.4" fill="#7183d2"/><circle cx="1111.8" cy="917.0" r="7.4" fill="#7183d2"/><circle cx="1126.8" cy="917.0" r="7.4" fill="#a3b8ea"/><circle cx="1005.5" cy="923.7" r="7.4" fill="#7183d2"/><circle cx="1031.6" cy="923.7" r="7.4" fill="#bdcdeb"/><circle cx="1162.1" cy="923.7" r="7.4" fill="#bdcdeb"/><circle cx="1188.2" cy="923.7" r="7.4" fill="#7183d2"/><circle cx="1059.3" cy="930.0" r="7.4" fill="#616ec4"/><circle cx="1089.3" cy="930.0" r="7.4" fill="#7183d2"/><circle cx="1104.3" cy="930.0" r="7.4" fill="#7183d2"/><circle cx="1134.3" cy="930.0" r="7.4" fill="#616ec4"/><circle cx="1018.5" cy="931.3" r="7.4" fill="#7183d2"/><circle cx="1044.6" cy="931.3" r="7.4" fill="#bb1b2c"/><circle cx="1149.0" cy="931.3" r="7.4" fill="#bb1b2c"/><circle cx="1175.1" cy="931.3" r="7.4" fill="#7183d2"/><circle cx="1201.2" cy="931.3" r="7.4" fill="#5058b4"/><circle cx="1066.8" cy="942.9" r="7.4" fill="#7183d2"/><circle cx="1081.8" cy="942.9" r="7.4" fill="#bdcdeb"/><circle cx="1111.8" cy="942.9" r="7.4" fill="#bdcdeb"/><circle cx="1126.8" cy="942.9" r="7.4" fill="#7183d2"/><circle cx="1018.5" cy="946.3" r="7.4" fill="#899ee1"/><circle cx="1044.6" cy="946.3" r="7.4" fill="#5058b4"/><circle cx="1149.0" cy="946.3" r="7.4" fill="#5058b4"/><circle cx="1175.1" cy="946.3" r="7.4" fill="#899ee1"/><circle cx="1201.2" cy="946.3" r="7.4" fill="#dadcde"/><circle cx="1005.5" cy="954.0" r="7.4" fill="#616ec4"/><circle cx="1031.6" cy="954.0" r="7.4" fill="#5058b4"/><circle cx="1057.7" cy="954.0" r="7.4" fill="#f6a586"/><circle cx="1136.0" cy="954.0" r="7.4" fill="#f6a586"/><circle cx="1162.1" cy="954.0" r="7.4" fill="#5058b4"/><circle cx="1188.2" cy="954.0" r="7.4" fill="#616ec4"/><circle cx="1089.3" cy="955.9" r="7.4" fill="#5058b4"/><circle cx="1104.3" cy="955.9" r="7.4" fill="#5058b4"/><circle cx="1005.5" cy="969.0" r="7.4" fill="#616ec4"/><circle cx="1031.6" cy="969.0" r="7.4" fill="#899ee1"/><circle cx="1057.7" cy="969.0" r="7.4" fill="#a3b8ea"/><circle cx="1083.8" cy="969.0" r="7.4" fill="#dadcde"/><circle cx="1109.8" cy="969.0" r="7.4" fill="#dadcde"/><circle cx="1136.0" cy="969.0" r="7.4" fill="#a3b8ea"/><circle cx="1162.1" cy="969.0" r="7.4" fill="#899ee1"/><circle cx="1188.2" cy="969.0" r="7.4" fill="#616ec4"/><circle cx="1018.5" cy="976.6" r="7.4" fill="#5058b4"/><circle cx="1044.6" cy="976.6" r="7.4" fill="#899ee1"/><circle cx="1070.7" cy="976.6" r="7.4" fill="#616ec4"/><circle cx="1096.8" cy="976.6" r="7.4" fill="#5058b4"/><circle cx="1122.9" cy="976.6" r="7.4" fill="#616ec4"/><circle cx="1149.0" cy="976.6" r="7.4" fill="#899ee1"/><circle cx="1175.1" cy="976.6" r="7.4" fill="#5058b4"/><circle cx="1201.2" cy="976.6" r="7.4" fill="#5058b4"/><circle cx="1018.5" cy="991.6" r="7.4" fill="#7183d2"/><circle cx="1044.6" cy="991.6" r="7.4" fill="#7183d2"/><circle cx="1070.7" cy="991.6" r="7.4" fill="#616ec4"/><circle cx="1096.8" cy="991.6" r="7.4" fill="#616ec4"/><circle cx="1122.9" cy="991.6" r="7.4" fill="#616ec4"/><circle cx="1149.0" cy="991.6" r="7.4" fill="#7183d2"/><circle cx="1175.1" cy="991.6" r="7.4" fill="#7183d2"/><circle cx="1201.2" cy="991.6" r="7.4" fill="#899ee1"/><circle cx="1005.5" cy="999.2" r="7.4" fill="#616ec4"/><circle cx="1031.6" cy="999.2" r="7.4" fill="#616ec4"/><circle cx="1057.7" cy="999.2" r="7.4" fill="#616ec4"/><circle cx="1083.8" cy="999.2" r="7.4" fill="#5058b4"/><circle cx="1109.8" cy="999.2" r="7.4" fill="#5058b4"/><circle cx="1136.0" cy="999.2" r="7.4" fill="#7183d2"/><circle cx="1162.1" cy="999.2" r="7.4" fill="#616ec4"/><circle cx="1188.2" cy="999.2" r="7.4" fill="#616ec4"/><circle cx="1005.5" cy="1014.2" r="7.4" fill="#616ec4"/><circle cx="1031.6" cy="1014.2" r="7.4" fill="#616ec4"/><circle cx="1057.7" cy="1014.2" r="7.4" fill="#7183d2"/><circle cx="1083.8" cy="1014.2" r="7.4" fill="#5058b4"/><circle cx="1109.8" cy="1014.2" r="7.4" fill="#5058b4"/><circle cx="1136.0" cy="1014.2" r="7.4" fill="#7183d2"/><circle cx="1162.1" cy="1014.2" r="7.4" fill="#616ec4"/><circle cx="1188.2" cy="1014.2" r="7.4" fill="#616ec4"/>
<rect x="533" y="1041.7" width="684" height="214.70000000000005" fill="#ab55c0"/>
<rect x="540.6" y="1053.2" width="216.2" height="192.0" fill="#fdfdfd" stroke="#000" stroke-width="2.8"/>
<circle cx="563.5" cy="1062.6" r="7.4" fill="#7183d2"/><circle cx="589.6" cy="1062.6" r="7.4" fill="#7183d2"/><circle cx="615.7" cy="1062.6" r="7.4" fill="#616ec4"/><circle cx="641.8" cy="1062.6" r="7.4" fill="#bdcdeb"/><circle cx="667.9" cy="1062.6" r="7.4" fill="#616ec4"/><circle cx="694.0" cy="1062.6" r="7.4" fill="#7183d2"/><circle cx="720.1" cy="1062.6" r="7.4" fill="#7183d2"/><circle cx="746.2" cy="1062.6" r="7.4" fill="#7183d2"/><circle cx="563.5" cy="1077.6" r="7.4" fill="#616ec4"/><circle cx="589.6" cy="1077.6" r="7.4" fill="#616ec4"/><circle cx="615.7" cy="1077.6" r="7.4" fill="#899ee1"/><circle cx="641.8" cy="1077.6" r="7.4" fill="#dadcde"/><circle cx="667.9" cy="1077.6" r="7.4" fill="#899ee1"/><circle cx="694.0" cy="1077.6" r="7.4" fill="#616ec4"/><circle cx="720.1" cy="1077.6" r="7.4" fill="#616ec4"/><circle cx="746.2" cy="1077.6" r="7.4" fill="#616ec4"/><circle cx="550.5" cy="1085.2" r="7.4" fill="#616ec4"/><circle cx="576.6" cy="1085.2" r="7.4" fill="#7183d2"/><circle cx="602.7" cy="1085.2" r="7.4" fill="#bdcdeb"/><circle cx="628.8" cy="1085.2" r="7.4" fill="#a3b8ea"/><circle cx="654.9" cy="1085.2" r="7.4" fill="#a3b8ea"/><circle cx="681.0" cy="1085.2" r="7.4" fill="#bdcdeb"/><circle cx="707.1" cy="1085.2" r="7.4" fill="#7183d2"/><circle cx="733.2" cy="1085.2" r="7.4" fill="#616ec4"/><circle cx="634.3" cy="1100.0" r="7.4" fill="#bb1b2c"/><circle cx="649.3" cy="1100.0" r="7.4" fill="#bb1b2c"/><circle cx="550.5" cy="1100.2" r="7.4" fill="#616ec4"/><circle cx="576.6" cy="1100.2" r="7.4" fill="#616ec4"/><circle cx="602.7" cy="1100.2" r="7.4" fill="#899ee1"/><circle cx="681.0" cy="1100.2" r="7.4" fill="#899ee1"/><circle cx="707.1" cy="1100.2" r="7.4" fill="#616ec4"/><circle cx="733.2" cy="1100.2" r="7.4" fill="#616ec4"/><circle cx="563.5" cy="1107.9" r="7.4" fill="#616ec4"/><circle cx="589.6" cy="1107.9" r="7.4" fill="#7183d2"/><circle cx="694.0" cy="1107.9" r="7.4" fill="#7183d2"/><circle cx="720.1" cy="1107.9" r="7.4" fill="#616ec4"/><circle cx="746.2" cy="1107.9" r="7.4" fill="#7183d2"/><circle cx="611.8" cy="1113.0" r="7.4" fill="#f6a586"/><circle cx="626.8" cy="1113.0" r="7.4" fill="#a3b8ea"/><circle cx="656.8" cy="1113.0" r="7.4" fill="#a3b8ea"/><circle cx="671.8" cy="1113.0" r="7.4" fill="#f6a586"/><circle cx="563.5" cy="1122.9" r="7.4" fill="#616ec4"/><circle cx="589.6" cy="1122.9" r="7.4" fill="#7183d2"/><circle cx="694.0" cy="1122.9" r="7.4" fill="#7183d2"/><circle cx="720.1" cy="1122.9" r="7.4" fill="#616ec4"/><circle cx="746.2" cy="1122.9" r="7.4" fill="#616ec4"/><circle cx="604.3" cy="1126.0" r="7.4" fill="#bdcdeb"/><circle cx="634.3" cy="1126.0" r="7.4" fill="#899ee1"/><circle cx="649.3" cy="1126.0" r="7.4" fill="#899ee1"/><circle cx="679.3" cy="1126.0" r="7.4" fill="#bdcdeb"/><circle cx="550.5" cy="1130.6" r="7.4" fill="#616ec4"/><circle cx="576.6" cy="1130.6" r="7.4" fill="#7183d2"/><circle cx="707.1" cy="1130.6" r="7.4" fill="#7183d2"/><circle cx="733.2" cy="1130.6" r="7.4" fill="#616ec4"/><circle cx="611.8" cy="1138.9" r="7.4" fill="#f5c2aa"/><circle cx="626.8" cy="1138.9" r="7.4" fill="#899ee1"/><circle cx="656.8" cy="1138.9" r="7.4" fill="#899ee1"/><circle cx="671.8" cy="1138.9" r="7.4" fill="#f5c2aa"/><circle cx="550.5" cy="1145.6" r="7.4" fill="#616ec4"/><circle cx="576.6" cy="1145.6" r="7.4" fill="#7183d2"/><circle cx="707.1" cy="1145.6" r="7.4" fill="#7183d2"/><circle cx="733.2" cy="1145.6" r="7.4" fill="#616ec4"/><circle cx="604.3" cy="1151.9" r="7.4" fill="#bdcdeb"/><circle cx="634.3" cy="1151.9" r="7.4" fill="#899ee1"/><circle cx="649.3" cy="1151.9" r="7.4" fill="#899ee1"/><circle cx="679.3" cy="1151.9" r="7.4" fill="#bdcdeb"/><circle cx="563.5" cy="1153.2" r="7.4" fill="#616ec4"/><circle cx="589.6" cy="1153.2" r="7.4" fill="#7183d2"/><circle cx="694.0" cy="1153.2" r="7.4" fill="#7183d2"/><circle cx="720.1" cy="1153.2" r="7.4" fill="#616ec4"/><circle cx="746.2" cy="1153.2" r="7.4" fill="#616ec4"/><circle cx="611.8" cy="1164.8" r="7.4" fill="#f6a586"/><circle cx="626.8" cy="1164.8" r="7.4" fill="#a3b8ea"/><circle cx="656.8" cy="1164.8" r="7.4" fill="#a3b8ea"/><circle cx="671.8" cy="1164.8" r="7.4" fill="#f6a586"/><circle cx="563.5" cy="1168.2" r="7.4" fill="#616ec4"/><circle cx="589.6" cy="1168.2" r="7.4" fill="#7183d2"/><circle cx="694.0" cy="1168.2" r="7.4" fill="#7183d2"/><circle cx="720.1" cy="1168.2" r="7.4" fill="#616ec4"/><circle cx="746.2" cy="1168.2" r="7.4" fill="#7183d2"/><circle cx="550.5" cy="1175.9" r="7.4" fill="#616ec4"/><circle cx="576.6" cy="1175.9" r="7.4" fill="#616ec4"/><circle cx="602.7" cy="1175.9" r="7.4" fill="#899ee1"/><circle cx="681.0" cy="1175.9" r="7.4" fill="#899ee1"/><circle cx="707.1" cy="1175.9" r="7.4" fill="#616ec4"/><circle cx="733.2" cy="1175.9" r="7.4" fill="#616ec4"/><circle cx="634.3" cy="1177.8" r="7.4" fill="#bb1b2c"/><circle cx="649.3" cy="1177.8" r="7.4" fill="#bb1b2c"/><circle cx="550.5" cy="1190.9" r="7.4" fill="#616ec4"/><circle cx="576.6" cy="1190.9" r="7.4" fill="#7183d2"/><circle cx="602.7" cy="1190.9" r="7.4" fill="#bdcdeb"/><circle cx="628.8" cy="1190.9" r="7.4" fill="#a3b8ea"/><circle cx="654.9" cy="1190.9" r="7.4" fill="#a3b8ea"/><circle cx="681.0" cy="1190.9" r="7.4" fill="#bdcdeb"/><circle cx="707.1" cy="1190.9" r="7.4" fill="#7183d2"/><circle cx="733.2" cy="1190.9" r="7.4" fill="#616ec4"/><circle cx="563.5" cy="1198.5" r="7.4" fill="#616ec4"/><circle cx="589.6" cy="1198.5" r="7.4" fill="#616ec4"/><circle cx="615.7" cy="1198.5" r="7.4" fill="#899ee1"/><circle cx="641.8" cy="1198.5" r="7.4" fill="#dadcde"/><circle cx="667.9" cy="1198.5" r="7.4" fill="#899ee1"/><circle cx="694.0" cy="1198.5" r="7.4" fill="#616ec4"/><circle cx="720.1" cy="1198.5" r="7.4" fill="#616ec4"/><circle cx="746.2" cy="1198.5" r="7.4" fill="#616ec4"/><circle cx="563.5" cy="1213.5" r="7.4" fill="#7183d2"/><circle cx="589.6" cy="1213.5" r="7.4" fill="#616ec4"/><circle cx="615.7" cy="1213.5" r="7.4" fill="#616ec4"/><circle cx="641.8" cy="1213.5" r="7.4" fill="#616ec4"/><circle cx="667.9" cy="1213.5" r="7.4" fill="#a3b8ea"/><circle cx="694.0" cy="1213.5" r="7.4" fill="#616ec4"/><circle cx="720.1" cy="1213.5" r="7.4" fill="#7183d2"/><circle cx="746.2" cy="1213.5" r="7.4" fill="#7183d2"/><circle cx="550.5" cy="1221.2" r="7.4" fill="#616ec4"/><circle cx="576.6" cy="1221.2" r="7.4" fill="#616ec4"/><circle cx="602.7" cy="1221.2" r="7.4" fill="#616ec4"/><circle cx="628.8" cy="1221.2" r="7.4" fill="#899ee1"/><circle cx="654.9" cy="1221.2" r="7.4" fill="#899ee1"/><circle cx="681.0" cy="1221.2" r="7.4" fill="#616ec4"/><circle cx="707.1" cy="1221.2" r="7.4" fill="#616ec4"/><circle cx="733.2" cy="1221.2" r="7.4" fill="#616ec4"/><circle cx="550.5" cy="1236.2" r="7.4" fill="#616ec4"/><circle cx="576.6" cy="1236.2" r="7.4" fill="#616ec4"/><circle cx="602.7" cy="1236.2" r="7.4" fill="#616ec4"/><circle cx="628.8" cy="1236.2" r="7.4" fill="#899ee1"/><circle cx="654.9" cy="1236.2" r="7.4" fill="#899ee1"/><circle cx="681.0" cy="1236.2" r="7.4" fill="#616ec4"/><circle cx="707.1" cy="1236.2" r="7.4" fill="#616ec4"/><circle cx="733.2" cy="1236.2" r="7.4" fill="#616ec4"/>
<rect x="767.8" y="1053.2" width="216.9" height="192.0" fill="#fdfdfd" stroke="#000" stroke-width="2.8"/>
<circle cx="791.5" cy="1062.6" r="7.4" fill="#7183d2"/><circle cx="817.6" cy="1062.6" r="7.4" fill="#899ee1"/><circle cx="843.7" cy="1062.6" r="7.4" fill="#a3b8ea"/><circle cx="869.8" cy="1062.6" r="7.4" fill="#5058b4"/><circle cx="895.9" cy="1062.6" r="7.4" fill="#a3b8ea"/><circle cx="922.0" cy="1062.6" r="7.4" fill="#899ee1"/><circle cx="948.1" cy="1062.6" r="7.4" fill="#7183d2"/><circle cx="974.2" cy="1062.6" r="7.4" fill="#5058b4"/><circle cx="791.5" cy="1077.6" r="7.4" fill="#7183d2"/><circle cx="817.6" cy="1077.6" r="7.4" fill="#7183d2"/><circle cx="843.7" cy="1077.6" r="7.4" fill="#a3b8ea"/><circle cx="869.8" cy="1077.6" r="7.4" fill="#5058b4"/><circle cx="895.9" cy="1077.6" r="7.4" fill="#a3b8ea"/><circle cx="922.0" cy="1077.6" r="7.4" fill="#7183d2"/><circle cx="948.1" cy="1077.6" r="7.4" fill="#7183d2"/><circle cx="974.2" cy="1077.6" r="7.4" fill="#616ec4"/><circle cx="778.5" cy="1085.2" r="7.4" fill="#5058b4"/><circle cx="804.6" cy="1085.2" r="7.4" fill="#5058b4"/><circle cx="830.7" cy="1085.2" r="7.4" fill="#a3b8ea"/><circle cx="856.8" cy="1085.2" r="7.4" fill="#bb1b2c"/><circle cx="882.9" cy="1085.2" r="7.4" fill="#bb1b2c"/><circle cx="909.0" cy="1085.2" r="7.4" fill="#a3b8ea"/><circle cx="935.1" cy="1085.2" r="7.4" fill="#5058b4"/><circle cx="961.2" cy="1085.2" r="7.4" fill="#616ec4"/><circle cx="862.3" cy="1100.0" r="7.4" fill="#899ee1"/><circle cx="877.3" cy="1100.0" r="7.4" fill="#899ee1"/><circle cx="778.5" cy="1100.2" r="7.4" fill="#616ec4"/><circle cx="804.6" cy="1100.2" r="7.4" fill="#616ec4"/><circle cx="830.7" cy="1100.2" r="7.4" fill="#f5c2aa"/><circle cx="909.0" cy="1100.2" r="7.4" fill="#f5c2aa"/><circle cx="935.1" cy="1100.2" r="7.4" fill="#616ec4"/><circle cx="961.2" cy="1100.2" r="7.4" fill="#616ec4"/><circle cx="791.5" cy="1107.9" r="7.4" fill="#616ec4"/><circle cx="817.6" cy="1107.9" r="7.4" fill="#5058b4"/><circle cx="922.0" cy="1107.9" r="7.4" fill="#5058b4"/><circle cx="948.1" cy="1107.9" r="7.4" fill="#616ec4"/><circle cx="974.2" cy="1107.9" r="7.4" fill="#616ec4"/><circle cx="839.8" cy="1113.0" r="7.4" fill="#7183d2"/><circle cx="854.8" cy="1113.0" r="7.4" fill="#bdcdeb"/><circle cx="884.8" cy="1113.0" r="7.4" fill="#bdcdeb"/><circle cx="899.8" cy="1113.0" r="7.4" fill="#7183d2"/><circle cx="791.5" cy="1122.9" r="7.4" fill="#7183d2"/><circle cx="817.6" cy="1122.9" r="7.4" fill="#dadcde"/><circle cx="922.0" cy="1122.9" r="7.4" fill="#dadcde"/><circle cx="948.1" cy="1122.9" r="7.4" fill="#7183d2"/><circle cx="974.2" cy="1122.9" r="7.4" fill="#5058b4"/><circle cx="832.3" cy="1126.0" r="7.4" fill="#7183d2"/><circle cx="862.3" cy="1126.0" r="7.4" fill="#f5c2aa"/><circle cx="877.3" cy="1126.0" r="7.4" fill="#f5c2aa"/><circle cx="907.3" cy="1126.0" r="7.4" fill="#7183d2"/><circle cx="778.5" cy="1130.6" r="7.4" fill="#7183d2"/><circle cx="804.6" cy="1130.6" r="7.4" fill="#7183d2"/><circle cx="935.1" cy="1130.6" r="7.4" fill="#7183d2"/><circle cx="961.2" cy="1130.6" r="7.4" fill="#7183d2"/><circle cx="839.8" cy="1138.9" r="7.4" fill="#899ee1"/><circle cx="854.8" cy="1138.9" r="7.4" fill="#bdcdeb"/><circle cx="884.8" cy="1138.9" r="7.4" fill="#bdcdeb"/><circle cx="899.8" cy="1138.9" r="7.4" fill="#899ee1"/><circle cx="778.5" cy="1145.6" r="7.4" fill="#7183d2"/><circle cx="804.6" cy="1145.6" r="7.4" fill="#7183d2"/><circle cx="935.1" cy="1145.6" r="7.4" fill="#7183d2"/><circle cx="961.2" cy="1145.6" r="7.4" fill="#7183d2"/><circle cx="832.3" cy="1151.9" r="7.4" fill="#7183d2"/><circle cx="862.3" cy="1151.9" r="7.4" fill="#f5c2aa"/><circle cx="877.3" cy="1151.9" r="7.4" fill="#f5c2aa"/><circle cx="907.3" cy="1151.9" r="7.4" fill="#7183d2"/><circle cx="791.5" cy="1153.2" r="7.4" fill="#7183d2"/><circle cx="817.6" cy="1153.2" r="7.4" fill="#dadcde"/><circle cx="922.0" cy="1153.2" r="7.4" fill="#dadcde"/><circle cx="948.1" cy="1153.2" r="7.4" fill="#7183d2"/><circle cx="974.2" cy="1153.2" r="7.4" fill="#5058b4"/><circle cx="839.8" cy="1164.8" r="7.4" fill="#7183d2"/><circle cx="854.8" cy="1164.8" r="7.4" fill="#bdcdeb"/><circle cx="884.8" cy="1164.8" r="7.4" fill="#bdcdeb"/><circle cx="899.8" cy="1164.8" r="7.4" fill="#7183d2"/><circle cx="791.5" cy="1168.2" r="7.4" fill="#616ec4"/><circle cx="817.6" cy="1168.2" r="7.4" fill="#5058b4"/><circle cx="922.0" cy="1168.2" r="7.4" fill="#5058b4"/><circle cx="948.1" cy="1168.2" r="7.4" fill="#616ec4"/><circle cx="974.2" cy="1168.2" r="7.4" fill="#616ec4"/><circle cx="778.5" cy="1175.9" r="7.4" fill="#7183d2"/><circle cx="804.6" cy="1175.9" r="7.4" fill="#616ec4"/><circle cx="830.7" cy="1175.9" r="7.4" fill="#f5c2aa"/><circle cx="909.0" cy="1175.9" r="7.4" fill="#f5c2aa"/><circle cx="935.1" cy="1175.9" r="7.4" fill="#616ec4"/><circle cx="961.2" cy="1175.9" r="7.4" fill="#7183d2"/><circle cx="862.3" cy="1177.8" r="7.4" fill="#899ee1"/><circle cx="877.3" cy="1177.8" r="7.4" fill="#899ee1"/><circle cx="778.5" cy="1190.9" r="7.4" fill="#5058b4"/><circle cx="804.6" cy="1190.9" r="7.4" fill="#616ec4"/><circle cx="830.7" cy="1190.9" r="7.4" fill="#a3b8ea"/><circle cx="856.8" cy="1190.9" r="7.4" fill="#bb1b2c"/><circle cx="882.9" cy="1190.9" r="7.4" fill="#bb1b2c"/><circle cx="909.0" cy="1190.9" r="7.4" fill="#a3b8ea"/><circle cx="935.1" cy="1190.9" r="7.4" fill="#5058b4"/><circle cx="961.2" cy="1190.9" r="7.4" fill="#616ec4"/><circle cx="791.5" cy="1198.5" r="7.4" fill="#7183d2"/><circle cx="817.6" cy="1198.5" r="7.4" fill="#7183d2"/><circle cx="843.7" cy="1198.5" r="7.4" fill="#a3b8ea"/><circle cx="869.8" cy="1198.5" r="7.4" fill="#5058b4"/><circle cx="895.9" cy="1198.5" r="7.4" fill="#a3b8ea"/><circle cx="922.0" cy="1198.5" r="7.4" fill="#7183d2"/><circle cx="948.1" cy="1198.5" r="7.4" fill="#7183d2"/><circle cx="974.2" cy="1198.5" r="7.4" fill="#616ec4"/><circle cx="791.5" cy="1213.5" r="7.4" fill="#7183d2"/><circle cx="817.6" cy="1213.5" r="7.4" fill="#899ee1"/><circle cx="843.7" cy="1213.5" r="7.4" fill="#a3b8ea"/><circle cx="869.8" cy="1213.5" r="7.4" fill="#5058b4"/><circle cx="895.9" cy="1213.5" r="7.4" fill="#a3b8ea"/><circle cx="922.0" cy="1213.5" r="7.4" fill="#899ee1"/><circle cx="948.1" cy="1213.5" r="7.4" fill="#7183d2"/><circle cx="974.2" cy="1213.5" r="7.4" fill="#5058b4"/><circle cx="778.5" cy="1221.2" r="7.4" fill="#7183d2"/><circle cx="804.6" cy="1221.2" r="7.4" fill="#616ec4"/><circle cx="830.7" cy="1221.2" r="7.4" fill="#7183d2"/><circle cx="856.8" cy="1221.2" r="7.4" fill="#7183d2"/><circle cx="882.9" cy="1221.2" r="7.4" fill="#7183d2"/><circle cx="909.0" cy="1221.2" r="7.4" fill="#7183d2"/><circle cx="935.1" cy="1221.2" r="7.4" fill="#616ec4"/><circle cx="961.2" cy="1221.2" r="7.4" fill="#7183d2"/><circle cx="778.5" cy="1236.2" r="7.4" fill="#7183d2"/><circle cx="804.6" cy="1236.2" r="7.4" fill="#616ec4"/><circle cx="830.7" cy="1236.2" r="7.4" fill="#7183d2"/><circle cx="856.8" cy="1236.2" r="7.4" fill="#7183d2"/><circle cx="882.9" cy="1236.2" r="7.4" fill="#7183d2"/><circle cx="909.0" cy="1236.2" r="7.4" fill="#7183d2"/><circle cx="935.1" cy="1236.2" r="7.4" fill="#616ec4"/><circle cx="961.2" cy="1236.2" r="7.4" fill="#7183d2"/>
<rect x="995.3" y="1053.2" width="216.3" height="192.0" fill="#fdfdfd" stroke="#000" stroke-width="2.8"/>
<circle cx="1018.5" cy="1062.6" r="7.4" fill="#7183d2"/><circle cx="1044.6" cy="1062.6" r="7.4" fill="#7183d2"/><circle cx="1070.7" cy="1062.6" r="7.4" fill="#7183d2"/><circle cx="1096.8" cy="1062.6" r="7.4" fill="#616ec4"/><circle cx="1122.9" cy="1062.6" r="7.4" fill="#7183d2"/><circle cx="1149.0" cy="1062.6" r="7.4" fill="#7183d2"/><circle cx="1175.1" cy="1062.6" r="7.4" fill="#7183d2"/><circle cx="1201.2" cy="1062.6" r="7.4" fill="#899ee1"/><circle cx="1018.5" cy="1077.6" r="7.4" fill="#616ec4"/><circle cx="1044.6" cy="1077.6" r="7.4" fill="#899ee1"/><circle cx="1070.7" cy="1077.6" r="7.4" fill="#7183d2"/><circle cx="1096.8" cy="1077.6" r="7.4" fill="#5058b4"/><circle cx="1122.9" cy="1077.6" r="7.4" fill="#899ee1"/><circle cx="1149.0" cy="1077.6" r="7.4" fill="#899ee1"/><circle cx="1175.1" cy="1077.6" r="7.4" fill="#616ec4"/><circle cx="1201.2" cy="1077.6" r="7.4" fill="#616ec4"/><circle cx="1005.5" cy="1085.2" r="7.4" fill="#616ec4"/><circle cx="1031.6" cy="1085.2" r="7.4" fill="#899ee1"/><circle cx="1057.7" cy="1085.2" r="7.4" fill="#a3b8ea"/><circle cx="1083.8" cy="1085.2" r="7.4" fill="#dadcde"/><circle cx="1109.8" cy="1085.2" r="7.4" fill="#dadcde"/><circle cx="1136.0" cy="1085.2" r="7.4" fill="#a3b8ea"/><circle cx="1162.1" cy="1085.2" r="7.4" fill="#899ee1"/><circle cx="1188.2" cy="1085.2" r="7.4" fill="#616ec4"/><circle cx="1089.3" cy="1100.0" r="7.4" fill="#5058b4"/><circle cx="1104.3" cy="1100.0" r="7.4" fill="#5058b4"/><circle cx="1005.5" cy="1100.2" r="7.4" fill="#616ec4"/><circle cx="1031.6" cy="1100.2" r="7.4" fill="#616ec4"/><circle cx="1057.7" cy="1100.2" r="7.4" fill="#f6a586"/><circle cx="1136.0" cy="1100.2" r="7.4" fill="#f6a586"/><circle cx="1162.1" cy="1100.2" r="7.4" fill="#616ec4"/><circle cx="1188.2" cy="1100.2" r="7.4" fill="#616ec4"/><circle cx="1018.5" cy="1107.9" r="7.4" fill="#7183d2"/><circle cx="1044.6" cy="1107.9" r="7.4" fill="#5058b4"/><circle cx="1149.0" cy="1107.9" r="7.4" fill="#5058b4"/><circle cx="1175.1" cy="1107.9" r="7.4" fill="#7183d2"/><circle cx="1201.2" cy="1107.9" r="7.4" fill="#dadcde"/><circle cx="1066.8" cy="1113.0" r="7.4" fill="#7183d2"/><circle cx="1081.8" cy="1113.0" r="7.4" fill="#bdcdeb"/><circle cx="1111.8" cy="1113.0" r="7.4" fill="#bdcdeb"/><circle cx="1126.8" cy="1113.0" r="7.4" fill="#7183d2"/><circle cx="1018.5" cy="1122.9" r="7.4" fill="#7183d2"/><circle cx="1044.6" cy="1122.9" r="7.4" fill="#bb1b2c"/><circle cx="1149.0" cy="1122.9" r="7.4" fill="#bb1b2c"/><circle cx="1175.1" cy="1122.9" r="7.4" fill="#7183d2"/><circle cx="1201.2" cy="1122.9" r="7.4" fill="#616ec4"/><circle cx="1059.3" cy="1126.0" r="7.4" fill="#616ec4"/><circle cx="1089.3" cy="1126.0" r="7.4" fill="#7183d2"/><circle cx="1104.3" cy="1126.0" r="7.4" fill="#7183d2"/><circle cx="1134.3" cy="1126.0" r="7.4" fill="#616ec4"/><circle cx="1005.5" cy="1130.6" r="7.4" fill="#7183d2"/><circle cx="1031.6" cy="1130.6" r="7.4" fill="#bdcdeb"/><circle cx="1162.1" cy="1130.6" r="7.4" fill="#bdcdeb"/><circle cx="1188.2" cy="1130.6" r="7.4" fill="#7183d2"/><circle cx="1066.8" cy="1138.9" r="7.4" fill="#a3b8ea"/><circle cx="1081.8" cy="1138.9" r="7.4" fill="#7183d2"/><circle cx="1111.8" cy="1138.9" r="7.4" fill="#7183d2"/><circle cx="1126.8" cy="1138.9" r="7.4" fill="#a3b8ea"/><circle cx="1005.5" cy="1145.6" r="7.4" fill="#7183d2"/><circle cx="1031.6" cy="1145.6" r="7.4" fill="#bdcdeb"/><circle cx="1162.1" cy="1145.6" r="7.4" fill="#bdcdeb"/><circle cx="1188.2" cy="1145.6" r="7.4" fill="#7183d2"/><circle cx="1059.3" cy="1151.9" r="7.4" fill="#616ec4"/><circle cx="1089.3" cy="1151.9" r="7.4" fill="#7183d2"/><circle cx="1104.3" cy="1151.9" r="7.4" fill="#7183d2"/><circle cx="1134.3" cy="1151.9" r="7.4" fill="#616ec4"/><circle cx="1018.5" cy="1153.2" r="7.4" fill="#7183d2"/><circle cx="1044.6" cy="1153.2" r="7.4" fill="#bb1b2c"/><circle cx="1149.0" cy="1153.2" r="7.4" fill="#bb1b2c"/><circle cx="1175.1" cy="1153.2" r="7.4" fill="#7183d2"/><circle cx="1201.2" cy="1153.2" r="7.4" fill="#616ec4"/><circle cx="1066.8" cy="1164.8" r="7.4" fill="#7183d2"/><circle cx="1081.8" cy="1164.8" r="7.4" fill="#bdcdeb"/><circle cx="1111.8" cy="1164.8" r="7.4" fill="#bdcdeb"/><circle cx="1126.8" cy="1164.8" r="7.4" fill="#7183d2"/><circle cx="1018.5" cy="1168.2" r="7.4" fill="#7183d2"/><circle cx="1044.6" cy="1168.2" r="7.4" fill="#5058b4"/><circle cx="1149.0" cy="1168.2" r="7.4" fill="#5058b4"/><circle cx="1175.1" cy="1168.2" r="7.4" fill="#7183d2"/><circle cx="1201.2" cy="1168.2" r="7.4" fill="#dadcde"/><circle cx="1005.5" cy="1175.9" r="7.4" fill="#616ec4"/><circle cx="1031.6" cy="1175.9" r="7.4" fill="#616ec4"/><circle cx="1057.7" cy="1175.9" r="7.4" fill="#f6a586"/><circle cx="1136.0" cy="1175.9" r="7.4" fill="#f6a586"/><circle cx="1162.1" cy="1175.9" r="7.4" fill="#616ec4"/><circle cx="1188.2" cy="1175.9" r="7.4" fill="#616ec4"/><circle cx="1089.3" cy="1177.8" r="7.4" fill="#5058b4"/><circle cx="1104.3" cy="1177.8" r="7.4" fill="#5058b4"/><circle cx="1005.5" cy="1190.9" r="7.4" fill="#616ec4"/><circle cx="1031.6" cy="1190.9" r="7.4" fill="#899ee1"/><circle cx="1057.7" cy="1190.9" r="7.4" fill="#a3b8ea"/><circle cx="1083.8" cy="1190.9" r="7.4" fill="#dadcde"/><circle cx="1109.8" cy="1190.9" r="7.4" fill="#dadcde"/><circle cx="1136.0" cy="1190.9" r="7.4" fill="#a3b8ea"/><circle cx="1162.1" cy="1190.9" r="7.4" fill="#a3b8ea"/><circle cx="1188.2" cy="1190.9" r="7.4" fill="#616ec4"/><circle cx="1018.5" cy="1198.5" r="7.4" fill="#5058b4"/><circle cx="1044.6" cy="1198.5" r="7.4" fill="#899ee1"/><circle cx="1070.7" cy="1198.5" r="7.4" fill="#7183d2"/><circle cx="1096.8" cy="1198.5" r="7.4" fill="#5058b4"/><circle cx="1122.9" cy="1198.5" r="7.4" fill="#7183d2"/><circle cx="1149.0" cy="1198.5" r="7.4" fill="#899ee1"/><circle cx="1175.1" cy="1198.5" r="7.4" fill="#616ec4"/><circle cx="1201.2" cy="1198.5" r="7.4" fill="#616ec4"/><circle cx="1018.5" cy="1213.5" r="7.4" fill="#7183d2"/><circle cx="1044.6" cy="1213.5" r="7.4" fill="#7183d2"/><circle cx="1070.7" cy="1213.5" r="7.4" fill="#7183d2"/><circle cx="1096.8" cy="1213.5" r="7.4" fill="#616ec4"/><circle cx="1122.9" cy="1213.5" r="7.4" fill="#7183d2"/><circle cx="1149.0" cy="1213.5" r="7.4" fill="#7183d2"/><circle cx="1175.1" cy="1213.5" r="7.4" fill="#7183d2"/><circle cx="1201.2" cy="1213.5" r="7.4" fill="#899ee1"/><circle cx="1005.5" cy="1221.2" r="7.4" fill="#616ec4"/><circle cx="1031.6" cy="1221.2" r="7.4" fill="#616ec4"/><circle cx="1057.7" cy="1221.2" r="7.4" fill="#7183d2"/><circle cx="1083.8" cy="1221.2" r="7.4" fill="#5058b4"/><circle cx="1109.8" cy="1221.2" r="7.4" fill="#5058b4"/><circle cx="1136.0" cy="1221.2" r="7.4" fill="#7183d2"/><circle cx="1162.1" cy="1221.2" r="7.4" fill="#616ec4"/><circle cx="1188.2" cy="1221.2" r="7.4" fill="#616ec4"/><circle cx="1005.5" cy="1236.2" r="7.4" fill="#616ec4"/><circle cx="1031.6" cy="1236.2" r="7.4" fill="#616ec4"/><circle cx="1057.7" cy="1236.2" r="7.4" fill="#7183d2"/><circle cx="1083.8" cy="1236.2" r="7.4" fill="#5058b4"/><circle cx="1109.8" cy="1236.2" r="7.4" fill="#5058b4"/><circle cx="1136.0" cy="1236.2" r="7.4" fill="#7183d2"/><circle cx="1162.1" cy="1236.2" r="7.4" fill="#616ec4"/><circle cx="1188.2" cy="1236.2" r="7.4" fill="#616ec4"/>
<rect x="533" y="1264.7" width="684" height="214.20000000000005" fill="#4a9fd4"/>
<rect x="540.6" y="1274.3000000000002" width="216.2" height="193.0" fill="#fdfdfd" stroke="#000" stroke-width="2.8"/>
<circle cx="563.5" cy="1284.3" r="7.4" fill="#7183d2"/><circle cx="589.6" cy="1284.3" r="7.4" fill="#7183d2"/><circle cx="615.7" cy="1284.3" r="7.4" fill="#5058b4"/><circle cx="641.8" cy="1284.3" r="7.4" fill="#a3b8ea"/><circle cx="667.9" cy="1284.3" r="7.4" fill="#5058b4"/><circle cx="694.0" cy="1284.3" r="7.4" fill="#7183d2"/><circle cx="720.1" cy="1284.3" r="7.4" fill="#7183d2"/><circle cx="746.2" cy="1284.3" r="7.4" fill="#7183d2"/><circle cx="563.5" cy="1299.3" r="7.4" fill="#616ec4"/><circle cx="589.6" cy="1299.3" r="7.4" fill="#616ec4"/><circle cx="615.7" cy="1299.3" r="7.4" fill="#899ee1"/><circle cx="641.8" cy="1299.3" r="7.4" fill="#dadcde"/><circle cx="667.9" cy="1299.3" r="7.4" fill="#899ee1"/><circle cx="694.0" cy="1299.3" r="7.4" fill="#616ec4"/><circle cx="720.1" cy="1299.3" r="7.4" fill="#616ec4"/><circle cx="746.2" cy="1299.3" r="7.4" fill="#616ec4"/><circle cx="550.5" cy="1307.0" r="7.4" fill="#616ec4"/><circle cx="576.6" cy="1307.0" r="7.4" fill="#7183d2"/><circle cx="602.7" cy="1307.0" r="7.4" fill="#a3b8ea"/><circle cx="628.8" cy="1307.0" r="7.4" fill="#bdcdeb"/><circle cx="654.9" cy="1307.0" r="7.4" fill="#bdcdeb"/><circle cx="681.0" cy="1307.0" r="7.4" fill="#a3b8ea"/><circle cx="707.1" cy="1307.0" r="7.4" fill="#7183d2"/><circle cx="733.2" cy="1307.0" r="7.4" fill="#616ec4"/><circle cx="634.3" cy="1321.8" r="7.4" fill="#bb1b2c"/><circle cx="649.3" cy="1321.8" r="7.4" fill="#bb1b2c"/><circle cx="550.5" cy="1322.0" r="7.4" fill="#616ec4"/><circle cx="576.6" cy="1322.0" r="7.4" fill="#616ec4"/><circle cx="602.7" cy="1322.0" r="7.4" fill="#899ee1"/><circle cx="681.0" cy="1322.0" r="7.4" fill="#899ee1"/><circle cx="707.1" cy="1322.0" r="7.4" fill="#616ec4"/><circle cx="733.2" cy="1322.0" r="7.4" fill="#616ec4"/><circle cx="563.5" cy="1329.6" r="7.4" fill="#616ec4"/><circle cx="589.6" cy="1329.6" r="7.4" fill="#7183d2"/><circle cx="694.0" cy="1329.6" r="7.4" fill="#7183d2"/><circle cx="720.1" cy="1329.6" r="7.4" fill="#616ec4"/><circle cx="746.2" cy="1329.6" r="7.4" fill="#7183d2"/><circle cx="611.8" cy="1334.7" r="7.4" fill="#f6a586"/><circle cx="626.8" cy="1334.7" r="7.4" fill="#a3b8ea"/><circle cx="656.8" cy="1334.7" r="7.4" fill="#a3b8ea"/><circle cx="671.8" cy="1334.7" r="7.4" fill="#f6a586"/><circle cx="563.5" cy="1344.6" r="7.4" fill="#616ec4"/><circle cx="589.6" cy="1344.6" r="7.4" fill="#7183d2"/><circle cx="694.0" cy="1344.6" r="7.4" fill="#7183d2"/><circle cx="720.1" cy="1344.6" r="7.4" fill="#5058b4"/><circle cx="746.2" cy="1344.6" r="7.4" fill="#5058b4"/><circle cx="604.3" cy="1347.7" r="7.4" fill="#bdcdeb"/><circle cx="634.3" cy="1347.7" r="7.4" fill="#899ee1"/><circle cx="649.3" cy="1347.7" r="7.4" fill="#899ee1"/><circle cx="679.3" cy="1347.7" r="7.4" fill="#bdcdeb"/><circle cx="550.5" cy="1352.2" r="7.4" fill="#7183d2"/><circle cx="576.6" cy="1352.2" r="7.4" fill="#7183d2"/><circle cx="707.1" cy="1352.2" r="7.4" fill="#7183d2"/><circle cx="733.2" cy="1352.2" r="7.4" fill="#616ec4"/><circle cx="611.8" cy="1360.6" r="7.4" fill="#f5c2aa"/><circle cx="626.8" cy="1360.6" r="7.4" fill="#899ee1"/><circle cx="656.8" cy="1360.6" r="7.4" fill="#899ee1"/><circle cx="671.8" cy="1360.6" r="7.4" fill="#f5c2aa"/><circle cx="550.5" cy="1367.2" r="7.4" fill="#7183d2"/><circle cx="576.6" cy="1367.2" r="7.4" fill="#7183d2"/><circle cx="707.1" cy="1367.2" r="7.4" fill="#7183d2"/><circle cx="733.2" cy="1367.2" r="7.4" fill="#616ec4"/><circle cx="604.3" cy="1373.6" r="7.4" fill="#bdcdeb"/><circle cx="634.3" cy="1373.6" r="7.4" fill="#899ee1"/><circle cx="649.3" cy="1373.6" r="7.4" fill="#899ee1"/><circle cx="679.3" cy="1373.6" r="7.4" fill="#bdcdeb"/><circle cx="563.5" cy="1374.9" r="7.4" fill="#616ec4"/><circle cx="589.6" cy="1374.9" r="7.4" fill="#7183d2"/><circle cx="694.0" cy="1374.9" r="7.4" fill="#899ee1"/><circle cx="720.1" cy="1374.9" r="7.4" fill="#5058b4"/><circle cx="746.2" cy="1374.9" r="7.4" fill="#5058b4"/><circle cx="611.8" cy="1386.5" r="7.4" fill="#f6a586"/><circle cx="626.8" cy="1386.5" r="7.4" fill="#a3b8ea"/><circle cx="656.8" cy="1386.5" r="7.4" fill="#a3b8ea"/><circle cx="671.8" cy="1386.5" r="7.4" fill="#f6a586"/><circle cx="563.5" cy="1389.9" r="7.4" fill="#616ec4"/><circle cx="589.6" cy="1389.9" r="7.4" fill="#7183d2"/><circle cx="694.0" cy="1389.9" r="7.4" fill="#7183d2"/><circle cx="720.1" cy="1389.9" r="7.4" fill="#616ec4"/><circle cx="746.2" cy="1389.9" r="7.4" fill="#7183d2"/><circle cx="550.5" cy="1397.6" r="7.4" fill="#5058b4"/><circle cx="576.6" cy="1397.6" r="7.4" fill="#616ec4"/><circle cx="602.7" cy="1397.6" r="7.4" fill="#899ee1"/><circle cx="681.0" cy="1397.6" r="7.4" fill="#899ee1"/><circle cx="707.1" cy="1397.6" r="7.4" fill="#5058b4"/><circle cx="733.2" cy="1397.6" r="7.4" fill="#5058b4"/><circle cx="634.3" cy="1399.5" r="7.4" fill="#bb1b2c"/><circle cx="649.3" cy="1399.5" r="7.4" fill="#bb1b2c"/><circle cx="550.5" cy="1412.6" r="7.4" fill="#616ec4"/><circle cx="576.6" cy="1412.6" r="7.4" fill="#7183d2"/><circle cx="602.7" cy="1412.6" r="7.4" fill="#a3b8ea"/><circle cx="628.8" cy="1412.6" r="7.4" fill="#bdcdeb"/><circle cx="654.9" cy="1412.6" r="7.4" fill="#bdcdeb"/><circle cx="681.0" cy="1412.6" r="7.4" fill="#a3b8ea"/><circle cx="707.1" cy="1412.6" r="7.4" fill="#7183d2"/><circle cx="733.2" cy="1412.6" r="7.4" fill="#616ec4"/><circle cx="563.5" cy="1420.2" r="7.4" fill="#616ec4"/><circle cx="589.6" cy="1420.2" r="7.4" fill="#5058b4"/><circle cx="615.7" cy="1420.2" r="7.4" fill="#899ee1"/><circle cx="641.8" cy="1420.2" r="7.4" fill="#dadcde"/><circle cx="667.9" cy="1420.2" r="7.4" fill="#899ee1"/><circle cx="694.0" cy="1420.2" r="7.4" fill="#5058b4"/><circle cx="720.1" cy="1420.2" r="7.4" fill="#616ec4"/><circle cx="746.2" cy="1420.2" r="7.4" fill="#616ec4"/><circle cx="563.5" cy="1435.2" r="7.4" fill="#7183d2"/><circle cx="589.6" cy="1435.2" r="7.4" fill="#7183d2"/><circle cx="615.7" cy="1435.2" r="7.4" fill="#5058b4"/><circle cx="641.8" cy="1435.2" r="7.4" fill="#a3b8ea"/><circle cx="667.9" cy="1435.2" r="7.4" fill="#5058b4"/><circle cx="694.0" cy="1435.2" r="7.4" fill="#7183d2"/><circle cx="720.1" cy="1435.2" r="7.4" fill="#7183d2"/><circle cx="746.2" cy="1435.2" r="7.4" fill="#7183d2"/><circle cx="550.5" cy="1442.8" r="7.4" fill="#616ec4"/><circle cx="576.6" cy="1442.8" r="7.4" fill="#5058b4"/><circle cx="602.7" cy="1442.8" r="7.4" fill="#616ec4"/><circle cx="628.8" cy="1442.8" r="7.4" fill="#899ee1"/><circle cx="654.9" cy="1442.8" r="7.4" fill="#899ee1"/><circle cx="681.0" cy="1442.8" r="7.4" fill="#616ec4"/><circle cx="707.1" cy="1442.8" r="7.4" fill="#5058b4"/><circle cx="733.2" cy="1442.8" r="7.4" fill="#616ec4"/><circle cx="550.5" cy="1457.8" r="7.4" fill="#616ec4"/><circle cx="576.6" cy="1457.8" r="7.4" fill="#5058b4"/><circle cx="602.7" cy="1457.8" r="7.4" fill="#616ec4"/><circle cx="628.8" cy="1457.8" r="7.4" fill="#899ee1"/><circle cx="654.9" cy="1457.8" r="7.4" fill="#899ee1"/><circle cx="681.0" cy="1457.8" r="7.4" fill="#616ec4"/><circle cx="707.1" cy="1457.8" r="7.4" fill="#5058b4"/><circle cx="733.2" cy="1457.8" r="7.4" fill="#616ec4"/>
<rect x="767.8" y="1274.3000000000002" width="216.9" height="193.0" fill="#fdfdfd" stroke="#000" stroke-width="2.8"/>
<circle cx="791.5" cy="1284.3" r="7.4" fill="#7183d2"/><circle cx="817.6" cy="1284.3" r="7.4" fill="#899ee1"/><circle cx="843.7" cy="1284.3" r="7.4" fill="#a3b8ea"/><circle cx="869.8" cy="1284.3" r="7.4" fill="#5058b4"/><circle cx="895.9" cy="1284.3" r="7.4" fill="#a3b8ea"/><circle cx="922.0" cy="1284.3" r="7.4" fill="#899ee1"/><circle cx="948.1" cy="1284.3" r="7.4" fill="#7183d2"/><circle cx="974.2" cy="1284.3" r="7.4" fill="#5058b4"/><circle cx="791.5" cy="1299.3" r="7.4" fill="#7183d2"/><circle cx="817.6" cy="1299.3" r="7.4" fill="#7183d2"/><circle cx="843.7" cy="1299.3" r="7.4" fill="#a3b8ea"/><circle cx="869.8" cy="1299.3" r="7.4" fill="#5058b4"/><circle cx="895.9" cy="1299.3" r="7.4" fill="#a3b8ea"/><circle cx="922.0" cy="1299.3" r="7.4" fill="#7183d2"/><circle cx="948.1" cy="1299.3" r="7.4" fill="#7183d2"/><circle cx="974.2" cy="1299.3" r="7.4" fill="#616ec4"/><circle cx="778.5" cy="1307.0" r="7.4" fill="#5058b4"/><circle cx="804.6" cy="1307.0" r="7.4" fill="#5058b4"/><circle cx="830.7" cy="1307.0" r="7.4" fill="#a3b8ea"/><circle cx="856.8" cy="1307.0" r="7.4" fill="#bb1b2c"/><circle cx="882.9" cy="1307.0" r="7.4" fill="#bb1b2c"/><circle cx="909.0" cy="1307.0" r="7.4" fill="#a3b8ea"/><circle cx="935.1" cy="1307.0" r="7.4" fill="#5058b4"/><circle cx="961.2" cy="1307.0" r="7.4" fill="#616ec4"/><circle cx="862.3" cy="1321.8" r="7.4" fill="#899ee1"/><circle cx="877.3" cy="1321.8" r="7.4" fill="#899ee1"/><circle cx="778.5" cy="1322.0" r="7.4" fill="#7183d2"/><circle cx="804.6" cy="1322.0" r="7.4" fill="#616ec4"/><circle cx="830.7" cy="1322.0" r="7.4" fill="#f5c2aa"/><circle cx="909.0" cy="1322.0" r="7.4" fill="#f5c2aa"/><circle cx="935.1" cy="1322.0" r="7.4" fill="#616ec4"/><circle cx="961.2" cy="1322.0" r="7.4" fill="#616ec4"/><circle cx="791.5" cy="1329.6" r="7.4" fill="#616ec4"/><circle cx="817.6" cy="1329.6" r="7.4" fill="#5058b4"/><circle cx="922.0" cy="1329.6" r="7.4" fill="#5058b4"/><circle cx="948.1" cy="1329.6" r="7.4" fill="#616ec4"/><circle cx="974.2" cy="1329.6" r="7.4" fill="#616ec4"/><circle cx="839.8" cy="1334.7" r="7.4" fill="#7183d2"/><circle cx="854.8" cy="1334.7" r="7.4" fill="#bdcdeb"/><circle cx="884.8" cy="1334.7" r="7.4" fill="#bdcdeb"/><circle cx="899.8" cy="1334.7" r="7.4" fill="#7183d2"/><circle cx="791.5" cy="1344.6" r="7.4" fill="#7183d2"/><circle cx="817.6" cy="1344.6" r="7.4" fill="#bdcdeb"/><circle cx="922.0" cy="1344.6" r="7.4" fill="#bdcdeb"/><circle cx="948.1" cy="1344.6" r="7.4" fill="#7183d2"/><circle cx="974.2" cy="1344.6" r="7.4" fill="#5058b4"/><circle cx="832.3" cy="1347.7" r="7.4" fill="#7183d2"/><circle cx="862.3" cy="1347.7" r="7.4" fill="#f5c2aa"/><circle cx="877.3" cy="1347.7" r="7.4" fill="#f5c2aa"/><circle cx="907.3" cy="1347.7" r="7.4" fill="#7183d2"/><circle cx="778.5" cy="1352.2" r="7.4" fill="#7183d2"/><circle cx="804.6" cy="1352.2" r="7.4" fill="#7183d2"/><circle cx="935.1" cy="1352.2" r="7.4" fill="#7183d2"/><circle cx="961.2" cy="1352.2" r="7.4" fill="#7183d2"/><circle cx="839.8" cy="1360.6" r="7.4" fill="#7183d2"/><circle cx="854.8" cy="1360.6" r="7.4" fill="#bdcdeb"/><circle cx="884.8" cy="1360.6" r="7.4" fill="#bdcdeb"/><circle cx="899.8" cy="1360.6" r="7.4" fill="#7183d2"/><circle cx="778.5" cy="1367.2" r="7.4" fill="#7183d2"/><circle cx="804.6" cy="1367.2" r="7.4" fill="#7183d2"/><circle cx="935.1" cy="1367.2" r="7.4" fill="#7183d2"/><circle cx="961.2" cy="1367.2" r="7.4" fill="#7183d2"/><circle cx="832.3" cy="1373.6" r="7.4" fill="#7183d2"/><circle cx="862.3" cy="1373.6" r="7.4" fill="#f5c2aa"/><circle cx="877.3" cy="1373.6" r="7.4" fill="#f5c2aa"/><circle cx="907.3" cy="1373.6" r="7.4" fill="#7183d2"/><circle cx="791.5" cy="1374.9" r="7.4" fill="#7183d2"/><circle cx="817.6" cy="1374.9" r="7.4" fill="#bdcdeb"/><circle cx="922.0" cy="1374.9" r="7.4" fill="#bdcdeb"/><circle cx="948.1" cy="1374.9" r="7.4" fill="#7183d2"/><circle cx="974.2" cy="1374.9" r="7.4" fill="#5058b4"/><circle cx="839.8" cy="1386.5" r="7.4" fill="#7183d2"/><circle cx="854.8" cy="1386.5" r="7.4" fill="#bdcdeb"/><circle cx="884.8" cy="1386.5" r="7.4" fill="#bdcdeb"/><circle cx="899.8" cy="1386.5" r="7.4" fill="#7183d2"/><circle cx="791.5" cy="1389.9" r="7.4" fill="#616ec4"/><circle cx="817.6" cy="1389.9" r="7.4" fill="#5058b4"/><circle cx="922.0" cy="1389.9" r="7.4" fill="#5058b4"/><circle cx="948.1" cy="1389.9" r="7.4" fill="#616ec4"/><circle cx="974.2" cy="1389.9" r="7.4" fill="#616ec4"/><circle cx="778.5" cy="1397.6" r="7.4" fill="#7183d2"/><circle cx="804.6" cy="1397.6" r="7.4" fill="#616ec4"/><circle cx="830.7" cy="1397.6" r="7.4" fill="#f5c2aa"/><circle cx="909.0" cy="1397.6" r="7.4" fill="#f5c2aa"/><circle cx="935.1" cy="1397.6" r="7.4" fill="#616ec4"/><circle cx="961.2" cy="1397.6" r="7.4" fill="#7183d2"/><circle cx="862.3" cy="1399.5" r="7.4" fill="#899ee1"/><circle cx="877.3" cy="1399.5" r="7.4" fill="#899ee1"/><circle cx="778.5" cy="1412.6" r="7.4" fill="#5058b4"/><circle cx="804.6" cy="1412.6" r="7.4" fill="#616ec4"/><circle cx="830.7" cy="1412.6" r="7.4" fill="#a3b8ea"/><circle cx="856.8" cy="1412.6" r="7.4" fill="#bb1b2c"/><circle cx="882.9" cy="1412.6" r="7.4" fill="#bb1b2c"/><circle cx="909.0" cy="1412.6" r="7.4" fill="#a3b8ea"/><circle cx="935.1" cy="1412.6" r="7.4" fill="#5058b4"/><circle cx="961.2" cy="1412.6" r="7.4" fill="#616ec4"/><circle cx="791.5" cy="1420.2" r="7.4" fill="#7183d2"/><circle cx="817.6" cy="1420.2" r="7.4" fill="#7183d2"/><circle cx="843.7" cy="1420.2" r="7.4" fill="#a3b8ea"/><circle cx="869.8" cy="1420.2" r="7.4" fill="#5058b4"/><circle cx="895.9" cy="1420.2" r="7.4" fill="#a3b8ea"/><circle cx="922.0" cy="1420.2" r="7.4" fill="#7183d2"/><circle cx="948.1" cy="1420.2" r="7.4" fill="#7183d2"/><circle cx="974.2" cy="1420.2" r="7.4" fill="#5058b4"/><circle cx="791.5" cy="1435.2" r="7.4" fill="#7183d2"/><circle cx="817.6" cy="1435.2" r="7.4" fill="#899ee1"/><circle cx="843.7" cy="1435.2" r="7.4" fill="#a3b8ea"/><circle cx="869.8" cy="1435.2" r="7.4" fill="#5058b4"/><circle cx="895.9" cy="1435.2" r="7.4" fill="#a3b8ea"/><circle cx="922.0" cy="1435.2" r="7.4" fill="#899ee1"/><circle cx="948.1" cy="1435.2" r="7.4" fill="#7183d2"/><circle cx="974.2" cy="1435.2" r="7.4" fill="#5058b4"/><circle cx="778.5" cy="1442.8" r="7.4" fill="#7183d2"/><circle cx="804.6" cy="1442.8" r="7.4" fill="#616ec4"/><circle cx="830.7" cy="1442.8" r="7.4" fill="#7183d2"/><circle cx="856.8" cy="1442.8" r="7.4" fill="#7183d2"/><circle cx="882.9" cy="1442.8" r="7.4" fill="#7183d2"/><circle cx="909.0" cy="1442.8" r="7.4" fill="#7183d2"/><circle cx="935.1" cy="1442.8" r="7.4" fill="#616ec4"/><circle cx="961.2" cy="1442.8" r="7.4" fill="#7183d2"/><circle cx="778.5" cy="1457.8" r="7.4" fill="#7183d2"/><circle cx="804.6" cy="1457.8" r="7.4" fill="#616ec4"/><circle cx="830.7" cy="1457.8" r="7.4" fill="#7183d2"/><circle cx="856.8" cy="1457.8" r="7.4" fill="#7183d2"/><circle cx="882.9" cy="1457.8" r="7.4" fill="#7183d2"/><circle cx="909.0" cy="1457.8" r="7.4" fill="#7183d2"/><circle cx="935.1" cy="1457.8" r="7.4" fill="#616ec4"/><circle cx="961.2" cy="1457.8" r="7.4" fill="#7183d2"/>
<rect x="995.3" y="1274.3000000000002" width="216.3" height="193.0" fill="#fdfdfd" stroke="#000" stroke-width="2.8"/>
<circle cx="1018.5" cy="1284.3" r="7.4" fill="#7183d2"/><circle cx="1044.6" cy="1284.3" r="7.4" fill="#7183d2"/><circle cx="1070.7" cy="1284.3" r="7.4" fill="#616ec4"/><circle cx="1096.8" cy="1284.3" r="7.4" fill="#616ec4"/><circle cx="1122.9" cy="1284.3" r="7.4" fill="#616ec4"/><circle cx="1149.0" cy="1284.3" r="7.4" fill="#7183d2"/><circle cx="1175.1" cy="1284.3" r="7.4" fill="#7183d2"/><circle cx="1201.2" cy="1284.3" r="7.4" fill="#899ee1"/><circle cx="1018.5" cy="1299.3" r="7.4" fill="#616ec4"/><circle cx="1044.6" cy="1299.3" r="7.4" fill="#899ee1"/><circle cx="1070.7" cy="1299.3" r="7.4" fill="#7183d2"/><circle cx="1096.8" cy="1299.3" r="7.4" fill="#5058b4"/><circle cx="1122.9" cy="1299.3" r="7.4" fill="#7183d2"/><circle cx="1149.0" cy="1299.3" r="7.4" fill="#899ee1"/><circle cx="1175.1" cy="1299.3" r="7.4" fill="#616ec4"/><circle cx="1201.2" cy="1299.3" r="7.4" fill="#616ec4"/><circle cx="1005.5" cy="1307.0" r="7.4" fill="#616ec4"/><circle cx="1031.6" cy="1307.0" r="7.4" fill="#899ee1"/><circle cx="1057.7" cy="1307.0" r="7.4" fill="#a3b8ea"/><circle cx="1083.8" cy="1307.0" r="7.4" fill="#dadcde"/><circle cx="1109.8" cy="1307.0" r="7.4" fill="#dadcde"/><circle cx="1136.0" cy="1307.0" r="7.4" fill="#a3b8ea"/><circle cx="1162.1" cy="1307.0" r="7.4" fill="#899ee1"/><circle cx="1188.2" cy="1307.0" r="7.4" fill="#616ec4"/><circle cx="1089.3" cy="1321.8" r="7.4" fill="#5058b4"/><circle cx="1104.3" cy="1321.8" r="7.4" fill="#5058b4"/><circle cx="1005.5" cy="1322.0" r="7.4" fill="#616ec4"/><circle cx="1031.6" cy="1322.0" r="7.4" fill="#616ec4"/><circle cx="1057.7" cy="1322.0" r="7.4" fill="#f6a586"/><circle cx="1136.0" cy="1322.0" r="7.4" fill="#f6a586"/><circle cx="1162.1" cy="1322.0" r="7.4" fill="#616ec4"/><circle cx="1188.2" cy="1322.0" r="7.4" fill="#616ec4"/><circle cx="1018.5" cy="1329.6" r="7.4" fill="#7183d2"/><circle cx="1044.6" cy="1329.6" r="7.4" fill="#5058b4"/><circle cx="1149.0" cy="1329.6" r="7.4" fill="#5058b4"/><circle cx="1175.1" cy="1329.6" r="7.4" fill="#7183d2"/><circle cx="1201.2" cy="1329.6" r="7.4" fill="#dadcde"/><circle cx="1066.8" cy="1334.7" r="7.4" fill="#7183d2"/><circle cx="1081.8" cy="1334.7" r="7.4" fill="#bdcdeb"/><circle cx="1111.8" cy="1334.7" r="7.4" fill="#bdcdeb"/><circle cx="1126.8" cy="1334.7" r="7.4" fill="#7183d2"/><circle cx="1018.5" cy="1344.6" r="7.4" fill="#7183d2"/><circle cx="1044.6" cy="1344.6" r="7.4" fill="#bb1b2c"/><circle cx="1149.0" cy="1344.6" r="7.4" fill="#bb1b2c"/><circle cx="1175.1" cy="1344.6" r="7.4" fill="#7183d2"/><circle cx="1201.2" cy="1344.6" r="7.4" fill="#616ec4"/><circle cx="1059.3" cy="1347.7" r="7.4" fill="#616ec4"/><circle cx="1089.3" cy="1347.7" r="7.4" fill="#7183d2"/><circle cx="1104.3" cy="1347.7" r="7.4" fill="#7183d2"/><circle cx="1134.3" cy="1347.7" r="7.4" fill="#616ec4"/><circle cx="1005.5" cy="1352.2" r="7.4" fill="#7183d2"/><circle cx="1031.6" cy="1352.2" r="7.4" fill="#dadcde"/><circle cx="1162.1" cy="1352.2" r="7.4" fill="#dadcde"/><circle cx="1188.2" cy="1352.2" r="7.4" fill="#7183d2"/><circle cx="1066.8" cy="1360.6" r="7.4" fill="#a3b8ea"/><circle cx="1081.8" cy="1360.6" r="7.4" fill="#7183d2"/><circle cx="1111.8" cy="1360.6" r="7.4" fill="#7183d2"/><circle cx="1126.8" cy="1360.6" r="7.4" fill="#a3b8ea"/><circle cx="1005.5" cy="1367.2" r="7.4" fill="#7183d2"/><circle cx="1031.6" cy="1367.2" r="7.4" fill="#bdcdeb"/><circle cx="1162.1" cy="1367.2" r="7.4" fill="#bdcdeb"/><circle cx="1188.2" cy="1367.2" r="7.4" fill="#7183d2"/><circle cx="1059.3" cy="1373.6" r="7.4" fill="#616ec4"/><circle cx="1089.3" cy="1373.6" r="7.4" fill="#7183d2"/><circle cx="1104.3" cy="1373.6" r="7.4" fill="#7183d2"/><circle cx="1134.3" cy="1373.6" r="7.4" fill="#616ec4"/><circle cx="1018.5" cy="1374.9" r="7.4" fill="#7183d2"/><circle cx="1044.6" cy="1374.9" r="7.4" fill="#bb1b2c"/><circle cx="1149.0" cy="1374.9" r="7.4" fill="#bb1b2c"/><circle cx="1175.1" cy="1374.9" r="7.4" fill="#7183d2"/><circle cx="1201.2" cy="1374.9" r="7.4" fill="#616ec4"/><circle cx="1066.8" cy="1386.5" r="7.4" fill="#7183d2"/><circle cx="1081.8" cy="1386.5" r="7.4" fill="#bdcdeb"/><circle cx="1111.8" cy="1386.5" r="7.4" fill="#bdcdeb"/><circle cx="1126.8" cy="1386.5" r="7.4" fill="#7183d2"/><circle cx="1018.5" cy="1389.9" r="7.4" fill="#7183d2"/><circle cx="1044.6" cy="1389.9" r="7.4" fill="#5058b4"/><circle cx="1149.0" cy="1389.9" r="7.4" fill="#5058b4"/><circle cx="1175.1" cy="1389.9" r="7.4" fill="#7183d2"/><circle cx="1201.2" cy="1389.9" r="7.4" fill="#dadcde"/><circle cx="1005.5" cy="1397.6" r="7.4" fill="#616ec4"/><circle cx="1031.6" cy="1397.6" r="7.4" fill="#616ec4"/><circle cx="1057.7" cy="1397.6" r="7.4" fill="#f6a586"/><circle cx="1136.0" cy="1397.6" r="7.4" fill="#f6a586"/><circle cx="1162.1" cy="1397.6" r="7.4" fill="#616ec4"/><circle cx="1188.2" cy="1397.6" r="7.4" fill="#616ec4"/><circle cx="1089.3" cy="1399.5" r="7.4" fill="#5058b4"/><circle cx="1104.3" cy="1399.5" r="7.4" fill="#5058b4"/><circle cx="1005.5" cy="1412.6" r="7.4" fill="#616ec4"/><circle cx="1031.6" cy="1412.6" r="7.4" fill="#899ee1"/><circle cx="1057.7" cy="1412.6" r="7.4" fill="#a3b8ea"/><circle cx="1083.8" cy="1412.6" r="7.4" fill="#dadcde"/><circle cx="1109.8" cy="1412.6" r="7.4" fill="#dadcde"/><circle cx="1136.0" cy="1412.6" r="7.4" fill="#a3b8ea"/><circle cx="1162.1" cy="1412.6" r="7.4" fill="#899ee1"/><circle cx="1188.2" cy="1412.6" r="7.4" fill="#616ec4"/><circle cx="1018.5" cy="1420.2" r="7.4" fill="#5058b4"/><circle cx="1044.6" cy="1420.2" r="7.4" fill="#899ee1"/><circle cx="1070.7" cy="1420.2" r="7.4" fill="#7183d2"/><circle cx="1096.8" cy="1420.2" r="7.4" fill="#5058b4"/><circle cx="1122.9" cy="1420.2" r="7.4" fill="#7183d2"/><circle cx="1149.0" cy="1420.2" r="7.4" fill="#899ee1"/><circle cx="1175.1" cy="1420.2" r="7.4" fill="#5058b4"/><circle cx="1201.2" cy="1420.2" r="7.4" fill="#616ec4"/><circle cx="1018.5" cy="1435.2" r="7.4" fill="#7183d2"/><circle cx="1044.6" cy="1435.2" r="7.4" fill="#7183d2"/><circle cx="1070.7" cy="1435.2" r="7.4" fill="#616ec4"/><circle cx="1096.8" cy="1435.2" r="7.4" fill="#616ec4"/><circle cx="1122.9" cy="1435.2" r="7.4" fill="#616ec4"/><circle cx="1149.0" cy="1435.2" r="7.4" fill="#7183d2"/><circle cx="1175.1" cy="1435.2" r="7.4" fill="#7183d2"/><circle cx="1201.2" cy="1435.2" r="7.4" fill="#899ee1"/><circle cx="1005.5" cy="1442.8" r="7.4" fill="#616ec4"/><circle cx="1031.6" cy="1442.8" r="7.4" fill="#616ec4"/><circle cx="1057.7" cy="1442.8" r="7.4" fill="#616ec4"/><circle cx="1083.8" cy="1442.8" r="7.4" fill="#5058b4"/><circle cx="1109.8" cy="1442.8" r="7.4" fill="#5058b4"/><circle cx="1136.0" cy="1442.8" r="7.4" fill="#616ec4"/><circle cx="1162.1" cy="1442.8" r="7.4" fill="#616ec4"/><circle cx="1188.2" cy="1442.8" r="7.4" fill="#616ec4"/><circle cx="1005.5" cy="1457.8" r="7.4" fill="#616ec4"/><circle cx="1031.6" cy="1457.8" r="7.4" fill="#616ec4"/><circle cx="1057.7" cy="1457.8" r="7.4" fill="#616ec4"/><circle cx="1083.8" cy="1457.8" r="7.4" fill="#5058b4"/><circle cx="1109.8" cy="1457.8" r="7.4" fill="#5058b4"/><circle cx="1136.0" cy="1457.8" r="7.4" fill="#616ec4"/><circle cx="1162.1" cy="1457.8" r="7.4" fill="#616ec4"/><circle cx="1188.2" cy="1457.8" r="7.4" fill="#616ec4"/>
<defs><linearGradient id="cw" x1="0" y1="1" x2="0" y2="0"><stop offset="0.00" stop-color="#4345a4"/><stop offset="0.05" stop-color="#535cb7"/><stop offset="0.10" stop-color="#6372c7"/><stop offset="0.15" stop-color="#7486d4"/><stop offset="0.20" stop-color="#859adf"/><stop offset="0.25" stop-color="#96ace7"/><stop offset="0.30" stop-color="#a7bbeb"/><stop offset="0.35" stop-color="#b7c8ec"/><stop offset="0.40" stop-color="#c6d2e9"/><stop offset="0.45" stop-color="#d3d9e4"/><stop offset="0.50" stop-color="#dfdbd9"/><stop offset="0.55" stop-color="#ebd3c6"/><stop offset="0.60" stop-color="#f3c8b2"/><stop offset="0.65" stop-color="#f7b99e"/><stop offset="0.70" stop-color="#f7a889"/><stop offset="0.75" stop-color="#f39475"/><stop offset="0.80" stop-color="#eb7d62"/><stop offset="0.85" stop-color="#e0654f"/><stop offset="0.90" stop-color="#d1493f"/><stop offset="0.95" stop-color="#c0282f"/><stop offset="1.00" stop-color="#b40426"/></linearGradient></defs>
<rect x="1224" y="817" width="11" height="649.5" fill="url(#cw)" stroke="#000" stroke-width="2.5"/>
<line x1="1235.5" y1="827.4000000000001" x2="1247.2" y2="827.4000000000001" stroke="#000" stroke-width="2.2"/>
<text x="1259.5" y="840.4000000000001" font-size="36" text-anchor="start" font-weight="normal" font-style="normal" fill="#000">1</text>
<line x1="1235.5" y1="1019.3400000000001" x2="1247.2" y2="1019.3400000000001" stroke="#000" stroke-width="2.2"/>
<text x="1259.5" y="1032.3400000000001" font-size="36" text-anchor="start" font-weight="normal" font-style="normal" fill="#000">0.7</text>
<line x1="1235.5" y1="1275.26" x2="1247.2" y2="1275.26" stroke="#000" stroke-width="2.2"/>
<text x="1259.5" y="1288.26" font-size="36" text-anchor="start" font-weight="normal" font-style="normal" fill="#000">0.3</text>
<line x1="1235.5" y1="1467.2" x2="1247.2" y2="1467.2" stroke="#000" stroke-width="2.2"/>
<text x="1259.5" y="1480.2" font-size="36" text-anchor="start" font-weight="normal" font-style="normal" fill="#000">0</text>
<text x="1296" y="1148.2" font-size="36" text-anchor="middle" font-weight="normal" font-style="normal" fill="#000" textLength="131" lengthAdjust="spacingAndGlyphs" transform="rotate(-90 1296 1148.2)">LDOS [-]</text>
<path d="M507.7,1430 L507.7,1504.3 L583,1504.3" fill="none" stroke="#000" stroke-width="3.9"/>
<path d="M494.7,1439.8 Q499.3,1431 507.7,1427.2 Q516.1,1431 520.7,1439.8" fill="none" stroke="#000" stroke-width="3.7" stroke-linecap="round" stroke-linejoin="round"/>
<path d="M573.2,1491.4 Q582,1496 585.8,1504.3 Q582,1512.6 573.2,1517.2" fill="none" stroke="#000" stroke-width="3.7" stroke-linecap="round" stroke-linejoin="round"/>
<text x="508" y="1400.9" font-size="46" text-anchor="middle" font-weight="normal" font-style="italic" fill="#000">y</text>
<text x="612.4" y="1521.8" font-size="46" text-anchor="middle" font-weight="normal" font-style="italic" fill="#000">x</text></svg>
</body></html>
